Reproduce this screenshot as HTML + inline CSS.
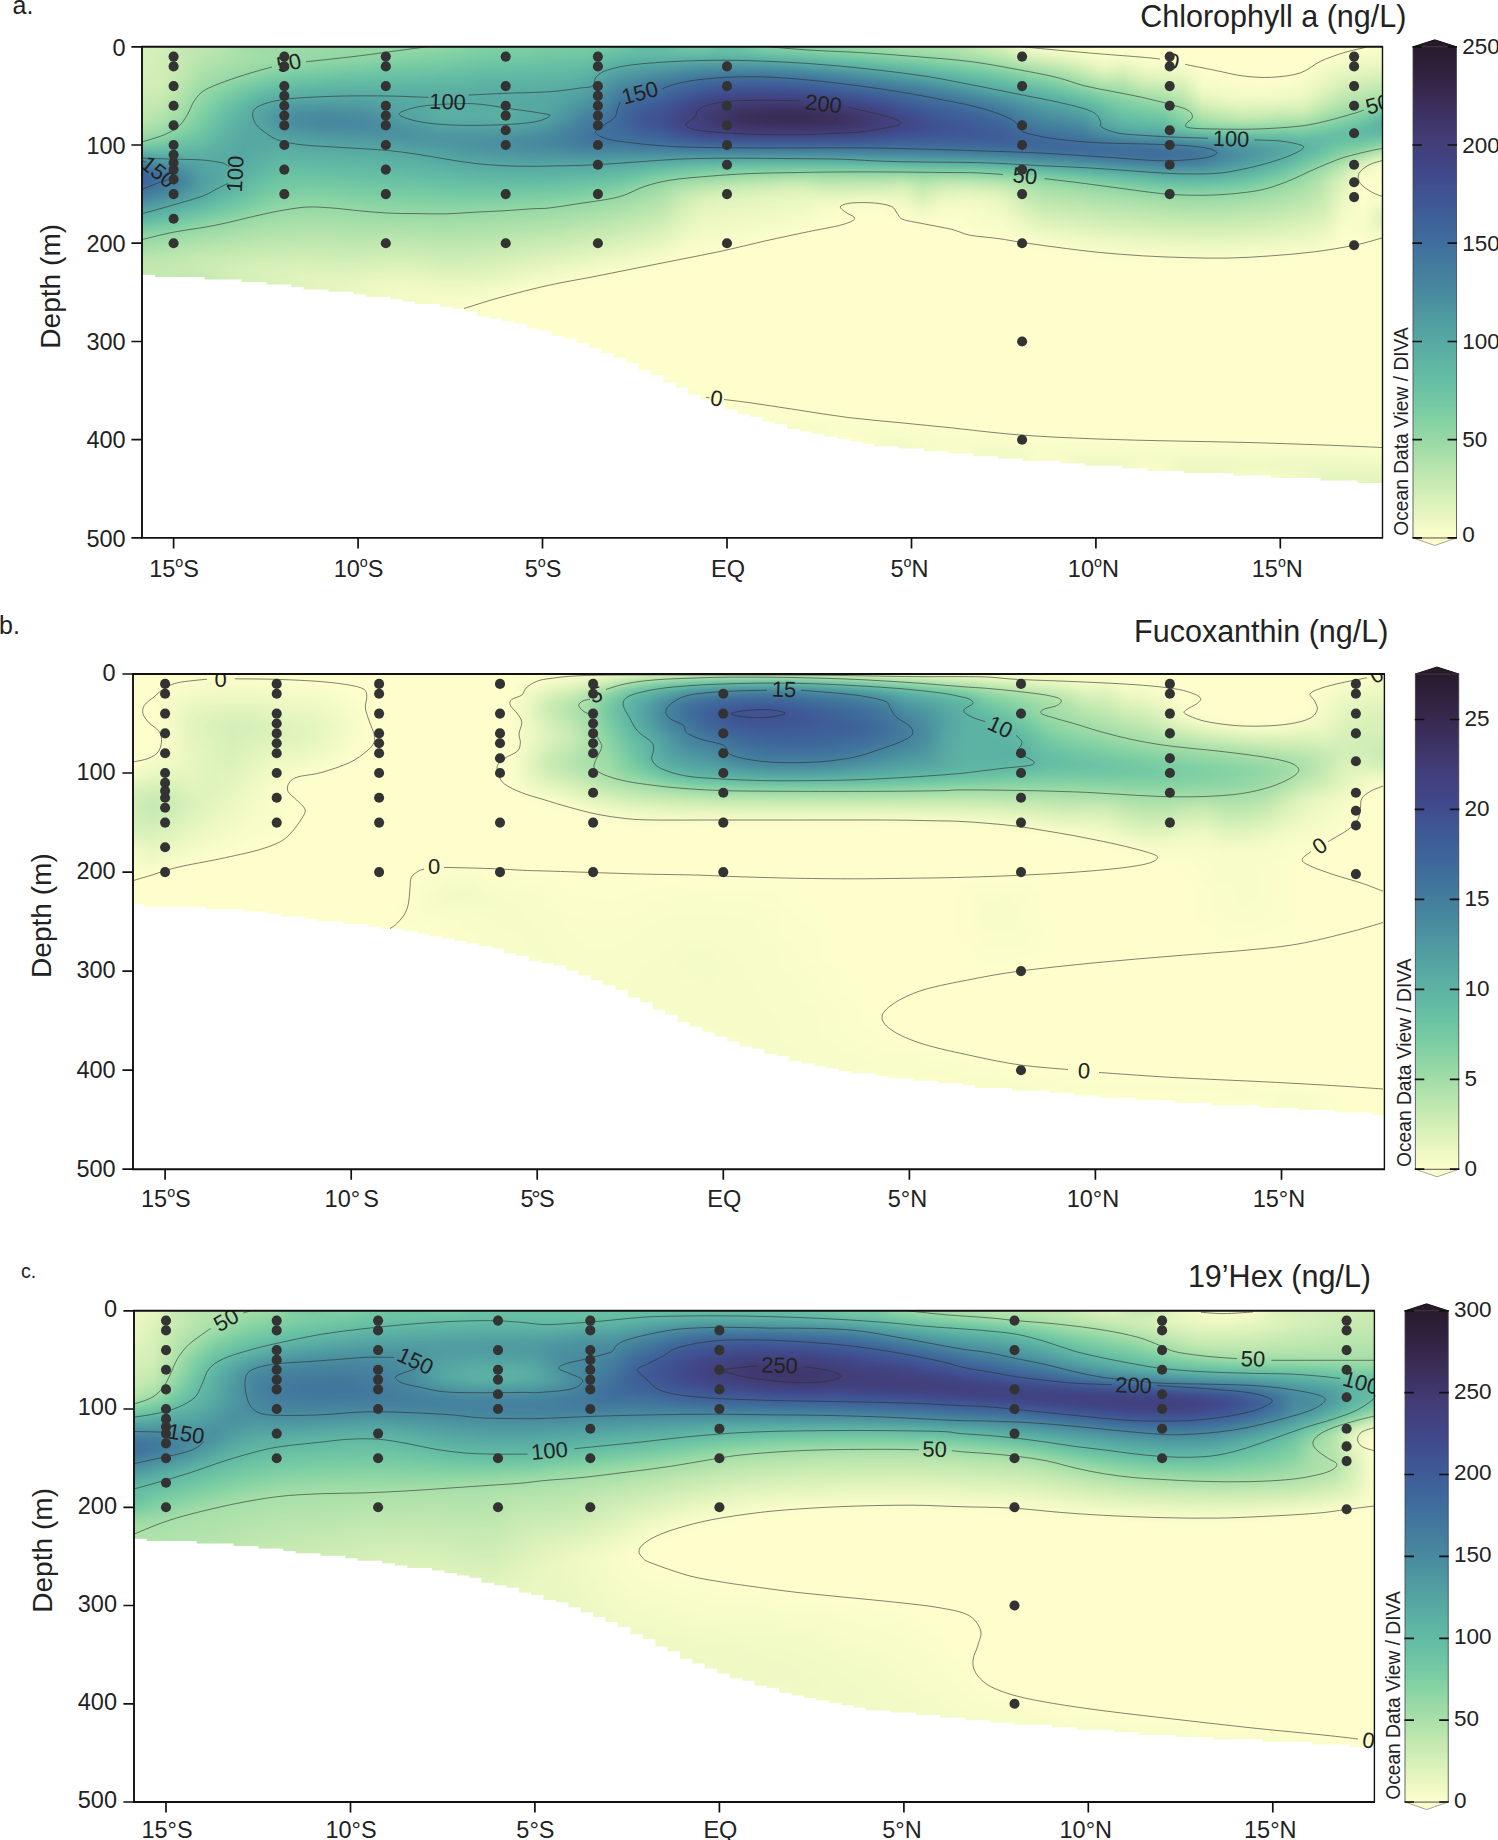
<!DOCTYPE html><html><head><meta charset="utf-8"><title>Section plots</title><style>
html,body{margin:0;padding:0;background:#fff}body{width:1498px;height:1840px;position:relative;overflow:hidden;font-family:"Liberation Sans", sans-serif}
.f{position:absolute;overflow:hidden}.g{position:absolute;left:0;filter:url(#vb)}.g div{height:6px}
svg{position:absolute;left:0;top:0}text{font-family:"Liberation Sans", sans-serif;fill:#222}
.c{fill:none;stroke:#2e2e2e;stroke-width:.6}.ax{stroke:#111;stroke-width:1.7;fill:none}.cl{font-size:22px;text-anchor:middle}.tk{font-size:23.5px}.cbt{font-size:22.5px}.d{fill:#333}
</style></head><body>
<div class="f" style="left:142.0px;top:46.8px;width:1240.5px;height:491.1px;clip-path:polygon(0.0px 0.0px,1240.5px 0.0px,1240.5px 436.1px,1228.1px 436.1px,1228.1px 436.1px,1215.7px 436.1px,1215.7px 433.7px,1203.3px 433.7px,1203.3px 433.7px,1190.9px 433.7px,1190.9px 433.7px,1178.5px 433.7px,1178.5px 431.2px,1166.1px 431.2px,1166.1px 431.2px,1153.7px 431.2px,1153.7px 431.2px,1141.3px 431.2px,1141.3px 431.2px,1128.9px 431.2px,1128.9px 428.8px,1116.5px 428.8px,1116.5px 428.8px,1104.1px 428.8px,1104.1px 428.8px,1091.7px 428.8px,1091.7px 426.3px,1079.3px 426.3px,1079.3px 426.3px,1066.9px 426.3px,1066.9px 426.3px,1054.5px 426.3px,1054.5px 426.3px,1042.1px 426.3px,1042.1px 423.9px,1029.7px 423.9px,1029.7px 423.9px,1017.3px 423.9px,1017.3px 423.9px,1004.9px 423.9px,1004.9px 421.4px,992.5px 421.4px,992.5px 421.4px,980.1px 421.4px,980.1px 419.0px,967.7px 419.0px,967.7px 419.0px,955.3px 419.0px,955.3px 419.0px,942.9px 419.0px,942.9px 416.5px,930.5px 416.5px,930.5px 416.5px,918.1px 416.5px,918.1px 414.1px,905.7px 414.1px,905.7px 414.1px,893.3px 414.1px,893.3px 414.1px,880.9px 414.1px,880.9px 411.6px,868.5px 411.6px,868.5px 411.6px,856.1px 411.6px,856.1px 409.2px,843.7px 409.2px,843.7px 409.2px,831.3px 409.2px,831.3px 406.7px,818.9px 406.7px,818.9px 406.7px,806.5px 406.7px,806.5px 404.3px,794.1px 404.3px,794.1px 404.3px,781.7px 404.3px,781.7px 401.8px,769.3px 401.8px,769.3px 401.8px,756.9px 401.8px,756.9px 399.4px,744.5px 399.4px,744.5px 399.4px,732.1px 399.4px,732.1px 396.9px,719.7px 396.9px,719.7px 394.5px,707.3px 394.5px,707.3px 392.0px,694.9px 392.0px,694.9px 389.6px,682.5px 389.6px,682.5px 387.1px,670.1px 387.1px,670.1px 384.7px,657.7px 384.7px,657.7px 382.2px,645.3px 382.2px,645.3px 377.3px,632.9px 377.3px,632.9px 374.9px,620.5px 374.9px,620.5px 370.0px,608.1px 370.0px,608.1px 367.5px,595.7px 367.5px,595.7px 362.6px,583.3px 362.6px,583.3px 357.7px,570.9px 357.7px,570.9px 352.8px,558.5px 352.8px,558.5px 347.9px,546.1px 347.9px,546.1px 340.6px,533.7px 340.6px,533.7px 335.7px,521.3px 335.7px,521.3px 328.3px,508.9px 328.3px,508.9px 323.4px,496.5px 323.4px,496.5px 316.1px,484.1px 316.1px,484.1px 311.2px,471.7px 311.2px,471.7px 306.2px,459.3px 306.2px,459.3px 301.4px,446.9px 301.4px,446.9px 296.5px,434.5px 296.5px,434.5px 291.6px,422.1px 291.6px,422.1px 289.1px,409.7px 289.1px,409.7px 284.2px,397.3px 284.2px,397.3px 281.8px,384.9px 281.8px,384.9px 276.9px,372.5px 276.9px,372.5px 274.4px,360.1px 274.4px,360.1px 272.0px,347.7px 272.0px,347.7px 269.5px,335.3px 269.5px,335.3px 264.6px,322.9px 264.6px,322.9px 262.2px,310.5px 262.2px,310.5px 259.7px,298.1px 259.7px,298.1px 257.2px,285.7px 257.2px,285.7px 257.2px,273.3px 257.2px,273.3px 254.8px,260.9px 254.8px,260.9px 252.4px,248.5px 252.4px,248.5px 249.9px,236.1px 249.9px,236.1px 249.9px,223.7px 249.9px,223.7px 247.4px,211.3px 247.4px,211.3px 245.0px,198.9px 245.0px,198.9px 245.0px,186.5px 245.0px,186.5px 242.6px,174.1px 242.6px,174.1px 242.6px,161.7px 242.6px,161.7px 240.1px,149.3px 240.1px,149.3px 237.6px,136.9px 237.6px,136.9px 237.6px,124.5px 237.6px,124.5px 235.2px,112.1px 235.2px,112.1px 235.2px,99.7px 235.2px,99.7px 232.8px,87.3px 232.8px,87.3px 232.8px,74.9px 232.8px,74.9px 232.8px,62.5px 232.8px,62.5px 230.3px,50.1px 230.3px,50.1px 230.3px,37.7px 230.3px,37.7px 230.3px,25.3px 230.3px,25.3px 230.3px,12.9px 230.3px,12.9px 227.9px,0.5px 227.9px,0.5px 227.9px,0.0px 227.9px)">
<div class="g" style="top:-18px;width:1240.5px">
<div style="background:linear-gradient(90deg,#d8f0b9,#d7f0b9,#bbe6ae,#bbe6ae,#bae6ae,#9adaa6,#96d9a5,#9fdca7,#a1dca7,#9adaa6,#98d9a5,#98d9a6,#98d9a6,#99d9a6,#99daa6,#99daa6,#91d7a5,#84d1a4,#84d2a4,#84d2a4,#7fd0a3,#79cca3,#79cca3,#7acda3,#68c0a4,#56a9a3,#56a9a3,#6cc3a4,#82d1a3,#5fb5a4,#62baa4,#9ddba6,#9cdba6,#9bdaa6,#9bdaa6,#9adaa6,#9adaa6,#9edba6,#afe2ab,#9cdba6,#99d9a6,#99d9a6,#cdecb5,#e1f4bc,#fdfecc,#fdfecc,#fdfecc,#fdfecc,#fdfecc,#fdfecc,#fdfecc,#fdfecc,#fdfecc,#fdfecc,#fdfecc,#fdfecc,#fdfecc,#fdfecc,#fdfecc,#fdfecc,#fdfecc,#fdfecc,#fafdca)"></div>
<div style="background:linear-gradient(90deg,#d8f0b9,#d6f0b8,#bde7af,#bbe6ae,#bae5ae,#9cdba6,#99d9a6,#9fdca7,#a0dca7,#9adaa6,#98d9a6,#98d9a6,#98d9a6,#98d9a5,#97d9a5,#96d9a5,#8fd6a5,#83d1a4,#83d1a4,#82d1a3,#7dcfa3,#79cca3,#79cca3,#79cca3,#6ac2a4,#5bb0a3,#5bb0a3,#6ec5a4,#7ecfa3,#62baa4,#65bea4,#95d8a5,#97d9a5,#98d9a6,#99d9a6,#99daa6,#9bdaa6,#9fdca7,#afe1ab,#a1dca7,#a0dca7,#a3dda8,#ccecb4,#def3bc,#fbfdcb,#fdfecc,#fdfecc,#fdfecc,#fdfecc,#fdfecc,#fdfecc,#fdfecc,#fdfecc,#fdfecc,#fdfecc,#fdfecc,#fdfecc,#fdfecc,#fdfecc,#fdfecc,#fdfecc,#fdfecc,#f9fcca)"></div>
<div style="background:linear-gradient(90deg,#d8f0b9,#d5efb8,#bfe7af,#bce6af,#b9e5ae,#9fdca7,#9bdaa6,#9fdca7,#9fdca7,#9adaa6,#98d9a6,#98d9a6,#97d9a5,#96d8a5,#95d8a5,#93d7a5,#8cd5a4,#83d1a4,#81d0a3,#80d0a3,#7ccea3,#79cca3,#79cca3,#78cba3,#6dc3a4,#61b8a4,#61b8a4,#70c6a4,#7acda3,#66bea4,#6ac2a4,#8cd5a4,#90d6a5,#93d7a5,#96d8a5,#98d9a6,#9bdaa6,#a0dca7,#ade1aa,#a6dea8,#a9dfa9,#ade1aa,#cbecb4,#dbf1ba,#f6fbc8,#fafdca,#fbfdcb,#fcfecc,#fdfecc,#fdfecc,#fdfecc,#fdfecc,#fdfecc,#fdfecc,#fdfecc,#fdfecc,#fdfecc,#fdfecc,#fdfecc,#fdfecc,#fdfecc,#fcfecb,#f8fcc9)"></div>
<div style="background:linear-gradient(90deg,#d7f0b9,#d3eeb7,#c2e9b1,#bce6af,#b7e4ad,#a5dea8,#a0dca7,#9fdca7,#9edba6,#9adaa6,#98d9a5,#97d9a5,#95d8a5,#92d7a5,#8fd6a5,#8cd4a4,#85d2a4,#7ed0a3,#7ccea3,#7bcda3,#79cca3,#77cba3,#76caa3,#72c7a3,#6bc2a4,#65bda4,#65bea4,#6cc3a4,#6fc5a4,#67c0a4,#6bc2a4,#79cca3,#7dcfa3,#83d1a4,#89d4a4,#8ed5a5,#93d7a5,#9adaa6,#a3dda8,#a5dea8,#ace0aa,#b2e3ac,#c3e9b1,#d1eeb6,#ebf7c2,#f1fac6,#f6fbc8,#f9fdca,#fcfecc,#fcfecc,#fdfecc,#fdfecc,#fdfecc,#fdfecc,#fdfecc,#fdfecc,#fdfecc,#fdfecc,#fdfecc,#fdfecc,#fcfecb,#fafdca,#f6fbc8)"></div>
<div style="background:linear-gradient(90deg,#d7f0b9,#d1eeb6,#c5e9b1,#bae5ae,#b2e3ac,#a8dfa9,#a2dda7,#9ddba6,#9adaa6,#97d9a5,#94d7a5,#91d6a5,#8dd5a4,#89d4a4,#85d2a4,#81d1a3,#7ccea3,#78cca3,#76caa3,#75c9a3,#73c8a3,#71c7a3,#70c6a4,#69c1a4,#63bba4,#61b9a4,#61b8a4,#61b8a4,#60b7a4,#5fb6a4,#61b8a4,#63bca4,#67bfa4,#6cc3a4,#72c7a3,#77cba3,#7ccfa3,#85d2a4,#8ed5a5,#95d8a5,#9edba6,#a7dfa9,#b2e3ac,#c0e8b0,#d7f0b9,#e2f4bd,#eaf7c1,#f2fac6,#f9fdca,#f8fcc9,#fbfdcb,#fdfecc,#fdfecc,#fdfecc,#fdfecc,#fdfecc,#fdfecc,#fdfecc,#fdfecc,#fdfecc,#f8fcc9,#f5fbc8,#f3fac7)"></div>
<div style="background:linear-gradient(90deg,#d7f0b9,#d0eeb6,#c5e9b2,#b5e4ad,#ade1aa,#a5dea8,#9edba6,#97d9a5,#92d7a5,#8ed5a5,#8ad4a4,#86d2a4,#81d0a3,#7dcfa3,#7acda3,#78cca3,#75c9a3,#71c7a3,#6fc5a4,#6ec4a4,#6cc3a4,#6ac2a4,#68c0a4,#61b9a4,#5cb1a3,#59aea3,#58aca3,#56a9a3,#55a6a3,#54a5a2,#54a5a3,#55a8a3,#58aba3,#5bafa3,#5eb5a4,#62baa4,#66bfa4,#6ec4a4,#75c9a3,#7bcea3,#86d2a4,#90d6a5,#9bdaa6,#aae0aa,#bfe7b0,#ccecb4,#d7f0b9,#e5f5bf,#f3fac7,#eef9c4,#f6fcc8,#f9fdca,#fbfdcb,#fdfecc,#fdfecc,#fdfecc,#fdfecc,#fdfecc,#fdfecc,#fafdca,#f3fac6,#eff9c4,#eef9c4)"></div>
<div style="background:linear-gradient(90deg,#d6f0b8,#d0eeb6,#c4e9b1,#b0e2ab,#a6dea9,#9fdca7,#96d8a5,#8cd5a4,#86d2a4,#80d0a3,#7ccea3,#79cca3,#76caa3,#74c9a3,#72c7a3,#70c6a4,#6dc4a4,#6ac1a4,#68c0a4,#67bfa4,#65bea4,#64bda4,#63bba4,#5bb1a3,#55a8a3,#53a1a2,#519da1,#4e97a1,#4c92a0,#4b90a0,#4a8fa0,#4b90a0,#4c94a0,#4e98a1,#519fa2,#55a6a3,#58aca3,#5db3a3,#62b9a4,#67bfa4,#70c6a4,#78cca3,#83d1a4,#92d7a5,#a4dea8,#b4e3ac,#c2e8b0,#d4efb8,#e9f6c1,#e1f4bd,#eff9c4,#f2fac6,#f5fbc7,#fdfecc,#fdfecc,#fdfecc,#fdfecc,#fdfecc,#fdfecc,#f5fbc8,#ecf8c2,#e8f6c0,#e7f6c0)"></div>
<div style="background:linear-gradient(90deg,#d5efb8,#d1eeb6,#c2e8b0,#aae0aa,#a0dca7,#96d8a5,#89d4a4,#7dcfa3,#78cca3,#75c9a3,#72c7a3,#6fc5a4,#6dc4a4,#6bc2a4,#6ac1a4,#68c0a4,#66bea4,#64bca4,#63bba4,#62baa4,#61b9a4,#60b8a4,#5eb5a4,#56a9a3,#509da1,#4d95a0,#4a8ea0,#46869e,#44809e,#437c9d,#437b9d,#437b9d,#447e9e,#45829e,#47889f,#4a8fa0,#4e97a1,#529fa2,#56a8a3,#5aafa3,#60b7a4,#66bfa4,#70c6a4,#7acda3,#89d4a4,#9adaa6,#abe0aa,#c2e8b0,#d8f0b9,#d1eeb6,#e5f5be,#e9f7c1,#ecf8c2,#fafdcb,#fcfecc,#fdfecc,#fdfecc,#fdfecc,#fbfdcb,#f0f9c5,#e5f5be,#e0f3bc,#ddf2bb)"></div>
<div style="background:linear-gradient(90deg,#d3efb7,#d0eeb6,#bee7af,#a5dea8,#98d9a6,#8ad4a4,#7acda3,#72c7a3,#6dc4a4,#69c1a4,#67bfa4,#65bea4,#64bda4,#64bca4,#63bba4,#62baa4,#61b9a4,#60b6a4,#5fb5a4,#5eb5a4,#5eb4a4,#5db2a3,#5aafa3,#53a1a2,#4b92a0,#48899f,#45819e,#42779d,#40709c,#3f6c9c,#3e699b,#3f699b,#3f6c9c,#406f9c,#41759d,#437c9d,#46839e,#488b9f,#4d94a0,#519da1,#55a8a3,#5bb0a3,#61b9a4,#69c1a4,#74c9a3,#81d0a3,#93d7a5,#abe0aa,#c2e9b1,#c1e8b0,#d7f0b9,#dcf2bb,#e1f4bd,#f8fcc9,#fafdca,#fbfdcb,#fcfdcb,#fbfdcb,#f8fcc9,#ebf7c2,#ddf2bb,#d7f0b9,#d1eeb6)"></div>
<div style="background:linear-gradient(90deg,#d1eeb6,#cfedb5,#b9e5ae,#9fdca7,#8ed6a5,#7ccea3,#6fc5a4,#66bfa4,#63bba4,#61b9a4,#60b7a4,#60b6a4,#5fb6a4,#5fb5a4,#5fb5a4,#5eb4a4,#5db3a3,#5cb1a3,#5bb0a3,#5bb0a3,#5aafa3,#59ada3,#56a9a3,#4f9aa1,#47879f,#447e9e,#41759d,#3f6a9b,#3e6299,#3f5d98,#3f5b97,#3f5b97,#3f5c97,#3e5f98,#3e649a,#3f6a9b,#40729c,#42799d,#45829e,#488b9f,#4d96a0,#52a1a2,#58aba3,#5eb4a4,#64bda4,#6fc5a4,#7bcea3,#93d7a5,#a8dfa9,#afe1ab,#c6eab2,#cdecb5,#d6efb8,#f4fbc7,#f7fcc9,#f9fcca,#f9fdca,#f8fcc9,#f4fbc7,#e6f5bf,#d4efb8,#ccecb4,#c6eab2)"></div>
<div style="background:linear-gradient(90deg,#ceedb5,#ccecb4,#b4e3ac,#98d9a6,#83d1a4,#72c7a3,#64bda4,#5fb6a4,#5db2a3,#5bb0a3,#5aafa3,#5aafa3,#5aafa3,#5bafa3,#5bb0a3,#5aafa3,#5aaea3,#59ada3,#58aca3,#58aca3,#58aba3,#56a9a3,#53a3a2,#4c93a0,#447e9e,#41749c,#3f6b9b,#3e6099,#3f5795,#405090,#404d8e,#404d8d,#404e8e,#405090,#3f5695,#3f5b97,#3e6299,#3f6a9b,#40729c,#437b9d,#46849e,#4a8fa0,#509ba1,#55a7a3,#5bb0a3,#61b9a4,#6bc2a4,#7acda3,#8fd6a5,#9cdba6,#b1e2ac,#bbe6ae,#c9ebb3,#eef9c4,#f3fac7,#f6fbc8,#f6fbc8,#f4fbc7,#f0f9c5,#dff3bc,#caebb4,#c0e8b0,#b7e4ad)"></div>
<div style="background:linear-gradient(90deg,#c9ebb3,#c7eab2,#aee1ab,#91d7a5,#79cca3,#69c1a4,#5eb4a4,#58aca3,#56a9a3,#55a7a3,#55a6a3,#55a7a3,#56a8a3,#58aba3,#58aca3,#58aca3,#58aca3,#57aba3,#57aaa3,#57aaa3,#56a9a3,#54a5a2,#509ca1,#498d9f,#41769d,#3f6b9b,#3e6299,#3f5795,#404b8c,#414586,#414382,#414281,#414281,#414483,#414789,#404d8e,#3f5594,#3f5d97,#3e659a,#3f6e9c,#41769d,#447f9e,#488a9f,#4e97a1,#53a3a2,#59ada3,#5fb6a4,#69c1a4,#79cca3,#8bd4a4,#9bdaa6,#a8dfa9,#bce6af,#e5f5bf,#ecf8c3,#f0f9c5,#f0f9c5,#eef8c3,#eaf7c1,#d5efb8,#bee7af,#b3e3ac,#a6dea9)"></div>
<div style="background:linear-gradient(90deg,#c6eab2,#c1e8b0,#a8dfa9,#8ad4a4,#72c8a3,#63bba4,#58aca3,#53a2a2,#519ea2,#509ca1,#509ca1,#519ea2,#53a2a2,#56a9a3,#57aaa3,#58aca3,#59ada3,#58aba3,#58aca3,#56a9a3,#56a9a3,#52a1a2,#4d95a0,#47869f,#406f9c,#3e639a,#3f5a96,#404f8f,#414483,#423f7a,#413b74,#413a71,#413a71,#413b73,#423f7a,#414281,#414789,#405090,#3f5a96,#3e639a,#3f6a9b,#40729c,#437c9d,#47889f,#4d96a1,#53a2a2,#57aaa3,#5eb4a4,#6ac2a4,#7ccea3,#87d3a4,#94d8a5,#ace0aa,#d6f0b8,#e1f4bd,#e7f6c0,#e6f5bf,#e3f4be,#e1f4bd,#c8ebb3,#b2e2ac,#a4dda8,#93d7a5)"></div>
<div style="background:linear-gradient(90deg,#c4e9b1,#bae5ae,#a2dda7,#83d1a4,#6dc4a4,#5fb6a4,#55a6a3,#4e98a1,#4c94a0,#4b91a0,#4c92a0,#4d95a0,#509ba1,#55a7a3,#56a9a3,#5aafa3,#5aafa3,#59ada3,#5aafa3,#57aaa3,#56a8a3,#509da1,#4a8ea0,#44809e,#3f6a9b,#3f5c97,#3f5392,#41488a,#423f7b,#40396f,#3e3364,#3d3161,#3c305e,#3d3160,#3e3568,#403970,#42407c,#414587,#405090,#3f5a97,#3e6299,#3e689b,#40709c,#437c9d,#488a9f,#4e97a1,#519fa2,#56a9a3,#61b9a4,#71c7a3,#78cca3,#81d1a3,#9cdba6,#c5eab2,#d1eeb6,#daf1ba,#d7f0b9,#d3efb7,#d4efb7,#bae5ae,#a4dda8,#92d7a5,#7acda3)"></div>
<div style="background:linear-gradient(90deg,#c1e8b0,#b2e3ac,#9cdaa6,#7dcfa3,#68c0a4,#5cb1a3,#53a2a2,#4b91a0,#498c9f,#48899f,#488a9f,#4a8e9f,#4d94a0,#53a3a2,#56a8a3,#5aafa3,#5aafa3,#59ada3,#5cb1a3,#57aaa3,#55a6a3,#4e97a1,#47879f,#427a9d,#3e689b,#3f5896,#404f8f,#414485,#423d77,#3f3568,#3b2e5b,#3a2c57,#382b53,#392b54,#3b2e5a,#3d3161,#40396f,#42407d,#414789,#3f5392,#3f5b97,#3e6199,#3e679b,#40719c,#45819e,#498d9f,#4d94a0,#509da1,#5cb1a3,#67c0a4,#6dc4a4,#74c9a3,#8fd6a5,#b3e3ac,#c0e7b0,#c9ebb3,#c6eab2,#c1e8b0,#c1e8b0,#a8dfa9,#93d7a5,#7dcfa3,#66bea4)"></div>
<div style="background:linear-gradient(90deg,#bae6ae,#aae0aa,#94d7a5,#78cca3,#64bda4,#5aaea3,#53a2a2,#4b91a0,#488b9f,#47889f,#47879f,#48899f,#4a8ea0,#4f9ba1,#53a3a2,#57aaa3,#57aba3,#56a9a3,#59ada3,#55a6a3,#52a1a2,#4b91a0,#45819e,#41749c,#3e689b,#3f5896,#405090,#414484,#423d77,#3f366a,#3c305e,#3b2d59,#392c56,#392c56,#3b2e5a,#3c305f,#3f366a,#423e79,#414485,#404d8e,#3f5594,#3f5b97,#3e6199,#3e699b,#42789d,#46849e,#488a9f,#4b92a0,#56a9a3,#60b7a4,#63bca4,#68c0a4,#80d0a3,#9fdca6,#aae0aa,#b2e3ac,#afe2ab,#a9dfa9,#a7dfa9,#93d7a5,#7dcfa3,#6dc4a4,#5db3a3)"></div>
<div style="background:linear-gradient(90deg,#aee1ab,#a1dca7,#89d4a4,#73c8a3,#62b9a4,#58aca3,#54a5a2,#4e96a1,#4b90a0,#498c9f,#488b9f,#488b9f,#498d9f,#4c93a0,#4f9aa1,#52a1a2,#53a2a2,#53a2a2,#53a3a2,#519ea2,#4e98a1,#488a9f,#437c9d,#40719c,#3e699b,#3f5c97,#3f5594,#414889,#42407d,#423c75,#40376c,#3f3568,#3e3466,#3e3466,#3f3568,#3f376c,#413b74,#42417e,#414688,#404c8d,#3f5392,#3f5795,#3f5c97,#3e6299,#40709c,#427a9d,#45809e,#47879f,#519ea2,#59ada3,#5cb2a3,#5fb6a4,#70c6a4,#82d1a3,#8bd4a4,#90d6a5,#8fd6a5,#8bd4a4,#89d4a4,#7bcda3,#6ec4a4,#63bba4,#5cb1a3)"></div>
<div style="background:linear-gradient(90deg,#a0dca7,#94d8a5,#7ccfa3,#6dc4a4,#5fb6a4,#57aaa3,#55a7a3,#519ea2,#4f99a1,#4d95a0,#4c93a0,#4b92a0,#4b91a0,#4b91a0,#4c94a0,#4e98a1,#4e98a1,#4e98a1,#4e97a1,#4c94a0,#4a8ea0,#46859e,#42789d,#40709c,#3f6c9c,#3e639a,#3f5d98,#405191,#414789,#414484,#42417f,#42407d,#42407c,#42407c,#42417e,#414280,#414484,#41488a,#404f8f,#3f5392,#3f5695,#3f5896,#3f5a96,#3f5e98,#3e689b,#40719c,#41769d,#437c9d,#498d9f,#509ca1,#53a2a2,#55a6a3,#5db3a3,#64bca4,#6ac1a4,#6dc4a4,#6fc5a4,#6fc5a4,#71c6a4,#6bc2a4,#65bea4,#62baa4,#62baa4)"></div>
<div style="background:linear-gradient(90deg,#8fd6a5,#81d0a3,#72c7a3,#67bfa4,#5db2a3,#56aaa3,#56a9a3,#55a6a3,#53a1a2,#519ea2,#509ca1,#509ba1,#4f99a1,#4e96a1,#4d95a0,#4d94a0,#4c93a0,#4b92a0,#4b90a0,#498c9f,#47889f,#45829e,#42799d,#41739c,#40729c,#3f6b9b,#3e679b,#3f5e98,#3f5896,#3f5494,#405291,#405090,#404f90,#404f90,#405191,#3f5292,#3f5494,#3f5896,#3f5b97,#3f5d97,#3f5e98,#3f5e98,#3f5d98,#3f5e98,#3e639a,#3e689b,#3f6d9c,#40729c,#437b9d,#46849e,#48899f,#4a8ea0,#4e97a1,#529fa2,#56aaa3,#5aaea3,#5cb1a3,#5eb4a4,#62baa4,#63bba4,#67bfa4,#69c1a4,#74c8a3)"></div>
<div style="background:linear-gradient(90deg,#77cba3,#70c6a4,#66bfa4,#62baa4,#5aafa3,#56a9a3,#57aaa3,#58aca3,#56a9a3,#55a7a3,#54a5a2,#54a3a2,#53a2a2,#519fa2,#509ba1,#4e98a1,#4d95a0,#4c92a0,#4a8fa0,#498c9f,#48899f,#46859e,#447f9e,#437c9d,#437c9d,#42779d,#41759d,#40709c,#3f6c9c,#3f6a9b,#3e699b,#3e689b,#3e679b,#3e679b,#3e689b,#3e689b,#3e699b,#3f6a9b,#3f6b9b,#3f6b9b,#3f6a9b,#3e699b,#3e679b,#3e669b,#3e669b,#3e679b,#3e689b,#3f6a9b,#406e9c,#40729c,#41759d,#42789d,#437c9d,#46839e,#4c92a0,#4f9aa1,#53a2a2,#56a9a3,#5db2a3,#63bca4,#72c7a3,#7acda3,#92d7a5)"></div>
<div style="background:linear-gradient(90deg,#60b7a4,#61b8a4,#5fb5a4,#5db3a3,#59ada3,#56a9a3,#58aca3,#5bb0a3,#5aafa3,#59ada3,#58aca3,#57aba3,#56aaa3,#55a7a3,#53a3a2,#529fa2,#509ba1,#4e98a1,#4d95a0,#4c92a0,#4b90a0,#4a8d9f,#488a9f,#48899f,#48899f,#47889f,#47879f,#46869e,#46859e,#46859e,#46849e,#46839e,#46839e,#45839e,#45839e,#45829e,#45819e,#447f9e,#447f9e,#447d9e,#437c9d,#437a9d,#42789d,#41769d,#41739c,#40709c,#406e9c,#3f6d9c,#3f6c9c,#3f6c9c,#3f6c9c,#3f6d9c,#40709c,#41769d,#47869f,#4b91a0,#509ba1,#55a6a3,#5eb4a4,#6bc2a4,#81d1a3,#98d9a6,#bae6ae)"></div>
<div style="background:linear-gradient(90deg,#4f9ba1,#55a6a3,#57aba3,#59ada3,#57aba3,#57aaa3,#5aafa3,#5fb5a4,#5eb4a4,#5db3a3,#5cb2a3,#5bb1a3,#5aafa3,#59ada3,#57aba3,#55a7a3,#53a3a2,#52a0a2,#519da2,#509ba1,#4f9aa1,#4f99a1,#4e97a1,#4e98a1,#4f9aa1,#4f9ba1,#509da1,#519fa2,#52a0a2,#53a2a2,#53a2a2,#53a2a2,#53a2a2,#53a1a2,#52a1a2,#52a0a2,#519da1,#4f9ba1,#4f99a1,#4e97a1,#4d95a0,#4c93a0,#4b91a0,#498d9f,#48899f,#46849e,#45809e,#437c9d,#42789d,#41759d,#40729c,#40719c,#41739c,#42789d,#47879f,#4d94a0,#52a0a2,#58aca3,#63bca4,#79cca3,#98d9a6,#bce6ae,#e0f3bc)"></div>
<div style="background:linear-gradient(90deg,#437c9d,#4a8fa0,#519ea2,#55a7a3,#56aaa3,#58aba3,#5db3a3,#62baa4,#61b9a4,#61b8a4,#60b7a4,#5fb6a4,#5eb4a4,#5db3a3,#5bb1a3,#59aea3,#57aba3,#56a8a3,#55a6a3,#54a5a2,#54a4a2,#54a4a2,#54a4a2,#55a6a3,#56a9a3,#58aca3,#5bb0a3,#5eb4a4,#60b6a4,#61b9a4,#62baa4,#63bba4,#63bba4,#63bba4,#63bba4,#62baa4,#61b8a4,#5fb6a4,#5eb5a4,#5db3a3,#5cb2a3,#5cb1a3,#5aaea3,#57aba3,#54a5a3,#529fa2,#4f9aa1,#4d95a0,#4a8fa0,#48899f,#46849e,#45819e,#45819e,#46859e,#4c92a0,#519ea2,#57aaa3,#5fb6a4,#71c6a4,#8dd5a4,#b0e2ab,#daf1ba,#f5fbc8)"></div>
<div style="background:linear-gradient(90deg,#3e669b,#437b9d,#4b91a0,#53a3a2,#56a9a3,#5aaea3,#60b7a4,#65bea4,#65bea4,#64bda4,#64bca4,#63bba4,#62baa4,#61b8a4,#5fb6a4,#5eb4a4,#5cb1a3,#5aafa3,#59aea3,#59ada3,#59ada3,#5aaea3,#5aafa3,#5cb1a3,#5eb4a4,#62baa4,#67c0a4,#6ec4a4,#72c8a3,#76caa3,#79cca3,#7bcea3,#7dcfa3,#7ecfa3,#7dcfa3,#7dcfa3,#7bcea3,#7acda3,#7acda3,#77cba3,#77caa3,#75caa3,#72c8a3,#6dc4a4,#66bfa4,#61b9a4,#5eb4a4,#5aafa3,#56a9a3,#53a3a2,#509da1,#4e98a1,#4e97a1,#4f99a1,#53a2a2,#58aca3,#5fb5a4,#6ac2a4,#80d0a3,#a1dca7,#c4e9b1,#eef8c4,#fdfecc)"></div>
<div style="background:linear-gradient(90deg,#3e5f98,#40719c,#47889f,#529fa2,#56aaa3,#5db2a3,#63bca4,#6bc2a4,#6bc3a4,#6bc2a4,#69c1a4,#67c0a4,#66bfa4,#64bda4,#63bba4,#62b9a4,#60b7a4,#5fb6a4,#5eb5a4,#5eb5a4,#5fb5a4,#5fb6a4,#61b8a4,#62baa4,#66bea4,#70c6a4,#7acda3,#84d2a4,#8cd5a4,#93d7a5,#99daa6,#9ddba6,#a1dca7,#a3dda8,#9fdca7,#9fdca6,#9edba6,#9edca6,#a2dda7,#9adaa6,#9ddba6,#9cdba6,#98d9a6,#91d6a5,#85d2a4,#79cca3,#72c8a3,#6cc3a4,#65bda4,#61b8a4,#5db3a3,#5aaea3,#59ada3,#59ada3,#5cb1a3,#61b8a4,#6ac1a4,#7acda3,#93d7a5,#afe2ab,#d2eeb7,#f7fcc9,#fdfecc)"></div>
<div style="background:linear-gradient(90deg,#3e649a,#40729c,#46859e,#519ea2,#57aba3,#5fb6a4,#68c0a4,#71c7a3,#72c7a3,#71c7a3,#70c6a4,#6ec4a4,#6cc3a4,#6bc2a4,#69c1a4,#66bfa4,#65bea4,#64bca4,#63bca4,#64bca4,#64bda4,#65bea4,#68c0a4,#6cc3a4,#72c7a3,#7fd0a3,#8fd6a5,#9ddba6,#a6dea8,#ade1ab,#b5e4ad,#b9e5ae,#bfe7af,#c1e8b0,#bae5ae,#b9e5ae,#b9e5ae,#bbe6ae,#c1e8b0,#b3e3ac,#bce6af,#bde7af,#b8e5ae,#b2e3ac,#a4dea8,#95d8a5,#8cd5a4,#84d1a4,#7acda3,#73c8a3,#6dc3a4,#67bfa4,#64bda4,#64bda4,#67c0a4,#6fc5a4,#79cca3,#8cd5a4,#9fdca7,#b9e5ae,#dcf2bb,#fbfdcb,#fdfecc)"></div>
<div style="background:linear-gradient(90deg,#3f6d9c,#437b9d,#488b9f,#52a0a2,#5aaea3,#62baa4,#6ec4a4,#77cba3,#78cca3,#78cba3,#77caa3,#75c9a3,#73c8a3,#71c7a3,#70c6a4,#6ec4a4,#6cc3a4,#6cc3a4,#6bc2a4,#6cc3a4,#6dc4a4,#6fc5a4,#73c8a3,#77cba3,#7fd0a3,#91d6a5,#9fdca6,#b1e2ac,#bce6af,#c3e9b1,#cbecb4,#cfedb6,#d4efb7,#d6f0b8,#cfedb5,#cdecb5,#cfedb5,#d0edb6,#d6f0b8,#c3e9b1,#d1eeb6,#d5efb8,#d0eeb6,#caebb4,#b8e5ad,#a6dea8,#a0dca7,#9adaa6,#92d7a5,#8ad4a4,#81d0a3,#7acda3,#77cba3,#77caa3,#79cca3,#80d0a3,#8dd5a4,#9cdba6,#a9dfa9,#bfe7af,#e2f4bd,#fcfdcb,#fdfecc)"></div>
<div style="background:linear-gradient(90deg,#42789d,#47879f,#4d96a1,#55a6a3,#5eb4a4,#66bfa4,#74c9a3,#7dcfa3,#80d0a3,#80d0a3,#7dcfa3,#7bcea3,#7acda3,#78cca3,#77cba3,#75c9a3,#74c9a3,#74c9a3,#74c9a3,#75caa3,#77caa3,#79cca3,#7ecfa3,#84d2a4,#8fd6a5,#9edba6,#a9e0a9,#c0e8b0,#ceedb5,#d4efb7,#daf1ba,#ddf2bb,#e1f4bd,#e3f5be,#e0f3bc,#dff3bc,#e2f4bd,#e3f4bd,#e5f5bf,#cfedb6,#e1f4bd,#e6f5bf,#e2f4bd,#dcf2ba,#c4e9b1,#b1e2ac,#ade1aa,#a8dfa9,#a3dda8,#9ddba6,#97d9a5,#90d6a5,#8cd5a4,#8cd4a4,#8ed5a5,#94d8a5,#9cdba6,#a7dfa9,#b1e2ac,#c4e9b1,#e7f6c0,#fcfecb,#fcfecb)"></div>
<div style="background:linear-gradient(90deg,#47889f,#4d95a0,#53a3a2,#5aafa3,#63bba4,#6ec4a4,#7bcda3,#87d3a4,#8ad4a4,#8ad4a4,#88d3a4,#84d2a4,#82d1a3,#80d0a3,#7ecfa3,#7dcfa3,#7ccfa3,#7dcfa3,#7ecfa3,#80d0a3,#82d1a3,#86d3a4,#8dd5a4,#93d7a5,#9cdba6,#a7dfa9,#b2e3ac,#c9ebb3,#daf1ba,#dff3bc,#e2f4bd,#e5f5bf,#e7f6c0,#eaf7c1,#ecf8c3,#edf8c3,#f0f9c5,#f0f9c5,#eef8c3,#dbf1ba,#ebf8c2,#eff9c4,#ecf8c3,#e6f6bf,#cdecb5,#bbe6ae,#b7e4ad,#b3e3ac,#aee1ab,#aae0aa,#a5dea8,#a1dca7,#9edba6,#9ddba6,#9fdca7,#a3dda8,#a8dfa9,#b0e2ab,#b9e5ae,#c9ebb3,#eaf7c2,#fcfdcb,#f6fcc8)"></div>
<div style="background:linear-gradient(90deg,#509ba1,#53a3a2,#5aafa3,#61b9a4,#6cc3a4,#77cba3,#84d2a4,#90d6a5,#93d7a5,#93d7a5,#91d7a5,#8ed6a5,#8cd5a4,#8ad4a4,#89d4a4,#88d3a4,#88d3a4,#89d4a4,#8bd4a4,#8dd5a5,#90d6a5,#94d8a5,#99daa6,#9fdca7,#a6dea9,#b0e2ab,#bae5ae,#d0eeb6,#e2f4bd,#e5f5bf,#e7f6c0,#e9f7c1,#ebf7c2,#eef8c4,#f3fac6,#f7fcc9,#f9fcca,#f9fcca,#f4fbc7,#e6f6bf,#f3fac6,#f5fbc7,#f1fac5,#ecf8c3,#d5efb8,#c5e9b1,#c1e8b0,#bde6af,#b8e5ae,#b4e3ad,#b1e2ab,#ade1aa,#abe0aa,#aae0aa,#abe0aa,#aee1ab,#b3e3ac,#bae5ae,#c1e8b0,#ceedb5,#eef8c4,#fbfdcb,#edf8c3)"></div>
<div style="background:linear-gradient(90deg,#56a8a3,#5bb0a3,#62baa4,#6bc2a4,#77cba3,#83d1a4,#90d6a5,#98d9a6,#9bdaa6,#9cdba6,#9adaa6,#97d9a5,#95d8a5,#94d8a5,#93d7a5,#92d7a5,#93d7a5,#95d8a5,#97d9a5,#99d9a6,#9bdaa6,#9fdca7,#a4dda8,#a9dfa9,#afe2ab,#b8e5ad,#c1e8b0,#d7f0b9,#e6f6bf,#e9f6c1,#eaf7c2,#edf8c3,#eff9c4,#f1fac5,#f7fcc9,#fbfdcb,#fcfecc,#fcfecb,#f8fcc9,#f0f9c5,#f8fcc9,#f8fcc9,#f4fbc7,#f0f9c5,#def2bb,#ceedb5,#caebb3,#c6eab2,#c2e8b1,#bfe7af,#bbe6ae,#b8e5ad,#b6e4ad,#b5e4ad,#b6e4ad,#b9e5ae,#bce6af,#c3e9b1,#c9ebb3,#d4efb8,#f1fac5,#fafdcb,#e3f4bd)"></div>
<div style="background:linear-gradient(90deg,#5cb2a3,#63bca4,#6ec5a4,#78cca3,#84d2a4,#91d7a5,#9adaa6,#a0dca7,#a3dda8,#a3dda8,#a1dda7,#9fdca7,#9edba6,#9ddba6,#9ddba6,#9cdaa6,#9ddba6,#9edba6,#a0dca7,#a3dda8,#a5dea8,#a8dfa9,#ade1aa,#b2e3ac,#b8e5ad,#c0e8b0,#c9ebb3,#ddf2bb,#eaf7c1,#ecf8c2,#eef8c3,#f0f9c5,#f2fac6,#f4fbc7,#f9fdca,#fdfecc,#fdfecc,#fdfecc,#fbfdcb,#f7fcc9,#fbfdcb,#fafdca,#f6fbc8,#f4fbc7,#e5f5bf,#d7f0b9,#d3efb7,#cfedb6,#cbecb4,#c8ebb3,#c5e9b2,#c2e8b0,#c0e8b0,#c0e8b0,#c0e8b0,#c3e9b1,#c6eab2,#cbecb4,#d1eeb6,#daf1ba,#f4fbc7,#fafdca,#dcf2ba)"></div>
<div style="background:linear-gradient(90deg,#68c0a4,#71c7a3,#7ccea3,#88d3a4,#93d7a5,#9ddba6,#a4dda8,#a7dfa9,#aae0aa,#aae0aa,#a8dfa9,#a7dea9,#a7dea9,#a6dea8,#a5dea8,#a4dda8,#a5dea8,#a6dea9,#a9dfa9,#abe0aa,#aee1ab,#b1e2ac,#b6e4ad,#bbe6ae,#c1e8b0,#c8eab3,#d0edb6,#e3f4be,#edf8c3,#eff9c4,#f1f9c5,#f3fac7,#f5fbc8,#f8fcc9,#fbfdcb,#fdfecc,#fdfecc,#fdfecc,#fdfecc,#fbfdcb,#fcfecc,#fbfdcb,#f8fcc9,#f6fcc8,#ecf8c3,#e0f3bc,#dcf2bb,#d8f0b9,#d5efb8,#d1eeb6,#ceedb5,#ccecb4,#caebb4,#caebb3,#caebb4,#ccecb4,#cfedb5,#d4efb7,#d9f1b9,#e1f3bc,#f7fcc9,#f9fcca,#dff3bc)"></div>
<div style="background:linear-gradient(90deg,#7ccea3,#81d0a3,#8fd6a5,#98d9a6,#9fdca7,#a6dea9,#ace0aa,#aee1ab,#b1e2ac,#b1e2ac,#afe2ab,#aee1ab,#afe1ab,#aee1ab,#ade1ab,#abe0aa,#ace0aa,#aee1ab,#b0e2ab,#b3e3ac,#b6e4ad,#bae5ae,#bfe7af,#c3e9b1,#c9ebb3,#d0edb6,#d7f0b9,#e8f6c0,#f0f9c5,#f2fac6,#f4fbc7,#f6fcc8,#f9fcca,#fbfdcb,#fdfecc,#fdfecc,#fdfecc,#fdfecc,#fdfecc,#fdfecc,#fdfecc,#fcfecc,#fafdca,#f9fcca,#f2fac6,#e8f6c0,#e5f5be,#e1f4bd,#def2bb,#dbf1ba,#d8f0b9,#d5efb8,#d4efb7,#d3efb7,#d4efb7,#d5efb8,#d8f0b9,#dcf2bb,#e1f4bc,#e7f6c0,#f9fdca,#f8fcc9,#e9f7c1)"></div>
<div style="background:linear-gradient(90deg,#90d6a5,#93d7a5,#9ddba6,#a4dea8,#a9dfa9,#afe1ab,#b4e3ac,#b6e4ad,#b8e5ae,#b8e5ad,#b6e4ad,#b5e4ad,#b7e4ad,#b6e4ad,#b5e4ad,#b3e3ac,#b4e3ac,#b6e4ad,#b8e5ae,#bbe6ae,#bfe7af,#c3e9b1,#c7eab2,#ccecb4,#d1eeb6,#d7f0b9,#def3bc,#edf8c3,#f3fac7,#f5fbc8,#f7fcc9,#f9fdca,#fbfdcb,#fcfecc,#fdfecc,#fdfecc,#fdfecc,#fdfecc,#fdfecc,#fdfecc,#fdfecc,#fdfecc,#fcfecb,#fbfdcb,#f7fcc9,#f0f9c5,#edf8c3,#e9f7c1,#e6f6bf,#e4f5be,#e1f4bd,#dff3bc,#def2bb,#ddf2bb,#ddf2bb,#dff3bc,#e1f4bd,#e5f5be,#e8f6c0,#edf8c3,#fbfdcb,#f9fdca,#f4fbc7)"></div>
<div style="background:linear-gradient(90deg,#9adaa6,#a1dca7,#a8dfa9,#aee1ab,#b2e3ac,#b7e4ad,#bce6af,#bde7af,#bfe7af,#bfe7af,#bde7af,#bce6af,#bfe7af,#bee7af,#bde7af,#bae6ae,#bbe6ae,#bde7af,#c0e8b0,#c3e9b1,#c7eab2,#caebb4,#cfedb6,#d4efb7,#d9f1b9,#dff3bc,#e5f5bf,#f2fac6,#f6fbc8,#f8fcc9,#fafdca,#fcfdcb,#fcfecc,#fdfecc,#fdfecc,#fdfecc,#fdfecc,#fdfecc,#fdfecc,#fdfecc,#fdfecc,#fdfecc,#fdfecc,#fdfecc,#fbfdcb,#f7fcc9,#f4fbc7,#f1fac5,#eef9c4,#ecf8c2,#eaf7c1,#e8f6c0,#e7f6c0,#e6f6bf,#e6f6bf,#e7f6c0,#e9f7c1,#ecf8c3,#eff9c4,#f3fac7,#fcfecb,#fbfdcb,#fbfdcb)"></div>
<div style="background:linear-gradient(90deg,#a3dda8,#ace0aa,#b2e3ac,#b7e4ad,#bbe6ae,#c0e7b0,#c3e9b1,#c4e9b1,#c6eab2,#c5eab2,#c4e9b1,#c3e9b1,#c6eab2,#c6eab2,#c5e9b1,#c2e8b0,#c2e8b0,#c4e9b1,#c7eab2,#cbecb4,#cfedb5,#d2eeb7,#d7f0b9,#dcf2bb,#e1f4bd,#e6f6bf,#ecf8c3,#f6fbc8,#f9fdca,#fbfdcb,#fcfecc,#fdfecc,#fdfecc,#fdfecc,#fdfecc,#fdfecc,#fdfecc,#fdfecc,#fdfecc,#fdfecc,#fdfecc,#fdfecc,#fdfecc,#fdfecc,#fdfecc,#fbfdcb,#fafdca,#f8fcc9,#f5fbc8,#f3fac7,#f1fac6,#f0f9c5,#eff9c4,#eef9c4,#eef9c4,#eff9c4,#f1fac5,#f3fac7,#f6fbc8,#f8fcc9,#fdfecc,#fdfecc,#fdfecc)"></div>
<div style="background:linear-gradient(90deg,#b0e2ab,#b5e4ad,#bbe6ae,#c0e8b0,#c4e9b1,#c7eab2,#caebb4,#cbecb4,#ccecb4,#cbecb4,#caebb4,#caebb4,#cdecb5,#cdecb5,#ccecb4,#c9ebb3,#c9ebb3,#cbecb4,#ceedb5,#d2eeb7,#d6f0b8,#daf1ba,#dff3bc,#e4f5be,#e8f6c1,#edf8c3,#f2fac6,#f9fdca,#fbfdcb,#fdfecc,#fdfecc,#fdfecc,#fdfecc,#fdfecc,#fdfecc,#fdfecc,#fdfecc,#fdfecc,#fdfecc,#fdfecc,#fdfecc,#fdfecc,#fdfecc,#fdfecc,#fdfecc,#fdfecc,#fdfecc,#fcfecb,#fafdca,#f9fdca,#f8fcc9,#f7fcc9,#f6fbc8,#f6fbc8,#f6fbc8,#f6fcc8,#f8fcc9,#f9fdca,#fbfdcb,#fcfecb,#fdfecc,#fdfecc,#fdfecc)"></div>
<div style="background:linear-gradient(90deg,#bce6af,#bde7af,#c2e8b0,#c6eab2,#caebb4,#ceedb5,#d1eeb6,#d2eeb7,#d3eeb7,#d2eeb7,#d0eeb6,#d1eeb6,#d4efb8,#d5efb8,#d3eeb7,#d0edb6,#d0edb6,#d2eeb7,#d5efb8,#daf1ba,#def3bb,#e2f4bd,#e6f6bf,#ebf7c2,#eff9c4,#f4fbc7,#f8fcc9,#fcfecb,#fdfecc,#fdfecc,#fdfecc,#fdfecc,#fdfecc,#fdfecc,#fdfecc,#fdfecc,#fdfecc,#fdfecc,#fdfecc,#fdfecc,#fdfecc,#fdfecc,#fdfecc,#fdfecc,#fdfecc,#fdfecc,#fdfecc,#fdfecc,#fcfecc,#fcfecc,#fcfecb,#fcfdcb,#fbfdcb,#fbfdcb,#fbfdcb,#fbfdcb,#fcfecb,#fdfecc,#fdfecc,#fdfecc,#fdfecc,#fdfecc,#fdfecc)"></div>
<div style="background:linear-gradient(90deg,#c2e8b0,#c2e8b0,#c5eab2,#caebb4,#cfedb5,#d3eeb7,#d6f0b8,#d8f0b9,#d9f1b9,#d8f0b9,#d7f0b9,#d8f0b9,#dbf2ba,#dcf2bb,#daf1ba,#d6f0b8,#d6f0b8,#d8f1b9,#dcf2bb,#e1f4bd,#e5f5bf,#e9f7c1,#eef8c3,#f2fac6,#f6fbc8,#f9fdca,#fcfdcb,#fdfecc,#fdfecc,#fdfecc,#fdfecc,#fdfecc,#fdfecc,#fdfecc,#fdfecc,#fdfecc,#fdfecc,#fdfecc,#fdfecc,#fdfecc,#fdfecc,#fdfecc,#fdfecc,#fdfecc,#fdfecc,#fdfecc,#fdfecc,#fdfecc,#fdfecc,#fdfecc,#fdfecc,#fdfecc,#fdfecc,#fdfecc,#fdfecc,#fdfecc,#fdfecc,#fdfecc,#fdfecc,#fdfecc,#fdfecc,#fdfecc,#fdfecc)"></div>
<div style="background:linear-gradient(90deg,#c3e9b1,#c4e9b1,#c5e9b1,#caebb3,#d0edb6,#d5efb8,#d9f1b9,#dcf2bb,#def3bb,#def3bb,#ddf2bb,#dff3bc,#e2f4bd,#e3f4be,#e1f4bd,#ddf2bb,#ddf2bb,#dff3bc,#e3f4be,#e7f6c0,#ecf8c3,#f0f9c5,#f4fbc7,#f8fcc9,#fbfdcb,#fcfecc,#fdfecc,#fdfecc,#fdfecc,#fdfecc,#fdfecc,#fdfecc,#fdfecc,#fdfecc,#fdfecc,#fdfecc,#fdfecc,#fdfecc,#fdfecc,#fdfecc,#fdfecc,#fdfecc,#fdfecc,#fdfecc,#fdfecc,#fdfecc,#fdfecc,#fdfecc,#fdfecc,#fdfecc,#fdfecc,#fdfecc,#fdfecc,#fdfecc,#fdfecc,#fdfecc,#fdfecc,#fdfecc,#fdfecc,#fdfecc,#fdfecc,#fdfecc,#fdfecc)"></div>
<div style="background:linear-gradient(90deg,#c4e9b1,#c4e9b1,#c2e8b0,#c4e9b1,#cfedb5,#d4efb8,#d9f1ba,#def2bb,#e1f4bd,#e3f4be,#e3f4be,#e5f5bf,#e8f6c0,#e9f7c1,#e7f6c0,#e4f5be,#e4f5be,#e5f5bf,#e9f7c1,#eef8c4,#f2fac6,#f6fcc8,#f9fdca,#fcfecb,#fdfecc,#fdfecc,#fdfecc,#fdfecc,#fdfecc,#fdfecc,#fdfecc,#fdfecc,#fdfecc,#fdfecc,#fdfecc,#fdfecc,#fdfecc,#fdfecc,#fdfecc,#fdfecc,#fdfecc,#fdfecc,#fdfecc,#fdfecc,#fdfecc,#fdfecc,#fdfecc,#fdfecc,#fdfecc,#fdfecc,#fdfecc,#fdfecc,#fdfecc,#fdfecc,#fdfecc,#fdfecc,#fdfecc,#fdfecc,#fdfecc,#fdfecc,#fdfecc,#fdfecc,#fdfecc)"></div>
<div style="background:linear-gradient(90deg,#c4e9b1,#c4e9b1,#c1e8b0,#bfe7af,#cdedb5,#d3efb7,#d7f0b9,#ddf2bb,#e2f4bd,#e5f5bf,#e7f6c0,#eaf7c2,#edf8c3,#eff9c4,#edf8c3,#eaf7c1,#eaf7c1,#ebf7c2,#eff9c4,#f4fbc7,#f8fcc9,#fbfdcb,#fdfecc,#fdfecc,#fdfecc,#fdfecc,#fdfecc,#fdfecc,#fdfecc,#fdfecc,#fdfecc,#fdfecc,#fdfecc,#fdfecc,#fdfecc,#fdfecc,#fdfecc,#fdfecc,#fdfecc,#fdfecc,#fdfecc,#fdfecc,#fdfecc,#fdfecc,#fdfecc,#fdfecc,#fdfecc,#fdfecc,#fdfecc,#fdfecc,#fdfecc,#fdfecc,#fdfecc,#fdfecc,#fdfecc,#fdfecc,#fdfecc,#fdfecc,#fdfecc,#fdfecc,#fdfecc,#fdfecc,#fdfecc)"></div>
<div style="background:linear-gradient(90deg,#c4e9b1,#c4e9b1,#c1e8b0,#bce6af,#ceedb5,#d3eeb7,#d5efb8,#daf1ba,#dff3bc,#e4f5be,#e8f6c1,#ecf8c3,#f0f9c5,#f2fac6,#f2fac6,#f0f9c5,#f0f9c5,#f1fac5,#f5fbc8,#f9fdca,#fcfecb,#fdfecc,#fdfecc,#fdfecc,#fdfecc,#fdfecc,#fdfecc,#fdfecc,#fdfecc,#fdfecc,#fdfecc,#fdfecc,#fdfecc,#fdfecc,#fdfecc,#fdfecc,#fdfecc,#fdfecc,#fdfecc,#fdfecc,#fdfecc,#fdfecc,#fdfecc,#fdfecc,#fdfecc,#fdfecc,#fdfecc,#fdfecc,#fdfecc,#fdfecc,#fdfecc,#fdfecc,#fdfecc,#fdfecc,#fdfecc,#fdfecc,#fdfecc,#fdfecc,#fdfecc,#fdfecc,#fdfecc,#fdfecc,#fdfecc)"></div>
<div style="background:linear-gradient(90deg,#c4e9b1,#c4e9b1,#c2e8b0,#bce6af,#d0edb6,#d3efb7,#d4efb8,#daf1ba,#dcf2bb,#e1f4bd,#e6f5bf,#ebf7c2,#eff9c4,#f3fac6,#f5fbc7,#f5fbc7,#f5fbc8,#f6fcc8,#fafdca,#fcfecc,#fdfecc,#fdfecc,#fdfecc,#fdfecc,#fdfecc,#fdfecc,#fdfecc,#fdfecc,#fdfecc,#fdfecc,#fdfecc,#fdfecc,#fdfecc,#fdfecc,#fdfecc,#fdfecc,#fdfecc,#fdfecc,#fdfecc,#fdfecc,#fdfecc,#fdfecc,#fdfecc,#fdfecc,#fdfecc,#fdfecc,#fdfecc,#fdfecc,#fdfecc,#fdfecc,#fdfecc,#fdfecc,#fdfecc,#fdfecc,#fdfecc,#fdfecc,#fdfecc,#fdfecc,#fdfecc,#fdfecc,#fdfecc,#fdfecc,#fdfecc)"></div>
<div style="background:linear-gradient(90deg,#c4e9b1,#c4e9b1,#c2e8b0,#bce6af,#d1eeb6,#d4efb7,#d5efb8,#dcf2bb,#dcf2bb,#dff3bc,#e2f4bd,#e7f6c0,#edf8c3,#f1fac6,#f5fbc8,#f7fcc9,#f9fcca,#fafdca,#fcfecb,#fdfecc,#fdfecc,#fdfecc,#fdfecc,#fdfecc,#fdfecc,#fdfecc,#fdfecc,#fdfecc,#fdfecc,#fdfecc,#fdfecc,#fdfecc,#fdfecc,#fdfecc,#fdfecc,#fdfecc,#fdfecc,#fdfecc,#fdfecc,#fdfecc,#fdfecc,#fdfecc,#fdfecc,#fdfecc,#fdfecc,#fdfecc,#fdfecc,#fdfecc,#fdfecc,#fdfecc,#fdfecc,#fdfecc,#fdfecc,#fdfecc,#fdfecc,#fdfecc,#fdfecc,#fdfecc,#fdfecc,#fdfecc,#fdfecc,#fdfecc,#fdfecc)"></div>
<div style="background:linear-gradient(90deg,#c4e9b1,#c4e9b1,#c3e9b1,#bde6af,#d2eeb7,#d4efb7,#d6f0b8,#dff3bc,#dff3bc,#e3f4bd,#e1f4bd,#e4f5be,#e8f6c1,#eef8c4,#f3fac6,#f7fcc9,#fafdca,#fcfecb,#fdfecc,#fdfecc,#fdfecc,#fdfecc,#fdfecc,#fdfecc,#fdfecc,#fdfecc,#fdfecc,#fdfecc,#fdfecc,#fdfecc,#fdfecc,#fdfecc,#fdfecc,#fdfecc,#fdfecc,#fdfecc,#fdfecc,#fdfecc,#fdfecc,#fdfecc,#fdfecc,#fdfecc,#fdfecc,#fdfecc,#fdfecc,#fdfecc,#fdfecc,#fdfecc,#fdfecc,#fdfecc,#fdfecc,#fdfecc,#fdfecc,#fdfecc,#fdfecc,#fdfecc,#fdfecc,#fdfecc,#fdfecc,#fdfecc,#fdfecc,#fdfecc,#fdfecc)"></div>
<div style="background:linear-gradient(90deg,#c4e9b1,#c4e9b1,#c3e9b1,#bee7af,#d3eeb7,#d4efb7,#d7f0b9,#e0f3bc,#e3f4bd,#e8f6c1,#e5f5bf,#e3f4bd,#e5f5bf,#e9f7c1,#eff9c4,#f4fbc7,#f8fcc9,#fbfdcb,#fdfecc,#fdfecc,#fdfecc,#fdfecc,#fdfecc,#fdfecc,#fdfecc,#fdfecc,#fdfecc,#fdfecc,#fdfecc,#fdfecc,#fdfecc,#fdfecc,#fdfecc,#fdfecc,#fdfecc,#fdfecc,#fdfecc,#fdfecc,#fdfecc,#fdfecc,#fdfecc,#fdfecc,#fdfecc,#fdfecc,#fdfecc,#fdfecc,#fdfecc,#fdfecc,#fdfecc,#fdfecc,#fdfecc,#fdfecc,#fdfecc,#fdfecc,#fdfecc,#fdfecc,#fdfecc,#fdfecc,#fdfecc,#fdfecc,#fdfecc,#fdfecc,#fdfecc)"></div>
<div style="background:linear-gradient(90deg,#c4e9b1,#c4e9b1,#c3e9b1,#bfe7b0,#d3efb7,#d4efb7,#d8f0b9,#e0f3bc,#e5f5bf,#ecf8c2,#eaf7c1,#e6f6bf,#e6f5bf,#e6f6bf,#ebf7c2,#f0f9c5,#f5fbc7,#f9fdca,#fcfecb,#fdfecc,#fdfecc,#fdfecc,#fdfecc,#fdfecc,#fdfecc,#fdfecc,#fdfecc,#fdfecc,#fdfecc,#fdfecc,#fdfecc,#fdfecc,#fdfecc,#fdfecc,#fdfecc,#fdfecc,#fdfecc,#fdfecc,#fdfecc,#fdfecc,#fdfecc,#fdfecc,#fdfecc,#fdfecc,#fdfecc,#fdfecc,#fdfecc,#fdfecc,#fdfecc,#fdfecc,#fdfecc,#fdfecc,#fdfecc,#fdfecc,#fdfecc,#fdfecc,#fdfecc,#fdfecc,#fdfecc,#fdfecc,#fdfecc,#fdfecc,#fdfecc)"></div>
<div style="background:linear-gradient(90deg,#c4e9b1,#c4e9b1,#c3e9b1,#c1e8b0,#d3efb7,#d4efb7,#d9f1b9,#e0f3bc,#e7f6c0,#edf8c3,#ecf8c3,#ebf7c2,#ebf7c2,#e8f6c0,#e9f6c1,#ecf8c2,#f1f9c5,#f6fbc8,#fafdca,#fcfecc,#fdfecc,#fdfecc,#fdfecc,#fdfecc,#fdfecc,#fdfecc,#fdfecc,#fdfecc,#fdfecc,#fdfecc,#fdfecc,#fdfecc,#fdfecc,#fdfecc,#fdfecc,#fdfecc,#fdfecc,#fdfecc,#fdfecc,#fdfecc,#fdfecc,#fdfecc,#fdfecc,#fdfecc,#fdfecc,#fdfecc,#fdfecc,#fdfecc,#fdfecc,#fdfecc,#fdfecc,#fdfecc,#fdfecc,#fdfecc,#fdfecc,#fdfecc,#fdfecc,#fdfecc,#fdfecc,#fdfecc,#fdfecc,#fdfecc,#fdfecc)"></div>
<div style="background:linear-gradient(90deg,#c4e9b1,#c4e9b1,#c3e9b1,#c3e9b1,#d4efb7,#d4efb7,#daf1ba,#e0f3bc,#e8f6c0,#edf8c3,#edf8c3,#edf8c3,#f0f9c5,#edf8c3,#ecf8c3,#ebf7c2,#edf8c3,#f2fac6,#f7fcc8,#fafdcb,#fcfecc,#fdfecc,#fdfecc,#fdfecc,#fdfecc,#fdfecc,#fdfecc,#fdfecc,#fdfecc,#fdfecc,#fdfecc,#fdfecc,#fdfecc,#fdfecc,#fdfecc,#fdfecc,#fdfecc,#fdfecc,#fdfecc,#fdfecc,#fdfecc,#fdfecc,#fdfecc,#fdfecc,#fdfecc,#fdfecc,#fdfecc,#fdfecc,#fdfecc,#fdfecc,#fdfecc,#fdfecc,#fdfecc,#fdfecc,#fdfecc,#fdfecc,#fdfecc,#fdfecc,#fdfecc,#fdfecc,#fdfecc,#fdfecc,#fdfecc)"></div>
<div style="background:linear-gradient(90deg,#c4e9b1,#c4e9b1,#c4e9b1,#c5eab2,#d4efb7,#d4efb7,#dbf1ba,#e0f3bc,#eaf7c1,#edf8c3,#edf8c3,#edf8c3,#f2fac6,#f1fac5,#f3fac7,#f0f9c5,#edf8c3,#eef8c4,#f2fac6,#f7fcc9,#fbfdcb,#fdfecc,#fdfecc,#fdfecc,#fdfecc,#fdfecc,#fdfecc,#fdfecc,#fdfecc,#fdfecc,#fdfecc,#fdfecc,#fdfecc,#fdfecc,#fdfecc,#fdfecc,#fdfecc,#fdfecc,#fdfecc,#fdfecc,#fdfecc,#fdfecc,#fdfecc,#fdfecc,#fdfecc,#fdfecc,#fdfecc,#fdfecc,#fdfecc,#fdfecc,#fdfecc,#fdfecc,#fdfecc,#fdfecc,#fdfecc,#fdfecc,#fdfecc,#fdfecc,#fdfecc,#fdfecc,#fdfecc,#fdfecc,#fdfecc)"></div>
<div style="background:linear-gradient(90deg,#c4e9b1,#c4e9b1,#c4e9b1,#c7eab2,#d4efb7,#d4efb7,#dbf2ba,#e0f3bc,#ebf7c2,#edf8c3,#edf8c3,#edf8c3,#f2fac6,#f3fac6,#f8fcc9,#f7fcc9,#f2fac6,#eef9c4,#eff9c4,#f3fac7,#f8fcc9,#fbfdcb,#fdfecc,#fdfecc,#fdfecc,#fdfecc,#fdfecc,#fdfecc,#fdfecc,#fdfecc,#fdfecc,#fdfecc,#fdfecc,#fdfecc,#fdfecc,#fdfecc,#fdfecc,#fdfecc,#fdfecc,#fdfecc,#fdfecc,#fdfecc,#fdfecc,#fdfecc,#fdfecc,#fdfecc,#fdfecc,#fdfecc,#fdfecc,#fdfecc,#fdfecc,#fdfecc,#fdfecc,#fdfecc,#fdfecc,#fdfecc,#fdfecc,#fdfecc,#fdfecc,#fdfecc,#fdfecc,#fdfecc,#fdfecc)"></div>
<div style="background:linear-gradient(90deg,#c4e9b1,#c4e9b1,#c4e9b1,#c9ebb3,#d4efb7,#d4efb7,#dcf2bb,#e1f4bd,#ecf8c2,#edf8c3,#edf8c3,#edf8c3,#f2fac6,#f4fbc7,#fafdca,#fcfdcb,#f9fcca,#f4fbc7,#f0f9c5,#f1f9c5,#f4fbc7,#f9fcca,#fcfecb,#fdfecc,#fdfecc,#fdfecc,#fdfecc,#fdfecc,#fdfecc,#fdfecc,#fdfecc,#fdfecc,#fdfecc,#fdfecc,#fdfecc,#fdfecc,#fdfecc,#fdfecc,#fdfecc,#fdfecc,#fdfecc,#fdfecc,#fdfecc,#fdfecc,#fdfecc,#fdfecc,#fdfecc,#fdfecc,#fdfecc,#fdfecc,#fdfecc,#fdfecc,#fdfecc,#fdfecc,#fdfecc,#fdfecc,#fdfecc,#fdfecc,#fdfecc,#fdfecc,#fdfecc,#fdfecc,#fdfecc)"></div>
<div style="background:linear-gradient(90deg,#c4e9b1,#c4e9b1,#c4e9b1,#c9ebb3,#d4efb7,#d4efb7,#ddf2bb,#e2f4bd,#ecf8c3,#edf8c3,#edf8c3,#edf8c3,#f2fac6,#f4fbc7,#fafdcb,#fdfecc,#fcfecb,#fafdca,#f5fbc8,#f2fac6,#f2fac6,#f5fbc8,#f9fdca,#fcfecb,#fdfecc,#fdfecc,#fdfecc,#fdfecc,#fdfecc,#fdfecc,#fdfecc,#fdfecc,#fdfecc,#fdfecc,#fdfecc,#fdfecc,#fdfecc,#fdfecc,#fdfecc,#fdfecc,#fdfecc,#fdfecc,#fdfecc,#fdfecc,#fdfecc,#fdfecc,#fdfecc,#fdfecc,#fdfecc,#fdfecc,#fdfecc,#fdfecc,#fdfecc,#fdfecc,#fdfecc,#fdfecc,#fdfecc,#fdfecc,#fdfecc,#fdfecc,#fdfecc,#fdfecc,#fdfecc)"></div>
<div style="background:linear-gradient(90deg,#c4e9b1,#c4e9b1,#c4e9b1,#caebb3,#d4efb7,#d4efb7,#def2bb,#e3f4be,#edf8c3,#edf8c3,#edf8c3,#edf8c3,#f2fac6,#f5fbc7,#fbfdcb,#fdfecc,#fdfecc,#fcfecc,#fbfdcb,#f7fcc9,#f3fac7,#f3fac7,#f6fcc8,#fafdca,#fcfecc,#fdfecc,#fdfecc,#fdfecc,#fdfecc,#fdfecc,#fdfecc,#fdfecc,#fdfecc,#fdfecc,#fdfecc,#fdfecc,#fdfecc,#fdfecc,#fdfecc,#fdfecc,#fdfecc,#fdfecc,#fdfecc,#fdfecc,#fdfecc,#fdfecc,#fdfecc,#fdfecc,#fdfecc,#fdfecc,#fdfecc,#fdfecc,#fdfecc,#fdfecc,#fdfecc,#fdfecc,#fdfecc,#fdfecc,#fdfecc,#fdfecc,#fdfecc,#fdfecc,#fdfecc)"></div>
<div style="background:linear-gradient(90deg,#c4e9b1,#c4e9b1,#c4e9b1,#caebb3,#d4efb7,#d4efb8,#def3bc,#e4f5be,#edf8c3,#edf8c3,#edf8c3,#edf8c3,#f2fac6,#f6fbc8,#fcfecb,#fdfecc,#fdfecc,#fdfecc,#fdfecc,#fbfdcb,#f8fcc9,#f6fbc8,#f5fbc8,#f7fcc9,#fbfdcb,#fdfecc,#fdfecc,#fdfecc,#fdfecc,#fdfecc,#fdfecc,#fdfecc,#fdfecc,#fdfecc,#fdfecc,#fdfecc,#fdfecc,#fdfecc,#fdfecc,#fdfecc,#fdfecc,#fdfecc,#fdfecc,#fdfecc,#fdfecc,#fdfecc,#fdfecc,#fdfecc,#fdfecc,#fdfecc,#fdfecc,#fdfecc,#fdfecc,#fdfecc,#fdfecc,#fdfecc,#fdfecc,#fdfecc,#fdfecc,#fdfecc,#fdfecc,#fdfecc,#fdfecc)"></div>
<div style="background:linear-gradient(90deg,#c4e9b1,#c4e9b1,#c4e9b1,#caebb3,#d4efb7,#d4efb8,#dff3bc,#e6f5bf,#edf8c3,#edf8c3,#edf8c3,#edf8c3,#f1fac6,#f7fcc9,#fcfecc,#fdfecc,#fdfecc,#fdfecc,#fdfecc,#fdfecc,#fcfecb,#fcfecb,#f8fcc9,#f7fcc8,#f8fcc9,#fbfdcb,#fdfecc,#fdfecc,#fdfecc,#fdfecc,#fdfecc,#fdfecc,#fdfecc,#fdfecc,#fdfecc,#fdfecc,#fdfecc,#fdfecc,#fdfecc,#fdfecc,#fdfecc,#fdfecc,#fdfecc,#fdfecc,#fdfecc,#fdfecc,#fdfecc,#fdfecc,#fdfecc,#fdfecc,#fdfecc,#fdfecc,#fdfecc,#fdfecc,#fdfecc,#fdfecc,#fdfecc,#fdfecc,#fdfecc,#fdfecc,#fdfecc,#fdfecc,#fdfecc)"></div>
<div style="background:linear-gradient(90deg,#c4e9b1,#c4e9b1,#c4e9b1,#caebb3,#d4efb7,#d4efb8,#dff3bc,#e8f6c0,#edf8c3,#edf8c3,#edf8c3,#edf8c3,#f1fac6,#f8fcc9,#fdfecc,#fdfecc,#fdfecc,#fdfecc,#fdfecc,#fdfecc,#fdfecc,#fdfecc,#fdfecc,#fafdca,#f7fcc9,#f9fcca,#fbfdcb,#fdfecc,#fdfecc,#fdfecc,#fdfecc,#fdfecc,#fdfecc,#fdfecc,#fdfecc,#fdfecc,#fdfecc,#fdfecc,#fdfecc,#fdfecc,#fdfecc,#fdfecc,#fdfecc,#fdfecc,#fdfecc,#fdfecc,#fdfecc,#fdfecc,#fdfecc,#fdfecc,#fdfecc,#fdfecc,#fdfecc,#fdfecc,#fdfecc,#fdfecc,#fdfecc,#fdfecc,#fdfecc,#fdfecc,#fdfecc,#fdfecc,#fdfecc)"></div>
<div style="background:linear-gradient(90deg,#c4e9b1,#c4e9b1,#c4e9b1,#caebb3,#d4efb7,#d5efb8,#dff3bc,#e9f7c1,#edf8c3,#edf8c3,#edf8c3,#edf8c3,#f1fac6,#f9fcca,#fdfecc,#fdfecc,#fdfecc,#fdfecc,#fdfecc,#fdfecc,#fdfecc,#fdfecc,#fdfecc,#fdfecc,#f9fdca,#f8fcc9,#f9fdca,#fcfecb,#fdfecc,#fdfecc,#fdfecc,#fdfecc,#fdfecc,#fdfecc,#fdfecc,#fdfecc,#fdfecc,#fdfecc,#fdfecc,#fdfecc,#fdfecc,#fdfecc,#fdfecc,#fdfecc,#fdfecc,#fdfecc,#fdfecc,#fdfecc,#fdfecc,#fdfecc,#fdfecc,#fdfecc,#fdfecc,#fdfecc,#fdfecc,#fdfecc,#fdfecc,#fdfecc,#fdfecc,#fdfecc,#fdfecc,#fdfecc,#fdfecc)"></div>
<div style="background:linear-gradient(90deg,#c4e9b1,#c4e9b1,#c4e9b1,#caebb3,#d4efb7,#d5efb8,#e0f3bc,#ebf7c2,#edf8c3,#edf8c3,#edf8c3,#edf8c3,#f1fac6,#fafdca,#fdfecc,#fdfecc,#fdfecc,#fdfecc,#fdfecc,#fdfecc,#fdfecc,#fdfecc,#fdfecc,#fdfecc,#fcfecb,#fafdca,#f9fcca,#fafdca,#fcfecc,#fdfecc,#fdfecc,#fdfecc,#fdfecc,#fdfecc,#fdfecc,#fdfecc,#fdfecc,#fdfecc,#fdfecc,#fdfecc,#fdfecc,#fdfecc,#fdfecc,#fdfecc,#fdfecc,#fdfecc,#fdfecc,#fdfecc,#fdfecc,#fdfecc,#fdfecc,#fdfecc,#fdfecc,#fdfecc,#fdfecc,#fdfecc,#fdfecc,#fdfecc,#fdfecc,#fdfecc,#fdfecc,#fdfecc,#fdfecc)"></div>
<div style="background:linear-gradient(90deg,#c4e9b1,#c4e9b1,#c4e9b1,#caebb3,#d4efb7,#d6efb8,#e0f3bc,#ebf8c2,#edf8c3,#edf8c3,#edf8c3,#edf8c3,#f2fac6,#fbfdcb,#fdfecc,#fdfecc,#fdfecc,#fdfecc,#fdfecc,#fdfecc,#fdfecc,#fdfecc,#fdfecc,#fdfecc,#fdfecc,#fcfecb,#fbfdcb,#fafdca,#fbfdcb,#fcfecb,#fdfecc,#fdfecc,#fdfecc,#fdfecc,#fdfecc,#fdfecc,#fdfecc,#fdfecc,#fdfecc,#fdfecc,#fdfecc,#fdfecc,#fdfecc,#fdfecc,#fdfecc,#fdfecc,#fdfecc,#fdfecc,#fdfecc,#fdfecc,#fdfecc,#fdfecc,#fdfecc,#fdfecc,#fdfecc,#fdfecc,#fdfecc,#fdfecc,#fdfecc,#fdfecc,#fdfecc,#fdfecc,#fdfecc)"></div>
<div style="background:linear-gradient(90deg,#c4e9b1,#c4e9b1,#c4e9b1,#caebb3,#d4efb7,#d6f0b8,#e1f4bd,#ecf8c3,#edf8c3,#edf8c3,#edf8c3,#edf8c3,#f2fac6,#fcfecb,#fdfecc,#fdfecc,#fdfecc,#fdfecc,#fdfecc,#fdfecc,#fdfecc,#fdfecc,#fdfecc,#fdfecc,#fdfecc,#fdfecc,#fcfecc,#fbfdcb,#fafdcb,#fbfdcb,#fcfecb,#fcfecc,#fdfecc,#fdfecc,#fdfecc,#fdfecc,#fdfecc,#fdfecc,#fdfecc,#fdfecc,#fdfecc,#fdfecc,#fdfecc,#fdfecc,#fdfecc,#fdfecc,#fdfecc,#fdfecc,#fdfecc,#fdfecc,#fdfecc,#fdfecc,#fdfecc,#fdfecc,#fdfecc,#fdfecc,#fdfecc,#fdfecc,#fdfecc,#fdfecc,#fdfecc,#fdfecc,#fdfecc)"></div>
<div style="background:linear-gradient(90deg,#c4e9b1,#c4e9b1,#c4e9b1,#caebb3,#d4efb7,#d7f0b9,#e2f4bd,#edf8c3,#edf8c3,#edf8c3,#edf8c3,#edf8c3,#f3fac6,#fcfecc,#fdfecc,#fdfecc,#fdfecc,#fdfecc,#fdfecc,#fdfecc,#fdfecc,#fdfecc,#fdfecc,#fdfecc,#fdfecc,#fdfecc,#fdfecc,#fdfecc,#fcfecb,#fbfdcb,#fbfdcb,#fbfdcb,#fcfdcb,#fcfecc,#fdfecc,#fdfecc,#fdfecc,#fdfecc,#fdfecc,#fdfecc,#fdfecc,#fdfecc,#fdfecc,#fdfecc,#fdfecc,#fdfecc,#fdfecc,#fdfecc,#fdfecc,#fdfecc,#fdfecc,#fdfecc,#fdfecc,#fdfecc,#fdfecc,#fdfecc,#fdfecc,#fdfecc,#fdfecc,#fdfecc,#fdfecc,#fdfecc,#fdfecc)"></div>
<div style="background:linear-gradient(90deg,#c4e9b1,#c4e9b1,#c4e9b1,#caebb3,#d4efb7,#d8f0b9,#e4f5be,#edf8c3,#edf8c3,#edf8c3,#edf8c3,#edf8c3,#f3fac7,#fdfecc,#fdfecc,#fdfecc,#fdfecc,#fdfecc,#fdfecc,#fdfecc,#fdfecc,#fdfecc,#fdfecc,#fdfecc,#fdfecc,#fdfecc,#fdfecc,#fdfecc,#fdfecc,#fcfecc,#fbfdcb,#fbfdcb,#fafdca,#fbfdcb,#fcfdcb,#fcfecc,#fdfecc,#fdfecc,#fdfecc,#fdfecc,#fdfecc,#fdfecc,#fdfecc,#fdfecc,#fdfecc,#fdfecc,#fdfecc,#fdfecc,#fdfecc,#fdfecc,#fdfecc,#fdfecc,#fdfecc,#fdfecc,#fdfecc,#fdfecc,#fdfecc,#fdfecc,#fdfecc,#fdfecc,#fdfecc,#fdfecc,#fdfecc)"></div>
<div style="background:linear-gradient(90deg,#c4e9b1,#c4e9b1,#c4e9b1,#caebb3,#d4efb7,#d8f0b9,#e5f5bf,#edf8c3,#edf8c3,#edf8c3,#edf8c3,#edf8c3,#f5fbc7,#fdfecc,#fdfecc,#fdfecc,#fdfecc,#fdfecc,#fdfecc,#fdfecc,#fdfecc,#fdfecc,#fdfecc,#fdfecc,#fdfecc,#fdfecc,#fdfecc,#fdfecc,#fdfecc,#fdfecc,#fcfecc,#fcfdcb,#f9fcca,#f9fcca,#fafdca,#fbfdcb,#fbfdcb,#fcfdcb,#fcfecc,#fdfecc,#fdfecc,#fdfecc,#fdfecc,#fdfecc,#fdfecc,#fdfecc,#fdfecc,#fdfecc,#fdfecc,#fdfecc,#fdfecc,#fdfecc,#fdfecc,#fdfecc,#fdfecc,#fdfecc,#fdfecc,#fdfecc,#fdfecc,#fdfecc,#fdfecc,#fdfecc,#fdfecc)"></div>
<div style="background:linear-gradient(90deg,#c4e9b1,#c4e9b1,#c4e9b1,#caebb3,#d4efb7,#d9f1b9,#e7f6c0,#edf8c3,#edf8c3,#edf8c3,#edf8c3,#edf8c3,#f6fbc8,#fdfecc,#fdfecc,#fdfecc,#fdfecc,#fdfecc,#fdfecc,#fdfecc,#fdfecc,#fdfecc,#fdfecc,#fdfecc,#fdfecc,#fdfecc,#fdfecc,#fdfecc,#fdfecc,#fdfecc,#fdfecc,#fcfecc,#f8fcc9,#f7fcc9,#f8fcc9,#f9fdca,#f9fdca,#f9fdca,#fafdca,#fbfdcb,#fcfdcb,#fcfecc,#fdfecc,#fdfecc,#fdfecc,#fdfecc,#fdfecc,#fdfecc,#fdfecc,#fdfecc,#fdfecc,#fdfecc,#fdfecc,#fdfecc,#fdfecc,#fdfecc,#fdfecc,#fdfecc,#fdfecc,#fdfecc,#fdfecc,#fdfecc,#fdfecc)"></div>
<div style="background:linear-gradient(90deg,#c4e9b1,#c4e9b1,#c4e9b1,#caebb3,#d4efb7,#daf1ba,#e9f6c1,#edf8c3,#edf8c3,#edf8c3,#edf8c3,#edf8c3,#f7fcc9,#fdfecc,#fdfecc,#fdfecc,#fdfecc,#fdfecc,#fdfecc,#fdfecc,#fdfecc,#fdfecc,#fdfecc,#fdfecc,#fdfecc,#fdfecc,#fdfecc,#fdfecc,#fdfecc,#fdfecc,#fdfecc,#fcfecc,#f7fcc9,#f6fbc8,#f8fcc9,#fafdca,#f9fcca,#f7fcc9,#f8fcc9,#f9fcca,#f9fdca,#fafdca,#fbfdcb,#fcfdcb,#fcfecc,#fcfecc,#fdfecc,#fdfecc,#fdfecc,#fdfecc,#fdfecc,#fdfecc,#fdfecc,#fdfecc,#fdfecc,#fdfecc,#fdfecc,#fdfecc,#fdfecc,#fdfecc,#fdfecc,#fdfecc,#fdfecc)"></div>
<div style="background:linear-gradient(90deg,#c4e9b1,#c4e9b1,#c4e9b1,#caebb3,#d4efb7,#dbf2ba,#eaf7c2,#edf8c3,#edf8c3,#edf8c3,#edf8c3,#edf8c3,#f8fcc9,#fdfecc,#fdfecc,#fdfecc,#fdfecc,#fdfecc,#fdfecc,#fdfecc,#fdfecc,#fdfecc,#fdfecc,#fdfecc,#fdfecc,#fdfecc,#fdfecc,#fdfecc,#fdfecc,#fdfecc,#fdfecc,#fbfdcb,#f6fbc8,#f6fbc8,#f8fcc9,#fcfdcb,#fafdca,#f5fbc7,#f5fbc8,#f6fcc8,#f7fcc9,#f8fcc9,#f8fcc9,#f9fcca,#fafdca,#fafdca,#fbfdcb,#fbfdcb,#fbfdcb,#fcfdcb,#fcfecb,#fcfecb,#fcfecb,#fcfecc,#fcfecc,#fcfecc,#fdfecc,#fdfecc,#fdfecc,#fdfecc,#fdfecc,#fdfecc,#fdfecc)"></div>
<div style="background:linear-gradient(90deg,#c4e9b1,#c4e9b1,#c4e9b1,#caebb3,#d4efb7,#dcf2bb,#ebf7c2,#edf8c3,#edf8c3,#edf8c3,#edf8c3,#edf8c3,#f9fdca,#fdfecc,#fdfecc,#fdfecc,#fdfecc,#fdfecc,#fdfecc,#fdfecc,#fdfecc,#fdfecc,#fdfecc,#fdfecc,#fdfecc,#fdfecc,#fdfecc,#fdfecc,#fdfecc,#fdfecc,#fdfecc,#fafdca,#f6fbc8,#f6fbc8,#f8fcc9,#fdfecc,#fbfdcb,#f3fac7,#f3fac7,#f5fbc8,#f7fcc9,#f7fcc8,#f5fbc8,#f6fbc8,#f7fcc9,#f8fcc9,#f8fcc9,#f8fcc9,#f8fcc9,#f9fcca,#f9fdca,#f9fdca,#f9fdca,#fafdca,#fafdca,#fafdca,#fafdca,#fafdca,#fafdcb,#fbfdcb,#fbfdcb,#fcfdcb,#fcfecc)"></div>
<div style="background:linear-gradient(90deg,#c4e9b1,#c4e9b1,#c4e9b1,#caebb3,#d4efb7,#def2bb,#ecf8c3,#edf8c3,#edf8c3,#edf8c3,#edf8c3,#edf8c3,#fafdca,#fdfecc,#fdfecc,#fdfecc,#fdfecc,#fdfecc,#fdfecc,#fdfecc,#fdfecc,#fdfecc,#fdfecc,#fdfecc,#fdfecc,#fdfecc,#fdfecc,#fdfecc,#fdfecc,#fdfecc,#fdfecc,#f8fcc9,#f6fbc8,#f6fbc8,#f7fcc9,#fdfecc,#fbfdcb,#f3fac6,#f2fac6,#f5fbc7,#fafdca,#f8fcc9,#f3fac6,#f3fac6,#f4fbc7,#f7fcc8,#f5fbc8,#f5fbc7,#f5fbc8,#f5fbc8,#f6fbc8,#f6fbc8,#f6fbc8,#f6fbc8,#f6fbc8,#f6fcc8,#f7fcc8,#f7fcc8,#f7fcc9,#f7fcc9,#f8fcc9,#f8fcc9,#fafdca)"></div>
<div style="background:linear-gradient(90deg,#c4e9b1,#c4e9b1,#c4e9b1,#c9ebb3,#d4efb7,#e0f3bc,#ecf8c3,#edf8c3,#edf8c3,#edf8c3,#edf8c3,#edf8c3,#fafdcb,#fdfecc,#fdfecc,#fdfecc,#fdfecc,#fdfecc,#fdfecc,#fdfecc,#fdfecc,#fdfecc,#fdfecc,#fdfecc,#fdfecc,#fdfecc,#fdfecc,#fdfecc,#fdfecc,#fdfecc,#fdfecc,#f7fcc9,#f6fbc8,#f6fbc8,#f7fcc8,#fdfecc,#f9fcca,#f2fac6,#f2fac6,#f4fbc7,#fcfecb,#fafdca,#f2fac6,#f1fac5,#f3fac7,#f9fcca,#f6fbc8,#f2fac6,#f2fac6,#f2fac6,#f4fbc7,#f4fbc7,#f2fac6,#f2fac6,#f2fac6,#f3fac6,#f3fac6,#f2fac6,#f2fac6,#f3fac6,#f3fac7,#f4fbc7,#f6fbc8)"></div>
<div style="background:linear-gradient(90deg,#c4e9b1,#c4e9b1,#c4e9b1,#c8ebb3,#d4efb7,#e1f4bd,#edf8c3,#edf8c3,#edf8c3,#edf8c3,#edf8c3,#edf8c3,#fbfdcb,#fdfecc,#fdfecc,#fdfecc,#fdfecc,#fdfecc,#fdfecc,#fdfecc,#fdfecc,#fdfecc,#fdfecc,#fdfecc,#fdfecc,#fdfecc,#fdfecc,#fdfecc,#fdfecc,#fdfecc,#fcfecc,#f6fcc8,#f6fbc8,#f6fbc8,#f6fcc8,#fcfecc,#f6fbc8,#f2fac6,#f2fac6,#f3fac7,#fcfecc,#f9fdca,#f1fac5,#f1f9c5,#f3fac6,#fbfdcb,#f8fcc9,#f0f9c5,#f0f9c5,#f1f9c5,#f6fbc8,#f5fbc7,#eff9c4,#eff9c4,#eff9c4,#f0f9c5,#f0f9c5,#eff9c4,#eef9c4,#eef8c4,#eef9c4,#eff9c4,#f0f9c5)"></div>
<div style="background:linear-gradient(90deg,#c4e9b1,#c4e9b1,#c4e9b1,#c7eab2,#d4efb7,#e3f5be,#edf8c3,#edf8c3,#edf8c3,#edf8c3,#edf8c3,#edf8c3,#fbfdcb,#fdfecc,#fdfecc,#fdfecc,#fdfecc,#fdfecc,#fdfecc,#fdfecc,#fdfecc,#fdfecc,#fdfecc,#fdfecc,#fdfecc,#fdfecc,#fdfecc,#fdfecc,#fdfecc,#fdfecc,#fbfdcb,#f6fbc8,#f6fbc8,#f6fbc8,#f6fbc8,#fcfecb,#f4fbc7,#f2fac6,#f2fac6,#f3fac6,#fbfdcb,#f7fcc8,#f1f9c5,#f0f9c5,#f2fac6,#fcfecb,#f9fcca,#eff9c4,#eff9c4,#f0f9c5,#f9fdca,#f7fcc9,#edf8c3,#ecf8c3,#ecf8c3,#f1fac5,#f2fac6,#eff9c4,#edf8c3,#eaf7c1,#eaf7c1,#eaf7c2,#e9f7c1)"></div>
<div style="background:linear-gradient(90deg,#c4e9b1,#c4e9b1,#c4e9b1,#c6eab2,#d4efb8,#e5f5bf,#edf8c3,#edf8c3,#edf8c3,#edf8c3,#edf8c3,#eef8c3,#fcfecb,#fdfecc,#fdfecc,#fdfecc,#fdfecc,#fdfecc,#fdfecc,#fdfecc,#fdfecc,#fdfecc,#fdfecc,#fdfecc,#fdfecc,#fdfecc,#fdfecc,#fdfecc,#fdfecc,#fdfecc,#fafdca,#f6fbc8,#f6fbc8,#f6fbc8,#f6fbc8,#fbfdcb,#f3fac7,#f2fac6,#f2fac6,#f2fac6,#fafdca,#f4fbc7,#f0f9c5,#f0f9c5,#f1fac5,#fcfdcb,#f7fcc8,#eff9c4,#eff9c4,#f0f9c5,#fbfdcb,#f7fcc8,#ebf8c2,#ebf7c2,#ecf8c2,#f5fbc8,#f7fcc9,#f3fac7,#f1f9c5,#e7f6c0,#e6f6bf,#e6f6bf,#e4f5be)"></div>
<div style="background:linear-gradient(90deg,#c4e9b1,#c4e9b1,#c4e9b1,#c6eab2,#d4efb8,#e8f6c0,#edf8c3,#edf8c3,#edf8c3,#edf8c3,#edf8c3,#eef8c4,#fcfecb,#fdfecc,#fdfecc,#fdfecc,#fdfecc,#fdfecc,#fdfecc,#fdfecc,#fdfecc,#fdfecc,#fdfecc,#fdfecc,#fdfecc,#fdfecc,#fdfecc,#fdfecc,#fdfecc,#fdfecc,#f9fdca,#f6fbc8,#f6fbc8,#f6fbc8,#f6fbc8,#f9fdca,#f3fac6,#f2fac6,#f2fac6,#f2fac6,#f8fcc9,#f2fac6,#f0f9c5,#f0f9c5,#f1f9c5,#fafdca,#f4fbc7,#eff9c4,#eff9c4,#eff9c4,#fafdca,#f3fac6,#ebf7c2,#ebf7c2,#ebf7c2,#f7fcc9,#fbfdcb,#f9fdca,#f5fbc8,#e6f5bf,#e4f5be,#e4f5be,#e2f4bd)"></div>
<div style="background:linear-gradient(90deg,#c4e9b1,#c4e9b1,#c4e9b1,#c6eab2,#d5efb8,#e9f7c1,#edf8c3,#edf8c3,#edf8c3,#edf8c3,#edf8c3,#eef9c4,#fcfecc,#fdfecc,#fdfecc,#fdfecc,#fdfecc,#fdfecc,#fdfecc,#fdfecc,#fdfecc,#fdfecc,#fdfecc,#fdfecc,#fdfecc,#fdfecc,#fdfecc,#fdfecc,#fdfecc,#fdfecc,#f8fcc9,#f6fbc8,#f6fbc8,#f6fbc8,#f6fbc8,#f7fcc9,#f2fac6,#f2fac6,#f2fac6,#f2fac6,#f6fbc8,#f1fac5,#f0f9c5,#f0f9c5,#f1f9c5,#f8fcc9,#f2fac6,#eff9c4,#eff9c4,#eff9c4,#f8fcc9,#eff9c4,#ebf7c2,#ebf7c2,#ebf7c2,#f5fbc8,#fdfecc,#fcfecc,#f5fbc8,#e5f5be,#e4f5be,#e3f4bd,#e0f3bc)"></div>
<div style="background:linear-gradient(90deg,#c4e9b1,#c4e9b1,#c4e9b1,#c6eab2,#d6efb8,#ebf7c2,#edf8c3,#edf8c3,#edf8c3,#edf8c3,#edf8c3,#eff9c4,#fcfecc,#fdfecc,#fdfecc,#fdfecc,#fdfecc,#fdfecc,#fdfecc,#fdfecc,#fdfecc,#fdfecc,#fdfecc,#fdfecc,#fdfecc,#fdfecc,#fdfecc,#fdfecc,#fdfecc,#fdfecc,#f7fcc9,#f6fbc8,#f6fbc8,#f6fbc8,#f6fbc8,#f5fbc8,#f2fac6,#f2fac6,#f2fac6,#f2fac6,#f4fbc7,#f1f9c5,#f0f9c5,#f0f9c5,#f0f9c5,#f5fbc8,#f0f9c5,#eff9c4,#eff9c4,#eff9c4,#f5fbc7,#edf8c3,#ebf7c2,#ebf7c2,#ebf7c2,#f2fac6,#fdfecc,#fdfecc,#f1fac6,#e4f5be,#e4f5be,#e2f4bd,#e0f3bc)"></div>
<div style="background:linear-gradient(90deg,#c4e9b1,#c4e9b1,#c4e9b1,#c6eab2,#d7f0b8,#ecf8c2,#edf8c3,#edf8c3,#edf8c3,#edf8c3,#edf8c3,#eff9c4,#fdfecc,#fdfecc,#fdfecc,#fdfecc,#fdfecc,#fdfecc,#fdfecc,#fdfecc,#fdfecc,#fdfecc,#fdfecc,#fdfecc,#fdfecc,#fdfecc,#fdfecc,#fdfecc,#fdfecc,#fcfecc,#f6fcc8,#f6fbc8,#f6fbc8,#f6fbc8,#f6fbc8,#f4fbc7,#f2fac6,#f2fac6,#f2fac6,#f2fac6,#f2fac6,#f0f9c5,#f0f9c5,#f0f9c5,#f0f9c5,#f3fac6,#eff9c4,#eff9c4,#eff9c4,#eff9c4,#f2fac6,#ecf8c2,#ebf7c2,#ebf7c2,#ebf7c2,#eff9c4,#fdfecc,#fdfecc,#edf8c3,#e4f5be,#e4f5be,#e2f4bd,#e0f3bc)"></div>
<div style="background:linear-gradient(90deg,#c4e9b1,#c4e9b1,#c4e9b1,#c6eab2,#d8f0b9,#ecf8c3,#edf8c3,#edf8c3,#edf8c3,#edf8c3,#edf8c3,#f0f9c5,#fdfecc,#fdfecc,#fdfecc,#fdfecc,#fdfecc,#fdfecc,#fdfecc,#fdfecc,#fdfecc,#fdfecc,#fdfecc,#fdfecc,#fdfecc,#fdfecc,#fdfecc,#fdfecc,#fdfecc,#fcfecb,#f6fbc8,#f6fbc8,#f6fbc8,#f6fbc8,#f6fbc8,#f3fac7,#f2fac6,#f2fac6,#f2fac6,#f2fac6,#f2fac6,#f0f9c5,#f0f9c5,#f0f9c5,#f0f9c5,#f1fac5,#eff9c4,#eff9c4,#eff9c4,#eff9c4,#eff9c4,#ebf7c2,#ebf7c2,#ebf7c2,#ebf7c2,#edf8c3,#fcfecb,#fcfecb,#e8f6c1,#e4f5be,#e4f5be,#e2f4bd,#e0f3bc)"></div>
<div style="background:linear-gradient(90deg,#c4e9b1,#c4e9b1,#c4e9b1,#c6eab2,#daf1ba,#ecf8c3,#edf8c3,#edf8c3,#edf8c3,#edf8c3,#edf8c3,#f0f9c5,#fdfecc,#fdfecc,#fdfecc,#fdfecc,#fdfecc,#fdfecc,#fdfecc,#fdfecc,#fdfecc,#fdfecc,#fdfecc,#fdfecc,#fdfecc,#fdfecc,#fdfecc,#fdfecc,#fdfecc,#fbfdcb,#f6fbc8,#f6fbc8,#f6fbc8,#f6fbc8,#f6fbc8,#f3fac7,#f2fac6,#f2fac6,#f2fac6,#f2fac6,#f1fac6,#f0f9c5,#f0f9c5,#f0f9c5,#f0f9c5,#f0f9c5,#eff9c4,#eff9c4,#eff9c4,#eff9c4,#eef9c4,#ebf7c2,#ebf7c2,#ebf7c2,#ebf7c2,#ecf8c3,#fbfdcb,#fbfdcb,#e6f5bf,#e4f5be,#e4f5be,#e2f4bd,#e0f3bc)"></div>
<div style="background:linear-gradient(90deg,#c4e9b1,#c4e9b1,#c4e9b1,#c6eab2,#dcf2bb,#edf8c3,#edf8c3,#edf8c3,#edf8c3,#edf8c3,#edf8c3,#f2fac6,#fdfecc,#fdfecc,#fdfecc,#fdfecc,#fdfecc,#fdfecc,#fdfecc,#fdfecc,#fdfecc,#fdfecc,#fdfecc,#fdfecc,#fdfecc,#fdfecc,#fdfecc,#fdfecc,#fdfecc,#fafdca,#f6fbc8,#f6fbc8,#f6fbc8,#f6fbc8,#f6fbc8,#f3fac6,#f2fac6,#f2fac6,#f2fac6,#f2fac6,#f1fac6,#f0f9c5,#f0f9c5,#f0f9c5,#f0f9c5,#f0f9c5,#eff9c4,#eff9c4,#eff9c4,#eff9c4,#eef8c4,#ebf7c2,#ebf7c2,#ebf7c2,#ebf7c2,#ebf8c2,#f9fdca,#f8fcc9,#e5f5bf,#e4f5be,#e4f5be,#e1f4bd,#e0f3bc)"></div>
<div style="background:linear-gradient(90deg,#c4e9b1,#c4e9b1,#c4e9b1,#c6eab2,#def3bc,#edf8c3,#edf8c3,#edf8c3,#edf8c3,#edf8c3,#edf8c3,#f3fac6,#fdfecc,#fdfecc,#fdfecc,#fdfecc,#fdfecc,#fdfecc,#fdfecc,#fdfecc,#fdfecc,#fdfecc,#fdfecc,#fdfecc,#fdfecc,#fdfecc,#fdfecc,#fdfecc,#fdfecc,#f9fdca,#f6fbc8,#f6fbc8,#f6fbc8,#f6fbc8,#f6fbc8,#f3fac6,#f2fac6,#f2fac6,#f2fac6,#f2fac6,#f1fac5,#f0f9c5,#f0f9c5,#f0f9c5,#f0f9c5,#f0f9c5,#eff9c4,#eff9c4,#eff9c4,#eff9c4,#eef8c4,#ebf7c2,#ebf7c2,#ebf7c2,#ebf7c2,#ebf7c2,#f7fcc9,#f4fac7,#e4f5be,#e4f5be,#e4f5be,#e1f4bd,#e0f3bc)"></div>
<div style="background:linear-gradient(90deg,#c4e9b1,#c4e9b1,#c4e9b1,#c6eab2,#e1f4bd,#edf8c3,#edf8c3,#edf8c3,#edf8c3,#edf8c3,#edf8c3,#f3fac6,#fdfecc,#fdfecc,#fdfecc,#fdfecc,#fdfecc,#fdfecc,#fdfecc,#fdfecc,#fdfecc,#fdfecc,#fdfecc,#fdfecc,#fdfecc,#fdfecc,#fdfecc,#fdfecc,#fdfecc,#f8fcc9,#f6fbc8,#f6fbc8,#f6fbc8,#f6fbc8,#f6fbc8,#f3fac6,#f2fac6,#f2fac6,#f2fac6,#f2fac6,#f1fac5,#f0f9c5,#f0f9c5,#f0f9c5,#f0f9c5,#f0f9c5,#eff9c4,#eff9c4,#eff9c4,#eff9c4,#eef8c3,#ebf7c2,#ebf7c2,#ebf7c2,#ebf7c2,#ebf7c2,#f5fbc8,#eff9c4,#e4f5be,#e4f5be,#e4f5be,#e1f4bd,#e0f3bc)"></div>
<div style="background:linear-gradient(90deg,#c4e9b1,#c4e9b1,#c4e9b1,#c6eab2,#e4f5be,#edf8c3,#edf8c3,#edf8c3,#edf8c3,#edf8c3,#edf8c3,#f4fbc7,#fdfecc,#fdfecc,#fdfecc,#fdfecc,#fdfecc,#fdfecc,#fdfecc,#fdfecc,#fdfecc,#fdfecc,#fdfecc,#fdfecc,#fdfecc,#fdfecc,#fdfecc,#fdfecc,#fdfecc,#f7fcc9,#f6fbc8,#f6fbc8,#f6fbc8,#f6fbc8,#f6fbc8,#f3fac6,#f2fac6,#f2fac6,#f2fac6,#f2fac6,#f1fac5,#f0f9c5,#f0f9c5,#f0f9c5,#f0f9c5,#f0f9c5,#eff9c4,#eff9c4,#eff9c4,#eff9c4,#edf8c3,#ebf7c2,#ebf7c2,#ebf7c2,#ebf7c2,#ebf7c2,#f3fac6,#ebf7c2,#e4f5be,#e4f5be,#e4f5be,#e1f4bc,#e0f3bc)"></div>
<div style="background:linear-gradient(90deg,#c4e9b1,#c4e9b1,#c4e9b1,#c7eab2,#e6f6bf,#edf8c3,#edf8c3,#edf8c3,#edf8c3,#edf8c3,#edf8c3,#f5fbc8,#fdfecc,#fdfecc,#fdfecc,#fdfecc,#fdfecc,#fdfecc,#fdfecc,#fdfecc,#fdfecc,#fdfecc,#fdfecc,#fdfecc,#fdfecc,#fdfecc,#fdfecc,#fdfecc,#fdfecc,#f7fcc8,#f6fbc8,#f6fbc8,#f6fbc8,#f6fbc8,#f6fbc8,#f2fac6,#f2fac6,#f2fac6,#f2fac6,#f2fac6,#f1fac5,#f0f9c5,#f0f9c5,#f0f9c5,#f0f9c5,#f0f9c5,#eff9c4,#eff9c4,#eff9c4,#eff9c4,#edf8c3,#ebf7c2,#ebf7c2,#ebf7c2,#ebf7c2,#ebf7c2,#f1fac5,#e8f6c0,#e4f5be,#e4f5be,#e4f5be,#e1f3bc,#e0f3bc)"></div>
<div style="background:linear-gradient(90deg,#c4e9b1,#c4e9b1,#c4e9b1,#c7eab2,#e8f6c0,#edf8c3,#edf8c3,#edf8c3,#edf8c3,#edf8c3,#edf8c3,#f6fbc8,#fdfecc,#fdfecc,#fdfecc,#fdfecc,#fdfecc,#fdfecc,#fdfecc,#fdfecc,#fdfecc,#fdfecc,#fdfecc,#fdfecc,#fdfecc,#fdfecc,#fdfecc,#fdfecc,#fdfecc,#f6fcc8,#f6fbc8,#f6fbc8,#f6fbc8,#f6fbc8,#f6fbc8,#f2fac6,#f2fac6,#f2fac6,#f2fac6,#f2fac6,#f1fac5,#f0f9c5,#f0f9c5,#f0f9c5,#f0f9c5,#f0f9c5,#eff9c4,#eff9c4,#eff9c4,#eff9c4,#edf8c3,#ebf7c2,#ebf7c2,#ebf7c2,#ebf7c2,#ebf7c2,#eff9c4,#e7f6c0,#e4f5be,#e4f5be,#e4f5be,#e1f3bc,#e0f3bc)"></div>
<div style="background:linear-gradient(90deg,#c4e9b1,#c4e9b1,#c4e9b1,#c7eab2,#e9f7c1,#edf8c3,#edf8c3,#edf8c3,#edf8c3,#edf8c3,#edf8c3,#f7fcc9,#fdfecc,#fdfecc,#fdfecc,#fdfecc,#fdfecc,#fdfecc,#fdfecc,#fdfecc,#fdfecc,#fdfecc,#fdfecc,#fdfecc,#fdfecc,#fdfecc,#fdfecc,#fdfecc,#fdfecc,#f6fbc8,#f6fbc8,#f6fbc8,#f6fbc8,#f6fbc8,#f6fbc8,#f2fac6,#f2fac6,#f2fac6,#f2fac6,#f2fac6,#f1fac5,#f0f9c5,#f0f9c5,#f0f9c5,#f0f9c5,#f0f9c5,#eff9c4,#eff9c4,#eff9c4,#eff9c4,#edf8c3,#ebf7c2,#ebf7c2,#ebf7c2,#ebf7c2,#ebf7c2,#eef8c4,#e5f5bf,#e4f5be,#e4f5be,#e4f5be,#e1f3bc,#e0f3bc)"></div>
</div></div>
<div class="f" style="left:133.0px;top:674.0px;width:1251.4px;height:495.2px;clip-path:polygon(0.0px 0.0px,1251.4px 0.0px,1251.4px 441.0px,1239.0px 441.0px,1239.0px 438.5px,1226.6px 438.5px,1226.6px 438.5px,1214.2px 438.5px,1214.2px 438.5px,1201.8px 438.5px,1201.8px 436.1px,1189.4px 436.1px,1189.4px 436.1px,1177.0px 436.1px,1177.0px 436.1px,1164.6px 436.1px,1164.6px 433.7px,1152.2px 433.7px,1152.2px 433.7px,1139.8px 433.7px,1139.8px 433.7px,1127.4px 433.7px,1127.4px 431.2px,1115.0px 431.2px,1115.0px 431.2px,1102.6px 431.2px,1102.6px 431.2px,1090.2px 431.2px,1090.2px 431.2px,1077.8px 431.2px,1077.8px 428.8px,1065.4px 428.8px,1065.4px 428.8px,1053.0px 428.8px,1053.0px 428.8px,1040.6px 428.8px,1040.6px 426.3px,1028.2px 426.3px,1028.2px 426.3px,1015.8px 426.3px,1015.8px 426.3px,1003.4px 426.3px,1003.4px 423.8px,991.0px 423.8px,991.0px 423.8px,978.6px 423.8px,978.6px 423.8px,966.2px 423.8px,966.2px 421.4px,953.8px 421.4px,953.8px 421.4px,941.4px 421.4px,941.4px 419.0px,929.0px 419.0px,929.0px 419.0px,916.6px 419.0px,916.6px 416.5px,904.2px 416.5px,904.2px 416.5px,891.8px 416.5px,891.8px 416.5px,879.4px 416.5px,879.4px 414.0px,867.0px 414.0px,867.0px 414.0px,854.6px 414.0px,854.6px 414.0px,842.2px 414.0px,842.2px 411.6px,829.8px 411.6px,829.8px 409.2px,817.4px 409.2px,817.4px 409.2px,805.0px 409.2px,805.0px 406.7px,792.6px 406.7px,792.6px 406.7px,780.2px 406.7px,780.2px 404.2px,767.8px 404.2px,767.8px 404.2px,755.4px 404.2px,755.4px 401.8px,743.0px 401.8px,743.0px 399.3px,730.6px 399.3px,730.6px 399.3px,718.2px 399.3px,718.2px 396.9px,705.8px 396.9px,705.8px 394.5px,693.4px 394.5px,693.4px 392.0px,681.0px 392.0px,681.0px 389.5px,668.6px 389.5px,668.6px 387.1px,656.2px 387.1px,656.2px 382.2px,643.8px 382.2px,643.8px 379.8px,631.4px 379.8px,631.4px 374.8px,619.0px 374.8px,619.0px 372.4px,606.6px 372.4px,606.6px 367.5px,594.2px 367.5px,594.2px 362.6px,581.8px 362.6px,581.8px 357.7px,569.4px 357.7px,569.4px 352.8px,557.0px 352.8px,557.0px 347.9px,544.6px 347.9px,544.6px 340.5px,532.2px 340.5px,532.2px 335.7px,519.8px 335.7px,519.8px 328.3px,507.4px 328.3px,507.4px 323.4px,495.0px 323.4px,495.0px 316.0px,482.6px 316.0px,482.6px 311.2px,470.2px 311.2px,470.2px 306.2px,457.8px 306.2px,457.8px 301.4px,445.4px 301.4px,445.4px 296.5px,433.0px 296.5px,433.0px 291.5px,420.6px 291.5px,420.6px 289.1px,408.2px 289.1px,408.2px 286.7px,395.8px 286.7px,395.8px 281.8px,383.4px 281.8px,383.4px 279.3px,371.0px 279.3px,371.0px 274.4px,358.6px 274.4px,358.6px 272.0px,346.2px 272.0px,346.2px 269.5px,333.8px 269.5px,333.8px 267.0px,321.4px 267.0px,321.4px 264.6px,309.0px 264.6px,309.0px 262.2px,296.6px 262.2px,296.6px 259.7px,284.2px 259.7px,284.2px 257.2px,271.8px 257.2px,271.8px 254.8px,259.4px 254.8px,259.4px 254.8px,247.0px 254.8px,247.0px 252.4px,234.6px 252.4px,234.6px 249.9px,222.2px 249.9px,222.2px 249.9px,209.8px 249.9px,209.8px 247.5px,197.4px 247.5px,197.4px 247.5px,185.0px 247.5px,185.0px 245.0px,172.6px 245.0px,172.6px 242.5px,160.2px 242.5px,160.2px 242.5px,147.8px 242.5px,147.8px 240.1px,135.4px 240.1px,135.4px 237.6px,123.0px 237.6px,123.0px 237.6px,110.6px 237.6px,110.6px 235.2px,98.2px 235.2px,98.2px 235.2px,85.8px 235.2px,85.8px 235.2px,73.4px 235.2px,73.4px 232.8px,61.0px 232.8px,61.0px 232.8px,48.6px 232.8px,48.6px 232.8px,36.2px 232.8px,36.2px 232.8px,23.8px 232.8px,23.8px 232.8px,11.4px 232.8px,11.4px 230.3px,0.0px 230.3px)">
<div class="g" style="top:-18px;width:1251.4px">
<div style="background:linear-gradient(90deg,#fdfecc,#fdfecc,#fdfecc,#fdfecc,#fdfecc,#fdfecc,#fdfecc,#fdfecc,#fdfecc,#fdfecc,#fdfecc,#fdfecc,#fdfecc,#fdfecc,#fdfecc,#fdfecc,#fdfecc,#fdfecc,#fdfecc,#fdfecc,#fdfecc,#fdfecc,#fdfecc,#fdfecc,#fdfecc,#fdfecc,#fdfecc,#fdfecc,#fdfecc,#fdfecc,#fdfecc,#fdfecc,#fdfecc,#fdfecc,#fdfecc,#fdfecc,#fdfecc,#fdfecc,#fdfecc,#fdfecc,#fdfecc,#fdfecc,#fdfecc,#fdfecc,#fdfecc,#fdfecc,#fdfecc,#fdfecc,#fdfecc,#fdfecc,#fdfecc,#fdfecc,#fdfecc,#fdfecc,#fdfecc,#fdfecc,#fdfecc,#fdfecc,#fdfecc,#fdfecc,#fdfecc,#fdfecc,#fdfecc,#f8fcc9)"></div>
<div style="background:linear-gradient(90deg,#fdfecc,#fdfecc,#fdfecc,#fdfecc,#fdfecc,#fdfecc,#fdfecc,#fdfecc,#fdfecc,#fdfecc,#fdfecc,#fdfecc,#fdfecc,#fdfecc,#fdfecc,#fdfecc,#fdfecc,#fdfecc,#fdfecc,#fdfecc,#fdfecc,#fdfecc,#fdfecc,#fdfecc,#fcfecc,#fcfdcb,#fbfdcb,#fafdca,#fafdca,#f9fdca,#f9fcca,#f9fcca,#f9fcca,#f9fcca,#f9fdca,#fafdca,#fafdcb,#fbfdcb,#fbfdcb,#fcfecb,#fcfecc,#fcfecc,#fcfecc,#fdfecc,#fdfecc,#fdfecc,#fdfecc,#fdfecc,#fdfecc,#fdfecc,#fdfecc,#fdfecc,#fdfecc,#fdfecc,#fdfecc,#fdfecc,#fdfecc,#fdfecc,#fdfecc,#fdfecc,#fdfecc,#fdfecc,#fdfecc,#f6fcc8)"></div>
<div style="background:linear-gradient(90deg,#fdfecc,#fdfecc,#fdfecc,#fdfecc,#fdfecc,#fdfecc,#fdfecc,#fdfecc,#fdfecc,#fdfecc,#fdfecc,#fdfecc,#fdfecc,#fdfecc,#fdfecc,#fdfecc,#fdfecc,#fdfecc,#fdfecc,#fdfecc,#fdfecc,#fcfecc,#fbfdcb,#f9fdca,#f6fcc8,#f2fac6,#eef8c4,#ebf7c2,#e7f6c0,#e5f5bf,#e3f4be,#e3f4bd,#e3f4bd,#e3f4be,#e4f5be,#e7f6c0,#eaf7c1,#edf8c3,#f0f9c5,#f2fac6,#f4fbc7,#f6fbc8,#f7fcc9,#f8fcc9,#fafdca,#fbfdcb,#fcfecb,#fcfecc,#fdfecc,#fcfecc,#fdfecc,#fdfecc,#fdfecc,#fdfecc,#fdfecc,#fdfecc,#fdfecc,#fdfecc,#fdfecc,#fdfecc,#fdfecc,#fdfecc,#fdfecc,#f5fbc7)"></div>
<div style="background:linear-gradient(90deg,#fdfecc,#fdfecc,#fdfecc,#fcfecb,#fcfdcb,#fbfdcb,#fbfdcb,#fcfecb,#fcfecc,#fcfecc,#fdfecc,#fdfecc,#fdfecc,#fdfecc,#fdfecc,#fdfecc,#fdfecc,#fdfecc,#fdfecc,#fdfecc,#fcfecc,#f9fdca,#f5fbc8,#f0f9c5,#e6f6bf,#d9f1ba,#ccecb4,#c1e8b0,#b6e4ad,#aee1ab,#a9dfa9,#a6dea9,#a6dea8,#a7dfa9,#abe0aa,#b3e3ac,#bbe6ae,#c5e9b1,#ceedb5,#d5efb8,#ddf2bb,#e2f4bd,#e7f6c0,#ebf7c2,#f0f9c5,#f3fac7,#f6fbc8,#f8fcc9,#fafdca,#fafdca,#fcfecc,#fdfecc,#fdfecc,#fdfecc,#fdfecc,#fdfecc,#fdfecc,#fdfecc,#fdfecc,#fdfecc,#fdfecc,#fcfecb,#fbfdcb,#f2fac6)"></div>
<div style="background:linear-gradient(90deg,#fdfecc,#fdfecc,#fcfecb,#fafdca,#f9fcca,#f8fcc9,#f8fcc9,#f9fdca,#fafdcb,#fbfdcb,#fcfdcb,#fdfecc,#fdfecc,#fdfecc,#fdfecc,#fdfecc,#fdfecc,#fdfecc,#fdfecc,#fdfecc,#fafdca,#f2fac6,#eaf7c2,#dff3bc,#c9ebb3,#ace1aa,#93d7a5,#80d0a3,#73c8a3,#6bc2a4,#65bea4,#63bca4,#63bba4,#63bca4,#66bea4,#6dc4a4,#74c9a3,#7ecfa3,#8dd5a5,#9cdba6,#aae0aa,#b8e5ad,#c4e9b1,#ceedb5,#d8f0b9,#e1f4bc,#e7f6c0,#eef8c3,#f3fac6,#f2fac6,#fafdca,#fbfdcb,#fdfecc,#fdfecc,#fdfecc,#fdfecc,#fdfecc,#fdfecc,#fdfecc,#fdfecc,#fcfecb,#f9fdca,#f7fcc9,#eff9c4)"></div>
<div style="background:linear-gradient(90deg,#fdfecc,#fdfecc,#fafdca,#f6fbc8,#f5fbc7,#f4fbc7,#f4fbc7,#f6fbc8,#f7fcc9,#f8fcc9,#fafdca,#fdfecc,#fdfecc,#fdfecc,#fdfecc,#fdfecc,#fdfecc,#fdfecc,#fdfecc,#fdfecc,#f5fbc8,#e7f6c0,#dbf1ba,#c9ebb3,#a6dea8,#7ecfa3,#69c1a4,#5eb5a4,#55a7a3,#519ea2,#4e98a1,#4c94a0,#4c92a0,#4c94a0,#4e97a1,#519ea2,#54a5a3,#5aaea3,#61b8a4,#6ac2a4,#75c9a3,#81d1a3,#94d7a5,#aae0aa,#b8e5ad,#c4e9b1,#ceedb5,#dbf1ba,#e7f6c0,#e6f6bf,#f4fbc7,#f6fcc8,#fbfdcb,#fdfecc,#fdfecc,#fdfecc,#fdfecc,#fdfecc,#fdfecc,#fdfecc,#fafdcb,#f5fbc7,#f1fac6,#edf8c3)"></div>
<div style="background:linear-gradient(90deg,#fdfecc,#fdfecc,#f7fcc9,#f2fac6,#f0f9c5,#eef9c4,#eef9c4,#f1fac5,#f4fbc7,#f5fbc7,#f7fcc9,#fcfecb,#fdfecc,#fdfecc,#fdfecc,#fdfecc,#fdfecc,#fdfecc,#fdfecc,#fdfecc,#f0f9c5,#dbf1ba,#caebb4,#b4e3ac,#8ad4a4,#68c0a4,#5bb0a3,#519da1,#488a9f,#45819e,#437b9d,#42779d,#41769d,#42789d,#437c9d,#45829e,#47889f,#4b91a0,#519ea2,#59ada3,#5eb5a4,#65bda4,#71c7a3,#8bd4a4,#9bdaa6,#a9dfa9,#b5e4ad,#c7eab2,#daf1ba,#daf1ba,#ecf8c2,#eff9c4,#f8fcc9,#fdfecc,#fdfecc,#fdfecc,#fdfecc,#fdfecc,#fdfecc,#fdfecc,#f8fcc9,#eff9c4,#ecf8c2,#eaf7c2)"></div>
<div style="background:linear-gradient(90deg,#fdfecc,#fdfecc,#f4fbc7,#edf8c3,#ebf7c2,#e9f7c1,#e9f7c1,#edf8c3,#f0f9c5,#f1fac5,#f4fbc7,#fafdcb,#fdfecc,#fdfecc,#fdfecc,#fdfecc,#fdfecc,#fdfecc,#fdfecc,#fdfecc,#ebf7c2,#cfedb6,#bce6af,#a6dea8,#7acda3,#60b7a4,#54a5a3,#498c9f,#42799d,#406f9c,#3e699b,#3e659a,#3e649a,#3e689b,#3f6d9c,#41739c,#42789d,#447f9e,#498c9f,#529fa2,#56a8a3,#5cb2a3,#62baa4,#78cca3,#88d3a4,#99daa6,#a7dfa9,#b7e4ad,#ceedb5,#d0eeb6,#e3f4bd,#e7f6c0,#f3fac6,#fdfecc,#fdfecc,#fdfecc,#fdfecc,#fdfecc,#fdfecc,#fdfecc,#f6fbc8,#eaf7c2,#e7f6c0,#e6f6bf)"></div>
<div style="background:linear-gradient(90deg,#fdfecc,#fdfecc,#f3fac6,#e9f7c1,#e6f5bf,#e4f5be,#e4f5be,#e8f6c1,#edf8c3,#eef8c4,#f2fac6,#f9fcca,#fdfecc,#fdfecc,#fdfecc,#fdfecc,#fdfecc,#fdfecc,#fdfecc,#fdfecc,#e8f6c0,#caebb3,#b5e4ad,#9fdca7,#74c9a3,#5eb4a4,#519fa2,#46839e,#40709c,#3e659a,#3f5d97,#3f5896,#3f5896,#3f5c97,#3e639a,#3f6a9b,#40709c,#41759d,#45819e,#4d95a0,#519fa2,#58aca3,#5eb5a4,#6ec4a4,#7acda3,#8ed6a5,#a1dca7,#ade1ab,#c3e9b1,#c8eab3,#d9f1b9,#def2bb,#edf8c3,#fbfdcb,#fdfecc,#fdfecc,#fdfecc,#fdfecc,#fdfecc,#fdfecc,#f5fbc7,#e7f6c0,#e3f4be,#e0f3bc)"></div>
<div style="background:linear-gradient(90deg,#fdfecc,#fdfecc,#f2fac6,#e6f5bf,#e1f4bd,#def3bb,#def3bc,#e4f5be,#e9f7c1,#eaf7c2,#f0f9c5,#f7fcc9,#fdfecc,#fdfecc,#fdfecc,#fdfecc,#fdfecc,#fdfecc,#fdfecc,#fdfecc,#e8f6c0,#cbebb4,#b6e4ad,#9edba6,#74c8a3,#5eb4a4,#509ca1,#45819e,#3f6d9c,#3e6099,#3f5695,#405191,#405191,#3f5695,#3f5c97,#3e6299,#3e699b,#406f9c,#427a9d,#498c9f,#4e98a1,#55a8a3,#5db3a3,#65bea4,#71c7a3,#84d2a4,#9cdba6,#a7dfa9,#b8e5ad,#bfe7af,#ceedb5,#d4efb8,#e5f5bf,#f7fcc9,#fcfecc,#fdfecc,#fdfecc,#fdfecc,#fdfecc,#fcfecc,#f3fac6,#e4f5be,#dff3bc,#dbf2ba)"></div>
<div style="background:linear-gradient(90deg,#fdfecc,#fdfecc,#f2fac6,#e4f5be,#ddf2bb,#d9f1ba,#daf1ba,#e0f3bc,#e5f5bf,#e7f6c0,#eef8c4,#f6fbc8,#fdfecc,#fdfecc,#fdfecc,#fdfecc,#fdfecc,#fdfecc,#fdfecc,#fdfecc,#eaf7c1,#d0edb6,#bce6ae,#a0dca7,#76caa3,#5fb5a4,#519da1,#46839e,#40709c,#3e6199,#3f5795,#405291,#405191,#3f5494,#3f5896,#3f5e98,#3e649a,#3f6a9b,#41769d,#46859e,#4c93a0,#54a5a2,#5cb2a3,#61b8a4,#68c0a4,#7acda3,#94d8a5,#a1dca7,#ade1ab,#b6e4ad,#c4e9b1,#caebb4,#ddf2bb,#eff9c4,#f8fcc9,#fdfecc,#fdfecc,#fdfecc,#fdfecc,#f9fdca,#f0f9c5,#e1f3bc,#dcf2bb,#d9f1b9)"></div>
<div style="background:linear-gradient(90deg,#fdfecc,#fdfecc,#f2fac6,#e3f4be,#dbf1ba,#d6f0b8,#d7f0b9,#dcf2bb,#e1f4bd,#e5f5bf,#ecf8c3,#f5fbc8,#fdfecc,#fdfecc,#fdfecc,#fdfecc,#fdfecc,#fdfecc,#fdfecc,#fdfecc,#ecf8c3,#d5efb8,#c2e8b0,#a4dea8,#7acda3,#61b8a4,#53a1a2,#47889f,#41769d,#3e679b,#3f5c97,#3f5795,#3f5594,#3f5795,#3f5996,#3f5d97,#3e6199,#3e679b,#41729c,#45809e,#4b90a0,#54a4a2,#5cb2a3,#5eb5a4,#63bba4,#72c7a3,#8ad4a4,#99daa6,#a4dda8,#ade1ab,#b9e5ae,#c1e8b0,#d3efb7,#e3f4be,#eef9c4,#f5fbc8,#fafdca,#fcfecb,#f7fcc9,#f3fac6,#ecf8c3,#ddf2bb,#d9f1b9,#d7f0b9)"></div>
<div style="background:linear-gradient(90deg,#fdfecc,#fdfecc,#f3fac6,#e3f5be,#dbf2ba,#d6efb8,#d7f0b9,#daf1ba,#dff3bc,#e4f5be,#ecf8c3,#f6fbc8,#fdfecc,#fdfecc,#fdfecc,#fdfecc,#fdfecc,#fdfecc,#fdfecc,#fdfecc,#edf8c3,#daf1ba,#c7eab2,#a9dfa9,#7fd0a3,#63bca4,#55a7a3,#4a8fa0,#437c9d,#406e9c,#3e639a,#3f5e98,#3f5b97,#3f5c97,#3f5d97,#3e5f98,#3e6299,#3e679b,#40719c,#447e9e,#4a8fa0,#54a6a3,#5db2a3,#5db3a3,#5fb6a4,#6ac2a4,#7ed0a3,#8fd6a5,#99daa6,#a4dda8,#aee1ab,#b6e4ad,#c7eab2,#d4efb7,#e0f3bc,#e8f6c0,#edf8c3,#eff9c4,#edf8c3,#eaf7c1,#e7f6c0,#daf1ba,#d6f0b8,#d6f0b8)"></div>
<div style="background:linear-gradient(90deg,#fdfecc,#fdfecc,#f3fac6,#e4f5be,#ddf2bb,#d6f0b8,#d9f1ba,#dcf2bb,#dff3bc,#e4f5be,#edf8c3,#f7fcc9,#fdfecc,#fdfecc,#fdfecc,#fdfecc,#fdfecc,#fdfecc,#fdfecc,#fdfecc,#edf8c3,#dbf1ba,#c8ebb3,#ace0aa,#85d2a4,#67bfa4,#59ada3,#4d96a1,#45829e,#41769d,#3f6c9c,#3e649a,#3e6199,#3e6199,#3e6299,#3e649a,#3e679b,#3f6b9b,#41749c,#44809e,#4b90a0,#55a7a3,#5db2a3,#5db3a3,#5eb4a4,#64bca4,#77cba3,#84d2a4,#8ed6a5,#99d9a6,#a3dda8,#abe0aa,#b9e5ae,#c3e9b1,#ceedb5,#d6f0b8,#dcf2bb,#dff3bc,#e0f3bc,#dff3bc,#e1f4bd,#d7f0b9,#d3efb7,#d3eeb7)"></div>
<div style="background:linear-gradient(90deg,#fdfecc,#fdfecc,#f3fac6,#e5f5bf,#def2bb,#d7f0b9,#dcf2bb,#e0f3bc,#e2f4bd,#e6f6bf,#eef9c4,#f8fcc9,#fdfecc,#fdfecc,#fdfecc,#fdfecc,#fdfecc,#fdfecc,#fdfecc,#fdfecc,#ecf8c2,#d8f0b9,#c7eab2,#ade1aa,#8bd4a4,#6cc3a4,#5cb1a3,#509ba1,#47889f,#447f9e,#41749c,#3f6b9b,#3e689b,#3e669b,#3e679b,#3e699b,#3f6d9c,#40729c,#427a9d,#46849e,#4c92a0,#56a9a3,#5db2a3,#5db3a3,#5db3a3,#61b8a4,#71c6a4,#7acda3,#83d1a4,#8dd5a4,#96d9a5,#9fdca7,#a9dfa9,#b1e2ac,#bae6ae,#c3e9b1,#c9ebb3,#ceedb5,#d1eeb6,#d3eeb7,#d8f0b9,#d4efb8,#d1eeb6,#cfedb5)"></div>
<div style="background:linear-gradient(90deg,#fdfecc,#fcfecc,#f3fac6,#e6f5bf,#def3bb,#d8f0b9,#dff3bc,#e4f5be,#e6f5bf,#eaf7c1,#f1f9c5,#f9fdca,#fdfecc,#fdfecc,#fdfecc,#fdfecc,#fdfecc,#fdfecc,#fdfecc,#fdfecc,#e9f7c1,#d3eeb7,#c2e8b0,#ace0aa,#8fd6a5,#71c6a4,#5eb4a4,#52a0a2,#4b90a0,#47879f,#437b9d,#41729c,#406e9c,#3f6d9c,#3f6d9c,#40709c,#41739c,#42799d,#45829e,#488b9f,#4d96a1,#57aaa3,#5db3a3,#5db3a3,#5db3a3,#5fb5a4,#6ac2a4,#73c8a3,#79cca3,#80d0a3,#8ad4a4,#92d7a5,#9adaa6,#a1dca7,#a8dfa9,#afe2ab,#b6e4ad,#bde6af,#c3e9b1,#c7eab2,#ceedb5,#d3eeb7,#d0edb6,#ccecb4)"></div>
<div style="background:linear-gradient(90deg,#fdfecc,#fbfdcb,#f2fac6,#e7f6c0,#def3bb,#daf1ba,#e2f4bd,#e8f6c0,#eaf7c2,#eef9c4,#f4fbc7,#fbfdcb,#fdfecc,#fdfecc,#fdfecc,#fdfecc,#fdfecc,#fdfecc,#fdfecc,#fcfecc,#e7f6c0,#cdecb5,#bce6af,#aae0aa,#95d8a5,#75c9a3,#5fb6a4,#54a5a2,#4e97a1,#4b90a0,#46839e,#427a9d,#41769d,#41759d,#41759d,#42779d,#437b9d,#45829e,#488b9f,#4c93a0,#509ba1,#58aba3,#5db3a3,#5db3a3,#5db3a3,#5eb4a4,#65bea4,#6cc3a4,#72c7a3,#77cba3,#7dcfa3,#85d2a4,#8dd5a4,#93d7a5,#99d9a6,#9fdca6,#a5dea8,#ace0aa,#b4e3ac,#bbe6ae,#c7eab2,#d4efb8,#d1eeb6,#cbecb4)"></div>
<div style="background:linear-gradient(90deg,#fbfdcb,#f7fcc9,#f0f9c5,#e7f6c0,#def3bb,#dcf2ba,#e4f5be,#ecf8c2,#eff9c4,#f3fac6,#f7fcc9,#fcfecb,#fdfecc,#fdfecc,#fdfecc,#fdfecc,#fdfecc,#fdfecc,#fdfecc,#fcfecc,#e5f5bf,#c9ebb3,#b8e5ae,#a9dfa9,#9adaa6,#7acda3,#62baa4,#57aba3,#52a0a2,#4f99a1,#498d9f,#46849e,#44809e,#447f9e,#447f9e,#45819e,#47869f,#498d9f,#4d95a0,#509ca1,#52a1a2,#59ada3,#5db3a3,#5db3a3,#5eb4a4,#5fb5a4,#63bca4,#67c0a4,#6cc3a4,#70c6a4,#75caa3,#7acda3,#80d0a3,#87d3a4,#8cd5a4,#92d7a5,#98d9a6,#9fdca6,#a7dfa9,#b2e3ac,#c4e9b1,#d8f0b9,#d6f0b8,#ceedb5)"></div>
<div style="background:linear-gradient(90deg,#f8fcc9,#f1fac6,#ecf8c3,#e7f6c0,#def2bb,#def2bb,#e6f6bf,#eff9c4,#f3fac6,#f7fcc9,#fafdca,#fdfecc,#fdfecc,#fdfecc,#fdfecc,#fdfecc,#fdfecc,#fdfecc,#fdfecc,#fcfecb,#e5f5bf,#caebb3,#bae5ae,#aae0aa,#9edba6,#80d0a3,#69c1a4,#5cb2a3,#56a9a3,#53a3a2,#4f99a1,#4c92a0,#4a8d9f,#498c9f,#498d9f,#4a8fa0,#4c94a0,#4f9aa1,#52a0a2,#54a5a3,#56a9a3,#5bb0a3,#5eb5a4,#5fb6a4,#60b7a4,#62b9a4,#65bea4,#68c0a4,#6ac2a4,#6ec4a4,#71c6a4,#75c9a3,#79cca3,#7dcfa3,#83d1a4,#89d3a4,#8fd6a5,#96d8a5,#9fdca7,#afe1ab,#c5e9b1,#dcf2bb,#def2bb,#d7f0b9)"></div>
<div style="background:linear-gradient(90deg,#f4fbc7,#ebf7c2,#e7f6c0,#e6f5bf,#def3bb,#e0f3bc,#e9f6c1,#f1fac6,#f7fcc9,#fafdcb,#fcfecc,#fdfecc,#fdfecc,#fdfecc,#fdfecc,#fdfecc,#fdfecc,#fdfecc,#fdfecc,#fcfecb,#e6f5bf,#cfedb6,#c1e8b0,#b1e2ac,#a3dda8,#8bd4a4,#75c9a3,#64bca4,#5db3a3,#59aea3,#56a8a3,#53a3a2,#529fa2,#519ea2,#519ea2,#52a1a2,#54a4a2,#56a8a3,#58aca3,#5bafa3,#5db2a3,#60b7a4,#62baa4,#64bda4,#67bfa4,#6ac1a4,#6fc5a4,#6fc5a4,#70c6a4,#71c6a4,#72c8a3,#75c9a3,#78cba3,#7bcea3,#7fd0a3,#85d2a4,#8bd4a4,#93d7a5,#9edba6,#b1e2ac,#c7eab2,#dff3bc,#e6f5bf,#e6f5bf)"></div>
<div style="background:linear-gradient(90deg,#edf8c3,#e3f5be,#e2f4bd,#e4f5be,#def3bc,#e3f4bd,#ebf7c2,#f4fbc7,#fafdca,#fcfecc,#fdfecc,#fdfecc,#fdfecc,#fdfecc,#fdfecc,#fdfecc,#fdfecc,#fdfecc,#fdfecc,#fcfecb,#e9f7c1,#d9f1b9,#cbecb4,#bce6af,#ace0aa,#99daa6,#87d3a4,#75c9a3,#69c1a4,#64bca4,#61b8a4,#5eb5a4,#5db3a3,#5cb2a3,#5cb2a3,#5db3a3,#5eb5a4,#60b7a4,#62baa4,#64bda4,#67bfa4,#6bc2a4,#6fc5a4,#72c7a3,#75c9a3,#77cba3,#7acda3,#7acda3,#7acda3,#7acda3,#7acda3,#7acda3,#7ccea3,#7fd0a3,#83d1a4,#88d3a4,#8ed6a5,#97d9a5,#a4dea8,#bae6ae,#ccecb4,#e2f4bd,#edf8c3,#f2fac6)"></div>
<div style="background:linear-gradient(90deg,#e3f4bd,#dbf2ba,#dbf2ba,#e2f4bd,#dff3bc,#e5f5bf,#edf8c3,#f6fbc8,#fcfecb,#fdfecc,#fdfecc,#fdfecc,#fdfecc,#fdfecc,#fdfecc,#fdfecc,#fdfecc,#fdfecc,#fdfecc,#fcfecc,#eff9c4,#e3f4be,#d7f0b8,#c8eab3,#b8e5ad,#aae0aa,#9edba6,#8fd6a5,#81d1a3,#7acda3,#75caa3,#73c8a3,#71c6a4,#70c6a4,#70c6a4,#71c7a3,#72c7a3,#74c9a3,#76caa3,#79cca3,#7bcea3,#7fd0a3,#84d2a4,#87d3a4,#89d4a4,#8bd4a4,#8cd5a4,#8cd4a4,#8ad4a4,#89d3a4,#87d3a4,#87d3a4,#87d3a4,#8ad4a4,#8cd5a4,#91d6a5,#96d8a5,#9edba6,#afe2ab,#c6eab2,#d3efb7,#e6f5bf,#f3fac7,#f9fdca)"></div>
<div style="background:linear-gradient(90deg,#d8f1b9,#d3efb7,#d6efb8,#dff3bc,#e0f3bc,#e7f6c0,#eff9c4,#f7fcc9,#fcfecc,#fdfecc,#fdfecc,#fdfecc,#fdfecc,#fdfecc,#fdfecc,#fdfecc,#fdfecc,#fdfecc,#fdfecc,#fdfecc,#f5fbc8,#ecf8c3,#e2f4bd,#d3efb7,#c5eab2,#bbe6ae,#b2e3ac,#aae0aa,#a1dda7,#9bdaa6,#96d9a5,#94d8a5,#92d7a5,#91d7a5,#91d7a5,#92d7a5,#93d7a5,#94d8a5,#96d8a5,#98d9a5,#9adaa6,#9ddba6,#9fdca7,#a0dca7,#a0dca7,#9fdca7,#9fdca6,#9ddba6,#9cdba6,#9adaa6,#97d9a5,#95d8a5,#95d8a5,#96d9a5,#98d9a6,#9bdaa6,#9fdca7,#a7dfa9,#bce6af,#d2eeb7,#def2bb,#ebf7c2,#f8fcc9,#fcfecb)"></div>
<div style="background:linear-gradient(90deg,#d4efb7,#ccecb4,#d0eeb6,#dcf2ba,#e2f4bd,#e9f7c1,#f1fac5,#f8fcc9,#fcfecc,#fdfecc,#fdfecc,#fdfecc,#fdfecc,#fdfecc,#fdfecc,#fdfecc,#fdfecc,#fdfecc,#fdfecc,#fdfecc,#fafdca,#f4fbc7,#ebf7c2,#dff3bc,#d3efb7,#caebb4,#c4e9b1,#bfe7b0,#bbe6ae,#b7e5ad,#b4e3ac,#b3e3ac,#b2e3ac,#b2e2ac,#b1e2ac,#b2e2ac,#b2e2ac,#b2e3ac,#b3e3ac,#b3e3ac,#b4e3ac,#b5e4ad,#b7e4ad,#b5e4ad,#b4e3ac,#b2e3ac,#b0e2ab,#aee1ab,#aee1ab,#ace1aa,#a6dea8,#a2dda8,#a2dda7,#a5dea8,#a7dfa9,#a6dea9,#a9dfa9,#b1e2ac,#c8eab3,#ddf2bb,#e7f6c0,#f0f9c5,#fbfdcb,#fdfecc)"></div>
<div style="background:linear-gradient(90deg,#d2eeb7,#c7eab2,#ceedb5,#daf1ba,#e4f5be,#ebf7c2,#f2fac6,#f8fcc9,#fcfecc,#fdfecc,#fdfecc,#fdfecc,#fdfecc,#fdfecc,#fdfecc,#fdfecc,#fdfecc,#fdfecc,#fdfecc,#fdfecc,#fcfecc,#fafdca,#f4fbc7,#eaf7c2,#e1f4bd,#d9f1ba,#d4efb8,#d1eeb6,#ceedb5,#ccecb4,#cbebb4,#caebb4,#caebb3,#c9ebb3,#c9ebb3,#c9ebb3,#c9ebb3,#c9ebb3,#c9ebb3,#caebb3,#caebb3,#caebb3,#caebb3,#c8ebb3,#c6eab2,#c3e9b1,#c0e8b0,#bce6af,#bee7af,#bee7af,#b3e3ac,#afe1ab,#aee1ab,#b4e3ac,#b7e4ad,#b2e2ac,#b3e3ac,#bbe6ae,#d1eeb6,#e5f5bf,#edf8c3,#f5fbc7,#fcfecb,#fdfecc)"></div>
<div style="background:linear-gradient(90deg,#d2eeb7,#c6eab2,#ceedb5,#dcf2bb,#e6f5bf,#edf8c3,#f4fbc7,#f8fcc9,#fcfecc,#fdfecc,#fdfecc,#fdfecc,#fdfecc,#fdfecc,#fdfecc,#fdfecc,#fdfecc,#fdfecc,#fdfecc,#fdfecc,#fdfecc,#fcfecc,#fafdca,#f4fbc7,#edf8c3,#e7f6c0,#e4f5be,#e1f4bd,#e0f3bc,#dff3bc,#ddf2bb,#ddf2bb,#ddf2bb,#ddf2bb,#ddf2bb,#ddf2bb,#ddf2bb,#ddf2bb,#ddf2bb,#dcf2bb,#dcf2bb,#dcf2bb,#dbf1ba,#d9f1b9,#d6f0b8,#d2eeb7,#ceedb5,#caebb4,#ccecb5,#ccecb4,#bfe7af,#bae5ae,#bae5ae,#c2e8b0,#c6eab2,#bce6af,#bde7af,#c5e9b1,#d9f1b9,#e9f7c1,#eff9c4,#f7fcc9,#fdfecc,#fdfecc)"></div>
<div style="background:linear-gradient(90deg,#d2eeb7,#c9ebb3,#d1eeb6,#dff3bc,#e8f6c0,#eff9c4,#f5fbc7,#f8fcc9,#fcfecc,#fdfecc,#fdfecc,#fdfecc,#fdfecc,#fdfecc,#fdfecc,#fdfecc,#fdfecc,#fdfecc,#fdfecc,#fdfecc,#fdfecc,#fdfecc,#fcfecc,#fafdca,#f6fbc8,#f2fac6,#f0f9c5,#eef9c4,#eef8c4,#eef8c3,#edf8c3,#ecf8c3,#ecf8c3,#ecf8c3,#ecf8c3,#ecf8c3,#ecf8c3,#ecf8c3,#edf8c3,#ecf8c3,#ecf8c2,#ebf7c2,#eaf7c1,#e8f6c0,#e5f5bf,#e1f4bc,#dcf2bb,#d7f0b9,#d9f1ba,#d8f0b9,#caebb3,#c5e9b1,#c5e9b1,#ceedb5,#d2eeb7,#c6eab2,#c7eab2,#ceedb5,#e0f3bc,#ecf8c3,#f2fac6,#f8fcc9,#fdfecc,#fdfecc)"></div>
<div style="background:linear-gradient(90deg,#d3efb7,#ceedb5,#d6f0b8,#e3f4be,#ebf7c2,#f1fac5,#f6fbc8,#f9fcca,#fdfecc,#fdfecc,#fdfecc,#fdfecc,#fdfecc,#fdfecc,#fdfecc,#fdfecc,#fdfecc,#fdfecc,#fdfecc,#fdfecc,#fdfecc,#fdfecc,#fdfecc,#fcfecc,#fbfdcb,#f9fdca,#f8fcc9,#f8fcc9,#f9fdca,#f9fcca,#f7fcc9,#f7fcc9,#f7fcc9,#f7fcc9,#f7fcc8,#f7fcc8,#f7fcc8,#f7fcc9,#f8fcc9,#f8fcc9,#f7fcc9,#f6fbc8,#f5fbc8,#f3fac7,#f1f9c5,#edf8c3,#e8f6c1,#e4f5be,#e5f5bf,#e2f4bd,#d4efb8,#cfedb5,#cfedb6,#d9f1b9,#dcf2bb,#d0edb6,#d1eeb6,#d7f0b9,#e6f6bf,#eff9c4,#f4fbc7,#fafdca,#fdfecc,#fdfecc)"></div>
<div style="background:linear-gradient(90deg,#d5efb8,#d4efb7,#dbf1ba,#e7f6c0,#edf8c3,#f3fac6,#f8fcc9,#fafdca,#fdfecc,#fdfecc,#fdfecc,#fdfecc,#fdfecc,#fdfecc,#fdfecc,#fdfecc,#fdfecc,#fdfecc,#fdfecc,#fdfecc,#fdfecc,#fdfecc,#fdfecc,#fdfecc,#fdfecc,#fcfecc,#fcfecb,#fdfecc,#fdfecc,#fdfecc,#fcfecc,#fcfdcb,#fcfdcb,#fcfdcb,#fcfdcb,#fcfdcb,#fcfdcb,#fcfecc,#fdfecc,#fdfecc,#fdfecc,#fbfdcb,#fbfdcb,#fafdca,#f9fcca,#f6fcc8,#f3fac7,#eff9c4,#eef9c4,#eaf7c2,#dff3bc,#d8f1b9,#d9f1ba,#e3f4bd,#e5f5bf,#d9f1b9,#daf1ba,#e0f3bc,#ecf8c3,#f2fac6,#f6fbc8,#fbfdcb,#fdfecc,#fdfecc)"></div>
<div style="background:linear-gradient(90deg,#d9f1ba,#d9f1ba,#e0f3bc,#eaf7c1,#f0f9c5,#f5fbc7,#f9fcca,#fbfdcb,#fdfecc,#fdfecc,#fdfecc,#fdfecc,#fdfecc,#fdfecc,#fdfecc,#fdfecc,#fdfecc,#fdfecc,#fdfecc,#fdfecc,#fdfecc,#fdfecc,#fdfecc,#fdfecc,#fdfecc,#fdfecc,#fdfecc,#fdfecc,#fdfecc,#fdfecc,#fdfecc,#fdfecc,#fdfecc,#fdfecc,#fdfecc,#fdfecc,#fdfecc,#fdfecc,#fdfecc,#fdfecc,#fdfecc,#fdfecc,#fdfecc,#fcfecc,#fcfecb,#fcfecb,#fcfecc,#f8fcc9,#f6fbc8,#f2fac6,#e8f6c0,#e2f4bd,#e3f4be,#ebf7c2,#ecf8c2,#e2f4bd,#e3f4be,#e8f6c1,#f1fac5,#f5fbc7,#f8fcc9,#fcfecc,#fdfecc,#fdfecc)"></div>
<div style="background:linear-gradient(90deg,#e3f4bd,#dff3bc,#e5f5be,#edf8c3,#f3fac6,#f7fcc8,#fafdca,#fcfecb,#fdfecc,#fdfecc,#fdfecc,#fdfecc,#fdfecc,#fdfecc,#fdfecc,#fdfecc,#fdfecc,#fdfecc,#fdfecc,#fdfecc,#fdfecc,#fdfecc,#fdfecc,#fdfecc,#fdfecc,#fdfecc,#fdfecc,#fdfecc,#fdfecc,#fdfecc,#fdfecc,#fdfecc,#fdfecc,#fdfecc,#fdfecc,#fdfecc,#fdfecc,#fdfecc,#fdfecc,#fdfecc,#fdfecc,#fdfecc,#fdfecc,#fdfecc,#fdfecc,#fdfecc,#fdfecc,#fdfecc,#fafdcb,#f8fcc9,#f1f9c5,#ebf7c2,#ecf8c2,#f1fac5,#f1fac5,#eaf7c2,#ebf7c2,#eff9c4,#f5fbc8,#f8fcc9,#fbfdcb,#fdfecc,#fdfecc,#fdfecc)"></div>
<div style="background:linear-gradient(90deg,#ecf8c3,#e4f5be,#eaf7c1,#f1fac5,#f6fbc8,#f9fcca,#fcfdcb,#fdfecc,#fdfecc,#fdfecc,#fdfecc,#fdfecc,#fdfecc,#fdfecc,#fdfecc,#fdfecc,#fdfecc,#fdfecc,#fdfecc,#fdfecc,#fdfecc,#fdfecc,#fdfecc,#fdfecc,#fdfecc,#fdfecc,#fdfecc,#fdfecc,#fdfecc,#fdfecc,#fdfecc,#fdfecc,#fdfecc,#fdfecc,#fdfecc,#fdfecc,#fdfecc,#fdfecc,#fdfecc,#fdfecc,#fdfecc,#fdfecc,#fdfecc,#fdfecc,#fdfecc,#fdfecc,#fdfecc,#fdfecc,#fcfecc,#fbfdcb,#f7fcc9,#f3fac6,#f3fac7,#f5fbc8,#f5fbc7,#f1f9c5,#f1fac6,#f4fbc7,#f7fcc9,#fafdca,#fcfecb,#fdfecc,#fdfecc,#fdfecc)"></div>
<div style="background:linear-gradient(90deg,#f2fac6,#e9f7c1,#eef9c4,#f4fbc7,#f9fcca,#fbfdcb,#fdfecc,#fdfecc,#fdfecc,#fdfecc,#fdfecc,#fdfecc,#fdfecc,#fdfecc,#fdfecc,#fdfecc,#fdfecc,#fdfecc,#fdfecc,#fdfecc,#fdfecc,#fdfecc,#fdfecc,#fdfecc,#fdfecc,#fdfecc,#fdfecc,#fdfecc,#fdfecc,#fdfecc,#fdfecc,#fdfecc,#fdfecc,#fdfecc,#fdfecc,#fdfecc,#fdfecc,#fdfecc,#fdfecc,#fdfecc,#fdfecc,#fdfecc,#fdfecc,#fdfecc,#fdfecc,#fdfecc,#fdfecc,#fdfecc,#fdfecc,#fdfecc,#fbfdcb,#f9fcca,#f8fcc9,#f8fcc9,#f7fcc9,#f5fbc8,#f5fbc8,#f7fcc9,#f9fdca,#fbfdcb,#fdfecc,#fdfecc,#fdfecc,#fdfecc)"></div>
<div style="background:linear-gradient(90deg,#f5fbc8,#eef9c4,#f3fac7,#f8fcc9,#fbfdcb,#fdfecc,#fdfecc,#fdfecc,#fdfecc,#fdfecc,#fdfecc,#fdfecc,#fdfecc,#fdfecc,#fdfecc,#fdfecc,#fdfecc,#fdfecc,#fdfecc,#fdfecc,#fdfecc,#fdfecc,#fdfecc,#fdfecc,#fdfecc,#fdfecc,#fdfecc,#fdfecc,#fdfecc,#fdfecc,#fdfecc,#fdfecc,#fdfecc,#fdfecc,#fdfecc,#fdfecc,#fdfecc,#fdfecc,#fdfecc,#fdfecc,#fdfecc,#fdfecc,#fdfecc,#fdfecc,#fdfecc,#fdfecc,#fdfecc,#fdfecc,#fdfecc,#fdfecc,#fdfecc,#fcfecb,#fbfdcb,#fafdca,#f9fcca,#f7fcc9,#f7fcc9,#f8fcc9,#fafdca,#fcfecc,#fdfecc,#fdfecc,#fdfecc,#fdfecc)"></div>
<div style="background:linear-gradient(90deg,#f7fcc9,#f3fac7,#f8fcc9,#fbfdcb,#fdfecc,#fdfecc,#fdfecc,#fdfecc,#fdfecc,#fdfecc,#fdfecc,#fdfecc,#fdfecc,#fdfecc,#fdfecc,#fdfecc,#fdfecc,#fdfecc,#fdfecc,#fdfecc,#fdfecc,#fdfecc,#fdfecc,#fdfecc,#fdfecc,#fdfecc,#fdfecc,#fdfecc,#fdfecc,#fdfecc,#fdfecc,#fdfecc,#fdfecc,#fdfecc,#fdfecc,#fdfecc,#fdfecc,#fdfecc,#fdfecc,#fdfecc,#fdfecc,#fdfecc,#fdfecc,#fdfecc,#fdfecc,#fdfecc,#fdfecc,#fdfecc,#fdfecc,#fdfecc,#fdfecc,#fdfecc,#fcfecc,#fbfdcb,#f9fdca,#f8fcc9,#f7fcc9,#f9fcca,#fbfdcb,#fdfecc,#fdfecc,#fdfecc,#fdfecc,#fdfecc)"></div>
<div style="background:linear-gradient(90deg,#f9fcca,#f8fcc9,#fcfecb,#fdfecc,#fdfecc,#fdfecc,#fdfecc,#fdfecc,#fdfecc,#fdfecc,#fdfecc,#fdfecc,#fdfecc,#fdfecc,#fdfecc,#fdfecc,#fbfdcb,#fbfdcb,#fdfecc,#fcfecc,#fdfecc,#fdfecc,#fdfecc,#fdfecc,#fdfecc,#fdfecc,#fdfecc,#fdfecc,#fdfecc,#fdfecc,#fdfecc,#fdfecc,#fdfecc,#fdfecc,#fdfecc,#fdfecc,#fdfecc,#fdfecc,#fdfecc,#fdfecc,#fdfecc,#fdfecc,#fdfecc,#fdfecc,#fdfecc,#fdfecc,#fdfecc,#fdfecc,#fdfecc,#fdfecc,#fdfecc,#fdfecc,#fdfecc,#fbfdcb,#fafdca,#f8fcc9,#f8fcc9,#f9fdca,#fbfdcb,#fdfecc,#fdfecc,#fdfecc,#fdfecc,#fdfecc)"></div>
<div style="background:linear-gradient(90deg,#fbfdcb,#fbfdcb,#fdfecc,#fdfecc,#fdfecc,#fdfecc,#fdfecc,#fdfecc,#fdfecc,#fdfecc,#fdfecc,#fdfecc,#fdfecc,#fdfecc,#fdfecc,#fbfdcb,#f8fcc9,#f8fcc9,#fbfdcb,#fcfdcb,#fcfecb,#fcfecc,#fdfecc,#fdfecc,#fdfecc,#fdfecc,#fdfecc,#fdfecc,#fdfecc,#fdfecc,#fdfecc,#fdfecc,#fdfecc,#fdfecc,#fdfecc,#fdfecc,#fdfecc,#fdfecc,#fdfecc,#fdfecc,#fdfecc,#fdfecc,#fdfecc,#fdfecc,#fdfecc,#fdfecc,#fdfecc,#fdfecc,#fdfecc,#fdfecc,#fdfecc,#fdfecc,#fdfecc,#fcfdcb,#fafdca,#f8fcc9,#f8fcc9,#f9fdca,#fbfdcb,#fdfecc,#fdfecc,#fdfecc,#fdfecc,#fdfecc)"></div>
<div style="background:linear-gradient(90deg,#fcfecc,#fdfecc,#fdfecc,#fdfecc,#fdfecc,#fdfecc,#fdfecc,#fdfecc,#fdfecc,#fdfecc,#fdfecc,#fdfecc,#fdfecc,#fdfecc,#fdfecc,#f9fdca,#f6fbc8,#f6fbc8,#fafdca,#fafdcb,#fbfdcb,#fbfdcb,#fcfecc,#fdfecc,#fdfecc,#fdfecc,#fcfecc,#fcfecc,#fdfecc,#fdfecc,#fcfecc,#fcfecc,#fcfecc,#fdfecc,#fdfecc,#fdfecc,#fdfecc,#fdfecc,#fdfecc,#fdfecc,#fdfecc,#fdfecc,#fcfecc,#fcfecb,#fcfecb,#fcfecb,#fdfecc,#fdfecc,#fdfecc,#fdfecc,#fdfecc,#fdfecc,#fdfecc,#fcfecb,#fafdcb,#f9fcca,#f8fcc9,#f9fdca,#fbfdcb,#fdfecc,#fdfecc,#fdfecc,#fdfecc,#fdfecc)"></div>
<div style="background:linear-gradient(90deg,#fdfecc,#fdfecc,#fdfecc,#fdfecc,#fdfecc,#fdfecc,#fdfecc,#fdfecc,#fdfecc,#fdfecc,#fdfecc,#fdfecc,#fdfecc,#fdfecc,#fcfecc,#f8fcc9,#f4fbc7,#f4fbc7,#f8fcc9,#f9fdca,#fafdca,#fbfdcb,#fcfecc,#fcfecc,#fcfecc,#fcfecc,#fcfecb,#fcfdcb,#fcfecb,#fcfecb,#fcfecb,#fcfecb,#fcfecb,#fcfecc,#fdfecc,#fdfecc,#fdfecc,#fdfecc,#fdfecc,#fdfecc,#fdfecc,#fdfecc,#fcfdcb,#fbfdcb,#fbfdcb,#fbfdcb,#fdfecc,#fdfecc,#fdfecc,#fdfecc,#fdfecc,#fdfecc,#fdfecc,#fcfecb,#fbfdcb,#f9fdca,#f8fcc9,#f9fdca,#fbfdcb,#fdfecc,#fdfecc,#fdfecc,#fdfecc,#fdfecc)"></div>
<div style="background:linear-gradient(90deg,#fdfecc,#fdfecc,#fdfecc,#fdfecc,#fdfecc,#fdfecc,#fdfecc,#fdfecc,#fdfecc,#fdfecc,#fdfecc,#fdfecc,#fdfecc,#fdfecc,#fcfecb,#f6fcc8,#f3fac6,#f3fac7,#f6fcc8,#f8fcc9,#f9fcca,#fafdcb,#fcfecb,#fcfecb,#fcfecb,#fcfecb,#fbfdcb,#fbfdcb,#fbfdcb,#fbfdcb,#fbfdcb,#fbfdcb,#fbfdcb,#fcfecc,#fdfecc,#fdfecc,#fdfecc,#fdfecc,#fdfecc,#fdfecc,#fdfecc,#fdfecc,#fbfdcb,#fafdca,#fafdca,#fbfdcb,#fdfecc,#fdfecc,#fdfecc,#fdfecc,#fdfecc,#fdfecc,#fdfecc,#fcfecc,#fbfdcb,#f9fdca,#f8fcc9,#f9fdca,#fbfdcb,#fdfecc,#fdfecc,#fdfecc,#fdfecc,#fdfecc)"></div>
<div style="background:linear-gradient(90deg,#fdfecc,#fdfecc,#fdfecc,#fdfecc,#fdfecc,#fdfecc,#fdfecc,#fdfecc,#fdfecc,#fdfecc,#fdfecc,#fdfecc,#fdfecc,#fdfecc,#fcfdcb,#f6fbc8,#f3fac7,#f4fbc7,#f5fbc8,#f7fcc9,#f8fcc9,#fafdca,#fbfdcb,#fcfdcb,#fcfecb,#fcfdcb,#fbfdcb,#fafdcb,#fafdcb,#fafdcb,#fbfdcb,#fbfdcb,#fbfdcb,#fcfecb,#fdfecc,#fdfecc,#fdfecc,#fdfecc,#fdfecc,#fdfecc,#fdfecc,#fdfecc,#fbfdcb,#f9fdca,#f9fcca,#fafdca,#fdfecc,#fdfecc,#fdfecc,#fdfecc,#fdfecc,#fdfecc,#fdfecc,#fcfecc,#fbfdcb,#fafdca,#f9fcca,#f9fdca,#fbfdcb,#fdfecc,#fdfecc,#fdfecc,#fdfecc,#fdfecc)"></div>
<div style="background:linear-gradient(90deg,#fdfecc,#fdfecc,#fdfecc,#fdfecc,#fdfecc,#fdfecc,#fdfecc,#fdfecc,#fdfecc,#fdfecc,#fdfecc,#fdfecc,#fdfecc,#fdfecc,#fbfdcb,#f6fbc8,#f5fbc7,#f5fbc7,#f5fbc8,#f6fbc8,#f8fcc9,#f9fdca,#fbfdcb,#fbfdcb,#fbfdcb,#fbfdcb,#fafdca,#fafdca,#fafdca,#fafdca,#fafdca,#fafdca,#fbfdcb,#fcfecb,#fcfecc,#fdfecc,#fdfecc,#fdfecc,#fdfecc,#fdfecc,#fdfecc,#fdfecc,#fbfdcb,#f9fcca,#f8fcc9,#fafdca,#fdfecc,#fdfecc,#fdfecc,#fdfecc,#fdfecc,#fdfecc,#fdfecc,#fcfecc,#fbfdcb,#fafdca,#f9fcca,#fafdca,#fbfdcb,#fdfecc,#fdfecc,#fdfecc,#fdfecc,#fdfecc)"></div>
<div style="background:linear-gradient(90deg,#fdfecc,#fdfecc,#fdfecc,#fdfecc,#fdfecc,#fdfecc,#fdfecc,#fdfecc,#fdfecc,#fdfecc,#fdfecc,#fdfecc,#fdfecc,#fdfecc,#fbfdcb,#f7fcc9,#f7fcc8,#f6fcc8,#f6fbc8,#f6fbc8,#f7fcc9,#f9fcca,#fbfdcb,#fbfdcb,#fbfdcb,#fbfdcb,#fafdca,#f9fdca,#f9fdca,#f9fdca,#f9fdca,#f9fdca,#fafdcb,#fbfdcb,#fcfecc,#fdfecc,#fdfecc,#fdfecc,#fdfecc,#fdfecc,#fdfecc,#fdfecc,#fbfdcb,#f8fcc9,#f8fcc9,#fafdca,#fdfecc,#fdfecc,#fdfecc,#fdfecc,#fdfecc,#fdfecc,#fdfecc,#fdfecc,#fbfdcb,#fafdca,#f9fdca,#fafdca,#fbfdcb,#fdfecc,#fdfecc,#fdfecc,#fdfecc,#fdfecc)"></div>
<div style="background:linear-gradient(90deg,#fdfecc,#fdfecc,#fdfecc,#fdfecc,#fdfecc,#fdfecc,#fdfecc,#fdfecc,#fdfecc,#fdfecc,#fdfecc,#fdfecc,#fdfecc,#fdfecc,#fbfdcb,#f9fdca,#f8fcc9,#f7fcc9,#f6fcc8,#f6fbc8,#f7fcc8,#f8fcc9,#fafdca,#fbfdcb,#fbfdcb,#fafdcb,#f9fdca,#f9fcca,#f8fcc9,#f8fcc9,#f9fcca,#f9fdca,#fafdca,#fbfdcb,#fcfecb,#fdfecc,#fdfecc,#fdfecc,#fdfecc,#fdfecc,#fdfecc,#fdfecc,#fbfdcb,#f8fcc9,#f8fcc9,#fafdca,#fdfecc,#fdfecc,#fdfecc,#fdfecc,#fdfecc,#fdfecc,#fdfecc,#fdfecc,#fbfdcb,#fafdca,#fafdca,#fafdca,#fbfdcb,#fdfecc,#fdfecc,#fdfecc,#fdfecc,#fdfecc)"></div>
<div style="background:linear-gradient(90deg,#fdfecc,#fdfecc,#fdfecc,#fdfecc,#fdfecc,#fdfecc,#fdfecc,#fdfecc,#fdfecc,#fdfecc,#fdfecc,#fdfecc,#fdfecc,#fdfecc,#fcfdcb,#fafdca,#f9fdca,#f8fcc9,#f7fcc9,#f6fbc8,#f6fcc8,#f8fcc9,#fafdca,#fafdcb,#fafdcb,#fafdca,#f9fdca,#f8fcc9,#f8fcc9,#f8fcc9,#f8fcc9,#f9fcca,#fafdca,#fbfdcb,#fcfecb,#fdfecc,#fdfecc,#fdfecc,#fdfecc,#fdfecc,#fdfecc,#fdfecc,#fbfdcb,#f9fcca,#f8fcc9,#fafdca,#fcfecc,#fdfecc,#fdfecc,#fdfecc,#fdfecc,#fdfecc,#fdfecc,#fdfecc,#fcfdcb,#fbfdcb,#fafdcb,#fbfdcb,#fbfdcb,#fdfecc,#fdfecc,#fdfecc,#fdfecc,#fdfecc)"></div>
<div style="background:linear-gradient(90deg,#fdfecc,#fdfecc,#fdfecc,#fdfecc,#fdfecc,#fdfecc,#fdfecc,#fdfecc,#fdfecc,#fdfecc,#fdfecc,#fdfecc,#fdfecc,#fdfecc,#fcfecb,#fbfdcb,#fafdca,#f9fcca,#f7fcc9,#f6fbc8,#f6fbc8,#f8fcc9,#f9fdca,#fafdca,#fafdca,#fafdca,#f9fcca,#f8fcc9,#f7fcc9,#f7fcc9,#f8fcc9,#f8fcc9,#fafdca,#fbfdcb,#fcfdcb,#fdfecc,#fdfecc,#fdfecc,#fdfecc,#fdfecc,#fdfecc,#fdfecc,#fbfdcb,#f9fcca,#f9fcca,#fafdca,#fcfecc,#fdfecc,#fdfecc,#fdfecc,#fdfecc,#fdfecc,#fdfecc,#fdfecc,#fcfecb,#fbfdcb,#fbfdcb,#fbfdcb,#fcfecb,#fdfecc,#fdfecc,#fdfecc,#fdfecc,#fdfecc)"></div>
<div style="background:linear-gradient(90deg,#fdfecc,#fdfecc,#fdfecc,#fdfecc,#fdfecc,#fdfecc,#fdfecc,#fdfecc,#fdfecc,#fdfecc,#fdfecc,#fdfecc,#fdfecc,#fdfecc,#fcfecc,#fbfdcb,#fafdcb,#f9fdca,#f8fcc9,#f7fcc8,#f6fbc8,#f7fcc9,#f9fcca,#fafdca,#fafdca,#f9fdca,#f8fcc9,#f7fcc9,#f7fcc8,#f7fcc8,#f7fcc9,#f8fcc9,#f9fdca,#fbfdcb,#fbfdcb,#fdfecc,#fdfecc,#fdfecc,#fdfecc,#fdfecc,#fdfecc,#fdfecc,#fcfdcb,#f9fdca,#f9fdca,#fafdca,#fcfecc,#fdfecc,#fdfecc,#fdfecc,#fdfecc,#fdfecc,#fdfecc,#fdfecc,#fcfecb,#fbfdcb,#fcfdcb,#fcfecb,#fcfecb,#fdfecc,#fdfecc,#fdfecc,#fdfecc,#fdfecc)"></div>
<div style="background:linear-gradient(90deg,#fdfecc,#fdfecc,#fdfecc,#fdfecc,#fdfecc,#fdfecc,#fdfecc,#fdfecc,#fdfecc,#fdfecc,#fdfecc,#fdfecc,#fdfecc,#fdfecc,#fcfecc,#fcfecb,#fbfdcb,#fafdca,#f8fcc9,#f7fcc9,#f6fbc8,#f7fcc8,#f8fcc9,#f9fdca,#f9fdca,#f9fcca,#f8fcc9,#f7fcc9,#f6fbc8,#f6fbc8,#f7fcc9,#f8fcc9,#f9fdca,#fafdcb,#fbfdcb,#fcfecc,#fdfecc,#fdfecc,#fdfecc,#fdfecc,#fdfecc,#fdfecc,#fcfdcb,#fafdca,#fafdca,#fafdcb,#fcfecc,#fdfecc,#fdfecc,#fdfecc,#fdfecc,#fdfecc,#fdfecc,#fdfecc,#fcfecc,#fcfecb,#fcfecc,#fcfecc,#fdfecc,#fdfecc,#fdfecc,#fdfecc,#fdfecc,#fdfecc)"></div>
<div style="background:linear-gradient(90deg,#fdfecc,#fdfecc,#fdfecc,#fdfecc,#fdfecc,#fdfecc,#fdfecc,#fdfecc,#fdfecc,#fdfecc,#fdfecc,#fdfecc,#fdfecc,#fdfecc,#fcfecc,#fcfecb,#fbfdcb,#fafdca,#f9fcca,#f8fcc9,#f6fcc8,#f6fcc8,#f8fcc9,#f9fdca,#f9fdca,#f8fcc9,#f8fcc9,#f7fcc8,#f6fbc8,#f6fbc8,#f7fcc8,#f8fcc9,#f9fcca,#fafdca,#fbfdcb,#fcfecc,#fdfecc,#fdfecc,#fdfecc,#fdfecc,#fdfecc,#fdfecc,#fcfecb,#fafdca,#fafdcb,#fbfdcb,#fcfecc,#fdfecc,#fdfecc,#fdfecc,#fdfecc,#fdfecc,#fdfecc,#fdfecc,#fdfecc,#fcfecc,#fdfecc,#fdfecc,#fdfecc,#fdfecc,#fdfecc,#fdfecc,#fdfecc,#fdfecc)"></div>
<div style="background:linear-gradient(90deg,#fdfecc,#fdfecc,#fdfecc,#fdfecc,#fdfecc,#fdfecc,#fdfecc,#fdfecc,#fdfecc,#fdfecc,#fdfecc,#fdfecc,#fdfecc,#fdfecc,#fcfecc,#fcfecb,#fbfdcb,#fafdcb,#f9fdca,#f8fcc9,#f7fcc9,#f6fbc8,#f7fcc9,#f9fcca,#f9fcca,#f8fcc9,#f7fcc9,#f6fbc8,#f5fbc8,#f5fbc8,#f6fcc8,#f8fcc9,#f9fcca,#fafdca,#fbfdcb,#fcfecb,#fdfecc,#fdfecc,#fdfecc,#fdfecc,#fdfecc,#fdfecc,#fcfecb,#fbfdcb,#fbfdcb,#fbfdcb,#fcfecc,#fdfecc,#fdfecc,#fdfecc,#fdfecc,#fdfecc,#fdfecc,#fdfecc,#fdfecc,#fdfecc,#fdfecc,#fdfecc,#fdfecc,#fdfecc,#fdfecc,#fdfecc,#fdfecc,#fdfecc)"></div>
<div style="background:linear-gradient(90deg,#fdfecc,#fdfecc,#fdfecc,#fdfecc,#fdfecc,#fdfecc,#fdfecc,#fdfecc,#fdfecc,#fdfecc,#fdfecc,#fdfecc,#fdfecc,#fdfecc,#fcfecc,#fcfecb,#fbfdcb,#fafdcb,#fafdca,#f9fcca,#f7fcc9,#f6fcc8,#f7fcc9,#f8fcc9,#f8fcc9,#f8fcc9,#f7fcc9,#f6fbc8,#f5fbc8,#f5fbc8,#f6fbc8,#f7fcc9,#f8fcc9,#fafdca,#fbfdcb,#fcfecb,#fdfecc,#fdfecc,#fdfecc,#fdfecc,#fdfecc,#fdfecc,#fcfecb,#fbfdcb,#fcfdcb,#fcfecb,#fdfecc,#fdfecc,#fdfecc,#fdfecc,#fdfecc,#fdfecc,#fdfecc,#fdfecc,#fdfecc,#fdfecc,#fdfecc,#fdfecc,#fdfecc,#fdfecc,#fdfecc,#fdfecc,#fdfecc,#fdfecc)"></div>
<div style="background:linear-gradient(90deg,#fdfecc,#fdfecc,#fdfecc,#fdfecc,#fdfecc,#fdfecc,#fdfecc,#fdfecc,#fdfecc,#fdfecc,#fdfecc,#fdfecc,#fdfecc,#fdfecc,#fcfecc,#fcfecb,#fbfdcb,#fbfdcb,#fafdca,#f9fdca,#f8fcc9,#f7fcc9,#f7fcc8,#f8fcc9,#f8fcc9,#f7fcc9,#f6fcc8,#f6fbc8,#f5fbc8,#f5fbc8,#f6fbc8,#f7fcc9,#f8fcc9,#f9fdca,#fafdcb,#fcfdcb,#fdfecc,#fdfecc,#fdfecc,#fdfecc,#fdfecc,#fdfecc,#fcfecc,#fcfecb,#fcfecc,#fcfecc,#fdfecc,#fdfecc,#fdfecc,#fdfecc,#fdfecc,#fdfecc,#fdfecc,#fdfecc,#fdfecc,#fdfecc,#fdfecc,#fdfecc,#fdfecc,#fdfecc,#fdfecc,#fdfecc,#fdfecc,#fdfecc)"></div>
<div style="background:linear-gradient(90deg,#fdfecc,#fdfecc,#fdfecc,#fdfecc,#fdfecc,#fdfecc,#fdfecc,#fdfecc,#fdfecc,#fdfecc,#fdfecc,#fdfecc,#fdfecc,#fdfecc,#fdfecc,#fcfecb,#fbfdcb,#fbfdcb,#fafdca,#f9fdca,#f8fcc9,#f7fcc9,#f7fcc8,#f8fcc9,#f8fcc9,#f7fcc9,#f6fbc8,#f6fbc8,#f5fbc8,#f5fbc8,#f6fbc8,#f7fcc9,#f8fcc9,#f9fdca,#fafdca,#fbfdcb,#fcfecc,#fdfecc,#fdfecc,#fdfecc,#fdfecc,#fdfecc,#fcfecc,#fcfecc,#fdfecc,#fdfecc,#fdfecc,#fdfecc,#fdfecc,#fdfecc,#fdfecc,#fdfecc,#fdfecc,#fdfecc,#fdfecc,#fdfecc,#fdfecc,#fdfecc,#fdfecc,#fdfecc,#fdfecc,#fdfecc,#fdfecc,#fdfecc)"></div>
<div style="background:linear-gradient(90deg,#fdfecc,#fdfecc,#fdfecc,#fdfecc,#fdfecc,#fdfecc,#fdfecc,#fdfecc,#fdfecc,#fdfecc,#fdfecc,#fdfecc,#fdfecc,#fdfecc,#fdfecc,#fdfecc,#fcfdcb,#fbfdcb,#fafdca,#f9fdca,#f9fcca,#f8fcc9,#f7fcc8,#f7fcc9,#f7fcc9,#f7fcc8,#f6fbc8,#f6fbc8,#f5fbc8,#f5fbc8,#f6fbc8,#f7fcc8,#f8fcc9,#f9fcca,#fafdca,#fbfdcb,#fcfecc,#fdfecc,#fdfecc,#fdfecc,#fdfecc,#fdfecc,#fdfecc,#fdfecc,#fdfecc,#fdfecc,#fdfecc,#fdfecc,#fdfecc,#fdfecc,#fdfecc,#fdfecc,#fdfecc,#fdfecc,#fdfecc,#fdfecc,#fdfecc,#fdfecc,#fdfecc,#fdfecc,#fdfecc,#fdfecc,#fdfecc,#fdfecc)"></div>
<div style="background:linear-gradient(90deg,#fdfecc,#fdfecc,#fdfecc,#fdfecc,#fdfecc,#fdfecc,#fdfecc,#fdfecc,#fdfecc,#fdfecc,#fdfecc,#fdfecc,#fdfecc,#fdfecc,#fdfecc,#fdfecc,#fcfecc,#fbfdcb,#fafdcb,#fafdca,#f9fcca,#f8fcc9,#f7fcc9,#f7fcc9,#f7fcc9,#f6fcc8,#f6fbc8,#f6fbc8,#f6fbc8,#f5fbc8,#f6fbc8,#f6fcc8,#f8fcc9,#f9fcca,#fafdca,#fbfdcb,#fcfecc,#fdfecc,#fdfecc,#fdfecc,#fdfecc,#fdfecc,#fdfecc,#fdfecc,#fdfecc,#fdfecc,#fdfecc,#fdfecc,#fdfecc,#fdfecc,#fdfecc,#fdfecc,#fdfecc,#fdfecc,#fdfecc,#fdfecc,#fdfecc,#fdfecc,#fdfecc,#fdfecc,#fdfecc,#fdfecc,#fdfecc,#fdfecc)"></div>
<div style="background:linear-gradient(90deg,#fdfecc,#fdfecc,#fdfecc,#fdfecc,#fdfecc,#fdfecc,#fdfecc,#fdfecc,#fdfecc,#fdfecc,#fdfecc,#fdfecc,#fdfecc,#fdfecc,#fdfecc,#fdfecc,#fdfecc,#fbfdcb,#fbfdcb,#fafdca,#f9fdca,#f8fcc9,#f7fcc9,#f7fcc9,#f7fcc9,#f6fbc8,#f6fbc8,#f6fbc8,#f6fbc8,#f6fbc8,#f6fbc8,#f6fbc8,#f7fcc9,#f8fcc9,#f9fdca,#fbfdcb,#fcfecb,#fdfecc,#fdfecc,#fdfecc,#fdfecc,#fdfecc,#fdfecc,#fdfecc,#fdfecc,#fdfecc,#fdfecc,#fdfecc,#fdfecc,#fdfecc,#fdfecc,#fdfecc,#fdfecc,#fdfecc,#fdfecc,#fdfecc,#fdfecc,#fdfecc,#fdfecc,#fdfecc,#fdfecc,#fdfecc,#fdfecc,#fdfecc)"></div>
<div style="background:linear-gradient(90deg,#fdfecc,#fdfecc,#fdfecc,#fdfecc,#fdfecc,#fdfecc,#fdfecc,#fdfecc,#fdfecc,#fdfecc,#fdfecc,#fdfecc,#fdfecc,#fdfecc,#fdfecc,#fdfecc,#fdfecc,#fafdca,#fafdca,#fafdcb,#fafdca,#f9fcca,#f8fcc9,#f7fcc9,#f7fcc8,#f6fbc8,#f6fbc8,#f6fbc8,#f6fbc8,#f6fbc8,#f6fbc8,#f6fbc8,#f7fcc9,#f8fcc9,#f9fdca,#fafdcb,#fcfecb,#fdfecc,#fdfecc,#fdfecc,#fdfecc,#fdfecc,#fdfecc,#fdfecc,#fdfecc,#fdfecc,#fdfecc,#fdfecc,#fdfecc,#fdfecc,#fdfecc,#fdfecc,#fdfecc,#fdfecc,#fdfecc,#fdfecc,#fdfecc,#fdfecc,#fdfecc,#fdfecc,#fdfecc,#fdfecc,#fdfecc,#fdfecc)"></div>
<div style="background:linear-gradient(90deg,#fdfecc,#fdfecc,#fdfecc,#fdfecc,#fdfecc,#fdfecc,#fdfecc,#fdfecc,#fdfecc,#fdfecc,#fdfecc,#fdfecc,#fdfecc,#fdfecc,#fdfecc,#fdfecc,#fdfecc,#f8fcc9,#f8fcc9,#fafdca,#fafdca,#fafdca,#f9fcca,#f8fcc9,#f7fcc9,#f6fcc8,#f6fbc8,#f6fbc8,#f6fbc8,#f6fbc8,#f6fbc8,#f6fbc8,#f7fcc9,#f8fcc9,#f9fdca,#fafdca,#fbfdcb,#fdfecc,#fdfecc,#fdfecc,#fdfecc,#fdfecc,#fdfecc,#fdfecc,#fdfecc,#fdfecc,#fdfecc,#fdfecc,#fdfecc,#fdfecc,#fdfecc,#fdfecc,#fdfecc,#fdfecc,#fdfecc,#fdfecc,#fdfecc,#fdfecc,#fdfecc,#fdfecc,#fdfecc,#fdfecc,#fdfecc,#fdfecc)"></div>
<div style="background:linear-gradient(90deg,#fdfecc,#fdfecc,#fdfecc,#fdfecc,#fdfecc,#fdfecc,#fdfecc,#fdfecc,#fdfecc,#fdfecc,#fdfecc,#fdfecc,#fdfecc,#fdfecc,#fdfecc,#fdfecc,#fdfecc,#f7fcc9,#f6fbc8,#f8fcc9,#f9fdca,#f9fdca,#f9fdca,#f8fcc9,#f8fcc9,#f7fcc9,#f6fcc8,#f6fbc8,#f6fbc8,#f6fbc8,#f6fbc8,#f6fbc8,#f7fcc8,#f8fcc9,#f9fcca,#fafdca,#fbfdcb,#fcfecc,#fdfecc,#fdfecc,#fdfecc,#fdfecc,#fdfecc,#fdfecc,#fdfecc,#fdfecc,#fdfecc,#fdfecc,#fdfecc,#fdfecc,#fdfecc,#fdfecc,#fdfecc,#fdfecc,#fdfecc,#fdfecc,#fdfecc,#fdfecc,#fdfecc,#fdfecc,#fdfecc,#fdfecc,#fdfecc,#fdfecc)"></div>
<div style="background:linear-gradient(90deg,#fdfecc,#fdfecc,#fdfecc,#fdfecc,#fdfecc,#fdfecc,#fdfecc,#fdfecc,#fdfecc,#fdfecc,#fdfecc,#fdfecc,#fdfecc,#fdfecc,#fdfecc,#fdfecc,#fdfecc,#f7fcc9,#f6fbc8,#f7fcc9,#f8fcc9,#f8fcc9,#f9fcca,#f9fcca,#f8fcc9,#f7fcc9,#f7fcc9,#f6fcc8,#f6fbc8,#f6fbc8,#f6fbc8,#f6fbc8,#f6fcc8,#f8fcc9,#f9fcca,#fafdca,#fbfdcb,#fcfecc,#fdfecc,#fdfecc,#fdfecc,#fdfecc,#fdfecc,#fdfecc,#fdfecc,#fdfecc,#fdfecc,#fdfecc,#fdfecc,#fdfecc,#fdfecc,#fdfecc,#fdfecc,#fdfecc,#fdfecc,#fdfecc,#fdfecc,#fdfecc,#fdfecc,#fdfecc,#fdfecc,#fdfecc,#fdfecc,#fdfecc)"></div>
<div style="background:linear-gradient(90deg,#fdfecc,#fdfecc,#fdfecc,#fdfecc,#fdfecc,#fdfecc,#fdfecc,#fdfecc,#fdfecc,#fdfecc,#fdfecc,#fdfecc,#fdfecc,#fdfecc,#fdfecc,#fdfecc,#fdfecc,#f7fcc9,#f6fbc8,#f7fcc8,#f7fcc8,#f7fcc9,#f8fcc9,#f8fcc9,#f9fcca,#f8fcc9,#f7fcc9,#f7fcc9,#f6fcc8,#f6fbc8,#f6fbc8,#f6fbc8,#f6fcc8,#f7fcc9,#f8fcc9,#fafdca,#fbfdcb,#fcfecb,#fdfecc,#fdfecc,#fdfecc,#fdfecc,#fdfecc,#fdfecc,#fdfecc,#fdfecc,#fdfecc,#fdfecc,#fdfecc,#fdfecc,#fdfecc,#fdfecc,#fdfecc,#fdfecc,#fdfecc,#fdfecc,#fdfecc,#fdfecc,#fdfecc,#fdfecc,#fdfecc,#fdfecc,#fdfecc,#fdfecc)"></div>
<div style="background:linear-gradient(90deg,#fdfecc,#fdfecc,#fdfecc,#fdfecc,#fdfecc,#fdfecc,#fdfecc,#fdfecc,#fdfecc,#fdfecc,#fdfecc,#fdfecc,#fdfecc,#fdfecc,#fdfecc,#fdfecc,#fdfecc,#f8fcc9,#f6fcc8,#f6fcc8,#f6fcc8,#f7fcc8,#f7fcc9,#f7fcc9,#f8fcc9,#f8fcc9,#f8fcc9,#f7fcc9,#f7fcc9,#f6fcc8,#f6fbc8,#f6fbc8,#f6fbc8,#f7fcc9,#f8fcc9,#f9fdca,#fbfdcb,#fcfecb,#fdfecc,#fdfecc,#fdfecc,#fdfecc,#fdfecc,#fdfecc,#fdfecc,#fdfecc,#fdfecc,#fdfecc,#fdfecc,#fdfecc,#fdfecc,#fdfecc,#fdfecc,#fdfecc,#fdfecc,#fdfecc,#fdfecc,#fdfecc,#fdfecc,#fdfecc,#fdfecc,#fdfecc,#fdfecc,#fdfecc)"></div>
<div style="background:linear-gradient(90deg,#fdfecc,#fdfecc,#fdfecc,#fdfecc,#fdfecc,#fdfecc,#fdfecc,#fdfecc,#fdfecc,#fdfecc,#fdfecc,#fdfecc,#fdfecc,#fdfecc,#fdfecc,#fdfecc,#fdfecc,#f9fcca,#f6fcc8,#f6fcc8,#f6fcc8,#f6fcc8,#f7fcc8,#f7fcc8,#f7fcc9,#f7fcc9,#f8fcc9,#f7fcc9,#f7fcc9,#f7fcc8,#f6fcc8,#f6fbc8,#f6fbc8,#f7fcc9,#f8fcc9,#f9fdca,#fafdcb,#fcfdcb,#fdfecc,#fdfecc,#fdfecc,#fdfecc,#fdfecc,#fdfecc,#fdfecc,#fdfecc,#fdfecc,#fdfecc,#fdfecc,#fdfecc,#fdfecc,#fdfecc,#fdfecc,#fdfecc,#fdfecc,#fdfecc,#fdfecc,#fdfecc,#fdfecc,#fdfecc,#fdfecc,#fdfecc,#fdfecc,#fdfecc)"></div>
<div style="background:linear-gradient(90deg,#fdfecc,#fdfecc,#fdfecc,#fdfecc,#fdfecc,#fdfecc,#fdfecc,#fdfecc,#fdfecc,#fdfecc,#fdfecc,#fdfecc,#fdfecc,#fdfecc,#fdfecc,#fdfecc,#fdfecc,#f9fdca,#f6fcc8,#f6fcc8,#f6fcc8,#f6fcc8,#f6fcc8,#f6fcc8,#f7fcc8,#f7fcc8,#f7fcc9,#f7fcc9,#f7fcc9,#f7fcc9,#f7fcc8,#f6fcc8,#f6fbc8,#f7fcc9,#f8fcc9,#f9fdca,#fafdca,#fbfdcb,#fcfecc,#fdfecc,#fdfecc,#fdfecc,#fdfecc,#fdfecc,#fdfecc,#fdfecc,#fdfecc,#fdfecc,#fdfecc,#fdfecc,#fdfecc,#fdfecc,#fdfecc,#fdfecc,#fdfecc,#fdfecc,#fdfecc,#fdfecc,#fdfecc,#fdfecc,#fdfecc,#fdfecc,#fdfecc,#fdfecc)"></div>
<div style="background:linear-gradient(90deg,#fdfecc,#fdfecc,#fdfecc,#fdfecc,#fdfecc,#fdfecc,#fdfecc,#fdfecc,#fdfecc,#fdfecc,#fdfecc,#fdfecc,#fdfecc,#fdfecc,#fdfecc,#fdfecc,#fdfecc,#f9fcca,#f6fcc8,#f6fcc8,#f6fcc8,#f6fcc8,#f6fcc8,#f6fcc8,#f6fcc8,#f6fcc8,#f7fcc8,#f7fcc8,#f6fbc8,#f7fcc9,#f7fcc9,#f7fcc8,#f6fcc8,#f7fcc8,#f8fcc9,#f9fcca,#fafdca,#fbfdcb,#fcfdcb,#fcfecc,#fdfecc,#fdfecc,#fdfecc,#fdfecc,#fdfecc,#fdfecc,#fdfecc,#fdfecc,#fdfecc,#fdfecc,#fdfecc,#fdfecc,#fdfecc,#fdfecc,#fdfecc,#fdfecc,#fdfecc,#fdfecc,#fdfecc,#fdfecc,#fdfecc,#fdfecc,#fdfecc,#fdfecc)"></div>
<div style="background:linear-gradient(90deg,#fdfecc,#fdfecc,#fdfecc,#fdfecc,#fdfecc,#fdfecc,#fdfecc,#fdfecc,#fdfecc,#fdfecc,#fdfecc,#fdfecc,#fdfecc,#fdfecc,#fdfecc,#fdfecc,#fdfecc,#f8fcc9,#f6fcc8,#f6fcc8,#f6fcc8,#f6fcc8,#f6fcc8,#f6fcc8,#f6fcc8,#f6fcc8,#f6fcc8,#f6fcc8,#f6fbc8,#f7fcc8,#f7fcc9,#f7fcc8,#f6fcc8,#f6fcc8,#f7fcc9,#f8fcc9,#f9fdca,#fafdca,#fbfdcb,#fbfdcb,#fcfecb,#fcfecc,#fdfecc,#fdfecc,#fdfecc,#fdfecc,#fdfecc,#fdfecc,#fdfecc,#fdfecc,#fdfecc,#fdfecc,#fdfecc,#fdfecc,#fdfecc,#fdfecc,#fdfecc,#fdfecc,#fdfecc,#fdfecc,#fdfecc,#fdfecc,#fdfecc,#fdfecc)"></div>
<div style="background:linear-gradient(90deg,#fdfecc,#fdfecc,#fdfecc,#fdfecc,#fdfecc,#fdfecc,#fdfecc,#fdfecc,#fdfecc,#fdfecc,#fdfecc,#fdfecc,#fdfecc,#fdfecc,#fdfecc,#fdfecc,#fdfecc,#f8fcc9,#f6fcc8,#f6fcc8,#f6fcc8,#f6fcc8,#f6fcc8,#f6fcc8,#f6fcc8,#f6fcc8,#f6fcc8,#f6fcc8,#f6fbc8,#f6fcc8,#f7fcc8,#f7fcc8,#f6fcc8,#f6fcc8,#f7fcc9,#f8fcc9,#f9fcca,#f9fdca,#fafdca,#fafdcb,#fbfdcb,#fcfdcb,#fcfecc,#fdfecc,#fdfecc,#fdfecc,#fdfecc,#fdfecc,#fdfecc,#fdfecc,#fdfecc,#fdfecc,#fdfecc,#fdfecc,#fdfecc,#fdfecc,#fdfecc,#fdfecc,#fdfecc,#fdfecc,#fdfecc,#fdfecc,#fdfecc,#fdfecc)"></div>
<div style="background:linear-gradient(90deg,#fdfecc,#fdfecc,#fdfecc,#fdfecc,#fdfecc,#fdfecc,#fdfecc,#fdfecc,#fdfecc,#fdfecc,#fdfecc,#fdfecc,#fdfecc,#fdfecc,#fdfecc,#fdfecc,#fdfecc,#f7fcc9,#f6fcc8,#f6fcc8,#f6fcc8,#f6fcc8,#f6fcc8,#f6fcc8,#f6fcc8,#f6fcc8,#f6fcc8,#f6fcc8,#f6fcc8,#f6fcc8,#f6fcc8,#f6fcc8,#f6fcc8,#f6fcc8,#f7fcc9,#f7fcc9,#f8fcc9,#f9fcca,#f9fdca,#f9fdca,#fafdca,#fbfdcb,#fbfdcb,#fcfecb,#fdfecc,#fdfecc,#fdfecc,#fdfecc,#fdfecc,#fdfecc,#fdfecc,#fdfecc,#fdfecc,#fdfecc,#fdfecc,#fdfecc,#fdfecc,#fdfecc,#fdfecc,#fdfecc,#fdfecc,#fdfecc,#fdfecc,#fdfecc)"></div>
<div style="background:linear-gradient(90deg,#fdfecc,#fdfecc,#fdfecc,#fdfecc,#fdfecc,#fdfecc,#fdfecc,#fdfecc,#fdfecc,#fdfecc,#fdfecc,#fdfecc,#fdfecc,#fdfecc,#fdfecc,#fdfecc,#fcfecc,#f7fcc9,#f6fcc8,#f6fcc8,#f6fcc8,#f6fcc8,#f6fcc8,#f6fcc8,#f6fcc8,#f6fcc8,#f6fcc8,#f6fcc8,#f6fcc8,#f6fcc8,#f6fcc8,#f6fcc8,#f6fcc8,#f6fcc8,#f7fcc8,#f7fcc9,#f7fcc9,#f9fdca,#f9fdca,#f9fcca,#f9fdca,#f9fdca,#fafdca,#fbfdcb,#fcfecb,#fcfecc,#fdfecc,#fdfecc,#fdfecc,#fdfecc,#fdfecc,#fdfecc,#fdfecc,#fdfecc,#fdfecc,#fdfecc,#fdfecc,#fdfecc,#fdfecc,#fdfecc,#fdfecc,#fdfecc,#fdfecc,#fdfecc)"></div>
<div style="background:linear-gradient(90deg,#fdfecc,#fdfecc,#fdfecc,#fdfecc,#fdfecc,#fdfecc,#fdfecc,#fdfecc,#fdfecc,#fdfecc,#fdfecc,#fdfecc,#fdfecc,#fdfecc,#fdfecc,#fdfecc,#fcfecb,#f7fcc8,#f6fcc8,#f6fcc8,#f6fcc8,#f6fcc8,#f6fcc8,#f6fcc8,#f6fcc8,#f6fcc8,#f6fcc8,#f6fcc8,#f6fcc8,#f6fcc8,#f6fcc8,#f6fcc8,#f6fcc8,#f6fcc8,#f6fcc8,#f7fcc8,#f7fcc9,#fbfdcb,#fafdcb,#f9fdca,#f9fcca,#f9fcca,#f9fdca,#fafdca,#fbfdcb,#fbfdcb,#fcfdcb,#fcfecc,#fdfecc,#fdfecc,#fdfecc,#fdfecc,#fdfecc,#fdfecc,#fdfecc,#fdfecc,#fdfecc,#fdfecc,#fdfecc,#fdfecc,#fdfecc,#fdfecc,#fdfecc,#fdfecc)"></div>
<div style="background:linear-gradient(90deg,#fdfecc,#fdfecc,#fdfecc,#fdfecc,#fdfecc,#fdfecc,#fdfecc,#fdfecc,#fdfecc,#fdfecc,#fdfecc,#fdfecc,#fdfecc,#fdfecc,#fdfecc,#fdfecc,#fbfdcb,#f7fcc8,#f6fcc8,#f6fcc8,#f6fcc8,#f6fcc8,#f6fcc8,#f6fcc8,#f6fcc8,#f6fcc8,#f6fcc8,#f6fcc8,#f6fcc8,#f6fcc8,#f6fcc8,#f6fcc8,#f6fcc8,#f6fcc8,#f6fcc8,#f6fcc8,#f7fcc9,#fcfecb,#fcfecb,#fbfdcb,#fafdca,#f9fdca,#f9fcca,#f8fcc9,#f9fdca,#fafdca,#fafdcb,#fbfdcb,#fbfdcb,#fbfdcb,#fcfecb,#fcfecb,#fcfecb,#fcfecb,#fcfecb,#fcfecc,#fdfecc,#fdfecc,#fdfecc,#fdfecc,#fdfecc,#fdfecc,#fdfecc,#fdfecc)"></div>
<div style="background:linear-gradient(90deg,#fdfecc,#fdfecc,#fdfecc,#fdfecc,#fdfecc,#fdfecc,#fdfecc,#fdfecc,#fdfecc,#fdfecc,#fdfecc,#fdfecc,#fdfecc,#fdfecc,#fdfecc,#fdfecc,#fbfdcb,#f7fcc8,#f6fcc8,#f6fcc8,#f6fcc8,#f6fcc8,#f6fcc8,#f6fcc8,#f6fcc8,#f6fcc8,#f6fcc8,#f6fcc8,#f6fcc8,#f6fcc8,#f6fcc8,#f6fcc8,#f6fcc8,#f6fcc8,#f6fcc8,#f6fcc8,#f7fcc9,#fcfecc,#fdfecc,#fcfecc,#fcfecb,#fbfdcb,#f9fcca,#f7fcc9,#f8fcc9,#f9fcca,#fafdca,#fafdca,#fafdca,#fafdcb,#fafdca,#fafdcb,#fafdcb,#fbfdcb,#fbfdcb,#fbfdcb,#fbfdcb,#fcfecb,#fcfecb,#fcfecc,#fdfecc,#fdfecc,#fdfecc,#fdfecc)"></div>
<div style="background:linear-gradient(90deg,#fdfecc,#fdfecc,#fdfecc,#fdfecc,#fdfecc,#fdfecc,#fdfecc,#fdfecc,#fdfecc,#fdfecc,#fdfecc,#fdfecc,#fdfecc,#fdfecc,#fdfecc,#fdfecc,#fafdca,#f6fcc8,#f6fcc8,#f6fcc8,#f6fcc8,#f6fcc8,#f6fcc8,#f6fcc8,#f6fcc8,#f6fcc8,#f6fcc8,#f6fcc8,#f6fcc8,#f6fcc8,#f6fcc8,#f6fcc8,#f6fcc8,#f6fcc8,#f6fcc8,#f6fcc8,#f7fcc8,#fcfecb,#fdfecc,#fdfecc,#fdfecc,#fcfecb,#f8fcc9,#f7fcc9,#f7fcc9,#f8fcc9,#fafdca,#fafdcb,#fbfdcb,#fbfdcb,#fafdca,#fafdca,#fafdca,#fafdca,#fafdca,#fafdcb,#fafdca,#fafdca,#fafdca,#fafdca,#fcfecb,#fcfecc,#fdfecc,#fdfecc)"></div>
<div style="background:linear-gradient(90deg,#fdfecc,#fdfecc,#fdfecc,#fdfecc,#fdfecc,#fdfecc,#fdfecc,#fdfecc,#fdfecc,#fdfecc,#fdfecc,#fdfecc,#fdfecc,#fdfecc,#fdfecc,#fdfecc,#f9fdca,#f6fcc8,#f6fcc8,#f6fcc8,#f6fcc8,#f6fcc8,#f6fcc8,#f6fcc8,#f6fcc8,#f6fcc8,#f6fcc8,#f6fcc8,#f6fcc8,#f6fcc8,#f6fcc8,#f6fcc8,#f6fcc8,#f6fcc8,#f6fcc8,#f6fcc8,#f7fcc8,#fcfdcb,#fdfecc,#fdfecc,#fdfecc,#fcfecb,#f7fcc9,#f7fcc8,#f7fcc8,#f8fcc9,#fcfecb,#fcfecb,#fcfecb,#fcfecb,#fbfdcb,#fbfdcb,#fbfdcb,#fbfdcb,#fbfdcb,#fbfdcb,#fafdca,#fafdca,#f8fcc9,#f8fcc9,#fbfdcb,#fcfecc,#fdfecc,#fdfecc)"></div>
<div style="background:linear-gradient(90deg,#fdfecc,#fdfecc,#fdfecc,#fdfecc,#fdfecc,#fdfecc,#fdfecc,#fdfecc,#fdfecc,#fdfecc,#fdfecc,#fdfecc,#fdfecc,#fdfecc,#fdfecc,#fdfecc,#f9fcca,#f6fcc8,#f6fcc8,#f6fcc8,#f6fcc8,#f6fcc8,#f6fcc8,#f6fcc8,#f6fcc8,#f6fcc8,#f6fcc8,#f6fcc8,#f6fcc8,#f6fcc8,#f6fcc8,#f6fcc8,#f6fcc8,#f6fcc8,#f6fcc8,#f6fcc8,#f7fcc8,#fbfdcb,#fdfecc,#fdfecc,#fdfecc,#fafdcb,#f7fcc9,#f6fcc8,#f6fcc8,#f7fcc9,#fcfecc,#fdfecc,#fdfecc,#fdfecc,#fcfecc,#fcfecc,#fcfecc,#fcfecc,#fcfecc,#fcfecc,#fbfdcb,#fbfdcb,#f8fcc9,#f7fcc9,#fbfdcb,#fdfecc,#fdfecc,#fdfecc)"></div>
<div style="background:linear-gradient(90deg,#fdfecc,#fdfecc,#fdfecc,#fdfecc,#fdfecc,#fdfecc,#fdfecc,#fdfecc,#fdfecc,#fdfecc,#fdfecc,#fdfecc,#fdfecc,#fdfecc,#fdfecc,#fdfecc,#f8fcc9,#f6fcc8,#f6fcc8,#f6fcc8,#f6fcc8,#f6fcc8,#f6fcc8,#f6fcc8,#f6fcc8,#f6fcc8,#f6fcc8,#f6fcc8,#f6fcc8,#f6fcc8,#f6fcc8,#f6fcc8,#f6fcc8,#f6fcc8,#f6fcc8,#f6fcc8,#f6fcc8,#fafdcb,#fdfecc,#fdfecc,#fdfecc,#f9fcca,#f7fcc8,#f6fcc8,#f6fcc8,#f7fcc9,#fcfecc,#fdfecc,#fdfecc,#fdfecc,#fdfecc,#fdfecc,#fdfecc,#fdfecc,#fdfecc,#fdfecc,#fdfecc,#fcfecb,#f7fcc9,#f7fcc8,#fafdcb,#fdfecc,#fdfecc,#fdfecc)"></div>
<div style="background:linear-gradient(90deg,#fdfecc,#fdfecc,#fdfecc,#fdfecc,#fdfecc,#fdfecc,#fdfecc,#fdfecc,#fdfecc,#fdfecc,#fdfecc,#fdfecc,#fdfecc,#fdfecc,#fdfecc,#fdfecc,#f8fcc9,#f6fcc8,#f6fcc8,#f6fcc8,#f6fcc8,#f6fcc8,#f6fcc8,#f6fcc8,#f6fcc8,#f6fcc8,#f6fcc8,#f6fcc8,#f6fcc8,#f6fcc8,#f6fcc8,#f6fcc8,#f6fcc8,#f6fcc8,#f6fcc8,#f6fcc8,#f6fcc8,#fafdca,#fdfecc,#fdfecc,#fdfecc,#f8fcc9,#f6fcc8,#f6fcc8,#f6fcc8,#f7fcc8,#fcfecb,#fdfecc,#fdfecc,#fdfecc,#fdfecc,#fdfecc,#fdfecc,#fdfecc,#fdfecc,#fdfecc,#fdfecc,#fbfdcb,#f7fcc9,#f6fcc8,#f9fdca,#fdfecc,#fdfecc,#fdfecc)"></div>
<div style="background:linear-gradient(90deg,#fdfecc,#fdfecc,#fdfecc,#fdfecc,#fdfecc,#fdfecc,#fdfecc,#fdfecc,#fdfecc,#fdfecc,#fdfecc,#fdfecc,#fdfecc,#fdfecc,#fdfecc,#fdfecc,#f7fcc9,#f6fcc8,#f6fcc8,#f6fcc8,#f6fcc8,#f6fcc8,#f6fcc8,#f6fcc8,#f6fcc8,#f6fcc8,#f6fcc8,#f6fcc8,#f6fcc8,#f6fcc8,#f6fcc8,#f6fcc8,#f6fcc8,#f6fcc8,#f6fcc8,#f6fcc8,#f6fcc8,#f9fdca,#fdfecc,#fdfecc,#fcfecb,#f7fcc9,#f6fcc8,#f6fcc8,#f6fcc8,#f7fcc8,#fbfdcb,#fdfecc,#fdfecc,#fdfecc,#fdfecc,#fdfecc,#fdfecc,#fdfecc,#fdfecc,#fdfecc,#fdfecc,#fafdca,#f7fcc8,#f6fcc8,#f8fcc9,#fdfecc,#fdfecc,#fdfecc)"></div>
<div style="background:linear-gradient(90deg,#fdfecc,#fdfecc,#fdfecc,#fdfecc,#fdfecc,#fdfecc,#fdfecc,#fdfecc,#fdfecc,#fdfecc,#fdfecc,#fdfecc,#fdfecc,#fdfecc,#fdfecc,#fcfecc,#f7fcc9,#f6fcc8,#f6fcc8,#f6fcc8,#f6fcc8,#f6fcc8,#f6fcc8,#f6fcc8,#f6fcc8,#f6fcc8,#f6fcc8,#f6fcc8,#f6fcc8,#f6fcc8,#f6fcc8,#f6fcc8,#f6fcc8,#f6fcc8,#f6fcc8,#f6fcc8,#f6fcc8,#f9fcca,#fdfecc,#fdfecc,#fafdcb,#f7fcc8,#f6fcc8,#f6fcc8,#f6fcc8,#f6fcc8,#fafdca,#fdfecc,#fdfecc,#fdfecc,#fdfecc,#fdfecc,#fdfecc,#fdfecc,#fdfecc,#fdfecc,#fdfecc,#f9fdca,#f6fcc8,#f6fcc8,#f8fcc9,#fdfecc,#fdfecc,#fdfecc)"></div>
<div style="background:linear-gradient(90deg,#fdfecc,#fdfecc,#fdfecc,#fdfecc,#fdfecc,#fdfecc,#fdfecc,#fdfecc,#fdfecc,#fdfecc,#fdfecc,#fdfecc,#fdfecc,#fdfecc,#fdfecc,#fcfecb,#f7fcc8,#f6fcc8,#f6fcc8,#f6fcc8,#f6fcc8,#f6fcc8,#f6fcc8,#f6fcc8,#f6fcc8,#f6fcc8,#f6fcc8,#f6fcc8,#f6fcc8,#f6fcc8,#f6fcc8,#f6fcc8,#f6fcc8,#f6fcc8,#f6fcc8,#f6fcc8,#f6fcc8,#f8fcc9,#fdfecc,#fdfecc,#f9fdca,#f6fcc8,#f6fcc8,#f6fcc8,#f6fcc8,#f6fcc8,#f9fcca,#fdfecc,#fdfecc,#fdfecc,#fdfecc,#fdfecc,#fdfecc,#fdfecc,#fdfecc,#fdfecc,#fdfecc,#f8fcc9,#f6fcc8,#f6fcc8,#f7fcc9,#fdfecc,#fdfecc,#fdfecc)"></div>
<div style="background:linear-gradient(90deg,#fdfecc,#fdfecc,#fdfecc,#fdfecc,#fdfecc,#fdfecc,#fdfecc,#fdfecc,#fdfecc,#fdfecc,#fdfecc,#fdfecc,#fdfecc,#fdfecc,#fdfecc,#fbfdcb,#f7fcc8,#f6fcc8,#f6fcc8,#f6fcc8,#f6fcc8,#f6fcc8,#f6fcc8,#f6fcc8,#f6fcc8,#f6fcc8,#f6fcc8,#f6fcc8,#f6fcc8,#f6fcc8,#f6fcc8,#f6fcc8,#f6fcc8,#f6fcc8,#f6fcc8,#f6fcc8,#f6fcc8,#f8fcc9,#fdfecc,#fdfecc,#f8fcc9,#f6fcc8,#f6fcc8,#f6fcc8,#f6fcc8,#f6fcc8,#f8fcc9,#fdfecc,#fdfecc,#fdfecc,#fdfecc,#fdfecc,#fdfecc,#fdfecc,#fdfecc,#fdfecc,#fdfecc,#f7fcc9,#f6fcc8,#f6fcc8,#f7fcc9,#fcfecc,#fdfecc,#fdfecc)"></div>
<div style="background:linear-gradient(90deg,#fdfecc,#fdfecc,#fdfecc,#fdfecc,#fdfecc,#fdfecc,#fdfecc,#fdfecc,#fdfecc,#fdfecc,#fdfecc,#fdfecc,#fdfecc,#fdfecc,#fdfecc,#fbfdcb,#f7fcc8,#f6fcc8,#f6fcc8,#f6fcc8,#f6fcc8,#f6fcc8,#f6fcc8,#f6fcc8,#f6fcc8,#f6fcc8,#f6fcc8,#f6fcc8,#f6fcc8,#f6fcc8,#f6fcc8,#f6fcc8,#f6fcc8,#f6fcc8,#f6fcc8,#f6fcc8,#f6fcc8,#f8fcc9,#fdfecc,#fcfecc,#f7fcc9,#f6fcc8,#f6fcc8,#f6fcc8,#f6fcc8,#f6fcc8,#f8fcc9,#fdfecc,#fdfecc,#fdfecc,#fdfecc,#fdfecc,#fdfecc,#fdfecc,#fdfecc,#fdfecc,#fcfecc,#f7fcc9,#f6fcc8,#f6fcc8,#f7fcc8,#fcfecb,#fdfecc,#fdfecc)"></div>
<div style="background:linear-gradient(90deg,#fdfecc,#fdfecc,#fdfecc,#fdfecc,#fdfecc,#fdfecc,#fdfecc,#fdfecc,#fdfecc,#fdfecc,#fdfecc,#fdfecc,#fdfecc,#fdfecc,#fdfecc,#fafdca,#f6fcc8,#f6fcc8,#f6fcc8,#f6fcc8,#f6fcc8,#f6fcc8,#f6fcc8,#f6fcc8,#f6fcc8,#f6fcc8,#f6fcc8,#f6fcc8,#f6fcc8,#f6fcc8,#f6fcc8,#f6fcc8,#f6fcc8,#f6fcc8,#f6fcc8,#f6fcc8,#f6fcc8,#f7fcc9,#fdfecc,#fbfdcb,#f7fcc8,#f6fcc8,#f6fcc8,#f6fcc8,#f6fcc8,#f6fcc8,#f7fcc9,#fdfecc,#fdfecc,#fdfecc,#fdfecc,#fdfecc,#fdfecc,#fdfecc,#fdfecc,#fdfecc,#fcfecb,#f7fcc8,#f6fcc8,#f6fcc8,#f7fcc8,#fcfdcb,#fdfecc,#fdfecc)"></div>
<div style="background:linear-gradient(90deg,#fdfecc,#fdfecc,#fdfecc,#fdfecc,#fdfecc,#fdfecc,#fdfecc,#fdfecc,#fdfecc,#fdfecc,#fdfecc,#fdfecc,#fdfecc,#fdfecc,#fdfecc,#f9fdca,#f6fcc8,#f6fcc8,#f6fcc8,#f6fcc8,#f6fcc8,#f6fcc8,#f6fcc8,#f6fcc8,#f6fcc8,#f6fcc8,#f6fcc8,#f6fcc8,#f6fcc8,#f6fcc8,#f6fcc8,#f6fcc8,#f6fcc8,#f6fcc8,#f6fcc8,#f6fcc8,#f6fcc8,#f7fcc9,#fdfecc,#fafdca,#f7fcc8,#f6fcc8,#f6fcc8,#f6fcc8,#f6fcc8,#f6fcc8,#f7fcc9,#fcfecc,#fdfecc,#fdfecc,#fdfecc,#fdfecc,#fdfecc,#fdfecc,#fdfecc,#fdfecc,#fbfdcb,#f7fcc8,#f6fcc8,#f6fcc8,#f7fcc8,#fbfdcb,#fdfecc,#fdfecc)"></div>
<div style="background:linear-gradient(90deg,#fdfecc,#fdfecc,#fdfecc,#fdfecc,#fdfecc,#fdfecc,#fdfecc,#fdfecc,#fdfecc,#fdfecc,#fdfecc,#fdfecc,#fdfecc,#fdfecc,#fdfecc,#f9fcca,#f6fcc8,#f6fcc8,#f6fcc8,#f6fcc8,#f6fcc8,#f6fcc8,#f6fcc8,#f6fcc8,#f6fcc8,#f6fcc8,#f6fcc8,#f6fcc8,#f6fcc8,#f6fcc8,#f6fcc8,#f6fcc8,#f6fcc8,#f6fcc8,#f6fcc8,#f6fcc8,#f6fcc8,#f7fcc9,#fdfecc,#f9fcca,#f6fcc8,#f6fcc8,#f6fcc8,#f6fcc8,#f6fcc8,#f6fcc8,#f7fcc9,#fcfecb,#fdfecc,#fdfecc,#fdfecc,#fdfecc,#fdfecc,#fdfecc,#fdfecc,#fdfecc,#fafdcb,#f6fcc8,#f6fcc8,#f6fcc8,#f6fcc8,#fafdca,#fdfecc,#fdfecc)"></div>
<div style="background:linear-gradient(90deg,#fdfecc,#fdfecc,#fdfecc,#fdfecc,#fdfecc,#fdfecc,#fdfecc,#fdfecc,#fdfecc,#fdfecc,#fdfecc,#fdfecc,#fdfecc,#fdfecc,#fdfecc,#f8fcc9,#f6fcc8,#f6fcc8,#f6fcc8,#f6fcc8,#f6fcc8,#f6fcc8,#f6fcc8,#f6fcc8,#f6fcc8,#f6fcc8,#f6fcc8,#f6fcc8,#f6fcc8,#f6fcc8,#f6fcc8,#f6fcc8,#f6fcc8,#f6fcc8,#f6fcc8,#f6fcc8,#f6fcc8,#f7fcc9,#fcfecc,#f8fcc9,#f6fcc8,#f6fcc8,#f6fcc8,#f6fcc8,#f6fcc8,#f6fcc8,#f7fcc8,#fcfdcb,#fdfecc,#fdfecc,#fdfecc,#fdfecc,#fdfecc,#fdfecc,#fdfecc,#fdfecc,#fafdca,#f6fcc8,#f6fcc8,#f6fcc8,#f6fcc8,#fafdca,#fdfecc,#fdfecc)"></div>
<div style="background:linear-gradient(90deg,#fdfecc,#fdfecc,#fdfecc,#fdfecc,#fdfecc,#fdfecc,#fdfecc,#fdfecc,#fdfecc,#fdfecc,#fdfecc,#fdfecc,#fdfecc,#fdfecc,#fdfecc,#f7fcc9,#f6fcc8,#f6fcc8,#f6fcc8,#f6fcc8,#f6fcc8,#f6fcc8,#f6fcc8,#f6fcc8,#f6fcc8,#f6fcc8,#f6fcc8,#f6fcc8,#f6fcc8,#f6fcc8,#f6fcc8,#f6fcc8,#f6fcc8,#f6fcc8,#f6fcc8,#f6fcc8,#f6fcc8,#f7fcc9,#fcfecb,#f7fcc9,#f6fcc8,#f6fcc8,#f6fcc8,#f6fcc8,#f6fcc8,#f6fcc8,#f7fcc8,#fbfdcb,#fdfecc,#fdfecc,#fdfecc,#fdfecc,#fdfecc,#fdfecc,#fdfecc,#fdfecc,#f9fdca,#f6fcc8,#f6fcc8,#f6fcc8,#f6fcc8,#f9fdca,#fdfecc,#fdfecc)"></div>
<div style="background:linear-gradient(90deg,#fdfecc,#fdfecc,#fdfecc,#fdfecc,#fdfecc,#fdfecc,#fdfecc,#fdfecc,#fdfecc,#fdfecc,#fdfecc,#fdfecc,#fdfecc,#fdfecc,#fdfecc,#f7fcc9,#f6fcc8,#f6fcc8,#f6fcc8,#f6fcc8,#f6fcc8,#f6fcc8,#f6fcc8,#f6fcc8,#f6fcc8,#f6fcc8,#f6fcc8,#f6fcc8,#f6fcc8,#f6fcc8,#f6fcc8,#f6fcc8,#f6fcc8,#f6fcc8,#f6fcc8,#f6fcc8,#f6fcc8,#f7fcc9,#fcfecb,#f7fcc9,#f6fcc8,#f6fcc8,#f6fcc8,#f6fcc8,#f6fcc8,#f6fcc8,#f7fcc8,#fbfdcb,#fdfecc,#fdfecc,#fdfecc,#fdfecc,#fdfecc,#fdfecc,#fdfecc,#fdfecc,#f9fcca,#f6fcc8,#f6fcc8,#f6fcc8,#f6fcc8,#f9fcca,#fdfecc,#fdfecc)"></div>
<div style="background:linear-gradient(90deg,#fdfecc,#fdfecc,#fdfecc,#fdfecc,#fdfecc,#fdfecc,#fdfecc,#fdfecc,#fdfecc,#fdfecc,#fdfecc,#fdfecc,#fdfecc,#fdfecc,#fdfecc,#f7fcc9,#f6fcc8,#f6fcc8,#f6fcc8,#f6fcc8,#f6fcc8,#f6fcc8,#f6fcc8,#f6fcc8,#f6fcc8,#f6fcc8,#f6fcc8,#f6fcc8,#f6fcc8,#f6fcc8,#f6fcc8,#f6fcc8,#f6fcc8,#f6fcc8,#f6fcc8,#f6fcc8,#f6fcc8,#f7fcc8,#fcfdcb,#f6fcc8,#f6fcc8,#f6fcc8,#f6fcc8,#f6fcc8,#f6fcc8,#f6fcc8,#f6fcc8,#fbfdcb,#fdfecc,#fdfecc,#fdfecc,#fdfecc,#fdfecc,#fdfecc,#fdfecc,#fdfecc,#f9fcca,#f6fcc8,#f6fcc8,#f6fcc8,#f6fcc8,#f9fcca,#fdfecc,#fdfecc)"></div>
</div></div>
<div class="f" style="left:134.0px;top:1310.8px;width:1240.4px;height:491.2px;clip-path:polygon(0.0px 0.0px,1240.4px 0.0px,1240.4px 436.1px,1228.0px 436.1px,1228.0px 436.1px,1215.6px 436.1px,1215.6px 433.7px,1203.2px 433.7px,1203.2px 433.7px,1190.8px 433.7px,1190.8px 433.7px,1178.4px 433.7px,1178.4px 431.2px,1166.0px 431.2px,1166.0px 431.2px,1153.6px 431.2px,1153.6px 431.2px,1141.2px 431.2px,1141.2px 431.2px,1128.8px 431.2px,1128.8px 428.8px,1116.4px 428.8px,1116.4px 428.8px,1104.0px 428.8px,1104.0px 428.8px,1091.6px 428.8px,1091.6px 428.8px,1079.2px 428.8px,1079.2px 426.3px,1066.8px 426.3px,1066.8px 426.3px,1054.4px 426.3px,1054.4px 426.3px,1042.0px 426.3px,1042.0px 423.9px,1029.6px 423.9px,1029.6px 423.9px,1017.2px 423.9px,1017.2px 423.9px,1004.8px 423.9px,1004.8px 421.4px,992.4px 421.4px,992.4px 421.4px,980.0px 421.4px,980.0px 419.0px,967.6px 419.0px,967.6px 419.0px,955.2px 419.0px,955.2px 419.0px,942.8px 419.0px,942.8px 416.5px,930.4px 416.5px,930.4px 416.5px,918.0px 416.5px,918.0px 414.0px,905.6px 414.0px,905.6px 414.0px,893.2px 414.0px,893.2px 414.0px,880.8px 414.0px,880.8px 411.6px,868.4px 411.6px,868.4px 411.6px,856.0px 411.6px,856.0px 409.2px,843.6px 409.2px,843.6px 409.2px,831.2px 409.2px,831.2px 406.7px,818.8px 406.7px,818.8px 406.7px,806.4px 406.7px,806.4px 404.2px,794.0px 404.2px,794.0px 404.2px,781.6px 404.2px,781.6px 401.8px,769.2px 401.8px,769.2px 401.8px,756.8px 401.8px,756.8px 399.4px,744.4px 399.4px,744.4px 399.4px,732.0px 399.4px,732.0px 396.9px,719.6px 396.9px,719.6px 394.5px,707.2px 394.5px,707.2px 392.0px,694.8px 392.0px,694.8px 389.5px,682.4px 389.5px,682.4px 387.1px,670.0px 387.1px,670.0px 384.7px,657.6px 384.7px,657.6px 382.2px,645.2px 382.2px,645.2px 377.3px,632.8px 377.3px,632.8px 374.9px,620.4px 374.9px,620.4px 370.0px,608.0px 370.0px,608.0px 367.5px,595.6px 367.5px,595.6px 362.6px,583.2px 362.6px,583.2px 357.7px,570.8px 357.7px,570.8px 352.8px,558.4px 352.8px,558.4px 347.9px,546.0px 347.9px,546.0px 340.5px,533.6px 340.5px,533.6px 335.7px,521.2px 335.7px,521.2px 328.3px,508.8px 328.3px,508.8px 323.4px,496.4px 323.4px,496.4px 316.0px,484.0px 316.0px,484.0px 311.2px,471.6px 311.2px,471.6px 306.2px,459.2px 306.2px,459.2px 301.4px,446.8px 301.4px,446.8px 296.5px,434.4px 296.5px,434.4px 291.5px,422.0px 291.5px,422.0px 289.1px,409.6px 289.1px,409.6px 284.2px,397.2px 284.2px,397.2px 281.8px,384.8px 281.8px,384.8px 276.9px,372.4px 276.9px,372.4px 274.4px,360.0px 274.4px,360.0px 272.0px,347.6px 272.0px,347.6px 267.0px,335.2px 267.0px,335.2px 264.6px,322.8px 264.6px,322.8px 262.2px,310.4px 262.2px,310.4px 259.7px,298.0px 259.7px,298.0px 257.2px,285.6px 257.2px,285.6px 257.2px,273.2px 257.2px,273.2px 254.8px,260.8px 254.8px,260.8px 252.4px,248.4px 252.4px,248.4px 249.9px,236.0px 249.9px,236.0px 249.9px,223.6px 249.9px,223.6px 247.5px,211.2px 247.5px,211.2px 245.0px,198.8px 245.0px,198.8px 245.0px,186.4px 245.0px,186.4px 242.5px,174.0px 242.5px,174.0px 242.5px,161.6px 242.5px,161.6px 240.1px,149.2px 240.1px,149.2px 237.7px,136.8px 237.7px,136.8px 237.7px,124.4px 237.7px,124.4px 235.2px,112.0px 235.2px,112.0px 235.2px,99.6px 235.2px,99.6px 232.8px,87.2px 232.8px,87.2px 232.8px,74.8px 232.8px,74.8px 232.8px,62.4px 232.8px,62.4px 230.3px,50.0px 230.3px,50.0px 230.3px,37.6px 230.3px,37.6px 230.3px,25.2px 230.3px,25.2px 230.3px,12.8px 230.3px,12.8px 227.9px,0.4px 227.9px,0.4px 227.9px,0.0px 227.9px)">
<div class="g" style="top:-18px;width:1240.4px">
<div style="background:linear-gradient(90deg,#ebf7c2,#ebf7c2,#c4e9b1,#bce6af,#b6e4ad,#aae0aa,#ace0aa,#aae0aa,#67bfa4,#64bda4,#83d1a4,#85d2a4,#6dc4a4,#63bba4,#63bba4,#6dc4a4,#76caa3,#64bda4,#63bba4,#63bba4,#63bba4,#63bba4,#64bca4,#6bc2a4,#67bfa4,#63bca4,#64bca4,#64bca4,#69c1a4,#66bea4,#64bca4,#64bca4,#64bca4,#64bca4,#63bca4,#6dc4a4,#88d3a4,#66bfa4,#9fdca7,#afe1ab,#ade1ab,#ade1aa,#ace1aa,#c4e9b1,#bae6ae,#aae0aa,#aae0aa,#bee7af,#e4f5be,#e3f4bd,#b6e4ad,#a6dea9,#e5f5bf,#ebf7c2,#fdfecc,#fdfecc,#fdfecc,#d4efb7,#cbecb4,#ccecb4,#cbebb4,#caebb4,#caebb4)"></div>
<div style="background:linear-gradient(90deg,#ebf7c2,#eaf7c2,#c5e9b2,#bce6af,#b5e4ad,#aae0aa,#a9dfa9,#a5dea8,#6ec5a4,#6bc2a4,#83d1a4,#83d1a4,#70c6a4,#66bfa4,#66bfa4,#6ec5a4,#75caa3,#67bfa4,#65bea4,#65bea4,#65bea4,#65bea4,#66bea4,#6cc3a4,#68c0a4,#65bea4,#65bea4,#65bea4,#69c1a4,#66bfa4,#65bea4,#65bea4,#65bea4,#65bea4,#66bfa4,#6fc5a4,#84d2a4,#6cc3a4,#9bdaa6,#a9dfa9,#abe0aa,#ace0aa,#ade1ab,#c1e8b0,#bbe6ae,#b1e2ab,#b2e2ac,#c2e8b0,#e1f4bd,#e1f4bd,#bbe6ae,#b0e2ab,#e5f5bf,#ecf8c3,#fcfecc,#fdfecc,#fdfecc,#d7f0b9,#cfedb5,#ceedb5,#ccecb4,#cbebb4,#caebb4)"></div>
<div style="background:linear-gradient(90deg,#ebf7c2,#eaf7c1,#c6eab2,#bce6af,#b5e4ad,#aae0aa,#a6dea8,#a0dca7,#76caa3,#73c8a3,#82d1a3,#80d0a3,#73c8a3,#6bc3a4,#6bc2a4,#70c5a4,#74c9a3,#6ac2a4,#69c1a4,#68c0a4,#68c0a4,#68c0a4,#68c0a4,#6dc3a4,#6ac1a4,#67bfa4,#66bfa4,#66bfa4,#69c1a4,#66bfa4,#65bea4,#66bea4,#66bfa4,#67c0a4,#69c1a4,#70c6a4,#7fd0a3,#71c7a3,#95d8a5,#a2dda7,#a7dfa9,#aae0aa,#aee1ab,#bde7af,#bbe6ae,#b7e4ad,#b9e5ae,#c5eab2,#ddf2bb,#dff3bc,#c0e8b0,#bae6ae,#e6f5bf,#edf8c3,#fbfdcb,#fcfecc,#fafdcb,#daf1ba,#d2eeb7,#d1eeb6,#ceedb5,#cbecb4,#caebb4)"></div>
<div style="background:linear-gradient(90deg,#ebf7c2,#e8f6c0,#c8eab3,#bce6af,#b4e3ac,#a7dfa9,#9edba6,#96d9a5,#7fd0a3,#7acda3,#7dcfa3,#7acda3,#73c8a3,#6fc5a4,#6dc4a4,#6ec4a4,#6ec5a4,#6ac2a4,#69c1a4,#69c1a4,#69c1a4,#69c0a4,#68c0a4,#69c1a4,#67c0a4,#65bea4,#63bca4,#63bba4,#63bba4,#62b9a4,#62b9a4,#62baa4,#63bba4,#64bca4,#66bea4,#6ac2a4,#73c8a3,#72c7a3,#84d2a4,#90d6a5,#99d9a6,#a0dca7,#a6dea9,#b1e2ac,#b5e4ad,#b9e5ae,#bee7af,#c6eab2,#d4efb7,#d9f1ba,#cbecb4,#cdecb5,#e7f6c0,#eef8c4,#f7fcc8,#f7fcc9,#f4fbc7,#e0f3bc,#d8f0b9,#d4efb8,#d0edb6,#ccecb4,#c9ebb3)"></div>
<div style="background:linear-gradient(90deg,#ebf7c2,#e3f4be,#c9ebb3,#bbe6ae,#afe2ab,#a1dca7,#93d7a5,#89d4a4,#7ecfa3,#79cca3,#75caa3,#71c7a3,#6dc4a4,#6ac1a4,#68c0a4,#66bea4,#65bda4,#64bca4,#64bca4,#64bca4,#64bca4,#64bca4,#63bca4,#62baa4,#61b9a4,#5fb5a4,#5cb1a3,#5aaea3,#58aca3,#57aaa3,#57aaa3,#58aba3,#59ada3,#5aaea3,#5bb0a3,#5eb4a4,#61b9a4,#65bda4,#6ec4a4,#76caa3,#7dcfa3,#87d3a4,#8fd6a5,#99d9a6,#a2dda7,#ace0aa,#b4e3ac,#bce6af,#c6eab2,#ceedb5,#d0edb6,#d7f0b9,#e5f5bf,#ecf8c2,#f0f9c5,#eff9c4,#ebf7c2,#e1f4bd,#daf1ba,#d4efb8,#cfedb5,#caebb3,#c7eab2)"></div>
<div style="background:linear-gradient(90deg,#eaf7c2,#ddf2bb,#c8ebb3,#b7e4ad,#a8dfa9,#96d8a5,#86d2a4,#7ccea3,#76caa3,#71c6a4,#6cc3a4,#67bfa4,#64bda4,#62baa4,#61b8a4,#5fb6a4,#5eb5a4,#5eb4a4,#5eb4a4,#5eb4a4,#5fb5a4,#5fb5a4,#5db3a3,#5bb0a3,#5aafa3,#56a9a3,#53a1a2,#509ba1,#4d96a1,#4c93a0,#4c92a0,#4c93a0,#4d95a0,#4e97a1,#4f99a1,#519da1,#53a3a2,#57aba3,#5db2a3,#62b9a4,#67bfa4,#6dc4a4,#73c8a3,#7acda3,#85d2a4,#93d7a5,#9fdca7,#aae0a9,#b3e3ac,#bee7af,#c8ebb3,#d2eeb7,#dcf2bb,#e5f5bf,#e7f6c0,#e6f6bf,#e3f4bd,#dbf2ba,#d5efb8,#d0edb6,#caebb4,#c6eab2,#c3e9b1)"></div>
<div style="background:linear-gradient(90deg,#e9f7c1,#d9f1b9,#c4e9b1,#b2e2ac,#9ddba6,#89d3a4,#7acda3,#73c8a3,#6cc3a4,#66bfa4,#63bba4,#60b7a4,#5eb4a4,#5cb2a3,#5bb0a3,#5aaea3,#59ada3,#58aca3,#58aca3,#58aca3,#59ada3,#58aca3,#56a8a3,#54a5a2,#54a4a2,#509ba1,#4b91a0,#47879f,#45819e,#437d9d,#437b9d,#437c9d,#437d9d,#447f9e,#45819e,#46859e,#488a9f,#4c93a0,#519da2,#55a7a3,#5aaea3,#5eb4a4,#61b9a4,#65bea4,#6dc4a4,#78cca3,#86d3a4,#95d8a5,#9fdca7,#abe0aa,#b8e5ae,#c4e9b1,#d0edb6,#dbf1ba,#ddf2bb,#dcf2bb,#d9f1ba,#d3eeb7,#cdedb5,#c9ebb3,#c5e9b2,#c1e8b0,#bfe7af)"></div>
<div style="background:linear-gradient(90deg,#e7f6c0,#d7f0b9,#bfe7b0,#aae0aa,#90d6a5,#7bcea3,#71c6a4,#69c1a4,#63bca4,#60b6a4,#5cb2a3,#5aaea3,#58aca3,#56a9a3,#55a7a3,#55a6a3,#54a4a2,#54a4a2,#53a3a2,#53a3a2,#53a3a2,#52a1a2,#509ca1,#4f99a1,#4f98a1,#498d9f,#45839e,#42789d,#406f9c,#3f6a9b,#3e689b,#3e689b,#3e699b,#3f6a9b,#3f6d9c,#40719c,#41769d,#447e9e,#47889f,#4c93a0,#509da1,#54a4a2,#57aaa3,#5aafa3,#5fb5a4,#66bfa4,#73c8a3,#7fd0a3,#8cd5a4,#98d9a6,#a5dea8,#b5e4ad,#c4e9b1,#cfedb5,#d1eeb6,#d2eeb7,#d0edb6,#caebb3,#c6eab2,#c4e9b1,#c0e7b0,#bbe6ae,#bbe6ae)"></div>
<div style="background:linear-gradient(90deg,#e2f4bd,#d5efb8,#bbe6ae,#a1dca7,#82d1a3,#72c7a3,#67bfa4,#61b8a4,#5db2a3,#59ada3,#56a8a3,#54a4a2,#53a2a2,#52a0a2,#519fa2,#529fa2,#519ea2,#519da1,#509da1,#509ca1,#509ba1,#4e97a1,#4c93a0,#4b90a0,#4a8fa0,#45829e,#42779d,#3f6a9b,#3e6199,#3f5c97,#3f5996,#3f5896,#3f5996,#3f5b97,#3f5d97,#3e6199,#3e669b,#3f6d9c,#41769d,#44809e,#488a9f,#4c94a0,#509ba1,#53a1a2,#56a9a3,#5cb2a3,#64bca4,#70c6a4,#7acda3,#85d2a4,#92d7a5,#a4dea8,#b7e4ad,#c2e8b0,#c6eab2,#c7eab2,#c6eab2,#c1e8b0,#bee7af,#bde7af,#bae5ae,#b6e4ad,#b7e4ad)"></div>
<div style="background:linear-gradient(90deg,#ddf2bb,#d4efb8,#b7e4ad,#96d8a5,#77cba3,#68c0a4,#60b6a4,#59aea3,#55a7a3,#53a2a2,#519da1,#4f9aa1,#4e98a1,#4e97a1,#4e98a1,#509ca1,#509ca1,#509ca1,#509ca1,#509ba1,#4f99a1,#4c92a0,#4a8ea0,#498c9f,#47889f,#42799d,#3f6d9c,#3e6098,#3f5795,#405291,#404e8e,#404c8d,#404d8d,#404e8f,#405090,#3f5594,#3f5996,#3e5f98,#3e669b,#406f9c,#42799d,#46839e,#498c9f,#4c93a0,#509ca1,#54a6a3,#5bb0a3,#63bca4,#6dc3a4,#76caa3,#7fd0a3,#92d7a5,#a6dea8,#b2e3ac,#b7e5ad,#bae5ae,#bbe6ae,#b7e4ad,#b6e4ad,#b6e4ad,#b4e3ac,#b1e2ac,#b1e2ac)"></div>
<div style="background:linear-gradient(90deg,#d9f1ba,#d3eeb7,#b2e3ac,#8bd4a4,#6fc5a4,#61b8a4,#58aba3,#52a1a2,#4f9aa1,#4d96a1,#4c93a0,#4b90a0,#4a8fa0,#4b90a0,#4c93a0,#509ca1,#529fa2,#52a1a2,#52a0a2,#529fa2,#509da1,#4b91a0,#498c9f,#488a9f,#45829e,#40719c,#3e649a,#3f5896,#404f90,#41498b,#414586,#414484,#414484,#414485,#414687,#404a8b,#404f90,#3f5493,#3f5996,#3e6099,#3f699b,#41749c,#437d9d,#46859e,#4a8e9f,#4e98a1,#54a3a2,#5bb0a3,#61b9a4,#68c0a4,#71c7a3,#7dcfa3,#90d6a5,#9cdba6,#a4dda8,#a9dfa9,#abe0aa,#aae0aa,#aae0aa,#abe0aa,#aae0aa,#aae0aa,#abe0aa)"></div>
<div style="background:linear-gradient(90deg,#d6f0b8,#d0edb6,#ade1aa,#81d0a3,#66bfa4,#5bafa3,#519ea2,#4c94a0,#4a8fa0,#498c9f,#488a9f,#47889f,#48899f,#498c9f,#4b90a0,#519ea2,#54a4a2,#55a7a3,#55a7a3,#55a6a3,#53a3a2,#4c93a0,#488b9f,#47889f,#447e9e,#3f6a9b,#3f5d97,#405291,#41498a,#414483,#42407d,#423e7a,#423e79,#423f7a,#42407d,#414383,#414688,#404b8c,#404f90,#3f5594,#3f5c97,#3e659a,#406e9c,#41769d,#44809e,#48899f,#4d95a0,#53a2a2,#59ada3,#5fb5a4,#64bca4,#6dc4a4,#78cba3,#81d0a3,#89d4a4,#8fd6a5,#93d7a5,#95d8a5,#96d8a5,#98d9a6,#9adaa6,#9ddba6,#a0dca7)"></div>
<div style="background:linear-gradient(90deg,#d2eeb7,#cbecb4,#a6dea9,#7acda3,#62b9a4,#55a7a3,#4c93a0,#48899f,#47869f,#46859e,#46839e,#45839e,#46849e,#488a9f,#4a8ea0,#52a1a2,#56a9a3,#59ada3,#59aea3,#59ada3,#56a9a3,#4e97a1,#488b9f,#46859e,#42799d,#3e659a,#3f5996,#404e8e,#414586,#42417e,#423d76,#403970,#40386e,#40396f,#413b73,#423f7a,#414280,#414484,#414788,#404b8c,#405191,#3f5896,#3e6099,#3e689b,#40719c,#427a9d,#46849e,#4b91a0,#519da1,#55a7a3,#5aafa3,#60b6a4,#64bda4,#6ac2a4,#6fc5a4,#73c8a3,#76caa3,#78cca3,#7acda3,#7dcfa3,#82d1a3,#8ad4a4,#8dd5a5)"></div>
<div style="background:linear-gradient(90deg,#cfedb5,#c5eab2,#9fdca7,#75c9a3,#5eb5a4,#52a0a2,#488a9f,#45839e,#45809e,#447f9e,#447d9e,#447e9e,#45819e,#47889f,#498d9f,#53a2a2,#58aba3,#5cb1a3,#5cb2a3,#5cb1a3,#59ada3,#509ca1,#498c9f,#45829e,#41759d,#3e6299,#3f5795,#404d8e,#414586,#42417e,#423c76,#40386e,#3f366a,#3f3669,#40376d,#413b74,#423e79,#42407c,#414280,#414484,#414789,#404d8e,#3f5493,#3f5a97,#3e6299,#3f6a9b,#41739c,#447e9e,#48899f,#4c93a0,#509ba1,#54a5a2,#57aba3,#5aafa3,#5db2a3,#5fb5a4,#61b8a4,#62baa4,#64bda4,#69c1a4,#6ec5a4,#78cba3,#76caa3)"></div>
<div style="background:linear-gradient(90deg,#ccecb4,#bfe7af,#97d9a5,#70c6a4,#5cb1a3,#509ba1,#47869f,#447e9e,#437b9d,#427a9d,#42789d,#427a9d,#447e9e,#47869f,#498c9f,#519ea2,#56a9a3,#5aafa3,#5bb0a3,#5aafa3,#57aaa3,#519da1,#498c9f,#447e9e,#40709c,#3e6199,#3f5996,#405090,#41488a,#414383,#42407c,#423d77,#413a71,#40386e,#403970,#423c75,#423d77,#423e78,#423f7a,#42407d,#414280,#414485,#41488a,#404e8e,#3f5493,#3f5a97,#3e6199,#3f699b,#40729c,#427a9d,#45819e,#48899f,#4a8fa0,#4c94a0,#4f99a1,#509da1,#52a1a2,#55a7a3,#58aca3,#5cb1a3,#60b7a4,#6ac2a4,#67bfa4)"></div>
<div style="background:linear-gradient(90deg,#c7eab2,#b6e4ad,#8dd5a5,#6bc2a4,#5aafa3,#4f99a1,#46859e,#437b9d,#42789d,#41769d,#41759d,#42779d,#437b9d,#45829e,#47889f,#4d95a0,#519ea2,#53a3a2,#54a4a2,#53a3a2,#529fa2,#4d96a1,#47889f,#427a9d,#3f6d9c,#3e639a,#3f5e98,#3f5594,#404f8f,#414a8b,#414587,#414382,#42407e,#423f7b,#423f7c,#42417e,#42407d,#42407c,#423f7b,#423f7b,#42407c,#42417e,#414280,#414484,#414789,#404c8c,#405090,#3f5594,#3f5a97,#3e6098,#3e649a,#3f6a9b,#406f9c,#41749c,#42799d,#447f9e,#47869f,#4b91a0,#509ca1,#53a3a2,#58aba3,#62b9a4,#62baa4)"></div>
<div style="background:linear-gradient(90deg,#bde7af,#abe0aa,#81d1a3,#65bea4,#59ada3,#4e98a1,#46859e,#437b9d,#42789d,#41769d,#41769d,#42779d,#42799d,#447e9e,#46849e,#488a9f,#4b90a0,#4c93a0,#4c94a0,#4c93a0,#4b91a0,#488b9f,#45829e,#41779d,#3f6c9c,#3e689b,#3e649a,#3f5c97,#3f5896,#3f5393,#405090,#404c8d,#41498b,#414789,#414789,#41488a,#414788,#414587,#414485,#414382,#414281,#42417f,#42417f,#42417f,#414280,#414382,#414485,#414587,#414789,#404a8b,#404d8e,#405090,#3f5493,#3f5896,#3f5e98,#3e649a,#406f9c,#447e9e,#4a90a0,#4d96a0,#53a1a2,#5eb5a4,#62baa4)"></div>
<div style="background:linear-gradient(90deg,#aee1ab,#99daa6,#76caa3,#62baa4,#57aba3,#4e98a1,#47869f,#447e9e,#437b9d,#427a9d,#427a9d,#427a9d,#437b9d,#437d9d,#44809e,#45839e,#46859e,#47879f,#47879f,#47869f,#46859e,#45829e,#437c9d,#41759d,#40709c,#40709c,#3f6d9c,#3e669b,#3e6299,#3f5e98,#3f5c97,#3f5a96,#3f5896,#3f5695,#3f5595,#3f5695,#3f5494,#3f5292,#405090,#404e8f,#404b8c,#41488a,#414688,#414585,#414382,#414281,#414280,#42417f,#42417e,#42417f,#414280,#414382,#414484,#414688,#404c8d,#3f5493,#3e6199,#40719c,#488a9f,#4a8ea0,#519ea2,#5eb4a4,#65bea4)"></div>
<div style="background:linear-gradient(90deg,#97d9a5,#82d1a3,#6bc2a4,#5eb5a4,#55a7a3,#4e96a1,#48899f,#45829e,#44809e,#447f9e,#44809e,#45809e,#45809e,#45809e,#45819e,#45819e,#45829e,#45829e,#45829e,#45819e,#45809e,#447e9e,#437b9d,#42789d,#42779d,#42789d,#41769d,#40729c,#406f9c,#3f6c9c,#3f6b9b,#3e699b,#3e679b,#3e669b,#3e659a,#3e659a,#3e639a,#3e6299,#3e6099,#3f5e98,#3f5b97,#3f5896,#3f5594,#405292,#404d8e,#41498a,#414587,#414483,#414280,#42417f,#42407d,#42407d,#42417f,#414382,#414688,#404f8f,#3f5d97,#406e9c,#48899f,#4a8fa0,#53a2a2,#61b8a4,#70c6a4)"></div>
<div style="background:linear-gradient(90deg,#79cca3,#6ec4a4,#61b9a4,#5aafa3,#53a2a2,#4c94a0,#498c9f,#47879f,#46869e,#46869e,#47879f,#47889f,#47889f,#47879f,#47869f,#46859e,#46849e,#46849e,#45839e,#45829e,#45829e,#45819e,#44809e,#44809e,#45809e,#45829e,#45819e,#447f9e,#447e9e,#437c9d,#437b9d,#427a9d,#42799d,#42789d,#42789d,#41779d,#41759d,#41749c,#40729c,#406f9c,#3f6c9c,#3f699b,#3e679b,#3e649a,#3e5f98,#3f5a96,#3f5494,#404f8f,#404b8c,#414789,#414586,#414485,#414586,#414688,#404c8d,#3f5594,#3e6299,#41739c,#498c9f,#4d96a1,#58aca3,#69c1a4,#86d2a4)"></div>
<div style="background:linear-gradient(90deg,#64bda4,#5fb6a4,#5aaea3,#56a9a3,#509ca1,#4b91a0,#4b91a0,#4a8d9f,#498d9f,#4a8d9f,#4a8fa0,#4b91a0,#4b92a0,#4b91a0,#4a8fa0,#498d9f,#488b9f,#48899f,#47889f,#47879f,#47879f,#47879f,#47889f,#48899f,#488a9f,#498b9f,#498c9f,#498c9f,#498c9f,#498d9f,#498d9f,#498c9f,#498c9f,#498b9f,#488b9f,#488a9f,#48899f,#47879f,#46859e,#45839e,#44809e,#437c9d,#427a9d,#42779d,#41739c,#3f6d9c,#3e679b,#3e6199,#3f5b97,#3f5695,#3f5292,#405191,#405191,#3f5393,#3f5996,#3e6199,#3f6e9c,#447f9e,#4c93a0,#54a4a2,#62b9a4,#7fd0a3,#abe0aa)"></div>
<div style="background:linear-gradient(90deg,#58aca3,#55a7a3,#53a3a2,#52a1a2,#4e97a1,#4c92a0,#4e97a1,#4d96a0,#4d96a1,#4e97a1,#4f9aa1,#509ca1,#509da1,#509ba1,#4f98a1,#4d96a1,#4c93a0,#4b91a0,#4b90a0,#4a8fa0,#4a8fa0,#4b90a0,#4b92a0,#4c93a0,#4d95a0,#4e96a1,#4e98a1,#4f9aa1,#509ba1,#519da1,#519ea2,#519fa2,#529fa2,#529fa2,#529fa2,#519fa2,#519ea2,#509da1,#509ba1,#4e98a1,#4d95a0,#4b91a0,#4a8ea0,#498b9f,#47879f,#45829e,#437c9d,#41769d,#406f9c,#3e689b,#3e649a,#3e6199,#3e6199,#3e639a,#3e699b,#40719c,#447d9e,#4a8e9f,#52a1a2,#5eb4a4,#77caa3,#a7dea9,#d1eeb6)"></div>
<div style="background:linear-gradient(90deg,#4f99a1,#4e97a1,#4e97a1,#4f99a1,#4c93a0,#4e97a1,#519ea2,#519fa2,#52a0a2,#53a2a2,#54a5a2,#55a7a3,#55a8a3,#54a6a3,#53a2a2,#519fa2,#509ca1,#4f99a1,#4e98a1,#4e98a1,#4e98a1,#4f99a1,#509ba1,#519ea2,#52a0a2,#53a2a2,#54a4a2,#55a7a3,#56a9a3,#58aca3,#59aea3,#5aafa3,#5bb0a3,#5cb1a3,#5cb1a3,#5cb1a3,#5cb1a3,#5bb0a3,#5bafa3,#59aea3,#58aca3,#56a8a3,#54a4a2,#52a0a2,#509ca1,#4e97a1,#4b90a0,#488a9f,#46839e,#437d9d,#42779d,#41749c,#41739c,#41759d,#427a9d,#45839e,#4a8ea0,#519fa2,#5bb0a3,#6ec5a4,#96d9a5,#caebb4,#edf8c3)"></div>
<div style="background:linear-gradient(90deg,#47889f,#47889f,#498c9f,#4c92a0,#4b91a0,#519da1,#55a6a3,#56a8a3,#57aaa3,#58aca3,#5aafa3,#5cb1a3,#5cb1a3,#5aafa3,#58aba3,#55a8a3,#54a4a2,#53a2a2,#52a1a2,#52a0a2,#52a1a2,#53a3a2,#54a5a3,#55a8a3,#57aaa3,#58aca3,#5aafa3,#5cb2a3,#5fb5a4,#61b8a4,#63bba4,#64bda4,#66bfa4,#67bfa4,#68c0a4,#69c1a4,#69c1a4,#69c1a4,#68c0a4,#67bfa4,#65bea4,#62baa4,#60b7a4,#5db3a3,#5aaea3,#56a9a3,#53a3a2,#509da1,#4e96a1,#4b90a0,#488a9f,#47869f,#46859e,#47869f,#488b9f,#4c93a0,#529fa2,#59aea3,#64bda4,#84d1a4,#ade1aa,#e1f4bc,#fbfdcb)"></div>
<div style="background:linear-gradient(90deg,#427a9d,#437c9d,#46849e,#4a8ea0,#4d94a0,#54a4a2,#59ada3,#5bb0a3,#5db2a3,#5eb5a4,#60b7a4,#61b9a4,#61b9a4,#60b7a4,#5db3a3,#5aafa3,#58aca3,#57aaa3,#56a9a3,#56a9a3,#56aaa3,#58aca3,#5aaea3,#5bb1a3,#5db3a3,#5fb6a4,#61b9a4,#64bda4,#68c0a4,#6cc3a4,#71c6a4,#74c9a3,#77cba3,#79cca3,#7acda3,#7bcea3,#7ccea3,#7ccea3,#7bcea3,#7acda3,#79cca3,#75caa3,#70c6a4,#6bc2a4,#65bea4,#61b8a4,#5db2a3,#58aca3,#55a7a3,#52a1a2,#509ca1,#4e97a1,#4d96a0,#4e96a1,#4f9aa1,#53a3a2,#59aea3,#61b9a4,#70c6a4,#97d9a5,#b5e4ad,#eaf7c1,#fdfecc)"></div>
<div style="background:linear-gradient(90deg,#40709c,#42789d,#45819e,#4a8ea0,#509ba1,#58aba3,#5db3a3,#60b7a4,#62baa4,#64bca4,#65bea4,#67bfa4,#67bfa4,#65bea4,#62baa4,#60b7a4,#5db3a3,#5cb1a3,#5bb1a3,#5bb0a3,#5cb1a3,#5eb4a4,#60b7a4,#62b9a4,#64bca4,#67bfa4,#6bc2a4,#70c6a4,#75caa3,#7bcda3,#81d1a3,#87d3a4,#8cd5a4,#90d6a5,#92d7a5,#94d7a5,#94d8a5,#94d8a5,#94d8a5,#93d7a5,#91d7a5,#8dd5a5,#86d2a4,#7fd0a3,#78cca3,#71c6a4,#68c0a4,#62b9a4,#5eb4a4,#5aafa3,#57aaa3,#55a6a3,#54a4a2,#54a5a2,#56a8a3,#5bafa3,#61b9a4,#69c1a4,#78cca3,#a0dca7,#b7e4ad,#e9f7c1,#fdfecc)"></div>
<div style="background:linear-gradient(90deg,#40719c,#437c9d,#47869f,#4d95a0,#54a5a2,#5cb2a3,#62b9a4,#65bda4,#68c0a4,#6ac2a4,#6cc3a4,#6ec4a4,#6ec4a4,#6cc3a4,#69c1a4,#65bda4,#63bba4,#61b9a4,#61b8a4,#61b8a4,#62b9a4,#64bca4,#67bfa4,#6ac2a4,#6ec5a4,#73c8a3,#77cba3,#7dcfa3,#85d2a4,#8ed6a5,#97d9a5,#9cdba6,#a1dca7,#a4dea8,#a6dea9,#a8dfa9,#a8dfa9,#a9dfa9,#a8dfa9,#a8dfa9,#a6dea9,#a3dda8,#9edba6,#98d9a6,#91d6a5,#85d2a4,#79cca3,#6fc5a4,#68c0a4,#63bba4,#5fb6a4,#5db3a3,#5cb1a3,#5cb1a3,#5eb4a4,#62baa4,#69c1a4,#72c7a3,#80d0a3,#a4dea8,#b6e4ad,#e3f4be,#fbfdcb)"></div>
<div style="background:linear-gradient(90deg,#437c9d,#47869f,#4b91a0,#529fa2,#5aafa3,#61b9a4,#66bfa4,#6cc3a4,#6fc5a4,#71c6a4,#73c8a3,#74c9a3,#74c9a3,#73c8a3,#70c6a4,#6dc4a4,#6ac2a4,#68c0a4,#68c0a4,#68c0a4,#6ac1a4,#6ec4a4,#72c7a3,#76caa3,#7acda3,#80d0a3,#87d3a4,#8fd6a5,#98d9a6,#a1dca7,#a8dfa9,#ade1aa,#b0e2ab,#b3e3ac,#b5e4ad,#b6e4ad,#b6e4ad,#b7e4ad,#b7e4ad,#b6e4ad,#b5e4ad,#b3e3ac,#b0e2ab,#ace0aa,#a6dea9,#9ddba6,#90d6a5,#80d0a3,#77cba3,#70c6a4,#6ac2a4,#65bea4,#64bca4,#64bca4,#66bea4,#6cc3a4,#73c8a3,#7acda3,#89d4a4,#a7dfa9,#b4e3ac,#dbf2ba,#fafdca)"></div>
<div style="background:linear-gradient(90deg,#47889f,#4c93a0,#519ea2,#58aba3,#60b7a4,#67bfa4,#6ec4a4,#73c8a3,#76caa3,#78cba3,#79cca3,#7acda3,#7bcda3,#7acda3,#78cba3,#75caa3,#74c8a3,#72c8a3,#73c8a3,#73c8a3,#76caa3,#7acda3,#7ecfa3,#84d2a4,#8bd4a4,#92d7a5,#99d9a6,#a0dca7,#a8dfa9,#afe2ab,#b5e4ad,#b9e5ae,#bce6af,#bee7af,#bfe7b0,#c0e8b0,#c1e8b0,#c1e8b0,#c1e8b0,#c1e8b0,#c0e8b0,#bfe7af,#bce6af,#bae5ae,#b6e4ad,#b0e2ab,#a5dea8,#97d9a5,#8ad4a4,#7fd0a3,#79cca3,#74c9a3,#72c7a3,#71c6a4,#73c8a3,#78cba3,#7dcfa3,#86d2a4,#93d7a5,#a9dfa9,#b2e3ac,#d8f0b9,#f9fdca)"></div>
<div style="background:linear-gradient(90deg,#4c94a0,#52a1a2,#58aba3,#5fb6a4,#66bfa4,#6fc5a4,#75c9a3,#79cda3,#7ccfa3,#7fd0a3,#81d1a3,#83d1a4,#84d1a4,#83d1a4,#81d0a3,#7fd0a3,#7dcfa3,#7dcfa3,#7ecfa3,#80d0a3,#84d2a4,#8ad4a4,#90d6a5,#95d8a5,#9bdaa6,#a2dda7,#a8dfa9,#aee1ab,#b4e3ac,#bae5ae,#bfe7af,#c2e9b1,#c5e9b2,#c7eab2,#c8ebb3,#c9ebb3,#caebb4,#caebb4,#cbebb4,#caebb4,#caebb3,#c8ebb3,#c6eab2,#c4e9b1,#c2e8b0,#bde7af,#b5e4ad,#aae0aa,#9fdca6,#95d8a5,#8cd5a4,#86d2a4,#82d1a3,#80d0a3,#82d1a3,#87d3a4,#8cd5a4,#93d7a5,#9ddba6,#abe0aa,#b4e3ac,#d8f0b9,#fafdca)"></div>
<div style="background:linear-gradient(90deg,#53a3a2,#59ada3,#5fb6a4,#65bea4,#6fc5a4,#76caa3,#7ccea3,#82d1a4,#87d3a4,#8ad4a4,#8cd4a4,#8dd5a4,#8ed5a5,#8dd5a5,#8cd5a4,#8cd5a4,#8cd5a4,#8dd5a4,#8fd6a5,#91d7a5,#95d8a5,#9bdaa6,#9fdca7,#a4dea8,#a9dfa9,#aee1ab,#b3e3ac,#b9e5ae,#bee7af,#c3e9b1,#c8eab3,#cbecb4,#ceedb5,#d0edb6,#d1eeb6,#d2eeb7,#d3efb7,#d3efb7,#d4efb7,#d4efb7,#d3eeb7,#d2eeb7,#d0edb6,#ceedb5,#ccecb4,#c8eab3,#c2e8b0,#b9e5ae,#b0e2ab,#a8dfa9,#a0dca7,#9bdaa6,#98d9a6,#95d8a5,#95d8a5,#98d9a6,#9bdaa6,#a0dca7,#a7dfa9,#b1e2ac,#bbe6ae,#d9f1ba,#fafdca)"></div>
<div style="background:linear-gradient(90deg,#5cb1a3,#5fb6a4,#65bea4,#6ec4a4,#76caa3,#7ecfa3,#86d2a4,#8dd5a5,#91d7a5,#94d8a5,#96d8a5,#97d9a5,#97d9a5,#98d9a6,#98d9a6,#99d9a6,#9adaa6,#9bdaa6,#9ddba6,#a0dca7,#a4dda8,#a7dfa9,#aae0aa,#afe1ab,#b3e3ac,#b8e5ad,#bde6af,#c2e8b0,#c7eab2,#ccecb4,#d0edb6,#d4efb7,#d6f0b8,#d8f1b9,#daf1ba,#dbf1ba,#dcf2bb,#dcf2bb,#ddf2bb,#ddf2bb,#dcf2bb,#dbf1ba,#d9f1ba,#d7f0b9,#d5efb8,#d2eeb7,#ccecb4,#c6eab2,#bfe7af,#b8e5ae,#b3e3ac,#afe1ab,#abe0aa,#a9dfa9,#a8dfa9,#a9dfa9,#abe0aa,#afe1ab,#b3e3ac,#bbe6ae,#c5eab2,#dcf2bb,#fafdcb)"></div>
<div style="background:linear-gradient(90deg,#61b9a4,#65bea4,#6ec5a4,#77caa3,#7fd0a3,#89d4a4,#91d7a5,#98d9a6,#9bdaa6,#9edba6,#9fdca7,#a0dca7,#a1dca7,#a2dda7,#a3dda8,#a4dda8,#a5dea8,#a6dea9,#a8dfa9,#abe0aa,#aee1ab,#b0e2ab,#b2e3ac,#b7e4ad,#bbe6ae,#c0e8b0,#c5e9b1,#caebb3,#cfedb6,#d4efb8,#d9f1b9,#dcf2bb,#dff3bc,#e1f4bd,#e3f4bd,#e4f5be,#e5f5be,#e5f5bf,#e5f5bf,#e5f5bf,#e5f5be,#e4f5be,#e2f4bd,#e1f4bd,#dff3bc,#dbf2ba,#d6f0b8,#d1eeb6,#cbecb4,#c6eab2,#c2e8b0,#bfe7af,#bce6af,#bae6ae,#b9e5ae,#bae5ae,#bbe6ae,#bee7af,#c2e8b0,#c8ebb3,#d1eeb6,#e1f4bd,#fbfdcb)"></div>
<div style="background:linear-gradient(90deg,#64bda4,#6fc5a4,#77cba3,#80d0a3,#8bd4a4,#95d8a5,#9cdba6,#a2dda7,#a4dea8,#a6dea9,#a7dfa9,#a8dfa9,#a9dfa9,#aae0aa,#abe0aa,#ace0aa,#ade1aa,#ade1ab,#afe2ab,#b2e3ac,#b4e3ac,#b6e4ad,#b8e5ad,#bde6af,#c2e9b1,#c7eab2,#ccecb4,#d2eeb7,#d7f0b9,#ddf2bb,#e1f4bd,#e4f5be,#e7f6c0,#e9f7c1,#eaf7c2,#ebf8c2,#ecf8c3,#edf8c3,#edf8c3,#edf8c3,#edf8c3,#ecf8c2,#ebf7c2,#e9f7c1,#e8f6c0,#e5f5bf,#e1f4bd,#dcf2bb,#d7f0b9,#d3eeb7,#cfedb6,#cdecb5,#cbecb4,#c9ebb3,#c8ebb3,#c9ebb3,#caebb3,#ccecb4,#cfedb6,#d5efb8,#ddf2bb,#e7f6c0,#fbfdcb)"></div>
<div style="background:linear-gradient(90deg,#68c0a4,#77cba3,#80d0a3,#8cd5a4,#97d9a5,#9fdca7,#a5dea8,#a9dfa9,#abe0aa,#ace1aa,#ade1aa,#aee1ab,#afe2ab,#b0e2ab,#b1e2ab,#b2e2ac,#b2e2ac,#b2e2ac,#b3e3ac,#b8e5ad,#b9e5ae,#bbe6ae,#bde7af,#c3e9b1,#c9ebb3,#ceedb5,#d4efb7,#daf1ba,#e0f3bc,#e5f5be,#e9f6c1,#ecf8c3,#eef9c4,#f0f9c5,#f2fac6,#f3fac6,#f4fbc7,#f4fbc7,#f5fbc7,#f5fbc7,#f4fbc7,#f3fac7,#f2fac6,#f1fac6,#f0f9c5,#eef8c3,#eaf7c2,#e6f6bf,#e3f4bd,#dff3bc,#dcf2bb,#daf1ba,#d8f0b9,#d7f0b9,#d6f0b8,#d7f0b9,#d8f0b9,#daf1ba,#def2bb,#e2f4bd,#e8f6c0,#eff9c4,#fcfecb)"></div>
<div style="background:linear-gradient(90deg,#71c7a3,#80d0a3,#8dd5a4,#98d9a6,#a1dca7,#a7dfa9,#abe0aa,#aee1ab,#b0e2ab,#b0e2ab,#b1e2ac,#b3e3ac,#b4e3ac,#b5e4ad,#b5e4ad,#b6e4ad,#b6e4ad,#b5e4ad,#b7e4ad,#bde6af,#bfe7af,#c0e8b0,#c2e8b0,#c8ebb3,#cfedb6,#d5efb8,#dbf1ba,#e2f4bd,#e7f6c0,#ecf8c3,#f0f9c5,#f3fac6,#f5fbc8,#f7fcc9,#f8fcc9,#f9fcca,#f9fdca,#fafdca,#fafdca,#fafdca,#fafdca,#f9fdca,#f8fcc9,#f8fcc9,#f7fcc9,#f5fbc8,#f3fac6,#f0f9c5,#edf8c3,#eaf7c2,#e8f6c0,#e6f6bf,#e5f5bf,#e4f5be,#e4f5be,#e4f5be,#e6f5bf,#e8f6c0,#eaf7c1,#edf8c3,#f2fac6,#f6fbc8,#fdfecc)"></div>
<div style="background:linear-gradient(90deg,#81d0a3,#8cd5a4,#99d9a6,#a3dda8,#a8dfa9,#ace1aa,#b0e2ab,#b2e3ac,#b3e3ac,#b4e3ac,#b5e4ad,#b7e4ad,#b9e5ae,#b9e5ae,#bae5ae,#bbe6ae,#b9e5ae,#b9e5ae,#bae6ae,#c1e8b0,#c3e9b1,#c5e9b2,#c7eab2,#cdedb5,#d5efb8,#dbf2ba,#e2f4bd,#e9f6c1,#eef9c4,#f3fac6,#f6fbc8,#f9fcca,#fafdcb,#fcfdcb,#fcfecc,#fcfecc,#fdfecc,#fdfecc,#fdfecc,#fdfecc,#fdfecc,#fcfecc,#fcfecb,#fcfdcb,#fbfdcb,#fafdca,#f9fcca,#f7fcc9,#f5fbc8,#f4fbc7,#f2fac6,#f1f9c5,#f0f9c5,#eff9c4,#eff9c4,#f0f9c5,#f1f9c5,#f2fac6,#f4fbc7,#f6fcc8,#f9fdca,#fbfdcb,#fdfecc)"></div>
<div style="background:linear-gradient(90deg,#96d8a5,#98d9a6,#a3dda8,#a9dfa9,#ace1aa,#afe2ab,#b3e3ac,#b5e4ad,#b7e4ad,#b7e5ad,#b9e5ae,#bbe6ae,#bde7af,#bee7af,#bfe7af,#bfe7af,#bde7af,#bce6af,#bee7af,#c5e9b2,#c8ebb3,#caebb3,#cdecb5,#d3eeb7,#daf1ba,#e2f4bd,#e9f7c1,#eff9c4,#f5fbc7,#f9fcca,#fbfdcb,#fcfecb,#fdfecc,#fdfecc,#fdfecc,#fdfecc,#fdfecc,#fdfecc,#fdfecc,#fdfecc,#fdfecc,#fdfecc,#fdfecc,#fdfecc,#fdfecc,#fcfecc,#fcfecc,#fcfecb,#fbfdcb,#fafdca,#f9fdca,#f9fcca,#f8fcc9,#f8fcc9,#f8fcc9,#f8fcc9,#f9fcca,#fafdca,#fbfdcb,#fcfdcb,#fdfecc,#fdfecc,#fdfecc)"></div>
<div style="background:linear-gradient(90deg,#a2dda7,#a2dda7,#aae0aa,#ade1aa,#afe2ab,#b2e3ac,#b6e4ad,#b8e5ae,#bae5ae,#bbe6ae,#bde6af,#bfe7af,#c1e8b0,#c2e8b0,#c3e9b1,#c3e9b1,#c1e8b0,#c0e8b0,#c1e8b0,#c8ebb3,#cdecb5,#ceedb5,#d2eeb7,#d8f0b9,#dff3bc,#e7f6c0,#eff9c4,#f6fbc8,#fafdca,#fcfecb,#fcfecc,#fdfecc,#fdfecc,#fdfecc,#fdfecc,#fdfecc,#fdfecc,#fdfecc,#fdfecc,#fdfecc,#fdfecc,#fdfecc,#fdfecc,#fdfecc,#fdfecc,#fdfecc,#fdfecc,#fdfecc,#fdfecc,#fdfecc,#fdfecc,#fdfecc,#fcfecc,#fcfecc,#fcfecc,#fdfecc,#fdfecc,#fdfecc,#fdfecc,#fdfecc,#fdfecc,#fdfecc,#fdfecc)"></div>
<div style="background:linear-gradient(90deg,#a8dfa9,#aae0aa,#ade1ab,#afe2ab,#b1e2ac,#b5e4ad,#b8e5ae,#bbe6ae,#bde7af,#bee7af,#c0e8b0,#c3e9b1,#c5eab2,#c6eab2,#c7eab2,#c6eab2,#c4e9b1,#c3e9b1,#c4e9b1,#cbecb4,#d1eeb6,#d3efb7,#d7f0b9,#def2bb,#e4f5be,#ecf8c3,#f5fbc7,#fafdca,#fcfecb,#fdfecc,#fdfecc,#fdfecc,#fdfecc,#fdfecc,#fdfecc,#fdfecc,#fdfecc,#fdfecc,#fdfecc,#fdfecc,#fdfecc,#fdfecc,#fdfecc,#fdfecc,#fdfecc,#fdfecc,#fdfecc,#fdfecc,#fdfecc,#fdfecc,#fdfecc,#fdfecc,#fdfecc,#fdfecc,#fdfecc,#fdfecc,#fdfecc,#fdfecc,#fdfecc,#fdfecc,#fdfecc,#fdfecc,#fdfecc)"></div>
<div style="background:linear-gradient(90deg,#abe0aa,#afe2ab,#b1e2ab,#b2e3ac,#b4e3ac,#b8e5ad,#bbe6ae,#bee7af,#c1e8b0,#c2e8b0,#c4e9b1,#c7eab2,#c9ebb3,#caebb4,#cbecb4,#caebb3,#c8ebb3,#c6eab2,#c7eab3,#cfedb5,#d6efb8,#d8f0b9,#ddf2bb,#e3f4be,#e9f7c1,#f1f9c5,#f9fdca,#fcfecc,#fdfecc,#fdfecc,#fdfecc,#fdfecc,#fdfecc,#fdfecc,#fdfecc,#fdfecc,#fdfecc,#fdfecc,#fdfecc,#fdfecc,#fdfecc,#fdfecc,#fdfecc,#fdfecc,#fdfecc,#fdfecc,#fdfecc,#fdfecc,#fdfecc,#fdfecc,#fdfecc,#fdfecc,#fdfecc,#fdfecc,#fdfecc,#fdfecc,#fdfecc,#fdfecc,#fdfecc,#fdfecc,#fdfecc,#fdfecc,#fdfecc)"></div>
<div style="background:linear-gradient(90deg,#aee1ab,#b3e3ac,#b4e3ac,#b5e4ad,#b8e5ad,#bbe6ae,#bee7af,#c1e8b0,#c4e9b1,#c5eab2,#c8eab3,#caebb4,#cdecb5,#ceedb5,#cfedb5,#cdecb5,#cbecb4,#caebb3,#caebb4,#d2eeb7,#d9f1ba,#ddf2bb,#e2f4bd,#e8f6c0,#eef8c3,#f5fbc7,#fcfecb,#fdfecc,#fdfecc,#fdfecc,#fdfecc,#fdfecc,#fdfecc,#fdfecc,#fdfecc,#fdfecc,#fdfecc,#fdfecc,#fdfecc,#fdfecc,#fdfecc,#fdfecc,#fdfecc,#fdfecc,#fdfecc,#fdfecc,#fdfecc,#fdfecc,#fdfecc,#fdfecc,#fdfecc,#fdfecc,#fdfecc,#fdfecc,#fdfecc,#fdfecc,#fdfecc,#fdfecc,#fdfecc,#fdfecc,#fdfecc,#fdfecc,#fdfecc)"></div>
<div style="background:linear-gradient(90deg,#b3e3ac,#b6e4ad,#b8e5ad,#b9e5ae,#bce6af,#bfe7af,#c1e8b0,#c4e9b1,#c7eab2,#c8ebb3,#cbecb4,#ceedb5,#d0eeb6,#d2eeb7,#d3eeb7,#d1eeb6,#cfedb5,#cdecb5,#ceedb5,#d5efb8,#ddf2bb,#e2f4bd,#e7f6c0,#ecf8c3,#f2fac6,#f8fcc9,#fdfecc,#fdfecc,#fdfecc,#fdfecc,#fdfecc,#fdfecc,#fdfecc,#fdfecc,#fdfecc,#fdfecc,#fdfecc,#fdfecc,#fdfecc,#fdfecc,#fdfecc,#fdfecc,#fdfecc,#fdfecc,#fdfecc,#fdfecc,#fdfecc,#fdfecc,#fdfecc,#fdfecc,#fdfecc,#fdfecc,#fdfecc,#fdfecc,#fdfecc,#fdfecc,#fdfecc,#fdfecc,#fdfecc,#fdfecc,#fdfecc,#fdfecc,#fdfecc)"></div>
<div style="background:linear-gradient(90deg,#b8e5ae,#bae5ae,#bbe6ae,#bee7af,#c0e8b0,#c2e9b1,#c5e9b1,#c7eab2,#c9ebb3,#cbecb4,#cdedb5,#d0eeb6,#d3efb7,#d6f0b8,#d6f0b8,#d4efb8,#d2eeb7,#d1eeb6,#d1eeb6,#d8f0b9,#e0f3bc,#e6f5bf,#ebf7c2,#f0f9c5,#f5fbc8,#fafdca,#fdfecc,#fdfecc,#fdfecc,#fdfecc,#fdfecc,#fdfecc,#fdfecc,#fdfecc,#fdfecc,#fdfecc,#fdfecc,#fdfecc,#fdfecc,#fdfecc,#fdfecc,#fdfecc,#fdfecc,#fdfecc,#fdfecc,#fdfecc,#fdfecc,#fdfecc,#fdfecc,#fdfecc,#fdfecc,#fdfecc,#fdfecc,#fdfecc,#fdfecc,#fdfecc,#fdfecc,#fdfecc,#fdfecc,#fdfecc,#fdfecc,#fdfecc,#fdfecc)"></div>
<div style="background:linear-gradient(90deg,#bbe6ae,#bce6af,#bee7af,#c1e8b0,#c3e9b1,#c5eab2,#c7eab2,#c9ebb3,#cbecb4,#cdecb5,#cfedb6,#d2eeb7,#d5efb8,#d8f0b9,#d9f1b9,#d8f0b9,#d6f0b8,#d4efb7,#d4efb7,#dbf1ba,#e3f4be,#e8f6c1,#edf8c3,#f2fac6,#f6fcc8,#fbfdcb,#fdfecc,#fdfecc,#fdfecc,#fdfecc,#fdfecc,#fdfecc,#fdfecc,#fdfecc,#fdfecc,#fdfecc,#fdfecc,#fdfecc,#fdfecc,#fdfecc,#fdfecc,#fdfecc,#fdfecc,#fdfecc,#fdfecc,#fdfecc,#fdfecc,#fdfecc,#fdfecc,#fdfecc,#fdfecc,#fdfecc,#fdfecc,#fdfecc,#fdfecc,#fdfecc,#fdfecc,#fdfecc,#fdfecc,#fdfecc,#fdfecc,#fdfecc,#fdfecc)"></div>
<div style="background:linear-gradient(90deg,#bce6af,#bde7af,#bde7af,#c0e8b0,#c4e9b1,#c7eab2,#c9ebb3,#cbecb4,#cdecb5,#ceedb5,#d0eeb6,#d3eeb7,#d5efb8,#d9f1b9,#dbf1ba,#dbf1ba,#d9f1ba,#d7f0b9,#d7f0b9,#def2bb,#e6f5bf,#eaf7c1,#eef8c3,#f2fac6,#f6fbc8,#fafdca,#fcfecc,#fdfecc,#fdfecc,#fdfecc,#fdfecc,#fdfecc,#fdfecc,#fdfecc,#fdfecc,#fdfecc,#fdfecc,#fdfecc,#fdfecc,#fdfecc,#fdfecc,#fdfecc,#fdfecc,#fdfecc,#fdfecc,#fdfecc,#fdfecc,#fdfecc,#fdfecc,#fdfecc,#fdfecc,#fdfecc,#fdfecc,#fdfecc,#fdfecc,#fdfecc,#fdfecc,#fdfecc,#fdfecc,#fdfecc,#fdfecc,#fdfecc,#fdfecc)"></div>
<div style="background:linear-gradient(90deg,#bce6af,#bde6af,#bbe6ae,#bce6af,#c1e8b0,#c6eab2,#caebb3,#ccecb4,#ceedb5,#d0edb6,#d2eeb7,#d4efb7,#d6f0b8,#d9f1b9,#dcf2bb,#ddf2bb,#ddf2bb,#dbf1ba,#daf1ba,#e1f4bc,#e7f6c0,#eaf7c1,#edf8c3,#f2fac6,#f6fbc8,#fafdca,#fcfdcb,#fcfecc,#fdfecc,#fdfecc,#fdfecc,#fdfecc,#fdfecc,#fdfecc,#fdfecc,#fdfecc,#fdfecc,#fdfecc,#fdfecc,#fdfecc,#fdfecc,#fdfecc,#fdfecc,#fdfecc,#fdfecc,#fdfecc,#fdfecc,#fdfecc,#fdfecc,#fdfecc,#fdfecc,#fdfecc,#fdfecc,#fdfecc,#fdfecc,#fdfecc,#fdfecc,#fdfecc,#fdfecc,#fdfecc,#fdfecc,#fdfecc,#fdfecc)"></div>
<div style="background:linear-gradient(90deg,#bce6af,#bce6af,#bae5ae,#b6e4ad,#bbe6ae,#c1e8b0,#c9ebb3,#ccecb4,#cfedb5,#d1eeb6,#d3efb7,#d5efb8,#d7f0b9,#d9f1ba,#dcf2bb,#dff3bc,#dff3bc,#def3bc,#ddf2bb,#e3f5be,#e8f6c1,#eaf7c1,#edf8c3,#f1fac5,#f5fbc8,#f9fcca,#fbfdcb,#fcfdcb,#fcfecc,#fdfecc,#fdfecc,#fdfecc,#fdfecc,#fdfecc,#fdfecc,#fdfecc,#fdfecc,#fdfecc,#fdfecc,#fdfecc,#fdfecc,#fdfecc,#fdfecc,#fdfecc,#fdfecc,#fdfecc,#fdfecc,#fdfecc,#fdfecc,#fdfecc,#fdfecc,#fdfecc,#fdfecc,#fdfecc,#fdfecc,#fdfecc,#fdfecc,#fdfecc,#fdfecc,#fdfecc,#fdfecc,#fdfecc,#fdfecc)"></div>
<div style="background:linear-gradient(90deg,#bce6af,#bce6af,#bae5ae,#b4e3ac,#b6e4ad,#bae5ae,#c8ebb3,#cbecb4,#ceedb5,#d1eeb6,#d3efb7,#d6f0b8,#d8f0b9,#daf1ba,#ddf2bb,#dff3bc,#e1f4bd,#e1f4bd,#e1f3bc,#e6f5bf,#e9f7c1,#eaf7c1,#ecf8c3,#f0f9c5,#f4fbc7,#f8fcc9,#fafdca,#fbfdcb,#fcfdcb,#fcfecc,#fcfecc,#fdfecc,#fdfecc,#fdfecc,#fdfecc,#fdfecc,#fdfecc,#fdfecc,#fdfecc,#fdfecc,#fdfecc,#fdfecc,#fdfecc,#fdfecc,#fdfecc,#fdfecc,#fdfecc,#fdfecc,#fdfecc,#fdfecc,#fdfecc,#fdfecc,#fdfecc,#fdfecc,#fdfecc,#fdfecc,#fdfecc,#fdfecc,#fdfecc,#fdfecc,#fdfecc,#fdfecc,#fdfecc)"></div>
<div style="background:linear-gradient(90deg,#bce6af,#bce6af,#bae6ae,#b3e3ac,#b4e3ac,#b6e4ad,#c7eab3,#caebb3,#ccecb4,#cfedb5,#d2eeb7,#d6f0b8,#d8f0b9,#dbf1ba,#ddf2bb,#e0f3bc,#e2f4bd,#e3f4be,#e3f5be,#e7f6c0,#e9f7c1,#eaf7c1,#ecf8c2,#f0f9c5,#f4fbc7,#f7fcc9,#f8fcc9,#f9fdca,#fbfdcb,#fbfdcb,#fcfecb,#fcfecc,#fdfecc,#fdfecc,#fdfecc,#fdfecc,#fdfecc,#fdfecc,#fdfecc,#fdfecc,#fdfecc,#fdfecc,#fdfecc,#fdfecc,#fdfecc,#fdfecc,#fdfecc,#fdfecc,#fdfecc,#fdfecc,#fdfecc,#fdfecc,#fdfecc,#fdfecc,#fdfecc,#fdfecc,#fdfecc,#fdfecc,#fdfecc,#fdfecc,#fdfecc,#fdfecc,#fdfecc)"></div>
<div style="background:linear-gradient(90deg,#bce6af,#bce6af,#bbe6ae,#b3e3ac,#b3e3ac,#b5e4ad,#c7eab3,#c9ebb3,#caebb4,#ccecb4,#d0edb6,#d5efb8,#d8f0b9,#daf1ba,#ddf2bb,#dff3bc,#e2f4bd,#e4f5be,#e5f5bf,#e8f6c0,#e9f7c1,#eaf7c1,#ebf7c2,#eff9c4,#f3fac7,#f6fbc8,#f7fcc9,#f8fcc9,#f9fdca,#fafdca,#fbfdcb,#fbfdcb,#fcfdcb,#fcfecc,#fdfecc,#fdfecc,#fdfecc,#fdfecc,#fdfecc,#fdfecc,#fdfecc,#fdfecc,#fdfecc,#fdfecc,#fdfecc,#fdfecc,#fdfecc,#fdfecc,#fdfecc,#fdfecc,#fdfecc,#fdfecc,#fdfecc,#fdfecc,#fdfecc,#fdfecc,#fdfecc,#fdfecc,#fdfecc,#fdfecc,#fdfecc,#fdfecc,#fdfecc)"></div>
<div style="background:linear-gradient(90deg,#bce6af,#bce6af,#bbe6ae,#b4e3ac,#b3e3ac,#b4e3ad,#c7eab3,#c9ebb3,#c9ebb3,#caebb3,#cdecb5,#d6f0b8,#d7f0b9,#d9f1ba,#dcf2bb,#dff3bc,#e2f4bd,#e4f5be,#e6f5bf,#e8f6c0,#e9f7c1,#eaf7c1,#ebf7c2,#eff9c4,#f3fac6,#f5fbc8,#f6fcc8,#f7fcc9,#f8fcc9,#f9fdca,#fafdca,#fafdca,#fafdca,#fbfdcb,#fbfdcb,#fcfecb,#fcfecc,#fdfecc,#fdfecc,#fdfecc,#fdfecc,#fdfecc,#fdfecc,#fdfecc,#fdfecc,#fdfecc,#fdfecc,#fdfecc,#fdfecc,#fdfecc,#fdfecc,#fdfecc,#fdfecc,#fdfecc,#fdfecc,#fdfecc,#fdfecc,#fdfecc,#fdfecc,#fdfecc,#fdfecc,#fdfecc,#fdfecc)"></div>
<div style="background:linear-gradient(90deg,#bce6af,#bce6af,#bce6af,#b4e3ac,#b3e3ac,#b4e3ad,#c7eab3,#c9ebb3,#c9ebb3,#c9ebb3,#caebb4,#d8f0b9,#d9f1b9,#d9f1b9,#dbf1ba,#def2bb,#e1f3bc,#e3f4be,#e6f5bf,#e8f6c0,#e9f7c1,#eaf7c1,#ebf7c2,#eef8c4,#f2fac6,#f4fbc7,#f5fbc8,#f6fbc8,#f7fcc9,#f8fcc9,#f8fcc9,#f9fcca,#f9fdca,#f9fdca,#fafdca,#fbfdcb,#fcfdcb,#fcfecb,#fcfecc,#fdfecc,#fdfecc,#fdfecc,#fdfecc,#fdfecc,#fdfecc,#fdfecc,#fdfecc,#fdfecc,#fdfecc,#fdfecc,#fdfecc,#fdfecc,#fdfecc,#fdfecc,#fdfecc,#fdfecc,#fdfecc,#fdfecc,#fdfecc,#fdfecc,#fdfecc,#fdfecc,#fdfecc)"></div>
<div style="background:linear-gradient(90deg,#bce6af,#bce6af,#bce6af,#b4e3ac,#b3e3ac,#b5e3ad,#c8eab3,#c9ebb3,#c9ebb3,#c9ebb3,#caebb3,#daf1ba,#daf1ba,#daf1ba,#daf1ba,#ddf2bb,#e0f3bc,#e2f4bd,#e5f5be,#e7f6c0,#e9f6c1,#eaf7c1,#eaf7c2,#edf8c3,#f1fac6,#f3fac7,#f4fbc7,#f5fbc8,#f6fbc8,#f7fcc9,#f7fcc9,#f7fcc9,#f8fcc9,#f8fcc9,#f9fcca,#fafdca,#fbfdcb,#fbfdcb,#fbfdcb,#fcfecb,#fdfecc,#fdfecc,#fdfecc,#fdfecc,#fdfecc,#fdfecc,#fdfecc,#fdfecc,#fdfecc,#fdfecc,#fdfecc,#fdfecc,#fdfecc,#fdfecc,#fdfecc,#fdfecc,#fdfecc,#fdfecc,#fdfecc,#fdfecc,#fdfecc,#fdfecc,#fdfecc)"></div>
<div style="background:linear-gradient(90deg,#bce6af,#bce6af,#bce6af,#b5e4ad,#b3e3ac,#b5e4ad,#c8eab3,#c9ebb3,#c9ebb3,#c9ebb3,#caebb3,#daf1ba,#dbf1ba,#dbf1ba,#dbf1ba,#dff3bc,#e2f4bd,#e2f4bd,#e4f5be,#e6f5bf,#e8f6c0,#eaf7c1,#eaf7c2,#edf8c3,#f1f9c5,#f2fac6,#f3fac6,#f4fbc7,#f5fbc7,#f6fbc8,#f6fbc8,#f6fbc8,#f6fcc8,#f7fcc9,#f7fcc9,#f9fcca,#fafdca,#fafdca,#fafdcb,#fbfdcb,#fdfecc,#fdfecc,#fdfecc,#fdfecc,#fdfecc,#fdfecc,#fdfecc,#fdfecc,#fdfecc,#fdfecc,#fdfecc,#fdfecc,#fdfecc,#fdfecc,#fdfecc,#fdfecc,#fdfecc,#fdfecc,#fdfecc,#fdfecc,#fdfecc,#fdfecc,#fdfecc)"></div>
<div style="background:linear-gradient(90deg,#bce6af,#bce6af,#bce6af,#b6e4ad,#b3e3ac,#b6e4ad,#c8ebb3,#c9ebb3,#c9ebb3,#c9ebb3,#caebb3,#daf1ba,#dbf2ba,#dbf2ba,#dbf1ba,#e3f4bd,#e5f5bf,#e4f5be,#e4f5be,#e5f5bf,#e7f6c0,#e9f7c1,#eaf7c2,#ecf8c3,#f0f9c5,#f1fac5,#f2fac6,#f3fac6,#f4fbc7,#f4fbc7,#f5fbc7,#f5fbc8,#f5fbc8,#f6fbc8,#f6fbc8,#f8fcc9,#f9fcca,#f9fdca,#fafdca,#fbfdcb,#fcfecc,#fdfecc,#fdfecc,#fdfecc,#fdfecc,#fdfecc,#fdfecc,#fdfecc,#fdfecc,#fdfecc,#fdfecc,#fdfecc,#fdfecc,#fdfecc,#fdfecc,#fdfecc,#fdfecc,#fdfecc,#fdfecc,#fdfecc,#fdfecc,#fdfecc,#fdfecc)"></div>
<div style="background:linear-gradient(90deg,#bce6af,#bce6af,#bce6af,#b7e4ad,#b3e3ac,#b7e4ad,#c8ebb3,#c9ebb3,#c9ebb3,#c9ebb3,#caebb4,#daf1ba,#dbf2ba,#dbf2ba,#dbf2ba,#e5f5bf,#e7f6c0,#e6f6bf,#e5f5bf,#e5f5bf,#e7f6c0,#e9f6c1,#eaf7c1,#ecf8c2,#eff9c4,#f0f9c5,#f1f9c5,#f2fac6,#f3fac6,#f3fac7,#f4fbc7,#f4fbc7,#f4fbc7,#f4fbc7,#f5fbc8,#f7fcc9,#f8fcc9,#f8fcc9,#f9fdca,#fafdcb,#fcfecb,#fdfecc,#fdfecc,#fdfecc,#fdfecc,#fdfecc,#fdfecc,#fdfecc,#fdfecc,#fdfecc,#fdfecc,#fdfecc,#fdfecc,#fdfecc,#fdfecc,#fdfecc,#fdfecc,#fdfecc,#fdfecc,#fdfecc,#fdfecc,#fdfecc,#fdfecc)"></div>
<div style="background:linear-gradient(90deg,#bce6af,#bce6af,#bce6af,#b7e5ad,#b3e3ac,#b7e4ad,#c8ebb3,#c9ebb3,#c9ebb3,#c9ebb3,#cbecb4,#dbf1ba,#dbf2ba,#dbf2ba,#dcf2bb,#e6f6bf,#e8f6c0,#e8f6c0,#e7f6c0,#e7f6c0,#e7f6c0,#e8f6c1,#eaf7c1,#ebf7c2,#eef8c4,#eff9c4,#f0f9c5,#f1f9c5,#f1fac6,#f2fac6,#f2fac6,#f3fac6,#f3fac6,#f3fac7,#f4fbc7,#f6fbc8,#f7fcc9,#f8fcc9,#f8fcc9,#fafdca,#fcfdcb,#fdfecc,#fdfecc,#fdfecc,#fdfecc,#fdfecc,#fdfecc,#fdfecc,#fdfecc,#fdfecc,#fdfecc,#fdfecc,#fdfecc,#fdfecc,#fdfecc,#fdfecc,#fdfecc,#fdfecc,#fdfecc,#fdfecc,#fdfecc,#fdfecc,#fdfecc)"></div>
<div style="background:linear-gradient(90deg,#bce6af,#bce6af,#bce6af,#b8e5ae,#b3e3ac,#b7e4ad,#c8ebb3,#c9ebb3,#c9ebb3,#c9ebb3,#ccecb4,#dbf1ba,#dbf2ba,#dbf2ba,#dcf2bb,#e7f6c0,#e8f6c0,#e8f6c0,#e8f6c0,#e8f6c0,#e8f6c0,#e9f7c1,#eaf7c1,#ebf7c2,#edf8c3,#eef8c3,#eff9c4,#eff9c4,#f0f9c5,#f1fac5,#f1fac5,#f2fac6,#f2fac6,#f2fac6,#f3fac7,#f5fbc8,#f6fcc8,#f7fcc8,#f8fcc9,#f9fdca,#fbfdcb,#fdfecc,#fdfecc,#fdfecc,#fdfecc,#fdfecc,#fdfecc,#fdfecc,#fdfecc,#fdfecc,#fdfecc,#fdfecc,#fdfecc,#fdfecc,#fdfecc,#fdfecc,#fdfecc,#fdfecc,#fdfecc,#fdfecc,#fdfecc,#fdfecc,#fdfecc)"></div>
<div style="background:linear-gradient(90deg,#bce6af,#bce6af,#bce6af,#b9e5ae,#b3e3ac,#b7e4ad,#c8ebb3,#c9ebb3,#c9ebb3,#c9ebb3,#ccecb4,#dbf1ba,#dbf2ba,#dbf2ba,#ddf2bb,#e8f6c0,#e8f6c0,#e8f6c0,#e8f6c0,#e8f6c0,#e9f6c1,#eaf7c2,#eaf7c1,#eaf7c2,#ebf7c2,#ecf8c3,#eef8c3,#eef9c4,#eff9c4,#f0f9c5,#f0f9c5,#f1fac5,#f1fac6,#f2fac6,#f3fac6,#f4fbc7,#f5fbc8,#f6fbc8,#f7fcc9,#f9fcca,#fbfdcb,#fcfecc,#fdfecc,#fdfecc,#fdfecc,#fdfecc,#fdfecc,#fdfecc,#fdfecc,#fdfecc,#fdfecc,#fdfecc,#fdfecc,#fdfecc,#fdfecc,#fdfecc,#fdfecc,#fdfecc,#fdfecc,#fdfecc,#fdfecc,#fdfecc,#fdfecc)"></div>
<div style="background:linear-gradient(90deg,#bce6af,#bce6af,#bce6af,#bae6ae,#b3e3ac,#b7e5ad,#c8ebb3,#c9ebb3,#c9ebb3,#c9ebb3,#ccecb4,#dbf1ba,#dbf2ba,#dbf2ba,#def3bb,#e8f6c0,#e8f6c0,#e8f6c0,#e8f6c0,#e8f6c0,#e9f7c1,#ebf7c2,#ebf7c2,#eaf7c2,#ebf7c2,#ebf7c2,#edf8c3,#eef8c4,#eef9c4,#eff9c4,#f0f9c5,#f0f9c5,#f1f9c5,#f1fac6,#f2fac6,#f3fac7,#f5fbc7,#f5fbc8,#f7fcc9,#f8fcc9,#fafdca,#fcfecb,#fdfecc,#fdfecc,#fdfecc,#fdfecc,#fdfecc,#fdfecc,#fdfecc,#fdfecc,#fdfecc,#fdfecc,#fdfecc,#fdfecc,#fdfecc,#fdfecc,#fdfecc,#fdfecc,#fdfecc,#fdfecc,#fdfecc,#fdfecc,#fdfecc)"></div>
<div style="background:linear-gradient(90deg,#bce6af,#bce6af,#bce6af,#bbe6ae,#b3e3ac,#b8e5ae,#c8ebb3,#c9ebb3,#c9ebb3,#c9ebb3,#ccecb4,#dbf1ba,#dbf2ba,#dbf2ba,#e0f3bc,#e8f6c0,#e8f6c0,#e8f6c0,#e8f6c0,#e8f6c0,#eaf7c1,#ebf7c2,#ebf7c2,#ebf7c2,#ebf7c2,#ebf7c2,#eef8c3,#eef8c4,#eef8c4,#eef9c4,#eff9c4,#f0f9c5,#f0f9c5,#f1fac5,#f1fac6,#f2fac6,#f4fbc7,#f5fbc7,#f6fbc8,#f8fcc9,#fafdca,#fbfdcb,#fdfecc,#fdfecc,#fdfecc,#fdfecc,#fdfecc,#fdfecc,#fdfecc,#fdfecc,#fdfecc,#fdfecc,#fdfecc,#fdfecc,#fdfecc,#fdfecc,#fdfecc,#fdfecc,#fdfecc,#fdfecc,#fdfecc,#fdfecc,#fdfecc)"></div>
<div style="background:linear-gradient(90deg,#bce6af,#bce6af,#bce6af,#bce6ae,#b4e3ac,#bae5ae,#c9ebb3,#c9ebb3,#c9ebb3,#c9ebb3,#ccecb4,#dbf1ba,#dbf2ba,#dbf2ba,#e2f4bd,#e8f6c0,#e8f6c0,#e8f6c0,#e8f6c0,#e8f6c0,#eaf7c2,#ebf7c2,#ebf7c2,#ebf7c2,#ebf7c2,#ebf7c2,#eef9c4,#eef9c4,#eef9c4,#eef9c4,#eff9c4,#eff9c4,#f0f9c5,#f0f9c5,#f1fac5,#f2fac6,#f3fac6,#f4fbc7,#f6fbc8,#f7fcc9,#f9fdca,#fbfdcb,#fcfecc,#fdfecc,#fdfecc,#fdfecc,#fdfecc,#fdfecc,#fdfecc,#fdfecc,#fdfecc,#fdfecc,#fdfecc,#fdfecc,#fdfecc,#fdfecc,#fdfecc,#fdfecc,#fdfecc,#fdfecc,#fdfecc,#fdfecc,#fdfecc)"></div>
<div style="background:linear-gradient(90deg,#bce6af,#bce6af,#bce6af,#bce6af,#b4e3ac,#bbe6ae,#c9ebb3,#c9ebb3,#c9ebb3,#c9ebb3,#cdecb5,#dbf1ba,#dbf2ba,#dbf2ba,#e3f4be,#e8f6c0,#e8f6c0,#e8f6c0,#e8f6c0,#e8f6c0,#ebf7c2,#ebf7c2,#ebf7c2,#ebf7c2,#ebf7c2,#ebf7c2,#eff9c4,#eff9c4,#eff9c4,#eff9c4,#eff9c4,#eff9c4,#f0f9c5,#f0f9c5,#f1f9c5,#f1fac5,#f2fac6,#f4fac7,#f5fbc8,#f7fcc9,#f8fcc9,#fafdca,#fcfecc,#fdfecc,#fdfecc,#fdfecc,#fdfecc,#fdfecc,#fdfecc,#fdfecc,#fdfecc,#fdfecc,#fdfecc,#fdfecc,#fdfecc,#fdfecc,#fdfecc,#fdfecc,#fdfecc,#fdfecc,#fdfecc,#fdfecc,#fdfecc)"></div>
<div style="background:linear-gradient(90deg,#bce6af,#bce6af,#bce6af,#bce6af,#b4e3ad,#bbe6ae,#c9ebb3,#c9ebb3,#c9ebb3,#c9ebb3,#ceedb5,#dbf2ba,#dbf2ba,#dbf2ba,#e5f5be,#e8f6c0,#e8f6c0,#e8f6c0,#e8f6c0,#e8f6c1,#ebf7c2,#ebf7c2,#ebf7c2,#ebf7c2,#ebf7c2,#ebf7c2,#eff9c4,#eff9c4,#eff9c4,#eff9c4,#eff9c4,#f0f9c5,#f0f9c5,#f0f9c5,#f0f9c5,#f1fac5,#f2fac6,#f3fac6,#f4fbc7,#f6fbc8,#f8fcc9,#f9fdca,#fcfecb,#fdfecc,#fdfecc,#fdfecc,#fdfecc,#fdfecc,#fdfecc,#fdfecc,#fdfecc,#fdfecc,#fdfecc,#fdfecc,#fdfecc,#fdfecc,#fdfecc,#fdfecc,#fdfecc,#fdfecc,#fdfecc,#fdfecc,#fdfecc)"></div>
<div style="background:linear-gradient(90deg,#bce6af,#bce6af,#bce6af,#bce6af,#b5e4ad,#bce6ae,#c9ebb3,#c9ebb3,#c9ebb3,#c9ebb3,#cfedb6,#dbf2ba,#dbf2ba,#dcf2ba,#e6f5bf,#e8f6c0,#e8f6c0,#e8f6c0,#e8f6c0,#e9f6c1,#ebf7c2,#ebf7c2,#ebf7c2,#ebf7c2,#ebf7c2,#ebf7c2,#eff9c4,#eff9c4,#eff9c4,#eff9c4,#eff9c4,#f0f9c5,#f1fac5,#f0f9c5,#f0f9c5,#f1f9c5,#f1fac6,#f2fac6,#f4fbc7,#f5fbc8,#f7fcc9,#f8fcc9,#fbfdcb,#fdfecc,#fdfecc,#fdfecc,#fdfecc,#fdfecc,#fdfecc,#fdfecc,#fdfecc,#fdfecc,#fdfecc,#fdfecc,#fdfecc,#fdfecc,#fdfecc,#fdfecc,#fdfecc,#fdfecc,#fdfecc,#fdfecc,#fdfecc)"></div>
<div style="background:linear-gradient(90deg,#bce6af,#bce6af,#bce6af,#bce6af,#b6e4ad,#bce6af,#c9ebb3,#c9ebb3,#c9ebb3,#c9ebb3,#d0edb6,#dbf2ba,#dbf2ba,#dcf2bb,#e7f6c0,#e8f6c0,#e8f6c0,#e8f6c0,#e8f6c0,#e9f7c1,#ebf7c2,#ebf7c2,#ebf7c2,#ebf7c2,#ebf7c2,#ebf7c2,#eff9c4,#eff9c4,#eff9c4,#eff9c4,#eff9c4,#f1f9c5,#f2fac6,#f1fac5,#f1f9c5,#f1f9c5,#f1fac6,#f2fac6,#f3fac7,#f5fbc7,#f6fbc8,#f8fcc9,#fafdcb,#fcfecb,#fdfecc,#fdfecc,#fdfecc,#fdfecc,#fdfecc,#fdfecc,#fdfecc,#fdfecc,#fdfecc,#fdfecc,#fdfecc,#fdfecc,#fdfecc,#fdfecc,#fdfecc,#fdfecc,#fdfecc,#fdfecc,#fdfecc)"></div>
<div style="background:linear-gradient(90deg,#bce6af,#bce6af,#bce6af,#bce6af,#b7e4ad,#bce6af,#c9ebb3,#c9ebb3,#c9ebb3,#c9ebb3,#d0edb6,#dbf2ba,#dbf2ba,#ddf2bb,#e7f6c0,#e8f6c0,#e8f6c0,#e8f6c0,#e8f6c0,#eaf7c1,#ebf7c2,#ebf7c2,#ebf7c2,#ebf7c2,#ebf7c2,#ebf7c2,#eff9c4,#eff9c4,#eff9c4,#eff9c4,#eff9c4,#f1f9c5,#f2fac6,#f1fac6,#f1f9c5,#f1f9c5,#f1fac5,#f2fac6,#f3fac6,#f4fbc7,#f5fbc8,#f7fcc9,#fafdca,#fbfdcb,#fcfecb,#fdfecc,#fdfecc,#fdfecc,#fdfecc,#fdfecc,#fdfecc,#fdfecc,#fdfecc,#fdfecc,#fdfecc,#fdfecc,#fdfecc,#fdfecc,#fdfecc,#fdfecc,#fdfecc,#fdfecc,#fdfecc)"></div>
<div style="background:linear-gradient(90deg,#bce6af,#bce6af,#bce6af,#bce6af,#b8e5ad,#bee7af,#c9ebb3,#c9ebb3,#c9ebb3,#c9ebb3,#d0edb6,#dbf2ba,#dbf2ba,#def2bb,#e8f6c0,#e8f6c0,#e8f6c0,#e8f6c0,#e8f6c0,#eaf7c1,#ebf7c2,#ebf7c2,#ebf7c2,#ebf7c2,#ebf7c2,#ebf7c2,#eff9c4,#f0f9c4,#f0f9c4,#eff9c4,#f0f9c5,#f1f9c5,#f2fac6,#f1fac6,#f1fac5,#f1fac5,#f1fac5,#f2fac6,#f2fac6,#f4fac7,#f5fbc7,#f6fcc8,#f9fcca,#fafdca,#fbfdcb,#fcfecb,#fdfecc,#fdfecc,#fdfecc,#fdfecc,#fdfecc,#fdfecc,#fdfecc,#fdfecc,#fdfecc,#fdfecc,#fdfecc,#fdfecc,#fdfecc,#fdfecc,#fdfecc,#fdfecc,#fdfecc)"></div>
<div style="background:linear-gradient(90deg,#bce6af,#bce6af,#bce6af,#bce6af,#b9e5ae,#c0e8b0,#c9ebb3,#c9ebb3,#c9ebb3,#c9ebb3,#d0eeb6,#dbf2ba,#dbf2ba,#dff3bc,#e8f6c0,#e8f6c0,#e8f6c0,#e8f6c0,#e8f6c0,#eaf7c2,#ebf7c2,#ebf7c2,#ebf7c2,#ebf7c2,#ebf7c2,#ebf7c2,#eff9c4,#f0f9c4,#f0f9c4,#f0f9c4,#f0f9c5,#f1f9c5,#f2fac6,#f1fac5,#f1fac5,#f1fac5,#f1fac5,#f1fac5,#f2fac6,#f3fac7,#f4fbc7,#f6fbc8,#f7fcc9,#f9fcca,#f9fdca,#fafdca,#fbfdcb,#fcfecb,#fdfecc,#fdfecc,#fdfecc,#fdfecc,#fdfecc,#fdfecc,#fdfecc,#fdfecc,#fdfecc,#fdfecc,#fdfecc,#fdfecc,#fdfecc,#fdfecc,#fdfecc)"></div>
<div style="background:linear-gradient(90deg,#bce6af,#bce6af,#bce6af,#bce6af,#bae5ae,#c1e8b0,#c9ebb3,#c9ebb3,#c9ebb3,#c9ebb3,#d2eeb7,#dbf2ba,#dbf2ba,#e1f4bd,#e8f6c0,#e8f6c0,#e8f6c0,#e8f6c0,#e8f6c0,#ebf7c2,#ebf7c2,#ebf7c2,#ebf7c2,#ebf7c2,#ebf7c2,#ebf7c2,#eff9c4,#f0f9c4,#f0f9c4,#f0f9c4,#f0f9c5,#f1f9c5,#f2fac6,#f1fac5,#f1fac5,#f1fac5,#f1fac5,#f1fac5,#f3fac6,#f4fbc7,#f4fbc7,#f5fbc8,#f6fbc8,#f7fcc9,#f8fcc9,#f9fcca,#fafdca,#fbfdcb,#fbfdcb,#fcfecb,#fcfecc,#fdfecc,#fdfecc,#fdfecc,#fdfecc,#fdfecc,#fdfecc,#fdfecc,#fdfecc,#fdfecc,#fdfecc,#fdfecc,#fdfecc)"></div>
<div style="background:linear-gradient(90deg,#bce6af,#bce6af,#bce6af,#bce6af,#bae6ae,#c1e8b0,#c9ebb3,#c9ebb3,#c9ebb3,#c9ebb3,#d3efb7,#dbf2ba,#dbf2ba,#e3f4bd,#e8f6c0,#e8f6c0,#e8f6c0,#e8f6c0,#e8f6c1,#ebf7c2,#ebf7c2,#ebf7c2,#ebf7c2,#ebf7c2,#ebf7c2,#ebf7c2,#eff9c4,#f0f9c4,#f0f9c4,#f0f9c4,#f0f9c5,#f0f9c5,#f2fac6,#f1fac5,#f1fac5,#f1fac5,#f1fac5,#f1fac5,#f3fac6,#f4fbc7,#f4fbc7,#f4fbc7,#f5fbc8,#f7fcc9,#f7fcc9,#f8fcc9,#f8fcc9,#f9fdca,#fafdca,#fafdcb,#fbfdcb,#fbfdcb,#fcfecb,#fcfecc,#fdfecc,#fdfecc,#fdfecc,#fdfecc,#fdfecc,#fdfecc,#fdfecc,#fdfecc,#fdfecc)"></div>
<div style="background:linear-gradient(90deg,#bce6af,#bce6af,#bce6af,#bce6af,#bbe6ae,#c1e8b0,#c9ebb3,#c9ebb3,#c9ebb3,#c9ebb3,#d4efb8,#dbf2ba,#dbf2ba,#e4f5be,#e8f6c0,#e8f6c0,#e8f6c0,#e8f6c0,#e9f7c1,#ebf7c2,#ebf7c2,#ebf7c2,#ebf7c2,#ebf7c2,#ebf7c2,#ebf7c2,#eff9c4,#f0f9c4,#f0f9c4,#f0f9c4,#f0f9c5,#f0f9c5,#f1fac6,#f1fac5,#f1fac5,#f1fac5,#f1fac5,#f1fac5,#f3fac7,#f4fbc7,#f4fbc7,#f4fbc7,#f4fbc7,#f8fcc9,#f8fcc9,#f8fcc9,#f7fcc9,#f7fcc9,#f8fcc9,#f9fcca,#f9fdca,#fafdca,#fafdca,#fbfdcb,#fbfdcb,#fcfecb,#fcfecc,#fdfecc,#fdfecc,#fdfecc,#fdfecc,#fdfecc,#fdfecc)"></div>
<div style="background:linear-gradient(90deg,#bce6af,#bce6af,#bce6af,#bce6af,#bbe6ae,#c2e8b0,#c9ebb3,#c9ebb3,#c9ebb3,#c9ebb3,#d4efb8,#dbf2ba,#dbf2ba,#e6f5bf,#e8f6c0,#e8f6c0,#e8f6c0,#e8f6c0,#e9f7c1,#ebf7c2,#ebf7c2,#ebf7c2,#ebf7c2,#ebf7c2,#ebf7c2,#ebf7c2,#eff9c4,#f0f9c4,#f0f9c4,#f0f9c4,#f0f9c5,#f0f9c5,#f1fac5,#f1fac5,#f1fac5,#f1fac5,#f1fac5,#f1fac5,#f4fbc7,#f4fbc7,#f4fbc7,#f4fbc7,#f4fbc7,#f9fcca,#fbfdcb,#f9fdca,#f8fcc9,#f6fbc8,#f7fcc9,#f7fcc9,#f8fcc9,#f8fcc9,#f8fcc9,#f9fdca,#fafdca,#fafdcb,#fbfdcb,#fbfdcb,#fcfecb,#fcfecc,#fdfecc,#fdfecc,#fdfecc)"></div>
<div style="background:linear-gradient(90deg,#bce6af,#bce6af,#bce6af,#bce6af,#bce6af,#c3e9b1,#c9ebb3,#c9ebb3,#c9ebb3,#c9ebb3,#d4efb8,#dbf2ba,#dcf2bb,#e7f6c0,#e8f6c0,#e8f6c0,#e8f6c0,#e8f6c0,#eaf7c1,#ebf7c2,#ebf7c2,#ebf7c2,#ebf7c2,#ebf7c2,#ebf7c2,#ebf7c2,#eff9c4,#f0f9c4,#f0f9c4,#f0f9c4,#f0f9c5,#f0f9c5,#f1fac5,#f1fac5,#f1fac5,#f1fac5,#f1fac5,#f1fac5,#f4fbc7,#f4fbc7,#f4fbc7,#f4fbc7,#f4fbc7,#f8fcc9,#fcfecc,#fcfdcb,#f9fdca,#f5fbc8,#f5fbc8,#f6fbc8,#f6fcc8,#f7fcc9,#f7fcc8,#f7fcc9,#f8fcc9,#f8fcc9,#f9fcca,#f9fdca,#fafdca,#fafdcb,#fcfecb,#fdfecc,#fdfecc)"></div>
<div style="background:linear-gradient(90deg,#bce6af,#bce6af,#bce6af,#bce6af,#bce6af,#c4e9b1,#c9ebb3,#c9ebb3,#c9ebb3,#c9ebb3,#d4efb8,#dbf2ba,#dcf2bb,#e7f6c0,#e8f6c0,#e8f6c0,#e8f6c0,#e8f6c0,#eaf7c2,#ebf7c2,#ebf7c2,#ebf7c2,#ebf7c2,#ebf7c2,#ebf7c2,#ebf7c2,#eff9c4,#f0f9c4,#f0f9c4,#f0f9c4,#f0f9c5,#f0f9c5,#f1fac5,#f1fac5,#f1fac5,#f1fac5,#f1fac5,#f1fac6,#f4fbc7,#f4fbc7,#f4fbc7,#f4fbc7,#f4fbc7,#f7fcc9,#fdfecc,#fdfecc,#f9fdca,#f4fbc7,#f4fbc7,#f5fbc7,#f6fbc8,#f7fcc9,#f5fbc8,#f5fbc8,#f6fbc8,#f6fcc8,#f6fcc8,#f7fcc8,#f7fcc9,#f8fcc9,#fbfdcb,#fdfecc,#fdfecc)"></div>
<div style="background:linear-gradient(90deg,#bce6af,#bce6af,#bce6af,#bce6af,#bce6af,#c6eab2,#c9ebb3,#c9ebb3,#c9ebb3,#c9ebb3,#d5efb8,#dbf2ba,#ddf2bb,#e8f6c0,#e8f6c0,#e8f6c0,#e8f6c0,#e8f6c0,#ebf7c2,#ebf7c2,#ebf7c2,#ebf7c2,#ebf7c2,#ebf7c2,#ebf7c2,#ebf7c2,#eff9c4,#f0f9c4,#f0f9c4,#f0f9c4,#f0f9c5,#f0f9c5,#f1fac5,#f1fac5,#f1fac5,#f1fac5,#f1fac5,#f2fac6,#f4fbc7,#f4fbc7,#f4fbc7,#f4fbc7,#f4fbc7,#f6fcc8,#fdfecc,#fdfecc,#f7fcc9,#f4fbc7,#f4fbc7,#f4fbc7,#f6fbc8,#f9fcca,#f4fbc7,#f4fbc7,#f4fbc7,#f5fbc8,#f5fbc8,#f4fbc7,#f5fbc7,#f6fbc8,#fbfdcb,#fdfecc,#fdfecc)"></div>
<div style="background:linear-gradient(90deg,#bce6af,#bce6af,#bce6af,#bce6af,#bde6af,#c6eab2,#c9ebb3,#c9ebb3,#c9ebb3,#c9ebb3,#d6f0b8,#dbf2ba,#dff3bc,#e8f6c0,#e8f6c0,#e8f6c0,#e8f6c0,#e8f6c0,#ebf7c2,#ebf7c2,#ebf7c2,#ebf7c2,#ebf7c2,#ebf7c2,#ebf7c2,#ebf7c2,#eff9c4,#f0f9c4,#f0f9c4,#f0f9c4,#f0f9c5,#f0f9c5,#f1fac5,#f1fac5,#f1fac5,#f1fac5,#f1fac5,#f2fac6,#f4fbc7,#f4fbc7,#f4fbc7,#f4fbc7,#f4fbc7,#f5fbc8,#fdfecc,#fcfecc,#f5fbc8,#f4fbc7,#f4fbc7,#f4fbc7,#f5fbc8,#f9fdca,#f3fac6,#f3fac6,#f3fac6,#f5fbc7,#f6fbc8,#f3fac6,#f3fac6,#f3fac6,#fbfdcb,#fdfecc,#fdfecc)"></div>
<div style="background:linear-gradient(90deg,#bce6af,#bce6af,#bce6af,#bce6af,#bde6af,#c6eab2,#c9ebb3,#c9ebb3,#c9ebb3,#c9ebb3,#d8f0b9,#dbf2ba,#e0f3bc,#e8f6c0,#e8f6c0,#e8f6c0,#e8f6c0,#e9f6c1,#ebf7c2,#ebf7c2,#ebf7c2,#ebf7c2,#ebf7c2,#ebf7c2,#ebf7c2,#ebf7c2,#eff9c4,#f0f9c4,#f0f9c4,#f0f9c4,#f0f9c5,#f0f9c5,#f1fac5,#f1fac5,#f1fac5,#f1fac5,#f1fac5,#f2fac6,#f4fbc7,#f4fbc7,#f4fbc7,#f4fbc7,#f4fbc7,#f5fbc8,#fdfecc,#fbfdcb,#f5fbc7,#f4fbc7,#f4fbc7,#f4fbc7,#f5fbc7,#f7fcc9,#f3fac6,#f3fac6,#f3fac6,#f5fbc7,#f8fcc9,#f1fac5,#f1f9c5,#f1f9c5,#fafdca,#fdfecc,#fdfecc)"></div>
<div style="background:linear-gradient(90deg,#bce6af,#bce6af,#bce6af,#bce6af,#bce6af,#c5eab2,#c9ebb3,#c9ebb3,#c9ebb3,#c9ebb3,#d8f0b9,#dbf2ba,#e2f4bd,#e8f6c0,#e8f6c0,#e8f6c0,#e8f6c0,#e9f7c1,#ebf7c2,#ebf7c2,#ebf7c2,#ebf7c2,#ebf7c2,#ebf7c2,#ebf7c2,#ebf7c2,#eff9c4,#f0f9c4,#f0f9c4,#f0f9c4,#f0f9c5,#f0f9c5,#f1fac5,#f1fac5,#f1fac5,#f1fac5,#f1fac5,#f3fac6,#f4fbc7,#f4fbc7,#f4fbc7,#f4fbc7,#f4fbc7,#f5fbc7,#fcfecc,#fafdca,#f4fbc7,#f4fbc7,#f4fbc7,#f4fbc7,#f4fbc7,#f5fbc7,#f3fac6,#f3fac6,#f3fac6,#f4fbc7,#f9fcca,#f0f9c5,#f0f9c5,#f0f9c5,#f7fcc9,#fdfecc,#fdfecc)"></div>
<div style="background:linear-gradient(90deg,#bce6af,#bce6af,#bce6af,#bce6af,#bce6af,#c5e9b1,#c9ebb3,#c9ebb3,#c9ebb3,#c9ebb3,#d8f0b9,#dbf2ba,#e4f5be,#e8f6c0,#e8f6c0,#e8f6c0,#e8f6c0,#e9f7c1,#ebf7c2,#ebf7c2,#ebf7c2,#ebf7c2,#ebf7c2,#ebf7c2,#ebf7c2,#ebf7c2,#eff9c4,#f0f9c4,#f0f9c4,#f0f9c4,#f0f9c5,#f0f9c5,#f1fac5,#f1fac5,#f1fac5,#f1fac5,#f1fac5,#f3fac7,#f4fbc7,#f4fbc7,#f4fbc7,#f4fbc7,#f4fbc7,#f4fbc7,#fcfdcb,#f7fcc9,#f4fbc7,#f4fbc7,#f4fbc7,#f4fbc7,#f4fbc7,#f3fac7,#f3fac6,#f3fac6,#f3fac6,#f4fac7,#f6fbc8,#f0f9c5,#f0f9c5,#f0f9c5,#f5fbc7,#fdfecc,#fdfecc)"></div>
<div style="background:linear-gradient(90deg,#bce6af,#bce6af,#bce6af,#bce6af,#bce6af,#c4e9b1,#c9ebb3,#c9ebb3,#c9ebb3,#c9ebb3,#d8f0b9,#dbf2ba,#e5f5bf,#e8f6c0,#e8f6c0,#e8f6c0,#e8f6c0,#eaf7c1,#ebf7c2,#ebf7c2,#ebf7c2,#ebf7c2,#ebf7c2,#ebf7c2,#ebf7c2,#ebf7c2,#eff9c4,#f0f9c4,#f0f9c4,#f0f9c4,#f0f9c5,#f0f9c5,#f1fac5,#f1fac5,#f1fac5,#f1fac5,#f1fac5,#f3fac7,#f4fbc7,#f4fbc7,#f4fbc7,#f4fbc7,#f4fbc7,#f4fbc7,#fafdcb,#f5fbc8,#f4fbc7,#f4fbc7,#f4fbc7,#f4fbc7,#f4fbc7,#f3fac6,#f3fac6,#f3fac6,#f3fac6,#f3fac6,#f3fac6,#f0f9c5,#f0f9c5,#f0f9c5,#f2fac6,#fcfecc,#fdfecc)"></div>
<div style="background:linear-gradient(90deg,#bce6af,#bce6af,#bce6af,#bce6af,#bce6af,#c4e9b1,#c9ebb3,#c9ebb3,#c9ebb3,#c9ebb3,#d8f0b9,#dcf2bb,#e6f6bf,#e8f6c0,#e8f6c0,#e8f6c0,#e8f6c0,#eaf7c2,#ebf7c2,#ebf7c2,#ebf7c2,#ebf7c2,#ebf7c2,#ebf7c2,#ebf7c2,#ebf7c2,#eff9c4,#f0f9c4,#f0f9c4,#f0f9c4,#f0f9c5,#f1f9c5,#f1fac5,#f1fac5,#f1fac5,#f1fac5,#f1fac5,#f4fbc7,#f4fbc7,#f4fbc7,#f4fbc7,#f4fbc7,#f4fbc7,#f4fbc7,#f9fcca,#f5fbc7,#f4fbc7,#f4fbc7,#f4fbc7,#f4fbc7,#f4fbc7,#f3fac6,#f3fac6,#f2fac6,#f3fac6,#f3fac6,#f1f9c5,#f0f9c5,#f0f9c5,#f0f9c5,#f1f9c5,#fcfecb,#fdfecc)"></div>
<div style="background:linear-gradient(90deg,#bce6af,#bce6af,#bce6af,#bce6af,#bce6af,#c4e9b1,#c9ebb3,#c9ebb3,#c9ebb3,#c9ebb3,#d9f1b9,#dcf2bb,#e7f6c0,#e8f6c0,#e8f6c0,#e8f6c0,#e8f6c0,#ebf7c2,#ebf7c2,#ebf7c2,#ebf7c2,#ebf7c2,#ebf7c2,#ebf7c2,#ebf7c2,#ebf7c2,#eff9c4,#f0f9c4,#f0f9c4,#f0f9c4,#f0f9c5,#f1f9c5,#f1fac5,#f1fac5,#f1fac5,#f1fac5,#f1fac6,#f4fbc7,#f4fbc7,#f4fbc7,#f4fbc7,#f4fbc7,#f4fbc7,#f4fbc7,#f7fcc9,#f4fbc7,#f4fbc7,#f4fbc7,#f4fbc7,#f4fbc7,#f4fbc7,#f3fac6,#f3fac6,#f2fac6,#f3fac6,#f2fac6,#f0f9c5,#f0f9c5,#f0f9c4,#f0f9c5,#f0f9c5,#fbfdcb,#fdfecc)"></div>
<div style="background:linear-gradient(90deg,#bce6af,#bce6af,#bce6af,#bce6af,#bce6af,#c4e9b1,#c9ebb3,#c9ebb3,#c9ebb3,#c9ebb3,#daf1ba,#ddf2bb,#e8f6c0,#e8f6c0,#e8f6c0,#e8f6c0,#e8f6c1,#ebf7c2,#ebf7c2,#ebf7c2,#ebf7c2,#ebf7c2,#ebf7c2,#ebf7c2,#ebf7c2,#ebf7c2,#eff9c4,#f0f9c4,#f0f9c4,#f0f9c4,#f0f9c5,#f1f9c5,#f1fac5,#f1fac5,#f1fac5,#f1fac5,#f2fac6,#f4fbc7,#f4fbc7,#f4fbc7,#f4fbc7,#f4fbc7,#f4fbc7,#f4fbc7,#f6fbc8,#f4fbc7,#f4fbc7,#f4fbc7,#f4fbc7,#f4fbc7,#f4fbc7,#f3fac6,#f2fac6,#f2fac6,#f2fac6,#f2fac6,#f0f9c5,#f0f9c5,#f0f9c4,#f0f9c5,#f0f9c5,#fafdca,#fdfecc)"></div>
<div style="background:linear-gradient(90deg,#bce6af,#bce6af,#bce6af,#bce6af,#bce6af,#c4e9b1,#c9ebb3,#c9ebb3,#c9ebb3,#caebb3,#daf1ba,#def3bb,#e8f6c0,#e8f6c0,#e8f6c0,#e8f6c0,#e9f6c1,#ebf7c2,#ebf7c2,#ebf7c2,#ebf7c2,#ebf7c2,#ebf7c2,#ebf7c2,#ebf7c2,#ebf7c2,#eff9c4,#f0f9c4,#f0f9c4,#f0f9c4,#f0f9c5,#f1f9c5,#f1fac5,#f1fac5,#f1fac5,#f1fac5,#f2fac6,#f4fbc7,#f4fbc7,#f4fbc7,#f4fbc7,#f4fbc7,#f4fbc7,#f4fbc7,#f5fbc7,#f4fbc7,#f4fbc7,#f4fbc7,#f4fbc7,#f4fbc7,#f4fbc7,#f3fac6,#f2fac6,#f2fac6,#f2fac6,#f2fac6,#f0f9c5,#f0f9c5,#f0f9c4,#f0f9c5,#f0f9c5,#f8fcc9,#fdfecc)"></div>
<div style="background:linear-gradient(90deg,#bce6af,#bce6af,#bce6af,#bce6af,#bce6af,#c4e9b1,#c9ebb3,#c9ebb3,#c9ebb3,#caebb3,#daf1ba,#dff3bc,#e8f6c0,#e8f6c0,#e8f6c0,#e8f6c0,#e9f7c1,#ebf7c2,#ebf7c2,#ebf7c2,#ebf7c2,#ebf7c2,#ebf7c2,#ebf7c2,#ebf7c2,#ebf7c2,#eff9c4,#f0f9c4,#f0f9c4,#f0f9c4,#f0f9c5,#f1f9c5,#f1fac5,#f1fac5,#f1fac5,#f1fac5,#f2fac6,#f4fbc7,#f4fbc7,#f4fbc7,#f4fbc7,#f4fbc7,#f4fbc7,#f4fbc7,#f4fbc7,#f4fbc7,#f4fbc7,#f4fbc7,#f4fbc7,#f4fbc7,#f4fbc7,#f3fac6,#f2fac6,#f2fac6,#f2fac6,#f2fac6,#f0f9c5,#f0f9c4,#f0f9c4,#eff9c4,#f0f9c5,#f7fcc9,#fdfecc)"></div>
<div style="background:linear-gradient(90deg,#bce6af,#bce6af,#bce6af,#bce6af,#bce6af,#c4e9b1,#c9ebb3,#c9ebb3,#c9ebb3,#caebb3,#daf1ba,#e0f3bc,#e8f6c0,#e8f6c0,#e8f6c0,#e8f6c0,#e9f7c1,#ebf7c2,#ebf7c2,#ebf7c2,#ebf7c2,#ebf7c2,#ebf7c2,#ebf7c2,#ebf7c2,#ebf7c2,#eff9c4,#f0f9c4,#f0f9c4,#f0f9c4,#f0f9c5,#f1fac5,#f1fac5,#f1fac5,#f1fac5,#f1fac5,#f2fac6,#f4fbc7,#f4fbc7,#f4fbc7,#f4fbc7,#f4fbc7,#f4fbc7,#f4fbc7,#f4fbc7,#f4fbc7,#f4fbc7,#f4fbc7,#f4fbc7,#f4fbc7,#f4fbc7,#f3fac6,#f2fac6,#f2fac6,#f2fac6,#f2fac6,#f0f9c5,#f0f9c4,#f0f9c4,#eff9c4,#eff9c4,#f6fbc8,#fdfecc)"></div>
</div></div>
<svg width="1498" height="1840" viewBox="0 0 1498 1840">
<defs><filter id="vb" x="0" y="-5%" width="100%" height="110%" color-interpolation-filters="sRGB"><feGaussianBlur stdDeviation="0 3"/></filter>
<linearGradient id="cbg" x1="0" y1="0" x2="0" y2="1"><stop offset="0.0%" stop-color="#281a2c"/><stop offset="6.0%" stop-color="#322342"/><stop offset="12.5%" stop-color="#3c2f5d"/><stop offset="19.0%" stop-color="#423d77"/><stop offset="25.0%" stop-color="#414688"/><stop offset="31.0%" stop-color="#3f5695"/><stop offset="37.5%" stop-color="#3e679b"/><stop offset="44.0%" stop-color="#42799d"/><stop offset="50.0%" stop-color="#488a9f"/><stop offset="60.0%" stop-color="#56a9a3"/><stop offset="68.0%" stop-color="#65bea4"/><stop offset="75.0%" stop-color="#7dcfa3"/><stop offset="81.0%" stop-color="#9ddba6"/><stop offset="87.5%" stop-color="#c1e8b0"/><stop offset="94.0%" stop-color="#e2f4bd"/><stop offset="100.0%" stop-color="#fdfecc"/></linearGradient></defs>
<path class="c" d="M142.5,141.9C146.2,140.7 158.3,137.3 164.4,134.7C170.5,132.1 175.0,129.4 178.8,126.1C182.6,122.8 184.8,118.9 187.4,114.6C190.0,110.3 191.7,104.4 194.6,100.3C197.5,96.2 199.6,93.3 204.6,90.2C209.6,87.1 217.0,84.5 224.7,81.6C232.4,78.7 242.7,75.4 250.6,73.0C258.5,70.6 268.4,68.0 272.0,67.0"/>
<path class="c" d="M306.0,61.8C314.9,60.8 343.5,57.8 359.6,55.8C375.7,53.8 391.2,51.5 402.7,50.0C414.2,48.5 424.2,47.1 428.5,46.5"/>
<path class="c" d="M142.5,158.2C147.6,158.3 163.1,158.8 173.0,159.1C182.9,159.4 193.7,159.4 201.8,160.0C209.9,160.6 217.3,161.8 221.8,162.8C226.3,163.9 227.8,165.7 229.0,166.3"/>
<path class="c" d="M227.6,183.5C225.7,184.5 220.3,187.2 216.0,189.3C211.7,191.5 209.0,193.8 201.8,196.4C194.6,199.0 182.9,202.1 173.0,205.0C163.1,207.9 147.6,212.2 142.5,213.6"/>
<path class="c" d="M142.5,160.8L146.0,162.2"/>
<path class="c" d="M171.0,177.3C170.8,177.6 171.6,178.1 169.5,179.0C167.4,179.9 163.2,181.0 158.7,182.7C154.2,184.4 145.2,188.2 142.5,189.3"/>
<path class="c" d="M142.5,239.5C147.6,238.3 160.7,234.7 173.0,232.3C185.3,229.9 201.7,228.0 216.1,225.1C230.5,222.2 247.7,217.6 259.2,215.1C270.7,212.6 276.9,211.2 285.0,209.9C293.1,208.6 300.4,207.3 308.0,207.0C315.6,206.7 322.3,207.3 330.9,207.9C339.5,208.5 350.0,209.9 359.6,210.8C369.2,211.7 378.7,212.6 388.3,213.1C397.9,213.6 407.4,213.5 417.0,213.6C426.6,213.7 436.1,214.1 445.7,213.9C455.3,213.7 464.8,212.7 474.4,212.2C484.0,211.7 493.5,211.4 503.1,210.8C512.7,210.2 524.0,209.3 531.8,208.8C539.6,208.3 542.2,208.8 550.0,207.9C557.8,207.0 569.1,205.0 578.7,203.6C588.3,202.2 599.8,200.7 607.4,199.3C615.0,197.9 618.4,197.2 624.6,195.0C630.8,192.8 637.1,188.9 644.7,186.4C652.4,183.9 660.0,181.8 670.5,180.1C681.0,178.4 694.5,177.4 707.9,176.3C721.3,175.2 736.5,174.1 750.9,173.5C765.2,172.9 779.6,172.8 794.0,172.6C808.4,172.3 820.3,172.1 837.0,172.0C853.7,171.9 876.2,171.9 894.4,172.0C912.6,172.1 932.7,172.4 946.1,172.5C959.5,172.6 965.5,172.5 975.0,172.8C984.5,173.1 998.3,174.2 1003.0,174.5"/>
<path class="c" d="M1044.6,178.6C1051.3,179.4 1070.9,181.7 1084.8,183.5C1098.7,185.3 1113.6,187.5 1127.9,189.3C1142.2,191.1 1156.6,193.5 1170.9,194.4C1185.2,195.3 1199.7,195.6 1214.0,195.0C1228.3,194.4 1245.0,192.8 1257.0,190.7C1269.0,188.5 1276.1,185.7 1285.7,182.1C1295.3,178.5 1304.8,173.3 1314.4,169.2C1324.0,165.1 1333.5,160.8 1343.1,157.7C1352.7,154.6 1365.3,152.0 1371.8,150.5C1378.3,149.0 1380.3,148.8 1382.0,148.5"/>
<path class="c" d="M468.7,95.1C474.4,94.8 489.4,94.0 503.0,93.4C516.5,92.8 537.4,92.6 550.0,91.7C562.6,90.8 571.5,89.2 578.7,88.2C585.9,87.2 590.1,87.7 593.0,85.9C595.9,84.1 593.5,79.9 595.9,77.3C598.3,74.7 600.7,72.2 607.4,70.1C614.1,67.9 621.8,66.0 636.1,64.4C650.5,62.8 674.4,61.3 693.5,60.7C712.6,60.1 731.8,60.2 750.9,60.7C770.0,61.2 789.2,62.2 808.3,63.5C827.4,64.8 846.6,66.6 865.7,68.7C884.8,70.8 905.7,73.3 923.1,75.9C940.5,78.5 957.4,82.1 970.0,84.5C982.6,86.9 989.1,88.3 998.7,90.2C1008.3,92.1 1017.8,94.1 1027.4,96.0C1037.0,97.9 1046.5,99.5 1056.1,101.7C1065.7,103.9 1078.1,106.8 1084.8,108.9C1091.5,111.1 1093.7,112.4 1096.3,114.6C1098.9,116.8 1099.6,119.6 1100.6,121.8C1101.5,124.0 1098.9,125.6 1102.0,127.5C1105.1,129.4 1112.6,132.0 1119.3,133.3C1126.0,134.6 1133.6,134.7 1142.2,135.3C1150.8,135.9 1159.9,136.5 1170.9,137.0C1181.9,137.5 1202.0,138.0 1208.2,138.2"/>
<path class="c" d="M1254.2,139.9C1258.5,140.1 1272.3,140.2 1280.0,141.0C1287.7,141.8 1296.3,143.6 1300.1,144.8C1303.9,146.1 1304.3,146.8 1302.9,148.5C1301.5,150.2 1296.8,152.6 1291.5,154.8C1286.2,157.1 1279.5,159.6 1271.4,162.0C1263.3,164.4 1252.3,167.3 1242.7,169.2C1233.1,171.1 1226.0,172.8 1214.0,173.5C1202.0,174.2 1185.2,174.0 1170.9,173.5C1156.6,173.0 1142.2,171.6 1127.9,170.6C1113.6,169.6 1099.2,168.5 1084.8,167.7C1070.4,166.9 1056.1,166.4 1041.8,165.7C1027.5,165.0 1010.7,163.9 998.7,163.4C986.7,162.9 982.6,162.7 970.0,162.5C957.4,162.3 938.1,162.2 923.1,162.0C908.1,161.8 894.5,161.6 880.1,161.1C865.8,160.6 853.8,159.5 837.0,159.1C820.2,158.7 798.7,158.7 779.6,158.5C760.5,158.3 738.9,158.1 722.2,158.2C705.5,158.3 693.6,158.5 679.2,159.1C664.9,159.7 650.5,161.0 636.1,162.0C621.7,163.0 607.4,164.2 593.0,164.9C578.6,165.6 560.2,165.8 550.0,166.0C539.8,166.2 539.6,166.4 531.8,166.3C524.0,166.2 512.7,166.2 503.1,165.7C493.5,165.2 484.0,164.5 474.4,163.4C464.8,162.3 455.3,160.6 445.7,159.1C436.1,157.6 426.6,155.6 417.0,154.2C407.4,152.8 397.9,151.4 388.3,150.5C378.7,149.6 369.2,149.1 359.6,148.5C350.0,147.9 340.5,147.4 330.9,146.8C321.3,146.2 310.8,145.9 302.2,144.8C293.6,143.8 285.3,142.4 279.3,140.5C273.3,138.6 270.1,135.9 266.3,133.3C262.5,130.7 258.6,127.7 256.3,124.7C254.0,121.7 252.8,117.8 252.6,115.2C252.4,112.6 252.9,110.8 254.9,108.9C256.9,107.0 260.4,105.2 264.9,103.7C269.4,102.2 274.9,100.8 282.1,99.7C289.3,98.7 297.5,98.0 308.0,97.4C318.5,96.8 331.9,96.2 345.3,96.0C358.7,95.8 374.4,95.8 388.3,96.0C402.2,96.2 421.8,97.2 428.5,97.4"/>
<path class="c" d="M473.0,103.7C486.9,104.3 500.5,107.4 511.7,108.9C522.9,110.5 533.7,111.8 540.0,113.0C546.3,114.2 551.0,114.5 549.6,116.1C548.2,117.7 541.9,120.9 531.8,122.4C521.7,123.9 503.1,124.8 488.8,125.2C474.5,125.6 457.7,125.4 445.7,124.7C433.7,124.0 424.6,122.8 417.0,121.2C409.4,119.6 401.7,117.0 399.8,115.2C397.9,113.4 400.7,111.9 405.5,110.3C410.3,108.7 417.2,106.5 428.5,105.4C439.8,104.3 459.1,103.1 473.0,103.7Z"/>
<path class="c" d="M661.9,88.8C664.8,87.8 671.5,84.8 679.2,83.1C686.9,81.4 696.0,79.8 707.9,78.7C719.8,77.6 736.5,76.7 750.9,76.7C765.2,76.7 779.6,77.6 794.0,78.7C808.4,79.8 822.6,81.4 837.0,83.1C851.4,84.8 865.8,86.6 880.1,88.8C894.5,91.0 911.2,93.8 923.1,96.0C935.0,98.2 944.0,100.1 951.8,101.7C959.6,103.3 963.1,103.7 970.0,105.4C976.9,107.1 985.8,109.3 993.0,111.8C1000.2,114.3 1008.6,117.5 1013.1,120.4C1017.6,123.3 1017.8,126.8 1020.2,129.0C1022.6,131.2 1021.4,131.6 1027.4,133.3C1033.4,135.0 1044.1,137.4 1056.1,139.0C1068.1,140.6 1084.8,142.0 1099.2,142.8C1113.6,143.6 1127.9,143.4 1142.2,143.9C1156.5,144.4 1174.3,144.8 1185.3,145.6C1196.3,146.4 1203.0,147.3 1208.2,148.5C1213.5,149.7 1216.8,151.4 1216.8,152.8C1216.8,154.2 1213.5,155.9 1208.2,157.1C1203.0,158.3 1193.9,159.4 1185.3,160.0C1176.7,160.6 1168.6,161.0 1156.6,160.6C1144.6,160.2 1127.8,158.7 1113.5,157.7C1099.2,156.7 1084.8,155.7 1070.5,154.8C1056.2,153.9 1044.2,153.2 1027.4,152.5C1010.7,151.8 987.4,151.1 970.0,150.5C952.6,149.9 940.5,149.5 923.1,149.1C905.7,148.7 884.8,148.1 865.7,147.9C846.6,147.7 827.4,147.9 808.3,147.9C789.2,147.9 772.4,148.1 750.9,147.9C729.4,147.7 698.3,147.6 679.2,146.8C660.1,146.0 648.1,144.6 636.1,143.3C624.1,142.0 614.1,140.7 607.4,139.0C600.7,137.3 597.6,134.9 595.9,133.3C594.2,131.7 596.0,131.0 597.4,129.6C598.8,128.2 601.6,126.7 604.5,124.7C607.4,122.7 612.4,120.1 614.6,117.5C616.8,114.9 616.5,111.5 617.5,108.9C618.5,106.3 619.8,102.9 620.3,101.7"/>
<path class="c" d="M848.5,107.4C852.8,108.4 866.6,111.3 874.3,113.2C881.9,115.1 890.0,117.2 894.4,118.9C898.8,120.6 900.7,122.0 900.7,123.2C900.7,124.4 900.2,124.8 894.4,126.1C888.6,127.4 875.3,130.1 865.7,131.3C856.1,132.5 849.0,132.7 837.0,133.3C825.0,133.9 808.4,134.6 794.0,134.7C779.6,134.8 764.8,134.6 750.9,134.1C737.0,133.6 720.8,132.8 710.7,131.8C700.7,130.9 694.7,129.7 690.6,128.4C686.5,127.1 685.6,125.7 686.3,123.8C687.0,121.9 692.7,119.4 694.9,116.9C697.1,114.4 696.2,111.1 699.3,108.9C702.4,106.7 707.4,105.1 713.6,103.7C719.8,102.3 728.0,101.4 736.6,100.8C745.2,100.2 754.8,100.3 765.3,100.3C775.8,100.3 794.0,100.7 799.7,100.8"/>
<path class="c" d="M765.3,46.5C772.5,47.1 791.6,48.9 808.3,50.0C825.0,51.1 846.6,51.7 865.7,52.9C884.8,54.1 905.7,55.8 923.1,57.2C940.5,58.6 955.0,59.6 970.0,61.5C985.0,63.4 998.8,66.1 1013.1,68.7C1027.5,71.3 1044.1,74.4 1056.1,77.3C1068.0,80.2 1075.2,83.5 1084.8,85.9C1094.4,88.3 1103.9,89.8 1113.5,91.7C1123.1,93.6 1132.6,95.2 1142.2,97.4C1151.8,99.6 1163.2,102.4 1170.9,104.6C1178.6,106.8 1184.5,108.1 1188.1,110.3C1191.7,112.5 1192.6,115.3 1192.4,117.5C1192.2,119.7 1187.4,121.5 1186.7,123.2C1186.0,124.9 1183.5,126.5 1188.1,127.5C1192.6,128.5 1202.5,128.8 1214.0,129.0C1225.5,129.2 1242.7,129.5 1257.0,129.0C1271.3,128.5 1288.1,127.5 1300.1,126.1C1312.1,124.7 1319.7,122.6 1328.8,120.4C1337.9,118.2 1348.7,114.9 1354.6,113.2C1360.5,111.5 1362.4,110.5 1364.0,110.0"/>
<path class="c" d="M1020.2,46.5C1026.2,47.1 1042.9,48.8 1056.1,50.0C1069.3,51.2 1084.8,52.6 1099.2,53.8C1113.6,55.0 1132.1,56.3 1142.2,57.2C1152.3,58.1 1157.0,58.7 1160.0,59.0"/>
<path class="c" d="M1185.3,64.4C1190.1,65.4 1204.4,68.2 1214.0,70.1C1223.6,72.0 1233.1,74.7 1242.7,75.9C1252.3,77.1 1261.8,77.8 1271.4,77.3C1281.0,76.8 1292.0,75.6 1300.1,73.0C1308.2,70.4 1313.0,64.8 1320.2,61.5C1327.4,58.1 1335.4,55.3 1343.1,52.9C1350.8,50.5 1362.3,48.2 1366.1,47.2"/>
<path class="c" d="M464.0,308.5C470.0,306.7 485.7,301.4 500.0,297.5C514.3,293.6 534.5,288.4 550.0,285.0C565.5,281.6 578.6,279.6 593.0,276.8C607.4,274.0 621.7,271.1 636.1,268.2C650.5,265.3 664.9,262.5 679.2,259.6C693.6,256.7 707.9,254.1 722.2,251.0C736.6,247.9 750.9,244.1 765.3,240.9C779.6,237.7 796.3,234.2 808.3,231.7C820.2,229.2 829.8,227.7 837.0,226.0C844.2,224.3 848.5,222.8 851.4,221.4C854.3,220.0 855.3,218.9 854.3,217.4C853.3,215.9 847.9,214.0 845.6,212.2C843.3,210.4 839.5,208.0 840.5,206.5C841.5,205.0 845.8,203.6 851.4,203.0C857.0,202.4 867.6,202.4 874.3,203.0C881.0,203.6 887.8,204.7 891.6,206.5C895.4,208.3 895.4,211.4 897.3,213.6C899.2,215.8 898.7,217.7 903.0,219.4C907.3,221.1 915.0,222.0 923.1,223.7C931.2,225.4 944.0,227.5 951.8,229.4C959.6,231.3 962.2,233.7 970.0,235.2C977.8,236.7 990.1,237.4 998.7,238.6C1007.3,239.8 1012.1,241.0 1021.7,242.4C1031.3,243.8 1043.2,245.5 1056.1,247.2C1069.0,248.9 1084.8,251.0 1099.2,252.4C1113.6,253.8 1127.9,254.9 1142.2,255.8C1156.5,256.7 1171.0,257.2 1185.3,257.6C1199.6,258.0 1213.9,258.4 1228.3,258.1C1242.7,257.8 1257.1,256.9 1271.4,255.8C1285.8,254.8 1300.5,253.6 1314.4,251.8C1328.3,250.0 1343.3,247.5 1354.6,245.2C1365.9,242.9 1377.4,239.2 1382.0,238.0"/>
<path class="c" d="M1382.0,160.6C1379.8,161.3 1372.8,162.8 1369.0,164.9C1365.2,167.1 1360.4,170.4 1358.9,173.5C1357.5,176.6 1358.2,180.4 1360.3,183.5C1362.4,186.6 1368.2,189.9 1371.8,192.1C1375.4,194.2 1380.3,195.7 1382.0,196.4"/>
<path class="c" d="M706.0,397.3L709.5,397.8"/>
<path class="c" d="M724.0,399.5C728.0,400.0 735.7,400.8 748.0,402.5C760.3,404.2 781.3,407.5 798.0,410.0C814.7,412.5 831.3,415.4 848.0,417.5C864.7,419.6 881.3,420.8 898.0,422.5C914.7,424.2 927.6,425.4 948.0,427.5C968.4,429.6 995.5,433.1 1020.5,435.0C1045.5,436.9 1072.6,438.0 1098.0,439.0C1123.4,440.0 1148.0,440.4 1173.0,441.0C1198.0,441.6 1223.0,441.8 1248.0,442.5C1273.0,443.2 1300.7,444.2 1323.0,445.0C1345.3,445.8 1372.2,447.1 1382.0,447.5"/>
<clipPath id="cpa"><rect x="142.0" y="46.8" width="1240.5" height="491.1"/></clipPath>
<g class="cl" clip-path="url(#cpa)">
<text transform="translate(289.0,63.5) rotate(-12)" y="6.8">50</text>
<text transform="translate(236.0,174.0) rotate(-87)" y="6.8">100</text>
<text transform="translate(158.0,172.5) rotate(38)" y="6.8">150</text>
<text transform="translate(1025.0,176.5) rotate(6)" y="6.8">50</text>
<text transform="translate(447.5,102.5) rotate(2)" y="6.8">100</text>
<text transform="translate(1231.0,139.5) rotate(2)" y="6.8">100</text>
<text transform="translate(640.0,93.5) rotate(-15)" y="6.8">150</text>
<text transform="translate(823.5,104.5) rotate(6)" y="6.8">200</text>
<text transform="translate(1378.0,105.0) rotate(-15)" y="6.8">50</text>
<text transform="translate(1173.0,62.0) rotate(12)" y="6.8">0</text>
<text transform="translate(716.5,399.0) rotate(8)" y="6.8">0</text>
</g>
<g class="d"><circle cx="173.6" cy="56.6" r="5.05"/><circle cx="173.6" cy="66.4" r="5.05"/><circle cx="173.6" cy="86.1" r="5.05"/><circle cx="173.6" cy="105.7" r="5.05"/><circle cx="173.6" cy="125.4" r="5.05"/><circle cx="173.6" cy="145.0" r="5.05"/><circle cx="173.6" cy="154.8" r="5.05"/><circle cx="173.6" cy="162.7" r="5.05"/><circle cx="173.6" cy="169.6" r="5.05"/><circle cx="173.6" cy="179.4" r="5.05"/><circle cx="173.6" cy="194.1" r="5.05"/><circle cx="173.6" cy="218.7" r="5.05"/><circle cx="173.6" cy="243.2" r="5.05"/><circle cx="284.3" cy="56.6" r="5.05"/><circle cx="284.3" cy="66.4" r="5.05"/><circle cx="284.3" cy="86.1" r="5.05"/><circle cx="284.3" cy="95.9" r="5.05"/><circle cx="284.3" cy="105.7" r="5.05"/><circle cx="284.3" cy="115.6" r="5.05"/><circle cx="284.3" cy="125.4" r="5.05"/><circle cx="284.3" cy="145.0" r="5.05"/><circle cx="284.3" cy="169.6" r="5.05"/><circle cx="284.3" cy="194.1" r="5.05"/><circle cx="385.8" cy="56.6" r="5.05"/><circle cx="385.8" cy="66.4" r="5.05"/><circle cx="385.8" cy="86.1" r="5.05"/><circle cx="385.8" cy="105.7" r="5.05"/><circle cx="385.8" cy="115.6" r="5.05"/><circle cx="385.8" cy="125.4" r="5.05"/><circle cx="385.8" cy="145.0" r="5.05"/><circle cx="385.8" cy="169.6" r="5.05"/><circle cx="385.8" cy="194.1" r="5.05"/><circle cx="385.8" cy="243.2" r="5.05"/><circle cx="505.7" cy="56.6" r="5.05"/><circle cx="505.7" cy="86.1" r="5.05"/><circle cx="505.7" cy="105.7" r="5.05"/><circle cx="505.7" cy="115.6" r="5.05"/><circle cx="505.7" cy="130.3" r="5.05"/><circle cx="505.7" cy="145.0" r="5.05"/><circle cx="505.7" cy="194.1" r="5.05"/><circle cx="505.7" cy="243.2" r="5.05"/><circle cx="597.9" cy="56.6" r="5.05"/><circle cx="597.9" cy="66.4" r="5.05"/><circle cx="597.9" cy="86.1" r="5.05"/><circle cx="597.9" cy="95.9" r="5.05"/><circle cx="597.9" cy="105.7" r="5.05"/><circle cx="597.9" cy="115.6" r="5.05"/><circle cx="597.9" cy="125.4" r="5.05"/><circle cx="597.9" cy="145.0" r="5.05"/><circle cx="597.9" cy="164.7" r="5.05"/><circle cx="597.9" cy="194.1" r="5.05"/><circle cx="597.9" cy="243.2" r="5.05"/><circle cx="727.0" cy="66.4" r="5.05"/><circle cx="727.0" cy="86.1" r="5.05"/><circle cx="727.0" cy="105.7" r="5.05"/><circle cx="727.0" cy="125.4" r="5.05"/><circle cx="727.0" cy="145.0" r="5.05"/><circle cx="727.0" cy="164.7" r="5.05"/><circle cx="727.0" cy="194.1" r="5.05"/><circle cx="727.0" cy="243.2" r="5.05"/><circle cx="1022.1" cy="56.6" r="5.05"/><circle cx="1022.1" cy="86.1" r="5.05"/><circle cx="1022.1" cy="125.4" r="5.05"/><circle cx="1022.1" cy="145.0" r="5.05"/><circle cx="1022.1" cy="169.6" r="5.05"/><circle cx="1022.1" cy="194.1" r="5.05"/><circle cx="1022.1" cy="243.2" r="5.05"/><circle cx="1022.1" cy="341.5" r="5.05"/><circle cx="1022.1" cy="439.7" r="5.05"/><circle cx="1169.7" cy="56.6" r="5.05"/><circle cx="1169.7" cy="66.4" r="5.05"/><circle cx="1169.7" cy="86.1" r="5.05"/><circle cx="1169.7" cy="105.7" r="5.05"/><circle cx="1169.7" cy="130.3" r="5.05"/><circle cx="1169.7" cy="145.0" r="5.05"/><circle cx="1169.7" cy="164.7" r="5.05"/><circle cx="1169.7" cy="194.1" r="5.05"/><circle cx="1354.1" cy="56.6" r="5.05"/><circle cx="1354.1" cy="66.4" r="5.05"/><circle cx="1354.1" cy="86.1" r="5.05"/><circle cx="1354.1" cy="105.7" r="5.05"/><circle cx="1354.1" cy="133.2" r="5.05"/><circle cx="1354.1" cy="164.7" r="5.05"/><circle cx="1354.1" cy="182.3" r="5.05"/><circle cx="1354.1" cy="197.1" r="5.05"/><circle cx="1354.1" cy="245.2" r="5.05"/></g>
<path class="ax" style="stroke-width:1.9" d="M141.1,46.8H1383.1M142.0,46.8V537.9H1383.1"/>
<path class="ax" style="stroke-width:1.4" d="M1382.5,46.8V537.9"/>
<text class="tk" x="125.7" y="55.5" text-anchor="end">0</text>
<text class="tk" x="125.7" y="153.7" text-anchor="end">100</text>
<text class="tk" x="125.7" y="251.9" text-anchor="end">200</text>
<text class="tk" x="125.7" y="350.2" text-anchor="end">300</text>
<text class="tk" x="125.7" y="448.4" text-anchor="end">400</text>
<text class="tk" x="125.7" y="546.6" text-anchor="end">500</text>
<text class="tk" x="174.1" y="576.5" text-anchor="middle">15<tspan font-size="14.3" dy="-9.4">o</tspan><tspan dy="9.4">S</tspan></text>
<text class="tk" x="358.6" y="576.5" text-anchor="middle">10<tspan font-size="14.3" dy="-9.4">o</tspan><tspan dy="9.4">S</tspan></text>
<text class="tk" x="543.0" y="576.5" text-anchor="middle">5<tspan font-size="14.3" dy="-9.4">o</tspan><tspan dy="9.4">S</tspan></text>
<text class="tk" x="728.0" y="576.5" text-anchor="middle">EQ</text>
<text class="tk" x="909.5" y="576.5" text-anchor="middle">5<tspan font-size="14.3" dy="-9.4">o</tspan><tspan dy="9.4">N</tspan></text>
<text class="tk" x="1093.4" y="576.5" text-anchor="middle">10<tspan font-size="14.3" dy="-9.4">o</tspan><tspan dy="9.4">N</tspan></text>
<text class="tk" x="1277.3" y="576.5" text-anchor="middle">15<tspan font-size="14.3" dy="-9.4">o</tspan><tspan dy="9.4">N</tspan></text>
<path class="ax" d="M142.0,46.8h-10.6M142.0,145.0h-10.6M142.0,243.2h-10.6M142.0,341.5h-10.6M142.0,439.7h-10.6M142.0,537.9h-10.6M173.6,537.9v10.6M358.1,537.9v10.6M542.5,537.9v10.6M727.0,537.9v10.6M911.5,537.9v10.6M1095.9,537.9v10.6M1280.3,537.9v10.6"/>
<text transform="translate(59.5,286.3) rotate(-90)" text-anchor="middle" font-size="28.1">Depth (m)</text>
<text x="1406.4" y="27.0" text-anchor="end" font-size="30.5">Chlorophyll a (ng/L)</text>
<text x="12.5" y="13.5" font-size="25">a.</text>
<path d="M1413.0,46.8L1434.8,39.8L1456.5,46.8Z" fill="#281a2c" stroke="#111" stroke-width="1"/>
<path d="M1413.0,537.9L1434.8,545.5L1456.5,537.9Z" fill="#fdfecc" stroke="#666" stroke-width=".6"/>
<rect x="1413.0" y="46.8" width="43.5" height="491.1" fill="url(#cbg)" stroke="#444" stroke-width=".8"/>
<text class="cbt" x="1462.3" y="54.3">250</text>
<text class="cbt" x="1462.3" y="152.5">200</text>
<text class="cbt" x="1462.3" y="250.7">150</text>
<text class="cbt" x="1462.3" y="349.0">100</text>
<text class="cbt" x="1462.3" y="447.2">50</text>
<text class="cbt" x="1462.3" y="542.4">0</text>
<path class="ax" d="M1412.5,46.8h9.5M1457.0,46.8h-9.5M1412.5,145.0h9.5M1457.0,145.0h-9.5M1412.5,243.2h9.5M1457.0,243.2h-9.5M1412.5,341.5h9.5M1457.0,341.5h-9.5M1412.5,439.7h9.5M1457.0,439.7h-9.5M1412.5,537.9h9.5M1457.0,537.9h-9.5"/>
<text transform="translate(1408.4,535.7) rotate(-90)" font-size="19.6" textLength="208.5" lengthAdjust="spacingAndGlyphs">Ocean Data View / DIVA</text>
<path class="c" d="M132.5,762.0C135.2,761.4 144.3,760.1 148.7,758.3C153.1,756.5 156.5,754.2 158.7,751.1C160.8,748.0 161.6,743.0 161.6,739.6C161.6,736.2 160.8,733.9 158.7,731.0C156.5,728.1 151.3,725.3 148.7,722.4C146.1,719.5 143.7,716.7 143.0,713.8C142.3,710.9 142.5,708.1 144.4,705.2C146.3,702.3 151.3,699.2 154.4,696.6C157.5,694.0 159.3,691.7 163.1,689.4C166.9,687.1 170.1,684.5 177.4,682.8C184.7,681.1 202.1,679.8 207.0,679.2"/>
<path class="c" d="M234.8,678.8C242.0,678.9 263.5,678.9 277.9,679.4C292.2,679.9 308.9,680.6 320.9,681.6C332.8,682.6 342.4,683.8 349.6,685.1C356.8,686.4 361.1,687.5 364.0,689.4C366.9,691.3 366.6,693.5 366.8,696.6C367.0,699.7 364.9,703.8 365.4,708.1C365.9,712.4 368.3,718.1 369.7,722.4C371.1,726.7 373.3,730.5 374.0,733.9C374.7,737.2 375.2,739.6 374.0,742.5C372.8,745.4 370.9,747.8 366.8,751.1C362.7,754.5 357.2,759.0 349.6,762.6C342.0,766.2 329.5,770.2 320.9,772.6C312.3,775.0 303.3,775.2 298.0,776.9C292.7,778.6 291.0,780.3 289.3,782.7C287.6,785.1 286.7,788.4 287.9,791.3C289.1,794.2 293.6,796.8 296.5,799.9C299.4,803.0 304.4,806.5 305.1,809.9C305.8,813.2 303.0,816.4 300.8,820.0C298.6,823.6 295.6,827.9 292.2,831.5C288.8,835.1 286.4,838.4 280.7,841.5C275.0,844.6 267.8,847.2 257.8,850.1C247.8,853.0 233.9,855.8 220.5,858.7C207.1,861.6 189.4,864.4 177.4,867.3C165.4,870.2 156.2,873.8 148.7,876.0C141.2,878.2 135.2,880.0 132.5,880.8"/>
<path class="c" d="M390.0,928.5C390.9,927.9 393.1,927.1 395.5,924.8C397.9,922.5 402.0,918.3 404.2,914.7C406.4,911.1 407.6,907.5 408.5,903.2C409.4,898.9 409.4,893.2 409.9,888.9C410.4,884.6 409.9,880.4 411.3,877.4C412.7,874.4 416.4,872.5 418.5,871.1C420.6,869.7 423.1,869.5 424.0,869.2"/>
<path class="c" d="M444.0,867.4C449.8,867.5 468.2,867.9 478.8,868.2C489.4,868.5 499.4,869.0 507.5,869.4C515.6,869.8 520.5,870.2 527.6,870.5C534.7,870.8 540.8,870.8 550.0,871.1C559.2,871.4 567.9,871.7 583.0,872.2C598.1,872.7 621.4,873.5 640.5,874.0C659.6,874.5 681.2,874.6 697.9,875.1C714.6,875.6 724.2,876.3 740.9,876.8C757.6,877.3 779.2,878.0 798.3,878.3C817.4,878.6 834.2,878.8 855.7,878.8C877.2,878.8 910.1,878.2 927.5,878.0C944.9,877.8 947.4,877.7 960.0,877.4C972.6,877.1 988.8,876.6 1003.1,876.0C1017.5,875.4 1031.8,874.8 1046.1,874.0C1060.4,873.2 1075.8,872.2 1089.2,871.1C1102.6,870.0 1116.5,868.6 1126.5,867.3C1136.5,865.9 1144.2,864.6 1149.4,863.0C1154.6,861.4 1157.0,859.4 1157.5,857.9C1158.0,856.4 1156.5,855.5 1152.3,853.9C1148.1,852.3 1140.3,850.2 1132.2,848.1C1124.1,846.0 1113.1,843.5 1103.5,841.5C1093.9,839.5 1084.4,837.6 1074.8,835.8C1065.2,834.0 1055.7,832.5 1046.1,830.9C1036.5,829.3 1027.0,827.5 1017.4,826.3C1007.8,825.0 998.3,824.2 988.7,823.4C979.1,822.6 967.8,821.8 960.0,821.4C952.2,821.0 954.4,821.1 941.8,820.9C929.2,820.7 908.3,820.1 884.4,820.0C860.5,819.9 827.0,820.0 798.3,820.0C769.6,820.0 736.1,820.0 712.2,820.0C688.3,820.0 669.1,820.2 654.8,820.0C640.4,819.8 635.7,819.6 626.1,818.6C616.5,817.6 607.0,816.2 597.4,814.3C587.8,812.4 577.4,809.5 568.7,807.1C560.0,804.7 552.8,802.4 545.0,800.0C537.2,797.6 528.5,795.4 521.8,792.7C515.1,790.1 508.4,787.0 504.6,784.1C500.8,781.2 500.1,778.6 498.9,775.5C497.7,772.4 496.4,768.4 497.4,765.5C498.3,762.6 501.2,760.7 504.6,758.3C508.0,755.9 514.9,753.7 517.5,751.1C520.1,748.5 520.1,745.4 520.4,742.5C520.6,739.6 518.8,737.2 519.0,733.9C519.2,730.5 522.0,725.8 521.8,722.4C521.5,719.0 519.4,716.7 517.5,713.8C515.6,710.9 511.2,707.6 510.3,705.2C509.4,702.8 509.9,701.1 511.8,699.4C513.7,697.7 519.4,697.0 521.8,695.1C524.2,693.2 523.7,690.2 526.1,688.0C528.5,685.8 532.2,683.2 536.2,681.6C540.2,680.0 542.2,679.5 550.0,678.5C557.8,677.5 565.5,676.2 583.0,675.6C600.5,675.0 628.5,675.1 654.8,675.0C681.1,674.9 712.2,675.0 740.9,675.0C769.6,675.0 798.3,675.0 827.0,675.3C855.7,675.6 890.9,676.4 913.1,676.6C935.3,676.8 947.4,676.5 960.0,676.6C972.6,676.7 979.1,676.6 988.7,677.1C998.3,677.6 1003.0,678.6 1017.4,679.4C1031.8,680.1 1055.7,680.8 1074.8,681.6C1093.9,682.5 1116.4,683.4 1132.2,684.5C1148.0,685.6 1159.9,686.7 1169.5,688.0C1179.1,689.3 1184.4,690.6 1189.6,692.3C1194.8,694.0 1199.3,696.1 1200.5,698.0C1201.7,699.9 1199.1,701.8 1196.8,703.7C1194.5,705.6 1188.7,707.8 1186.8,709.5C1184.9,711.2 1182.4,711.9 1185.3,713.8C1188.2,715.7 1196.1,719.1 1204.0,721.0C1211.9,722.9 1223.1,724.4 1232.7,725.3C1242.3,726.1 1251.8,726.4 1261.4,726.1C1271.0,725.9 1282.0,725.1 1290.1,723.8C1298.2,722.5 1305.7,720.5 1310.2,718.1C1314.7,715.7 1316.6,712.4 1317.3,709.5C1318.0,706.6 1315.7,703.5 1314.5,700.9C1313.3,698.3 1309.0,695.9 1310.2,693.7C1311.4,691.6 1316.5,689.8 1321.7,688.0C1327.0,686.2 1335.0,684.3 1341.7,682.8C1348.4,681.3 1357.6,679.6 1361.8,678.8C1366.0,677.9 1366.1,677.9 1367.0,677.7"/>
<path class="c" d="M606.0,689.4C609.4,688.5 618.0,685.3 626.1,683.7C634.2,682.1 642.8,680.9 654.8,679.9C666.8,678.9 683.5,678.4 697.9,677.9C712.2,677.4 724.2,677.1 740.9,677.1C757.6,677.1 779.2,677.2 798.3,677.6C817.4,678.0 836.6,678.5 855.7,679.4C874.8,680.3 895.7,681.6 913.1,682.8C930.5,684.0 947.4,685.5 960.0,686.5C972.6,687.5 979.1,687.7 988.7,688.5C998.3,689.3 1007.8,690.3 1017.4,691.4C1027.0,692.5 1038.9,693.8 1046.1,695.1C1053.3,696.4 1058.6,697.7 1060.5,699.4C1062.4,701.1 1060.5,703.5 1057.6,705.2C1054.7,706.9 1045.8,708.1 1043.2,709.5C1040.6,710.9 1039.9,712.4 1041.8,713.8C1043.7,715.2 1049.2,716.4 1054.7,718.1C1060.2,719.8 1066.7,721.4 1074.8,723.8C1082.9,726.2 1093.9,729.9 1103.5,732.5C1113.1,735.1 1122.6,737.6 1132.2,739.6C1141.8,741.6 1151.3,743.4 1160.9,744.8C1170.5,746.2 1180.0,747.2 1189.6,748.2C1199.2,749.2 1208.7,750.0 1218.3,751.1C1227.9,752.2 1237.4,753.3 1247.0,754.6C1256.6,755.9 1268.0,757.5 1275.7,759.1C1283.4,760.7 1289.2,762.1 1293.0,764.0C1296.8,765.9 1299.2,768.2 1298.7,770.6C1298.2,773.0 1294.9,775.7 1290.1,778.4C1285.3,781.1 1278.1,784.5 1270.0,787.0C1261.9,789.5 1252.3,792.0 1241.3,793.6C1230.3,795.2 1217.4,796.0 1204.0,796.5C1190.6,797.0 1175.2,796.9 1160.9,796.5C1146.6,796.1 1132.2,795.0 1117.9,794.2C1103.6,793.4 1091.5,792.5 1074.8,791.9C1058.0,791.3 1036.5,790.7 1017.4,790.4C998.3,790.1 972.6,789.8 960.0,789.9C947.4,790.0 954.4,790.5 941.8,790.7C929.2,790.9 908.3,791.2 884.4,791.3C860.5,791.4 824.6,791.4 798.3,791.3C772.0,791.2 745.7,791.2 726.6,790.7C707.5,790.2 695.5,789.3 683.5,788.4C671.5,787.5 664.4,786.7 654.8,785.5C645.2,784.3 634.2,782.9 626.1,781.2C618.0,779.5 611.3,777.6 606.0,775.5C600.7,773.4 596.2,770.9 594.5,768.3C592.8,765.7 595.0,762.6 596.0,759.7C597.0,756.8 599.3,753.5 600.3,751.1C601.2,748.7 602.2,747.8 601.7,745.4C601.2,743.0 599.1,740.6 597.4,736.8C595.7,733.0 592.9,726.0 591.7,722.4C590.5,718.8 591.7,717.1 590.2,715.2C588.8,713.3 584.9,712.6 583.0,710.9C581.1,709.2 578.7,706.9 578.7,705.2C578.7,703.5 581.1,701.9 583.0,700.9C584.9,699.9 588.8,699.6 590.0,699.3"/>
<path class="c" d="M1016.0,735.3C1017.0,736.3 1021.0,739.2 1021.7,741.1C1022.4,743.0 1021.0,745.1 1020.3,746.8C1019.6,748.5 1016.4,749.4 1017.4,751.1C1018.4,752.8 1023.2,755.1 1026.0,756.9C1028.8,758.7 1033.6,760.6 1034.1,762.0C1034.6,763.4 1034.1,764.5 1028.9,765.5C1023.7,766.5 1012.2,767.2 1003.1,768.3C994.0,769.3 981.6,770.9 974.4,771.8C967.2,772.7 970.2,772.6 960.0,773.5C949.8,774.4 930.5,775.9 913.1,776.9C895.7,777.9 874.8,779.2 855.7,779.8C836.6,780.4 815.0,780.6 798.3,780.7C781.6,780.8 769.6,780.8 755.3,780.4C740.9,780.0 724.2,779.2 712.2,778.4C700.2,777.6 692.1,777.2 683.5,775.5C674.9,773.8 665.9,770.9 660.6,768.3C655.3,765.7 653.1,762.6 651.9,759.7C650.7,756.8 653.4,754.0 653.4,751.1C653.4,748.2 654.5,745.9 651.9,742.5C649.3,739.1 641.4,735.3 637.6,731.0C633.8,726.7 631.4,721.0 629.0,716.7C626.6,712.4 623.7,708.3 623.2,705.2C622.7,702.1 623.7,700.0 626.1,698.0C628.5,696.0 631.9,694.7 637.6,693.1C643.4,691.5 652.0,689.7 660.6,688.5C669.2,687.3 678.3,686.5 689.3,685.7C700.3,684.9 713.2,684.3 726.6,683.9C740.0,683.5 755.2,683.1 769.6,683.1C784.0,683.1 798.4,683.3 812.7,683.7C827.1,684.1 841.4,684.9 855.7,685.7C870.1,686.5 884.4,687.3 898.8,688.5C913.1,689.7 931.6,691.8 941.8,693.1C952.0,694.5 955.3,695.6 960.0,696.6C964.7,697.6 967.9,698.2 970.0,699.4C972.1,700.6 973.6,702.2 972.9,703.7C972.2,705.2 967.1,706.7 965.7,708.1C964.3,709.5 962.8,710.7 964.3,712.4C965.8,714.1 970.9,716.6 974.4,718.1C977.9,719.6 983.2,720.9 985.0,721.5"/>
<path class="c" d="M801.2,690.3C805.5,690.6 817.9,691.5 827.0,692.3C836.1,693.1 846.1,693.7 855.7,695.1C865.3,696.5 878.6,698.7 884.4,700.9C890.1,703.1 888.3,705.5 890.2,708.1C892.1,710.7 892.5,713.6 895.9,716.7C899.2,719.8 907.7,723.6 910.3,726.7C912.9,729.8 913.6,732.7 911.7,735.3C909.8,737.9 904.3,740.1 898.8,742.5C893.3,744.9 885.9,747.3 878.7,749.7C871.5,752.1 864.3,755.0 855.7,756.9C847.1,758.8 836.6,760.2 827.0,761.2C817.4,762.2 807.9,762.5 798.3,762.6C788.7,762.7 778.2,762.6 769.6,762.0C761.0,761.4 753.4,760.4 746.7,759.1C740.0,757.8 733.2,756.3 729.4,754.0C725.6,751.7 728.5,747.9 723.7,745.4C718.9,742.9 706.9,741.2 700.7,739.1C694.5,737.0 689.3,734.8 686.4,732.5C683.5,730.2 686.4,727.7 683.5,725.3C680.6,722.9 672.1,720.7 669.2,718.1C666.3,715.5 665.3,712.4 666.3,709.5C667.2,706.6 671.1,703.3 674.9,700.9C678.7,698.5 683.1,696.5 689.3,695.1C695.5,693.7 703.6,693.0 712.2,692.3C720.8,691.6 731.8,691.1 740.9,690.8C750.0,690.5 762.6,690.4 767.0,690.3"/>
<path class="c" d="M730.9,713.8C730.9,712.7 740.2,711.1 746.7,710.4C753.2,709.7 763.2,709.3 769.6,709.8C776.0,710.3 785.4,712.0 785.4,713.2C785.4,714.4 776.0,716.5 769.6,717.2C763.2,717.9 753.2,717.8 746.7,717.2C740.2,716.6 730.9,714.9 730.9,713.8Z"/>
<path class="c" d="M1383.0,786.1C1380.9,787.0 1373.9,789.2 1370.4,791.3C1366.9,793.4 1363.5,795.6 1361.8,798.5C1360.1,801.4 1361.1,804.9 1360.4,808.5C1359.7,812.1 1359.7,816.4 1357.5,820.0C1355.3,823.6 1351.8,826.8 1347.5,830.0C1343.2,833.2 1335.0,837.5 1331.7,839.5C1328.5,841.5 1328.6,841.4 1328.0,841.8"/>
<path class="c" d="M1311.0,851.5C1309.5,852.9 1302.2,857.2 1302.1,859.6C1302.0,862.0 1305.0,863.4 1310.2,865.9C1315.4,868.4 1324.5,871.6 1333.1,874.5C1341.7,877.4 1353.5,880.4 1361.8,883.2C1370.1,886.0 1379.5,889.9 1383.0,891.2"/>
<path class="c" d="M1383.0,922.5C1377.2,924.2 1362.2,928.9 1348.0,932.5C1333.8,936.1 1314.7,941.1 1298.0,944.0C1281.3,946.9 1268.8,948.0 1248.0,950.0C1227.2,952.0 1198.0,953.9 1173.0,956.0C1148.0,958.1 1123.4,960.0 1098.0,962.5C1072.6,965.0 1041.3,968.2 1020.5,971.0C999.7,973.8 989.2,975.8 973.0,979.0C956.8,982.2 936.3,985.8 923.0,990.0C909.7,994.2 899.8,999.4 893.0,1004.0C886.2,1008.6 882.0,1013.0 882.0,1017.5C882.0,1022.0 886.2,1026.6 893.0,1031.0C899.8,1035.4 909.7,1039.8 923.0,1044.0C936.3,1048.2 956.8,1052.5 973.0,1056.0C989.2,1059.5 1004.7,1062.8 1020.5,1065.0C1036.3,1067.2 1060.1,1068.8 1068.0,1069.5"/>
<path class="c" d="M1099.0,1072.5C1111.3,1073.3 1148.2,1076.1 1173.0,1077.5C1197.8,1078.9 1223.0,1079.8 1248.0,1081.0C1273.0,1082.2 1300.5,1083.7 1323.0,1085.0C1345.5,1086.3 1373.0,1088.3 1383.0,1089.0"/>
<clipPath id="cpb"><rect x="133.0" y="674.0" width="1251.4" height="495.2"/></clipPath>
<g class="cl" clip-path="url(#cpb)">
<text transform="translate(220.5,680.0) rotate(0)" y="6.8">0</text>
<text transform="translate(434.0,867.5) rotate(0)" y="6.8">0</text>
<text transform="translate(1377.0,675.5) rotate(-25)" y="6.8">0</text>
<text transform="translate(596.3,695.2) rotate(-12)" y="6.8">5</text>
<text transform="translate(1000.0,727.5) rotate(25)" y="6.8">10</text>
<text transform="translate(784.0,690.0) rotate(2)" y="6.8">15</text>
<text transform="translate(1320.0,846.5) rotate(-35)" y="6.8">0</text>
<text transform="translate(1084.0,1071.5) rotate(3)" y="6.8">0</text>
</g>
<g class="d"><circle cx="165.1" cy="683.9" r="5.05"/><circle cx="165.1" cy="693.8" r="5.05"/><circle cx="165.1" cy="713.6" r="5.05"/><circle cx="165.1" cy="733.4" r="5.05"/><circle cx="165.1" cy="753.2" r="5.05"/><circle cx="165.1" cy="773.0" r="5.05"/><circle cx="165.1" cy="782.9" r="5.05"/><circle cx="165.1" cy="790.9" r="5.05"/><circle cx="165.1" cy="797.8" r="5.05"/><circle cx="165.1" cy="807.7" r="5.05"/><circle cx="165.1" cy="822.6" r="5.05"/><circle cx="165.1" cy="847.3" r="5.05"/><circle cx="165.1" cy="872.1" r="5.05"/><circle cx="276.7" cy="683.9" r="5.05"/><circle cx="276.7" cy="693.8" r="5.05"/><circle cx="276.7" cy="713.6" r="5.05"/><circle cx="276.7" cy="723.5" r="5.05"/><circle cx="276.7" cy="733.4" r="5.05"/><circle cx="276.7" cy="743.3" r="5.05"/><circle cx="276.7" cy="753.2" r="5.05"/><circle cx="276.7" cy="773.0" r="5.05"/><circle cx="276.7" cy="797.8" r="5.05"/><circle cx="276.7" cy="822.6" r="5.05"/><circle cx="379.1" cy="683.9" r="5.05"/><circle cx="379.1" cy="693.8" r="5.05"/><circle cx="379.1" cy="713.6" r="5.05"/><circle cx="379.1" cy="733.4" r="5.05"/><circle cx="379.1" cy="743.3" r="5.05"/><circle cx="379.1" cy="753.2" r="5.05"/><circle cx="379.1" cy="773.0" r="5.05"/><circle cx="379.1" cy="797.8" r="5.05"/><circle cx="379.1" cy="822.6" r="5.05"/><circle cx="379.1" cy="872.1" r="5.05"/><circle cx="500.0" cy="683.9" r="5.05"/><circle cx="500.0" cy="713.6" r="5.05"/><circle cx="500.0" cy="733.4" r="5.05"/><circle cx="500.0" cy="743.3" r="5.05"/><circle cx="500.0" cy="758.2" r="5.05"/><circle cx="500.0" cy="773.0" r="5.05"/><circle cx="500.0" cy="822.6" r="5.05"/><circle cx="500.0" cy="872.1" r="5.05"/><circle cx="593.1" cy="683.9" r="5.05"/><circle cx="593.1" cy="693.8" r="5.05"/><circle cx="593.1" cy="713.6" r="5.05"/><circle cx="593.1" cy="723.5" r="5.05"/><circle cx="593.1" cy="733.4" r="5.05"/><circle cx="593.1" cy="743.3" r="5.05"/><circle cx="593.1" cy="753.2" r="5.05"/><circle cx="593.1" cy="773.0" r="5.05"/><circle cx="593.1" cy="792.8" r="5.05"/><circle cx="593.1" cy="822.6" r="5.05"/><circle cx="593.1" cy="872.1" r="5.05"/><circle cx="723.3" cy="693.8" r="5.05"/><circle cx="723.3" cy="713.6" r="5.05"/><circle cx="723.3" cy="733.4" r="5.05"/><circle cx="723.3" cy="753.2" r="5.05"/><circle cx="723.3" cy="773.0" r="5.05"/><circle cx="723.3" cy="792.8" r="5.05"/><circle cx="723.3" cy="822.6" r="5.05"/><circle cx="723.3" cy="872.1" r="5.05"/><circle cx="1021.0" cy="683.9" r="5.05"/><circle cx="1021.0" cy="713.6" r="5.05"/><circle cx="1021.0" cy="753.2" r="5.05"/><circle cx="1021.0" cy="773.0" r="5.05"/><circle cx="1021.0" cy="797.8" r="5.05"/><circle cx="1021.0" cy="822.6" r="5.05"/><circle cx="1021.0" cy="872.1" r="5.05"/><circle cx="1021.0" cy="971.1" r="5.05"/><circle cx="1021.0" cy="1070.2" r="5.05"/><circle cx="1169.9" cy="683.9" r="5.05"/><circle cx="1169.9" cy="693.8" r="5.05"/><circle cx="1169.9" cy="713.6" r="5.05"/><circle cx="1169.9" cy="733.4" r="5.05"/><circle cx="1169.9" cy="758.2" r="5.05"/><circle cx="1169.9" cy="773.0" r="5.05"/><circle cx="1169.9" cy="792.8" r="5.05"/><circle cx="1169.9" cy="822.6" r="5.05"/><circle cx="1355.9" cy="683.9" r="5.05"/><circle cx="1355.9" cy="693.8" r="5.05"/><circle cx="1355.9" cy="713.6" r="5.05"/><circle cx="1355.9" cy="733.4" r="5.05"/><circle cx="1355.9" cy="761.2" r="5.05"/><circle cx="1355.9" cy="792.8" r="5.05"/><circle cx="1355.9" cy="810.7" r="5.05"/><circle cx="1355.9" cy="825.5" r="5.05"/><circle cx="1355.9" cy="874.1" r="5.05"/></g>
<path class="ax" style="stroke-width:1.9" d="M132.1,674.0H1385.0M133.0,674.0V1169.2H1385.0"/>
<path class="ax" style="stroke-width:1.4" d="M1384.4,674.0V1169.2"/>
<text class="tk" x="115.7" y="681.3" text-anchor="end">0</text>
<text class="tk" x="115.7" y="780.3" text-anchor="end">100</text>
<text class="tk" x="115.7" y="879.4" text-anchor="end">200</text>
<text class="tk" x="115.7" y="978.4" text-anchor="end">300</text>
<text class="tk" x="115.7" y="1077.5" text-anchor="end">400</text>
<text class="tk" x="115.7" y="1176.5" text-anchor="end">500</text>
<text class="tk" x="165.9" y="1206.7" text-anchor="middle">15<tspan font-size="14.3" dy="-9.4">o</tspan><tspan dy="9.4">S</tspan></text>
<text class="tk" x="351.7" y="1206.7" text-anchor="middle">10°<tspan dx="3">S</tspan></text>
<text class="tk" x="537.7" y="1206.7" text-anchor="middle">5<tspan dx="-2.5">°</tspan><tspan dx="-1.5">S</tspan></text>
<text class="tk" x="724.3" y="1206.7" text-anchor="middle">EQ</text>
<text class="tk" x="907.4" y="1206.7" text-anchor="middle">5°N</text>
<text class="tk" x="1092.9" y="1206.7" text-anchor="middle">10°N</text>
<text class="tk" x="1279.0" y="1206.7" text-anchor="middle">15°N</text>
<path class="ax" d="M133.0,674.0h-10.6M133.0,773.0h-10.6M133.0,872.1h-10.6M133.0,971.1h-10.6M133.0,1070.2h-10.6M133.0,1169.2h-10.6M165.1,1169.2v10.6M351.2,1169.2v10.6M537.2,1169.2v10.6M723.3,1169.2v10.6M909.4,1169.2v10.6M1095.4,1169.2v10.6M1281.5,1169.2v10.6"/>
<text transform="translate(50.5,915.6) rotate(-90)" text-anchor="middle" font-size="28.1">Depth (m)</text>
<text x="1388.4" y="642.0" text-anchor="end" font-size="30.5">Fucoxanthin (ng/L)</text>
<text x="-1.0" y="634.0" font-size="25">b.</text>
<path d="M1415.3,674.0L1437.0,667.0L1458.8,674.0Z" fill="#281a2c" stroke="#111" stroke-width="1"/>
<path d="M1415.3,1169.2L1437.0,1176.8L1458.8,1169.2Z" fill="#fdfecc" stroke="#666" stroke-width=".6"/>
<rect x="1415.3" y="674.0" width="43.5" height="495.2" fill="url(#cbg)" stroke="#444" stroke-width=".8"/>
<text class="cbt" x="1464.6" y="726.0">25</text>
<text class="cbt" x="1464.6" y="815.9">20</text>
<text class="cbt" x="1464.6" y="905.9">15</text>
<text class="cbt" x="1464.6" y="995.8">10</text>
<text class="cbt" x="1464.6" y="1085.8">5</text>
<text class="cbt" x="1464.6" y="1175.7">0</text>
<path class="ax" d="M1414.8,719.5h9.5M1459.3,719.5h-9.5M1414.8,809.4h9.5M1459.3,809.4h-9.5M1414.8,899.4h9.5M1459.3,899.4h-9.5M1414.8,989.3h9.5M1459.3,989.3h-9.5M1414.8,1079.3h9.5M1459.3,1079.3h-9.5M1414.8,1169.2h9.5M1459.3,1169.2h-9.5"/>
<text transform="translate(1410.7,1167.0) rotate(-90)" font-size="19.6" textLength="208.5" lengthAdjust="spacingAndGlyphs">Ocean Data View / DIVA</text>
<path class="c" d="M134.4,1403.9C137.3,1402.9 146.8,1400.3 151.6,1397.6C156.4,1394.9 160.0,1391.3 163.1,1387.5C166.2,1383.7 167.8,1379.4 170.2,1374.6C172.6,1369.8 174.3,1363.8 177.4,1358.8C180.5,1353.8 184.1,1349.0 188.9,1344.5C193.7,1340.0 202.4,1334.3 206.1,1331.6C209.8,1328.9 210.2,1329.0 211.0,1328.5"/>
<path class="c" d="M243.4,1312.9L252.0,1310.5"/>
<path class="c" d="M134.4,1417.1C138.2,1416.5 150.1,1415.0 157.3,1413.4C164.5,1411.8 171.2,1410.2 177.4,1407.6C183.6,1405.0 190.5,1401.4 194.6,1397.6C198.7,1393.8 199.4,1389.5 201.8,1384.7C204.2,1379.9 205.4,1373.2 209.0,1368.9C212.6,1364.6 216.6,1361.9 223.3,1358.8C230.0,1355.7 240.1,1352.8 249.2,1350.2C258.3,1347.6 265.9,1345.7 277.9,1343.1C289.8,1340.5 306.5,1336.8 320.9,1334.4C335.2,1332.0 349.6,1330.4 364.0,1328.7C378.4,1327.0 392.6,1325.6 407.0,1324.4C421.4,1323.2 435.8,1322.1 450.1,1321.5C464.5,1320.9 481.2,1320.5 493.1,1320.7C505.1,1320.9 513.1,1321.8 521.8,1322.4C530.4,1323.1 537.2,1324.4 545.0,1324.6C552.8,1324.8 560.0,1324.0 568.7,1323.5C577.4,1323.0 587.8,1322.3 597.4,1321.5C607.0,1320.7 616.5,1319.5 626.1,1318.7C635.7,1317.9 640.4,1317.1 654.8,1316.6C669.1,1316.1 693.1,1315.8 712.2,1315.8C731.3,1315.8 750.5,1316.1 769.6,1316.6C788.7,1317.1 807.9,1317.7 827.0,1318.7C846.1,1319.7 867.6,1321.1 884.4,1322.4C901.1,1323.7 914.9,1325.4 927.5,1326.4C940.1,1327.5 949.8,1327.9 960.0,1328.7C970.2,1329.5 979.1,1330.0 988.7,1331.0C998.3,1332.0 1007.8,1332.6 1017.4,1334.4C1027.0,1336.2 1036.5,1339.0 1046.1,1341.8C1055.7,1344.6 1065.2,1348.6 1074.8,1351.3C1084.4,1354.0 1093.9,1356.0 1103.5,1358.0C1113.1,1360.0 1122.6,1361.9 1132.2,1363.6C1141.8,1365.3 1148.9,1366.9 1160.9,1368.3C1172.9,1369.7 1189.7,1371.0 1204.0,1371.8C1218.3,1372.6 1232.7,1372.8 1247.0,1373.2C1261.3,1373.6 1278.1,1373.6 1290.1,1374.1C1302.1,1374.6 1310.5,1375.4 1318.8,1376.1C1327.1,1376.8 1336.5,1378.1 1340.0,1378.5"/>
<path class="c" d="M1374.0,1393.0C1373.9,1394.0 1376.3,1396.1 1373.3,1399.0C1370.3,1401.9 1362.8,1407.2 1356.1,1410.5C1349.4,1413.8 1341.7,1416.2 1333.1,1419.1C1324.5,1422.0 1314.0,1424.6 1304.4,1427.7C1294.8,1430.8 1285.3,1434.5 1275.7,1437.8C1266.1,1441.1 1256.6,1444.9 1247.0,1447.8C1237.4,1450.7 1227.9,1453.4 1218.3,1455.0C1208.7,1456.6 1199.2,1457.1 1189.6,1457.3C1180.0,1457.5 1170.5,1457.0 1160.9,1456.4C1151.3,1455.8 1141.8,1454.7 1132.2,1453.6C1122.6,1452.5 1113.1,1451.0 1103.5,1449.8C1093.9,1448.6 1084.4,1447.7 1074.8,1446.4C1065.2,1445.1 1055.7,1443.4 1046.1,1442.1C1036.5,1440.8 1027.0,1439.4 1017.4,1438.3C1007.8,1437.2 998.3,1436.3 988.7,1435.5C979.1,1434.7 967.8,1434.2 960.0,1433.5C952.2,1432.8 954.4,1432.0 941.8,1431.5C929.2,1431.0 903.5,1430.8 884.4,1430.6C865.3,1430.4 846.1,1430.4 827.0,1430.6C807.9,1430.8 786.3,1431.0 769.6,1431.5C752.9,1432.0 741.0,1432.5 726.6,1433.5C712.2,1434.5 697.9,1435.8 683.5,1437.2C669.1,1438.6 654.9,1440.6 640.5,1442.1C626.1,1443.6 608.4,1445.3 597.4,1446.4C586.4,1447.5 578.2,1448.3 574.4,1448.7"/>
<path class="c" d="M527.6,1454.1C521.9,1454.1 503.6,1454.3 493.1,1454.1C482.6,1453.9 474.0,1453.8 464.4,1453.0C454.8,1452.2 445.3,1450.9 435.7,1449.3C426.1,1447.7 416.6,1445.2 407.0,1443.5C397.4,1441.8 387.9,1439.9 378.3,1439.2C368.7,1438.5 359.2,1438.7 349.6,1439.2C340.0,1439.7 332.8,1440.8 320.9,1442.1C308.9,1443.4 289.8,1445.1 277.9,1447.0C265.9,1448.9 258.8,1451.1 249.2,1453.6C239.6,1456.1 230.1,1459.1 220.5,1462.2C210.9,1465.3 201.4,1469.1 191.8,1472.2C182.2,1475.3 172.7,1478.0 163.1,1480.8C153.5,1483.6 139.2,1487.6 134.4,1488.9"/>
<path class="c" d="M134.4,1431.5C138.7,1431.6 154.9,1431.9 160.2,1432.0C165.5,1432.1 165.0,1432.2 166.0,1432.3"/>
<path class="c" d="M204.0,1441.5C202.9,1442.4 200.5,1445.2 197.5,1447.0C194.5,1448.8 191.7,1450.4 186.0,1452.1C180.3,1453.8 171.7,1455.4 163.1,1457.3C154.5,1459.2 139.2,1462.5 134.4,1463.6"/>
<path class="c" d="M394.1,1357.4C389.1,1357.4 373.8,1357.0 364.0,1357.4C354.2,1357.8 344.9,1359.0 335.3,1359.7C325.7,1360.4 316.2,1361.0 306.6,1361.7C297.0,1362.4 286.0,1362.7 277.9,1363.7C269.8,1364.7 262.8,1365.9 257.8,1367.5C252.8,1369.1 249.8,1370.6 247.7,1373.2C245.5,1375.8 245.1,1379.6 244.9,1383.2C244.7,1386.8 245.4,1390.9 246.3,1394.7C247.2,1398.5 248.2,1403.1 250.6,1406.2C253.0,1409.3 255.6,1411.9 260.6,1413.4C265.6,1414.9 270.6,1415.2 280.7,1415.4C290.8,1415.6 307.0,1415.4 320.9,1414.8C334.8,1414.2 349.6,1412.3 364.0,1411.9C378.4,1411.5 392.6,1412.0 407.0,1412.5C421.4,1413.0 438.1,1413.9 450.1,1414.8C462.1,1415.7 469.2,1417.1 478.8,1417.7C488.4,1418.3 497.3,1418.4 507.5,1418.5C517.7,1418.6 525.0,1418.9 540.0,1418.5C555.0,1418.1 578.3,1416.8 597.4,1416.2C616.5,1415.6 635.7,1415.1 654.8,1414.8C673.9,1414.5 693.1,1414.2 712.2,1414.2C731.3,1414.2 750.5,1414.6 769.6,1414.8C788.7,1415.0 807.9,1415.0 827.0,1415.4C846.1,1415.8 867.6,1416.5 884.4,1417.1C901.1,1417.7 914.9,1418.5 927.5,1419.1C940.1,1419.7 949.8,1420.3 960.0,1420.6C970.2,1420.9 976.7,1420.7 988.7,1421.1C1000.7,1421.5 1017.4,1421.9 1031.8,1422.8C1046.1,1423.7 1060.4,1425.0 1074.8,1426.3C1089.2,1427.6 1103.6,1429.3 1117.9,1430.6C1132.2,1431.9 1149.0,1433.7 1160.9,1434.3C1172.9,1434.9 1180.0,1434.7 1189.6,1434.3C1199.2,1433.9 1208.7,1433.1 1218.3,1432.0C1227.9,1430.9 1237.4,1429.6 1247.0,1427.7C1256.6,1425.8 1266.1,1423.1 1275.7,1420.6C1285.3,1418.1 1297.2,1414.9 1304.4,1412.5C1311.6,1410.1 1315.3,1408.2 1318.8,1406.2C1322.2,1404.2 1324.6,1402.2 1325.1,1400.5C1325.6,1398.8 1325.2,1397.7 1321.7,1396.2C1318.2,1394.8 1312.1,1393.2 1304.4,1391.8C1296.7,1390.3 1285.3,1388.6 1275.7,1387.5C1266.1,1386.4 1259.0,1385.8 1247.0,1385.2C1235.0,1384.6 1218.3,1384.4 1204.0,1384.1C1189.7,1383.8 1172.9,1383.8 1160.9,1383.2C1148.9,1382.6 1141.8,1381.4 1132.2,1380.4C1122.6,1379.5 1113.1,1378.9 1103.5,1377.5C1093.9,1376.1 1084.4,1374.0 1074.8,1371.8C1065.2,1369.6 1055.7,1366.8 1046.1,1364.6C1036.5,1362.4 1027.0,1360.8 1017.4,1358.8C1007.8,1356.8 997.4,1354.2 988.7,1352.7C980.0,1351.2 972.8,1350.7 965.0,1349.5C957.2,1348.3 952.8,1347.5 941.8,1345.5C930.8,1343.5 913.1,1340.0 898.8,1337.5C884.4,1335.0 870.1,1332.0 855.7,1330.5C841.4,1329.0 827.1,1328.7 812.7,1328.3C798.4,1327.9 784.0,1328.3 769.6,1328.1C755.2,1327.9 741.0,1327.2 726.6,1327.3C712.2,1327.4 695.5,1327.8 683.5,1328.7C671.5,1329.7 664.4,1331.1 654.8,1333.0C645.2,1334.9 632.5,1338.0 626.1,1340.2C619.7,1342.4 618.5,1344.0 616.1,1345.9C613.7,1347.8 614.9,1350.0 611.8,1351.7C608.7,1353.4 602.2,1354.7 597.4,1356.0C592.6,1357.3 588.3,1358.4 583.0,1359.7C577.7,1361.0 569.8,1362.3 565.8,1363.7C561.8,1365.1 558.2,1366.7 558.7,1368.3C559.2,1369.9 564.9,1371.4 568.7,1373.2C572.5,1375.0 579.7,1377.0 581.6,1378.9C583.5,1380.8 582.4,1382.9 580.2,1384.7C578.1,1386.5 575.4,1388.3 568.7,1389.6C562.0,1390.9 547.8,1391.9 540.0,1392.4C532.2,1392.9 532.0,1392.4 521.8,1392.4C511.6,1392.5 491.7,1392.8 478.8,1392.7C465.9,1392.6 453.9,1392.7 444.3,1391.8C434.7,1390.9 428.3,1388.9 421.4,1387.5C414.5,1386.1 407.0,1384.9 402.7,1383.2C398.4,1381.5 395.5,1379.2 395.5,1377.5C395.5,1375.8 399.3,1374.6 402.7,1373.2C406.1,1371.8 413.5,1369.6 415.6,1368.9"/>
<path class="c" d="M1156.6,1385.5C1162.1,1385.8 1179.3,1386.8 1189.6,1387.5C1199.9,1388.2 1208.7,1388.8 1218.3,1389.6C1227.9,1390.4 1239.3,1391.3 1247.0,1392.4C1254.7,1393.5 1260.0,1394.8 1264.2,1396.2C1268.4,1397.6 1272.3,1399.2 1272.3,1401.0C1272.3,1402.8 1268.4,1404.9 1264.2,1406.8C1260.0,1408.7 1254.7,1410.7 1247.0,1412.5C1239.3,1414.3 1227.9,1416.4 1218.3,1417.7C1208.7,1419.0 1199.2,1420.0 1189.6,1420.6C1180.0,1421.2 1170.5,1421.1 1160.9,1421.1C1151.3,1421.1 1141.8,1421.1 1132.2,1420.6C1122.6,1420.1 1113.1,1419.2 1103.5,1418.3C1093.9,1417.4 1084.4,1416.4 1074.8,1415.4C1065.2,1414.4 1055.7,1413.5 1046.1,1412.5C1036.5,1411.5 1027.0,1410.5 1017.4,1409.6C1007.8,1408.6 998.3,1407.5 988.7,1406.8C979.1,1406.1 972.6,1406.2 960.0,1405.6C947.4,1405.0 930.5,1403.9 913.1,1403.3C895.7,1402.7 874.8,1402.3 855.7,1401.9C836.6,1401.5 815.0,1401.3 798.3,1401.0C781.6,1400.7 769.6,1400.4 755.3,1399.9C740.9,1399.4 725.1,1399.1 712.2,1398.2C699.3,1397.3 686.9,1396.2 677.8,1394.7C668.7,1393.2 663.0,1391.6 657.7,1389.0C652.4,1386.4 649.6,1382.1 646.2,1378.9C642.9,1375.7 637.1,1372.3 637.6,1369.7C638.1,1367.1 644.8,1365.4 649.1,1363.1C653.4,1360.8 659.1,1358.4 663.4,1356.0C667.7,1353.6 669.1,1351.0 674.9,1348.8C680.6,1346.6 689.3,1344.5 697.9,1343.1C706.5,1341.7 714.6,1340.7 726.6,1340.2C738.6,1339.7 755.2,1339.8 769.6,1340.2C784.0,1340.6 798.4,1341.5 812.7,1342.5C827.1,1343.5 841.4,1344.7 855.7,1346.5C870.1,1348.3 884.4,1350.6 898.8,1353.1C913.1,1355.6 930.8,1359.2 941.8,1361.7C952.8,1364.2 957.2,1366.1 965.0,1367.8C972.8,1369.5 980.0,1370.3 988.7,1371.8C997.4,1373.3 1007.8,1375.5 1017.4,1376.9C1027.0,1378.3 1036.5,1379.4 1046.1,1380.4C1055.7,1381.5 1063.8,1382.5 1074.8,1383.2C1085.8,1383.9 1105.9,1384.5 1112.1,1384.7"/>
<path class="c" d="M804.1,1366.6C807.9,1367.2 820.9,1368.7 827.0,1370.3C833.1,1371.9 840.8,1374.3 840.8,1376.1C840.8,1377.9 834.1,1380.1 827.0,1381.2C819.9,1382.3 807.9,1382.8 798.3,1382.7C788.7,1382.6 779.2,1381.5 769.6,1380.4C760.0,1379.3 748.5,1377.8 740.9,1376.1C733.2,1374.4 723.7,1371.7 723.7,1370.3C723.7,1368.9 735.2,1368.2 740.9,1367.5C746.6,1366.8 755.2,1366.2 758.1,1366.0"/>
<path class="c" d="M904.5,1310.5C910.7,1311.2 932.5,1313.5 941.8,1314.4C951.0,1315.3 952.2,1315.2 960.0,1315.8C967.8,1316.4 979.1,1317.0 988.7,1317.8C998.3,1318.6 1005.4,1319.6 1017.4,1320.7C1029.4,1321.8 1046.2,1322.8 1060.5,1324.4C1074.8,1326.0 1090.6,1327.9 1103.5,1330.1C1116.4,1332.2 1128.4,1334.7 1138.0,1337.3C1147.6,1339.9 1154.7,1343.5 1160.9,1345.9C1167.1,1348.3 1168.1,1350.0 1175.3,1351.7C1182.5,1353.4 1193.7,1354.8 1204.0,1356.0C1214.3,1357.2 1231.5,1358.2 1237.0,1358.7"/>
<path class="c" d="M1271.4,1360.3C1279.3,1360.3 1301.7,1360.3 1318.8,1360.3C1335.9,1360.3 1364.8,1360.3 1374.0,1360.3"/>
<path class="c" d="M134.4,1533.9C139.2,1532.0 153.5,1525.8 163.1,1522.4C172.7,1519.1 179.9,1516.9 191.8,1513.8C203.8,1510.7 220.5,1506.7 234.8,1503.8C249.2,1500.9 263.5,1498.3 277.9,1496.6C292.2,1494.9 306.5,1494.3 320.9,1493.7C335.2,1493.1 349.6,1493.4 364.0,1492.9C378.4,1492.4 392.6,1491.7 407.0,1490.9C421.4,1490.1 435.8,1489.0 450.1,1488.0C464.5,1487.0 481.2,1485.9 493.1,1485.1C505.1,1484.3 513.1,1483.9 521.8,1483.1C530.4,1482.3 534.8,1481.5 545.0,1480.5C555.2,1479.5 569.5,1478.8 583.0,1477.4C596.5,1476.0 611.7,1474.0 626.1,1472.2C640.5,1470.4 654.9,1468.7 669.2,1466.5C683.6,1464.3 700.2,1461.2 712.2,1459.3C724.2,1457.4 728.9,1456.3 740.9,1455.0C752.9,1453.7 769.6,1452.4 784.0,1451.5C798.4,1450.6 810.3,1450.2 827.0,1449.8C843.7,1449.4 869.1,1449.3 884.4,1449.3C899.7,1449.3 913.1,1449.7 918.9,1449.8"/>
<path class="c" d="M951.9,1450.7C954.1,1450.9 958.9,1451.5 965.0,1452.0C971.1,1452.5 980.0,1452.9 988.7,1453.6C997.4,1454.3 1007.8,1455.2 1017.4,1456.4C1027.0,1457.6 1036.5,1458.8 1046.1,1460.7C1055.7,1462.6 1065.2,1465.7 1074.8,1467.9C1084.4,1470.1 1093.9,1472.1 1103.5,1473.7C1113.1,1475.3 1122.6,1476.5 1132.2,1477.4C1141.8,1478.4 1148.9,1478.7 1160.9,1479.4C1172.9,1480.1 1189.7,1481.0 1204.0,1481.4C1218.3,1481.8 1232.7,1482.0 1247.0,1481.7C1261.3,1481.4 1278.1,1480.6 1290.1,1479.4C1302.1,1478.2 1311.6,1476.2 1318.8,1474.5C1326.0,1472.8 1330.1,1471.1 1333.1,1469.3C1336.1,1467.5 1337.5,1465.5 1336.6,1463.6C1335.6,1461.7 1330.9,1460.3 1327.4,1457.9C1324.0,1455.5 1318.3,1451.9 1315.9,1449.3C1313.5,1446.7 1312.5,1444.5 1313.0,1442.1C1313.5,1439.7 1315.5,1437.3 1318.8,1434.9C1322.1,1432.5 1326.9,1430.1 1333.1,1427.7C1339.3,1425.3 1349.3,1422.5 1356.1,1420.6C1362.9,1418.7 1371.0,1416.9 1374.0,1416.2"/>
<path class="c" d="M1374.0,1427.7C1372.0,1428.4 1364.5,1430.1 1361.8,1432.0C1359.0,1433.9 1357.5,1436.8 1357.5,1439.2C1357.5,1441.6 1359.0,1444.5 1361.8,1446.4C1364.5,1448.3 1372.0,1450.0 1374.0,1450.7"/>
<path class="c" d="M1374.0,1506.0C1369.3,1506.6 1355.2,1508.3 1346.0,1509.5C1336.8,1510.7 1330.5,1512.0 1318.8,1513.0C1307.1,1514.0 1292.5,1515.0 1275.7,1515.8C1259.0,1516.6 1237.4,1517.8 1218.3,1518.1C1199.2,1518.4 1180.0,1518.1 1160.9,1517.6C1141.8,1517.1 1120.2,1516.2 1103.5,1515.3C1086.8,1514.4 1075.8,1513.6 1060.5,1512.4C1045.2,1511.2 1028.5,1509.0 1011.7,1508.1C995.0,1507.1 976.4,1507.2 960.0,1506.7C943.6,1506.2 930.5,1505.3 913.1,1505.2C895.7,1505.1 874.8,1505.5 855.7,1506.1C836.6,1506.7 815.0,1507.8 798.3,1509.0C781.6,1510.2 769.6,1511.2 755.3,1513.0C740.9,1514.8 725.1,1517.1 712.2,1519.6C699.3,1522.1 687.4,1525.3 677.8,1528.2C668.2,1531.1 660.8,1533.9 654.8,1536.8C648.8,1539.7 644.5,1542.9 641.9,1545.4C639.3,1547.9 638.9,1550.0 639.0,1552.0C639.1,1554.0 640.7,1555.8 642.5,1557.5C644.3,1559.2 642.1,1559.4 650.0,1562.5C657.9,1565.6 677.5,1572.7 690.0,1576.0C702.5,1579.3 715.2,1580.8 725.0,1582.5C734.8,1584.2 736.8,1584.3 749.0,1586.0C761.2,1587.7 781.5,1590.6 798.0,1592.5C814.5,1594.4 831.3,1595.8 848.0,1597.5C864.7,1599.2 883.0,1600.8 898.0,1602.5C913.0,1604.2 926.3,1605.4 938.0,1607.5C949.7,1609.6 960.9,1611.2 968.0,1615.0C975.1,1618.8 978.8,1625.0 980.5,1630.0C982.2,1635.0 979.2,1640.0 978.0,1645.0C976.8,1650.0 973.4,1655.4 973.0,1660.0C972.6,1664.6 973.0,1668.3 975.5,1672.5C978.0,1676.7 981.8,1681.2 988.0,1685.0C994.2,1688.8 1003.0,1692.1 1013.0,1695.0C1023.0,1697.9 1033.8,1700.0 1048.0,1702.5C1062.2,1705.0 1077.2,1707.2 1098.0,1710.0C1118.8,1712.8 1148.0,1716.1 1173.0,1719.0C1198.0,1721.9 1223.0,1724.8 1248.0,1727.5C1273.0,1730.2 1304.7,1733.1 1323.0,1735.0C1341.3,1736.9 1352.2,1738.3 1358.0,1739.0"/>
<path class="c" d="M1201.0,1312.3C1204.8,1312.5 1215.3,1313.6 1224.0,1313.6C1232.7,1313.5 1248.2,1312.3 1253.0,1312.0"/>
<clipPath id="cpc"><rect x="134.0" y="1310.8" width="1240.4" height="491.2"/></clipPath>
<g class="cl" clip-path="url(#cpc)">
<text transform="translate(226.5,1320.5) rotate(-30)" y="6.8">50</text>
<text transform="translate(1361.0,1383.5) rotate(15)" y="6.8">100</text>
<text transform="translate(549.5,1451.5) rotate(-5)" y="6.8">100</text>
<text transform="translate(186.0,1434.5) rotate(9)" y="6.8">150</text>
<text transform="translate(415.0,1361.5) rotate(25)" y="6.8">150</text>
<text transform="translate(1133.5,1386.0) rotate(2)" y="6.8">200</text>
<text transform="translate(779.5,1366.0) rotate(2)" y="6.8">250</text>
<text transform="translate(1253.0,1359.5) rotate(2)" y="6.8">50</text>
<text transform="translate(934.5,1450.0) rotate(1)" y="6.8">50</text>
<text transform="translate(1368.5,1741.0) rotate(8)" y="6.8">0</text>
</g>
<g class="d"><circle cx="166.0" cy="1320.6" r="5.05"/><circle cx="166.0" cy="1330.4" r="5.05"/><circle cx="166.0" cy="1350.1" r="5.05"/><circle cx="166.0" cy="1369.7" r="5.05"/><circle cx="166.0" cy="1389.4" r="5.05"/><circle cx="166.0" cy="1409.0" r="5.05"/><circle cx="166.0" cy="1418.9" r="5.05"/><circle cx="166.0" cy="1426.7" r="5.05"/><circle cx="166.0" cy="1433.6" r="5.05"/><circle cx="166.0" cy="1443.4" r="5.05"/><circle cx="166.0" cy="1458.2" r="5.05"/><circle cx="166.0" cy="1482.7" r="5.05"/><circle cx="166.0" cy="1507.3" r="5.05"/><circle cx="276.7" cy="1320.6" r="5.05"/><circle cx="276.7" cy="1330.4" r="5.05"/><circle cx="276.7" cy="1350.1" r="5.05"/><circle cx="276.7" cy="1359.9" r="5.05"/><circle cx="276.7" cy="1369.7" r="5.05"/><circle cx="276.7" cy="1379.6" r="5.05"/><circle cx="276.7" cy="1389.4" r="5.05"/><circle cx="276.7" cy="1409.0" r="5.05"/><circle cx="276.7" cy="1433.6" r="5.05"/><circle cx="276.7" cy="1458.2" r="5.05"/><circle cx="378.1" cy="1320.6" r="5.05"/><circle cx="378.1" cy="1330.4" r="5.05"/><circle cx="378.1" cy="1350.1" r="5.05"/><circle cx="378.1" cy="1369.7" r="5.05"/><circle cx="378.1" cy="1379.6" r="5.05"/><circle cx="378.1" cy="1389.4" r="5.05"/><circle cx="378.1" cy="1409.0" r="5.05"/><circle cx="378.1" cy="1433.6" r="5.05"/><circle cx="378.1" cy="1458.2" r="5.05"/><circle cx="378.1" cy="1507.3" r="5.05"/><circle cx="498.0" cy="1320.6" r="5.05"/><circle cx="498.0" cy="1350.1" r="5.05"/><circle cx="498.0" cy="1369.7" r="5.05"/><circle cx="498.0" cy="1379.6" r="5.05"/><circle cx="498.0" cy="1394.3" r="5.05"/><circle cx="498.0" cy="1409.0" r="5.05"/><circle cx="498.0" cy="1458.2" r="5.05"/><circle cx="498.0" cy="1507.3" r="5.05"/><circle cx="590.3" cy="1320.6" r="5.05"/><circle cx="590.3" cy="1330.4" r="5.05"/><circle cx="590.3" cy="1350.1" r="5.05"/><circle cx="590.3" cy="1359.9" r="5.05"/><circle cx="590.3" cy="1369.7" r="5.05"/><circle cx="590.3" cy="1379.6" r="5.05"/><circle cx="590.3" cy="1389.4" r="5.05"/><circle cx="590.3" cy="1409.0" r="5.05"/><circle cx="590.3" cy="1428.7" r="5.05"/><circle cx="590.3" cy="1458.2" r="5.05"/><circle cx="590.3" cy="1507.3" r="5.05"/><circle cx="719.4" cy="1330.4" r="5.05"/><circle cx="719.4" cy="1350.1" r="5.05"/><circle cx="719.4" cy="1369.7" r="5.05"/><circle cx="719.4" cy="1389.4" r="5.05"/><circle cx="719.4" cy="1409.0" r="5.05"/><circle cx="719.4" cy="1428.7" r="5.05"/><circle cx="719.4" cy="1458.2" r="5.05"/><circle cx="719.4" cy="1507.3" r="5.05"/><circle cx="1014.5" cy="1320.6" r="5.05"/><circle cx="1014.5" cy="1350.1" r="5.05"/><circle cx="1014.5" cy="1389.4" r="5.05"/><circle cx="1014.5" cy="1409.0" r="5.05"/><circle cx="1014.5" cy="1433.6" r="5.05"/><circle cx="1014.5" cy="1458.2" r="5.05"/><circle cx="1014.5" cy="1507.3" r="5.05"/><circle cx="1014.5" cy="1605.5" r="5.05"/><circle cx="1014.5" cy="1703.8" r="5.05"/><circle cx="1162.1" cy="1320.6" r="5.05"/><circle cx="1162.1" cy="1330.4" r="5.05"/><circle cx="1162.1" cy="1350.1" r="5.05"/><circle cx="1162.1" cy="1369.7" r="5.05"/><circle cx="1162.1" cy="1394.3" r="5.05"/><circle cx="1162.1" cy="1409.0" r="5.05"/><circle cx="1162.1" cy="1428.7" r="5.05"/><circle cx="1162.1" cy="1458.2" r="5.05"/><circle cx="1346.6" cy="1320.6" r="5.05"/><circle cx="1346.6" cy="1330.4" r="5.05"/><circle cx="1346.6" cy="1350.1" r="5.05"/><circle cx="1346.6" cy="1369.7" r="5.05"/><circle cx="1346.6" cy="1397.3" r="5.05"/><circle cx="1346.6" cy="1428.7" r="5.05"/><circle cx="1346.6" cy="1446.4" r="5.05"/><circle cx="1346.6" cy="1461.1" r="5.05"/><circle cx="1346.6" cy="1509.2" r="5.05"/></g>
<path class="ax" style="stroke-width:1.9" d="M133.1,1310.8H1375.0M134.0,1310.8V1802.0H1375.0"/>
<path class="ax" style="stroke-width:1.4" d="M1374.4,1310.8V1802.0"/>
<text class="tk" x="117.0" y="1317.0" text-anchor="end">0</text>
<text class="tk" x="117.0" y="1415.2" text-anchor="end">100</text>
<text class="tk" x="117.0" y="1513.5" text-anchor="end">200</text>
<text class="tk" x="117.0" y="1611.7" text-anchor="end">300</text>
<text class="tk" x="117.0" y="1710.0" text-anchor="end">400</text>
<text class="tk" x="117.0" y="1808.2" text-anchor="end">500</text>
<text class="tk" x="167.0" y="1838.4" text-anchor="middle">15°S</text>
<text class="tk" x="351.0" y="1838.4" text-anchor="middle">10°S</text>
<text class="tk" x="535.4" y="1838.4" text-anchor="middle">5°S</text>
<text class="tk" x="720.4" y="1838.4" text-anchor="middle">EQ</text>
<text class="tk" x="901.9" y="1838.4" text-anchor="middle">5°N</text>
<text class="tk" x="1085.8" y="1838.4" text-anchor="middle">10°N</text>
<text class="tk" x="1270.3" y="1838.4" text-anchor="middle">15°N</text>
<path class="ax" d="M134.0,1310.8h-10.6M134.0,1409.0h-10.6M134.0,1507.3h-10.6M134.0,1605.5h-10.6M134.0,1703.8h-10.6M134.0,1802.0h-10.6M166.0,1802.0v10.6M350.5,1802.0v10.6M534.9,1802.0v10.6M719.4,1802.0v10.6M903.9,1802.0v10.6M1088.3,1802.0v10.6M1272.8,1802.0v10.6"/>
<text transform="translate(51.5,1550.4) rotate(-90)" text-anchor="middle" font-size="28.1">Depth (m)</text>
<text x="1371.0" y="1287.0" text-anchor="end" font-size="30.5">19’Hex (ng/L)</text>
<text x="21.0" y="1277.5" font-size="19.5">c.</text>
<path d="M1405.0,1310.8L1426.6,1303.8L1448.2,1310.8Z" fill="#281a2c" stroke="#111" stroke-width="1"/>
<path d="M1405.0,1802.0L1426.6,1809.6L1448.2,1802.0Z" fill="#fdfecc" stroke="#666" stroke-width=".6"/>
<rect x="1405.0" y="1310.8" width="43.2" height="491.2" fill="url(#cbg)" stroke="#444" stroke-width=".8"/>
<text class="cbt" x="1454.0" y="1316.6">300</text>
<text class="cbt" x="1454.0" y="1398.5">250</text>
<text class="cbt" x="1454.0" y="1480.3">200</text>
<text class="cbt" x="1454.0" y="1562.2">150</text>
<text class="cbt" x="1454.0" y="1644.1">100</text>
<text class="cbt" x="1454.0" y="1725.9">50</text>
<text class="cbt" x="1454.0" y="1807.8">0</text>
<path class="ax" d="M1404.5,1310.8h9.5M1448.7,1310.8h-9.5M1404.5,1392.7h9.5M1448.7,1392.7h-9.5M1404.5,1474.5h9.5M1448.7,1474.5h-9.5M1404.5,1556.4h9.5M1448.7,1556.4h-9.5M1404.5,1638.3h9.5M1448.7,1638.3h-9.5M1404.5,1720.1h9.5M1448.7,1720.1h-9.5M1404.5,1802.0h9.5M1448.7,1802.0h-9.5"/>
<text transform="translate(1400.4,1799.8) rotate(-90)" font-size="19.6" textLength="208.5" lengthAdjust="spacingAndGlyphs">Ocean Data View / DIVA</text>
</svg>
</body></html>
